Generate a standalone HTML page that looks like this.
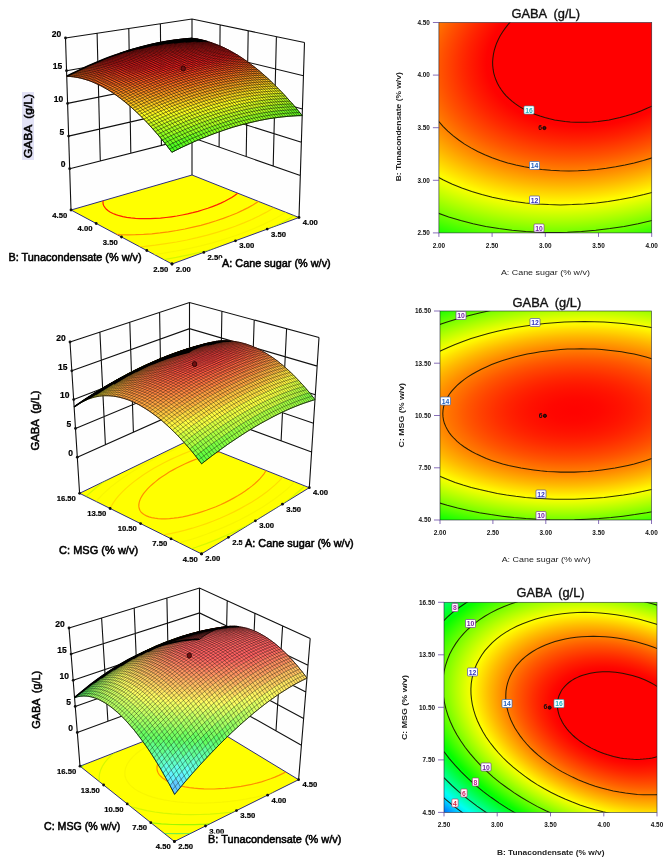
<!DOCTYPE html>
<html><head><meta charset="utf-8"><title>GABA response surfaces</title>
<style>html,body{margin:0;padding:0;background:#fff}svg{display:block}
text{font-family:"Liberation Sans",sans-serif}
.s polygon{fill:currentColor;stroke:currentColor;stroke-width:.6}</style></head>
<body><svg fill="#111" width="668" height="866" viewBox="0 0 668 866">
<defs><radialGradient id="g4" gradientUnits="userSpaceOnUse" cx="0" cy="0" r="2.9611" gradientTransform="matrix(100.2324 0.0000 17.2441 -68.2513 599.314 50.713)"><stop offset="0.0000" stop-color="#ff0000"/><stop offset="0.0208" stop-color="#ff0000"/><stop offset="0.0417" stop-color="#ff0000"/><stop offset="0.0625" stop-color="#ff0000"/><stop offset="0.0833" stop-color="#ff0000"/><stop offset="0.1042" stop-color="#ff0000"/><stop offset="0.1250" stop-color="#ff0000"/><stop offset="0.1458" stop-color="#ff0000"/><stop offset="0.1667" stop-color="#ff0000"/><stop offset="0.1875" stop-color="#ff0000"/><stop offset="0.2083" stop-color="#ff0000"/><stop offset="0.2292" stop-color="#ff0000"/><stop offset="0.2500" stop-color="#ff0000"/><stop offset="0.2708" stop-color="#ff0000"/><stop offset="0.2917" stop-color="#ff0000"/><stop offset="0.3125" stop-color="#ff0000"/><stop offset="0.3333" stop-color="#ff0000"/><stop offset="0.3542" stop-color="#ff0000"/><stop offset="0.3750" stop-color="#ff0200"/><stop offset="0.3958" stop-color="#ff0c00"/><stop offset="0.4167" stop-color="#ff1600"/><stop offset="0.4375" stop-color="#ff2000"/><stop offset="0.4583" stop-color="#ff2b00"/><stop offset="0.4792" stop-color="#ff3700"/><stop offset="0.5000" stop-color="#ff4300"/><stop offset="0.5208" stop-color="#ff4f00"/><stop offset="0.5417" stop-color="#ff5c00"/><stop offset="0.5625" stop-color="#ff6a00"/><stop offset="0.5833" stop-color="#ff7800"/><stop offset="0.6042" stop-color="#ff8600"/><stop offset="0.6250" stop-color="#ff9500"/><stop offset="0.6458" stop-color="#ffa500"/><stop offset="0.6667" stop-color="#ffb500"/><stop offset="0.6875" stop-color="#ffc600"/><stop offset="0.7083" stop-color="#ffd700"/><stop offset="0.7292" stop-color="#ffe800"/><stop offset="0.7500" stop-color="#fffa00"/><stop offset="0.7708" stop-color="#f1ff00"/><stop offset="0.7917" stop-color="#deff00"/><stop offset="0.8125" stop-color="#caff00"/><stop offset="0.8333" stop-color="#b6ff00"/><stop offset="0.8542" stop-color="#a1ff00"/><stop offset="0.8750" stop-color="#8cff00"/><stop offset="0.8958" stop-color="#76ff00"/><stop offset="0.9167" stop-color="#60ff00"/><stop offset="0.9375" stop-color="#49ff00"/><stop offset="0.9583" stop-color="#32ff00"/><stop offset="0.9792" stop-color="#1aff00"/><stop offset="1.0000" stop-color="#02ff00"/></radialGradient>
<clipPath id="c4"><rect x="438.9" y="22.5" width="212.8" height="210.4"/></clipPath>
<radialGradient id="g5" gradientUnits="userSpaceOnUse" cx="0" cy="0" r="2.7886" gradientTransform="matrix(96.3620 0.0000 5.0357 -45.2196 574.393 410.477)"><stop offset="0.0000" stop-color="#ff0300"/><stop offset="0.0208" stop-color="#ff0300"/><stop offset="0.0417" stop-color="#ff0400"/><stop offset="0.0625" stop-color="#ff0500"/><stop offset="0.0833" stop-color="#ff0600"/><stop offset="0.1042" stop-color="#ff0800"/><stop offset="0.1250" stop-color="#ff0b00"/><stop offset="0.1458" stop-color="#ff0e00"/><stop offset="0.1667" stop-color="#ff1100"/><stop offset="0.1875" stop-color="#ff1500"/><stop offset="0.2083" stop-color="#ff1900"/><stop offset="0.2292" stop-color="#ff1e00"/><stop offset="0.2500" stop-color="#ff2300"/><stop offset="0.2708" stop-color="#ff2900"/><stop offset="0.2917" stop-color="#ff2f00"/><stop offset="0.3125" stop-color="#ff3600"/><stop offset="0.3333" stop-color="#ff3d00"/><stop offset="0.3542" stop-color="#ff4400"/><stop offset="0.3750" stop-color="#ff4c00"/><stop offset="0.3958" stop-color="#ff5400"/><stop offset="0.4167" stop-color="#ff5d00"/><stop offset="0.4375" stop-color="#ff6700"/><stop offset="0.4583" stop-color="#ff7000"/><stop offset="0.4792" stop-color="#ff7a00"/><stop offset="0.5000" stop-color="#ff8500"/><stop offset="0.5208" stop-color="#ff9000"/><stop offset="0.5417" stop-color="#ff9c00"/><stop offset="0.5625" stop-color="#ffa800"/><stop offset="0.5833" stop-color="#ffb400"/><stop offset="0.6042" stop-color="#ffc100"/><stop offset="0.6250" stop-color="#ffcf00"/><stop offset="0.6458" stop-color="#ffdc00"/><stop offset="0.6667" stop-color="#ffeb00"/><stop offset="0.6875" stop-color="#fff900"/><stop offset="0.7083" stop-color="#f6ff00"/><stop offset="0.7292" stop-color="#e6ff00"/><stop offset="0.7500" stop-color="#d6ff00"/><stop offset="0.7708" stop-color="#c5ff00"/><stop offset="0.7917" stop-color="#b4ff00"/><stop offset="0.8125" stop-color="#a3ff00"/><stop offset="0.8333" stop-color="#91ff00"/><stop offset="0.8542" stop-color="#7fff00"/><stop offset="0.8750" stop-color="#6cff00"/><stop offset="0.8958" stop-color="#59ff00"/><stop offset="0.9167" stop-color="#45ff00"/><stop offset="0.9375" stop-color="#31ff00"/><stop offset="0.9583" stop-color="#1cff00"/><stop offset="0.9792" stop-color="#07ff00"/><stop offset="1.0000" stop-color="#00ff0f"/></radialGradient>
<clipPath id="c5"><rect x="440.0" y="311.0" width="211.5" height="209.0"/></clipPath>
<radialGradient id="g6" gradientUnits="userSpaceOnUse" cx="0" cy="0" r="3.8922" gradientTransform="matrix(66.0443 0.0000 -16.5039 -46.6761 621.283 715.567)"><stop offset="0.0000" stop-color="#ff0000"/><stop offset="0.0208" stop-color="#ff0000"/><stop offset="0.0417" stop-color="#ff0000"/><stop offset="0.0625" stop-color="#ff0000"/><stop offset="0.0833" stop-color="#ff0000"/><stop offset="0.1042" stop-color="#ff0000"/><stop offset="0.1250" stop-color="#ff0000"/><stop offset="0.1458" stop-color="#ff0000"/><stop offset="0.1667" stop-color="#ff0000"/><stop offset="0.1875" stop-color="#ff0000"/><stop offset="0.2083" stop-color="#ff0000"/><stop offset="0.2292" stop-color="#ff0000"/><stop offset="0.2500" stop-color="#ff0000"/><stop offset="0.2708" stop-color="#ff0900"/><stop offset="0.2917" stop-color="#ff1500"/><stop offset="0.3125" stop-color="#ff2100"/><stop offset="0.3333" stop-color="#ff2f00"/><stop offset="0.3542" stop-color="#ff3e00"/><stop offset="0.3750" stop-color="#ff4d00"/><stop offset="0.3958" stop-color="#ff5d00"/><stop offset="0.4167" stop-color="#ff6f00"/><stop offset="0.4375" stop-color="#ff8100"/><stop offset="0.4583" stop-color="#ff9400"/><stop offset="0.4792" stop-color="#ffa800"/><stop offset="0.5000" stop-color="#ffbc00"/><stop offset="0.5208" stop-color="#ffd200"/><stop offset="0.5417" stop-color="#ffe800"/><stop offset="0.5625" stop-color="#feff00"/><stop offset="0.5833" stop-color="#e6ff00"/><stop offset="0.6042" stop-color="#cdff00"/><stop offset="0.6250" stop-color="#b3ff00"/><stop offset="0.6458" stop-color="#98ff00"/><stop offset="0.6667" stop-color="#7cff00"/><stop offset="0.6875" stop-color="#5fff00"/><stop offset="0.7083" stop-color="#42ff00"/><stop offset="0.7292" stop-color="#23ff00"/><stop offset="0.7500" stop-color="#04ff00"/><stop offset="0.7708" stop-color="#00ff1c"/><stop offset="0.7917" stop-color="#00ff3d"/><stop offset="0.8125" stop-color="#00ff5f"/><stop offset="0.8333" stop-color="#00ff82"/><stop offset="0.8542" stop-color="#00ffa6"/><stop offset="0.8750" stop-color="#00ffcb"/><stop offset="0.8958" stop-color="#00fff0"/><stop offset="0.9167" stop-color="#00e8ff"/><stop offset="0.9375" stop-color="#00c0ff"/><stop offset="0.9583" stop-color="#0098ff"/><stop offset="0.9792" stop-color="#006fff"/><stop offset="1.0000" stop-color="#0045ff"/></radialGradient>
<clipPath id="c6"><rect x="444.0" y="602.3" width="213.0" height="210.1"/></clipPath></defs>
<rect width="668" height="866" fill="#ffffff"/>
<polygon points="71,210 192,175 192,19 65.5,38" fill="#fefefe"/>
<polygon points="299,217.5 192,175 192,19 304.5,42.5" fill="#fefefe"/>
<path d="M69.7,168.7 L192,137.6 L300.3,175.5 M68.6,136.1 L192,107.9 L301.4,142.3 M67.6,103.4 L192,78.3 L302.4,109 M66.5,70.7 L192,48.6 L303.5,75.8 M65.5,38 L192,19 L304.5,42.5 M65.5,38 L71,210 M304.5,42.5 L299,217.5 M97.1,33.2 L100.3,161 M276.4,36.6 L273.2,166 M128.8,28.5 L130.8,153.2 M248.2,30.8 L246.2,156.6 M160.4,23.8 L161.4,145.4 M220.1,24.9 L219.1,147.1 M192,19 L192,175" fill="none" stroke="#101010" stroke-width="1.1"/>
<clipPath id="f1"><polygon points="172,264 299,217.5 192,175 71,210"/></clipPath>
<polygon points="172,264 299,217.5 192,175 71,210" fill="#ffff00" stroke="#15157a" stroke-width="0.9"/>
<g clip-path="url(#f1)" fill="none" stroke-width="1.2">
<polyline points="216,163.3 212.2,163 208.2,162.9 204.1,162.8 199.8,162.8 195.5,163 191.1,163.3 186.6,163.6 182,164.1 177.4,164.7 172.8,165.5 168.2,166.3 163.6,167.2 159,168.2 154.5,169.4 150,170.6 145.7,171.9 141.4,173.3 137.3,174.8 133.3,176.3 129.4,178 125.8,179.7 122.4,181.4 119.1,183.3 116.2,185.1 113.4,187 111,188.9 108.9,190.9 107,192.9 105.5,194.8 104.3,196.8 103.5,198.7 103,200.6 103,202.5 103.2,204.3 103.9,206 105,207.7 106.4,209.3 108.2,210.8 110.4,212.2 113,213.5 115.9,214.6 119.2,215.7 122.8,216.6 126.7,217.3 130.9,217.9 135.4,218.3 140,218.6 144.9,218.7 150,218.6 155.2,218.4 160.5,218.1 165.9,217.5 171.4,216.8 176.8,216 182.2,215 187.6,213.9 192.8,212.7 198,211.3 203,209.8 207.8,208.3 212.4,206.6 216.8,204.9 220.9,203.1 224.8,201.2 228.4,199.3 231.7,197.4 234.7,195.4 237.3,193.5 239.6,191.5 241.6,189.5 243.3,187.6 244.6,185.7 245.5,183.8 246.2,182 246.5,180.2 246.4,178.4 246.1,176.8 245.4,175.2 244.4,173.7" stroke="#ff2000"/>
<polyline points="84.4,186.4 80.6,189.3 77.1,192.1 74.1,195 71.6,197.9 69.6,200.8 68,203.7 67,206.6 66.6,209.4 66.7,212.2 67.4,214.9 68.7,217.5 70.6,220 73.1,222.3 76.2,224.5 79.9,226.5 84.2,228.3 89,230 94.4,231.4 100.2,232.5 106.5,233.5 113.3,234.2 120.4,234.6 127.9,234.8 135.6,234.7 143.6,234.4 151.8,233.8 160,232.9 168.3,231.8 176.6,230.5 184.9,229 193,227.2 200.9,225.3 208.7,223.1 216.2,220.8 223.3,218.4 230.2,215.8 236.6,213.2 242.6,210.4 248.2,207.6 253.3,204.7 258,201.8 262.1,198.9 265.8,195.9 269,193 271.6,190.1 273.7,187.3" stroke="#ff9000"/>
<polyline points="49.8,196.6 46.4,200.2 43.6,203.9 41.4,207.5 39.8,211.1 39,214.7 38.8,218.2 39.4,221.7 40.8,225 42.9,228.2 45.9,231.2 49.6,234.1 54,236.7 59.3,239.1 65.2,241.2 71.9,243 79.3,244.6 87.3,245.8 95.8,246.8 104.9,247.4 114.4,247.6 124.2,247.5 134.4,247 144.8,246.3 155.3,245.2 165.9,243.7 176.5,242 186.9,240 197.2,237.7 207.3,235.1 217,232.3 226.4,229.4 235.3,226.2 243.8,222.9 251.8,219.5 259.1,216 266,212.4 272.2,208.8 277.7,205.1 282.7,201.4 287,197.8 290.7,194.1" stroke="#ffc000" stroke-opacity="0.55"/>
<polyline points="27.4,202 23.9,206.2 21.1,210.4 19.1,214.6" stroke="#f2ee00" stroke-opacity="0.55"/>
<polyline points="92.5,257.4 103.6,257.7 115.2,257.6 127.1,257.1 139.3,256.1 151.6,254.8 164,253.1 176.4,251 188.6,248.6 200.6,245.9 212.3,242.8 223.5,239.5 234.4,236 244.7,232.3 254.4,228.4 263.4,224.4 271.8,220.3 279.5,216.1 286.5,211.9 292.7,207.6 298.2,203.3 302.9,199.1" stroke="#f2ee00" stroke-opacity="0.55"/>
<polyline points="108.7,264.8 121.9,264.3 135.4,263.2 149,261.7 162.7,259.8 176.3,257.4 189.8,254.7 202.9,251.7 215.8,248.3 228.1,244.6 240,240.7 251.2,236.6 261.8,232.3 271.6,227.8 280.7,223.3 289,218.7 296.5,214 303.1,209.3 308.9,204.7 313.9,200.1" stroke="#b4f000" stroke-opacity="0.55"/>
</g>
<g class="s">
<polygon color="#ff1f1f" points="191.4,39.2 195.9,38.9 192,38.4 187.5,38.8"/>
<polygon color="#ff1f1f" points="186.8,39.7 191.4,39.2 187.5,38.8 182.9,39.2"/>
<polygon color="#ff1f1f" points="195.3,39.9 199.9,39.6 195.9,38.9 191.4,39.2"/>
<polygon color="#ff1f1f" points="182.2,40.2 186.8,39.7 182.9,39.2 178.3,39.7"/>
<polygon color="#ff1f1f" points="190.7,40.3 195.3,39.9 191.4,39.2 186.8,39.7"/>
<polygon color="#ff1f1f" points="199.3,40.8 203.9,40.5 199.9,39.6 195.3,39.9"/>
<polygon color="#ff1f1f" points="177.5,40.8 182.2,40.2 178.3,39.7 173.6,40.3"/>
<polygon color="#ff1f1f" points="186.1,40.8 190.7,40.3 186.8,39.7 182.2,40.2"/>
<polygon color="#ff1f1f" points="194.7,41.2 199.3,40.8 195.3,39.9 190.7,40.3"/>
<polygon color="#ff1f1f" points="203.4,41.9 207.9,41.6 203.9,40.5 199.3,40.8"/>
<polygon color="#ff1f1f" points="172.8,41.5 177.5,40.8 173.6,40.3 168.9,41"/>
<polygon color="#ff1f1f" points="181.4,41.4 186.1,40.8 182.2,40.2 177.5,40.8"/>
<polygon color="#ff1f1f" points="190.1,41.7 194.7,41.2 190.7,40.3 186.1,40.8"/>
<polygon color="#ff1f1f" points="198.8,42.3 203.4,41.9 199.3,40.8 194.7,41.2"/>
<polygon color="#ff1f1f" points="207.4,43.2 212,42.9 207.9,41.6 203.4,41.9"/>
<polygon color="#ff1f1f" points="168.1,42.2 172.8,41.5 168.9,41 164.2,41.8"/>
<polygon color="#ff1f1f" points="176.7,42.1 181.4,41.4 177.5,40.8 172.8,41.5"/>
<polygon color="#ff1f1f" points="185.4,42.2 190.1,41.7 186.1,40.8 181.4,41.4"/>
<polygon color="#ff1f1f" points="194.1,42.7 198.8,42.3 194.7,41.2 190.1,41.7"/>
<polygon color="#ff1f1f" points="202.8,43.5 207.4,43.2 203.4,41.9 198.8,42.3"/>
<polygon color="#ff1f1f" points="211.6,44.7 216.1,44.4 212,42.9 207.4,43.2"/>
<polygon color="#ff1f1f" points="163.3,43.1 168.1,42.2 164.2,41.8 159.4,42.7"/>
<polygon color="#ff1f1f" points="172,42.8 176.7,42.1 172.8,41.5 168.1,42.2"/>
<polygon color="#ff1f1f" points="180.7,42.9 185.4,42.2 181.4,41.4 176.7,42.1"/>
<polygon color="#ff1f1f" points="189.4,43.3 194.1,42.7 190.1,41.7 185.4,42.2"/>
<polygon color="#ff1f1f" points="198.2,44 202.8,43.5 198.8,42.3 194.1,42.7"/>
<polygon color="#ff1f1f" points="206.9,45 211.6,44.7 207.4,43.2 202.8,43.5"/>
<polygon color="#ff1f1f" points="215.7,46.3 220.3,46.1 216.1,44.4 211.6,44.7"/>
<polygon color="#ff1f1f" points="158.5,44.1 163.3,43.1 159.4,42.7 154.6,43.7"/>
<polygon color="#ff1f1f" points="167.2,43.7 172,42.8 168.1,42.2 163.3,43.1"/>
<polygon color="#ff1f1f" points="175.9,43.7 180.7,42.9 176.7,42.1 172,42.8"/>
<polygon color="#ff1f1f" points="184.7,43.9 189.4,43.3 185.4,42.2 180.7,42.9"/>
<polygon color="#ff1f1f" points="193.5,44.5 198.2,44 194.1,42.7 189.4,43.3"/>
<polygon color="#ff1f1f" points="202.3,45.4 206.9,45 202.8,43.5 198.2,44"/>
<polygon color="#ff1f1f" points="211.1,46.7 215.7,46.3 211.6,44.7 206.9,45"/>
<polygon color="#ff1f1f" points="219.9,48.2 224.5,48 220.3,46.1 215.7,46.3"/>
<polygon color="#ff1f1f" points="153.6,45.2 158.5,44.1 154.6,43.7 149.8,44.8"/>
<polygon color="#ff1f1f" points="162.4,44.7 167.2,43.7 163.3,43.1 158.5,44.1"/>
<polygon color="#ff1f1f" points="171.1,44.5 175.9,43.7 172,42.8 167.2,43.7"/>
<polygon color="#ff1f1f" points="179.9,44.7 184.7,43.9 180.7,42.9 175.9,43.7"/>
<polygon color="#ff1f1f" points="188.7,45.1 193.5,44.5 189.4,43.3 184.7,43.9"/>
<polygon color="#ff1f1f" points="197.6,46 202.3,45.4 198.2,44 193.5,44.5"/>
<polygon color="#ff1f1f" points="206.4,47.1 211.1,46.7 206.9,45 202.3,45.4"/>
<polygon color="#ff1f1f" points="215.3,48.6 219.9,48.2 215.7,46.3 211.1,46.7"/>
<polygon color="#ff1f1f" points="224.2,50.4 228.7,50.1 224.5,48 219.9,48.2"/>
<polygon color="#ff1f1f" points="148.7,46.3 153.6,45.2 149.8,44.8 144.9,46"/>
<polygon color="#ff1f1f" points="157.5,45.7 162.4,44.7 158.5,44.1 153.6,45.2"/>
<polygon color="#ff1f1f" points="166.3,45.4 171.1,44.5 167.2,43.7 162.4,44.7"/>
<polygon color="#ff1f1f" points="175.1,45.5 179.9,44.7 175.9,43.7 171.1,44.5"/>
<polygon color="#ff1f1f" points="184,45.9 188.7,45.1 184.7,43.9 179.9,44.7"/>
<polygon color="#ff1f1f" points="192.8,46.6 197.6,46 193.5,44.5 188.7,45.1"/>
<polygon color="#ff1f1f" points="201.7,47.6 206.4,47.1 202.3,45.4 197.6,46"/>
<polygon color="#ff1f1f" points="210.6,49 215.3,48.6 211.1,46.7 206.4,47.1"/>
<polygon color="#ff1f1f" points="219.5,50.7 224.2,50.4 219.9,48.2 215.3,48.6"/>
<polygon color="#ff1f1f" points="228.4,52.7 233,52.5 228.7,50.1 224.2,50.4"/>
<polygon color="#ff1f1f" points="143.8,47.6 148.7,46.3 144.9,46 140,47.3"/>
<polygon color="#ff1f1f" points="152.6,46.9 157.5,45.7 153.6,45.2 148.7,46.3"/>
<polygon color="#ff1f1f" points="161.4,46.5 166.3,45.4 162.4,44.7 157.5,45.7"/>
<polygon color="#ff1f1f" points="170.3,46.4 175.1,45.5 171.1,44.5 166.3,45.4"/>
<polygon color="#ff1f1f" points="179.2,46.7 184,45.9 179.9,44.7 175.1,45.5"/>
<polygon color="#ff1f1f" points="188.1,47.3 192.8,46.6 188.7,45.1 184,45.9"/>
<polygon color="#ff1f1f" points="197,48.2 201.7,47.6 197.6,46 192.8,46.6"/>
<polygon color="#ff1f1f" points="205.9,49.5 210.6,49 206.4,47.1 201.7,47.6"/>
<polygon color="#ff1f1f" points="214.9,51.1 219.5,50.7 215.3,48.6 210.6,49"/>
<polygon color="#ff1f1f" points="223.8,53 228.4,52.7 224.2,50.4 219.5,50.7"/>
<polygon color="#ff1f1f" points="232.8,55.2 237.4,55 233,52.5 228.4,52.7"/>
<polygon color="#ff1f1f" points="138.8,49 143.8,47.6 140,47.3 135,48.7"/>
<polygon color="#ff1f1f" points="147.6,48.1 152.6,46.9 148.7,46.3 143.8,47.6"/>
<polygon color="#ff1f1f" points="156.5,47.6 161.4,46.5 157.5,45.7 152.6,46.9"/>
<polygon color="#ff1f1f" points="165.4,47.5 170.3,46.4 166.3,45.4 161.4,46.5"/>
<polygon color="#ff1f1f" points="174.3,47.6 179.2,46.7 175.1,45.5 170.3,46.4"/>
<polygon color="#ff1f1f" points="183.2,48.1 188.1,47.3 184,45.9 179.2,46.7"/>
<polygon color="#ff1f1f" points="192.2,48.9 197,48.2 192.8,46.6 188.1,47.3"/>
<polygon color="#ff1f1f" points="201.2,50.1 205.9,49.5 201.7,47.6 197,48.2"/>
<polygon color="#ff1f1f" points="210.1,51.6 214.9,51.1 210.6,49 205.9,49.5"/>
<polygon color="#ff1f1f" points="219.1,53.4 223.8,53 219.5,50.7 214.9,51.1"/>
<polygon color="#ff1f1f" points="228.1,55.5 232.8,55.2 228.4,52.7 223.8,53"/>
<polygon color="#ff2d1f" points="237.1,58 241.7,57.8 237.4,55 232.8,55.2"/>
<polygon color="#ff1f1f" points="133.8,50.5 138.8,49 135,48.7 130,50.1"/>
<polygon color="#ff1f1f" points="142.6,49.5 147.6,48.1 143.8,47.6 138.8,49"/>
<polygon color="#ff1f1f" points="151.5,48.9 156.5,47.6 152.6,46.9 147.6,48.1"/>
<polygon color="#ff1f1f" points="160.5,48.6 165.4,47.5 161.4,46.5 156.5,47.6"/>
<polygon color="#ff1f1f" points="169.4,48.6 174.3,47.6 170.3,46.4 165.4,47.5"/>
<polygon color="#ff1f1f" points="178.4,49 183.2,48.1 179.2,46.7 174.3,47.6"/>
<polygon color="#ff1f1f" points="187.4,49.7 192.2,48.9 188.1,47.3 183.2,48.1"/>
<polygon color="#ff1f1f" points="196.4,50.8 201.2,50.1 197,48.2 192.2,48.9"/>
<polygon color="#ff1f1f" points="205.4,52.1 210.1,51.6 205.9,49.5 201.2,50.1"/>
<polygon color="#ff1f1f" points="214.4,53.9 219.1,53.4 214.9,51.1 210.1,51.6"/>
<polygon color="#ff1f1f" points="223.4,55.9 228.1,55.5 223.8,53 219.1,53.4"/>
<polygon color="#ff271f" points="232.5,58.3 237.1,58 232.8,55.2 228.1,55.5"/>
<polygon color="#ff3e1f" points="241.5,61 246.1,60.8 241.7,57.8 237.1,58"/>
<polygon color="#ff1f1f" points="128.7,52 133.8,50.5 130,50.1 124.9,51.7"/>
<polygon color="#ff1f1f" points="137.6,51 142.6,49.5 138.8,49 133.8,50.5"/>
<polygon color="#ff1f1f" points="146.5,50.2 151.5,48.9 147.6,48.1 142.6,49.5"/>
<polygon color="#ff1f1f" points="155.5,49.8 160.5,48.6 156.5,47.6 151.5,48.9"/>
<polygon color="#ff1f1f" points="164.5,49.8 169.4,48.6 165.4,47.5 160.5,48.6"/>
<polygon color="#ff1f1f" points="173.5,50 178.4,49 174.3,47.6 169.4,48.6"/>
<polygon color="#ff1f1f" points="182.5,50.6 187.4,49.7 183.2,48.1 178.4,49"/>
<polygon color="#ff1f1f" points="191.5,51.6 196.4,50.8 192.2,48.9 187.4,49.7"/>
<polygon color="#ff1f1f" points="200.6,52.8 205.4,52.1 201.2,50.1 196.4,50.8"/>
<polygon color="#ff1f1f" points="209.6,54.4 214.4,53.9 210.1,51.6 205.4,52.1"/>
<polygon color="#ff1f1f" points="218.7,56.4 223.4,55.9 219.1,53.4 214.4,53.9"/>
<polygon color="#ff211f" points="227.8,58.7 232.5,58.3 228.1,55.5 223.4,55.9"/>
<polygon color="#ff381f" points="236.9,61.3 241.5,61 237.1,58 232.5,58.3"/>
<polygon color="#ff511f" points="246,64.2 250.6,64.1 246.1,60.8 241.5,61"/>
<polygon color="#ff1f1f" points="123.6,53.7 128.7,52 124.9,51.7 119.9,53.4"/>
<polygon color="#ff1f1f" points="132.5,52.5 137.6,51 133.8,50.5 128.7,52"/>
<polygon color="#ff1f1f" points="141.5,51.7 146.5,50.2 142.6,49.5 137.6,51"/>
<polygon color="#ff1f1f" points="150.5,51.2 155.5,49.8 151.5,48.9 146.5,50.2"/>
<polygon color="#ff1f1f" points="159.5,51 164.5,49.8 160.5,48.6 155.5,49.8"/>
<polygon color="#ff1f1f" points="168.5,51.1 173.5,50 169.4,48.6 164.5,49.8"/>
<polygon color="#ff1f1f" points="177.6,51.6 182.5,50.6 178.4,49 173.5,50"/>
<polygon color="#ff1f1f" points="186.6,52.4 191.5,51.6 187.4,49.7 182.5,50.6"/>
<polygon color="#ff1f1f" points="195.7,53.6 200.6,52.8 196.4,50.8 191.5,51.6"/>
<polygon color="#ff1f1f" points="204.8,55.1 209.6,54.4 205.4,52.1 200.6,52.8"/>
<polygon color="#ff1f1f" points="213.9,56.9 218.7,56.4 214.4,53.9 209.6,54.4"/>
<polygon color="#ff1f1f" points="223.1,59.1 227.8,58.7 223.4,55.9 218.7,56.4"/>
<polygon color="#ff321f" points="232.2,61.6 236.9,61.3 232.5,58.3 227.8,58.7"/>
<polygon color="#ff4b1f" points="241.3,64.5 246,64.2 241.5,61 236.9,61.3"/>
<polygon color="#ff661f" points="250.5,67.7 255.1,67.5 250.6,64.1 246,64.2"/>
<polygon color="#ff1f1f" points="118.5,55.5 123.6,53.7 119.9,53.4 114.7,55.2"/>
<polygon color="#ff1f1f" points="127.4,54.2 132.5,52.5 128.7,52 123.6,53.7"/>
<polygon color="#ff1f1f" points="136.4,53.2 141.5,51.7 137.6,51 132.5,52.5"/>
<polygon color="#ff1f1f" points="145.4,52.6 150.5,51.2 146.5,50.2 141.5,51.7"/>
<polygon color="#ff1f1f" points="154.5,52.3 159.5,51 155.5,49.8 150.5,51.2"/>
<polygon color="#ff1f1f" points="163.5,52.3 168.5,51.1 164.5,49.8 159.5,51"/>
<polygon color="#ff1f1f" points="172.6,52.7 177.6,51.6 173.5,50 168.5,51.1"/>
<polygon color="#ff1f1f" points="181.7,53.4 186.6,52.4 182.5,50.6 177.6,51.6"/>
<polygon color="#ff1f1f" points="190.8,54.5 195.7,53.6 191.5,51.6 186.6,52.4"/>
<polygon color="#ff1f1f" points="200,55.9 204.8,55.1 200.6,52.8 195.7,53.6"/>
<polygon color="#ff1f1f" points="209.1,57.6 213.9,56.9 209.6,54.4 204.8,55.1"/>
<polygon color="#ff1f1f" points="218.3,59.7 223.1,59.1 218.7,56.4 213.9,56.9"/>
<polygon color="#ff2e1f" points="227.5,62.1 232.2,61.6 227.8,58.7 223.1,59.1"/>
<polygon color="#ff451f" points="236.6,64.8 241.3,64.5 236.9,61.3 232.2,61.6"/>
<polygon color="#ff5f1f" points="245.8,67.9 250.5,67.7 246,64.2 241.3,64.5"/>
<polygon color="#ff7d1f" points="255,71.4 259.6,71.2 255.1,67.5 250.5,67.7"/>
<polygon color="#ff1f1f" points="113.3,57.4 118.5,55.5 114.7,55.2 109.6,57.1"/>
<polygon color="#ff1f1f" points="122.3,56 127.4,54.2 123.6,53.7 118.5,55.5"/>
<polygon color="#ff1f1f" points="131.3,54.9 136.4,53.2 132.5,52.5 127.4,54.2"/>
<polygon color="#ff1f1f" points="140.3,54.1 145.4,52.6 141.5,51.7 136.4,53.2"/>
<polygon color="#ff1f1f" points="149.4,53.7 154.5,52.3 150.5,51.2 145.4,52.6"/>
<polygon color="#ff1f1f" points="158.5,53.7 163.5,52.3 159.5,51 154.5,52.3"/>
<polygon color="#ff1f1f" points="167.6,53.9 172.6,52.7 168.5,51.1 163.5,52.3"/>
<polygon color="#ff1f1f" points="176.7,54.5 181.7,53.4 177.6,51.6 172.6,52.7"/>
<polygon color="#ff1f1f" points="185.9,55.5 190.8,54.5 186.6,52.4 181.7,53.4"/>
<polygon color="#ff1f1f" points="195.1,56.7 200,55.9 195.7,53.6 190.8,54.5"/>
<polygon color="#ff1f1f" points="204.3,58.4 209.1,57.6 204.8,55.1 200,55.9"/>
<polygon color="#ff1f1f" points="213.5,60.3 218.3,59.7 213.9,56.9 209.1,57.6"/>
<polygon color="#ff2a1f" points="222.7,62.6 227.5,62.1 223.1,59.1 218.3,59.7"/>
<polygon color="#ff401f" points="231.9,65.3 236.6,64.8 232.2,61.6 227.5,62.1"/>
<polygon color="#ff591f" points="241.1,68.3 245.8,67.9 241.3,64.5 236.6,64.8"/>
<polygon color="#ff761f" points="250.4,71.6 255,71.4 250.5,67.7 245.8,67.9"/>
<polygon color="#ff951f" points="259.6,75.3 264.2,75.2 259.6,71.2 255,71.4"/>
<polygon color="#ff1f1f" points="108.1,59.4 113.3,57.4 109.6,57.1 104.4,59.1"/>
<polygon color="#ff1f1f" points="117.1,57.8 122.3,56 118.5,55.5 113.3,57.4"/>
<polygon color="#ff1f1f" points="126.1,56.6 131.3,54.9 127.4,54.2 122.3,56"/>
<polygon color="#ff1f1f" points="135.2,55.8 140.3,54.1 136.4,53.2 131.3,54.9"/>
<polygon color="#ff1f1f" points="144.3,55.3 149.4,53.7 145.4,52.6 140.3,54.1"/>
<polygon color="#ff1f1f" points="153.4,55.1 158.5,53.7 154.5,52.3 149.4,53.7"/>
<polygon color="#ff1f1f" points="162.6,55.2 167.6,53.9 163.5,52.3 158.5,53.7"/>
<polygon color="#ff1f1f" points="171.7,55.7 176.7,54.5 172.6,52.7 167.6,53.9"/>
<polygon color="#ff1f1f" points="180.9,56.5 185.9,55.5 181.7,53.4 176.7,54.5"/>
<polygon color="#ff1f1f" points="190.1,57.7 195.1,56.7 190.8,54.5 185.9,55.5"/>
<polygon color="#ff1f1f" points="199.4,59.2 204.3,58.4 200,55.9 195.1,56.7"/>
<polygon color="#ff1f1f" points="208.6,61.1 213.5,60.3 209.1,57.6 204.3,58.4"/>
<polygon color="#ff271f" points="217.9,63.3 222.7,62.6 218.3,59.7 213.5,60.3"/>
<polygon color="#ff3c1f" points="227.1,65.8 231.9,65.3 227.5,62.1 222.7,62.6"/>
<polygon color="#ff541f" points="236.4,68.7 241.1,68.3 236.6,64.8 231.9,65.3"/>
<polygon color="#ff701f" points="245.7,72 250.4,71.6 245.8,67.9 241.1,68.3"/>
<polygon color="#ff8e1f" points="254.9,75.5 259.6,75.3 255,71.4 250.4,71.6"/>
<polygon color="#ffb01f" points="264.2,79.5 268.8,79.3 264.2,75.2 259.6,75.3"/>
<polygon color="#ff281f" points="102.8,61.5 108.1,59.4 104.4,59.1 99.1,61.3"/>
<polygon color="#ff1f1f" points="111.8,59.8 117.1,57.8 113.3,57.4 108.1,59.4"/>
<polygon color="#ff1f1f" points="120.9,58.5 126.1,56.6 122.3,56 117.1,57.8"/>
<polygon color="#ff1f1f" points="130,57.5 135.2,55.8 131.3,54.9 126.1,56.6"/>
<polygon color="#ff1f1f" points="139.1,56.9 144.3,55.3 140.3,54.1 135.2,55.8"/>
<polygon color="#ff1f1f" points="148.3,56.6 153.4,55.1 149.4,53.7 144.3,55.3"/>
<polygon color="#ff1f1f" points="157.5,56.6 162.6,55.2 158.5,53.7 153.4,55.1"/>
<polygon color="#ff1f1f" points="166.7,57 171.7,55.7 167.6,53.9 162.6,55.2"/>
<polygon color="#ff1f1f" points="175.9,57.7 180.9,56.5 176.7,54.5 171.7,55.7"/>
<polygon color="#ff1f1f" points="185.2,58.8 190.1,57.7 185.9,55.5 180.9,56.5"/>
<polygon color="#ff1f1f" points="194.4,60.2 199.4,59.2 195.1,56.7 190.1,57.7"/>
<polygon color="#ff1f1f" points="203.7,61.9 208.6,61.1 204.3,58.4 199.4,59.2"/>
<polygon color="#ff251f" points="213,64 217.9,63.3 213.5,60.3 208.6,61.1"/>
<polygon color="#ff391f" points="222.3,66.5 227.1,65.8 222.7,62.6 217.9,63.3"/>
<polygon color="#ff501f" points="231.6,69.3 236.4,68.7 231.9,65.3 227.1,65.8"/>
<polygon color="#ff6a1f" points="240.9,72.4 245.7,72 241.1,68.3 236.4,68.7"/>
<polygon color="#ff881f" points="250.2,75.9 254.9,75.5 250.4,71.6 245.7,72"/>
<polygon color="#ffa81f" points="259.5,79.7 264.2,79.5 259.6,75.3 254.9,75.5"/>
<polygon color="#ffcc1f" points="268.8,83.9 273.4,83.7 268.8,79.3 264.2,79.5"/>
<polygon color="#ff341f" points="97.5,63.7 102.8,61.5 99.1,61.3 93.8,63.5"/>
<polygon color="#ff211f" points="106.5,61.9 111.8,59.8 108.1,59.4 102.8,61.5"/>
<polygon color="#ff1f1f" points="115.6,60.5 120.9,58.5 117.1,57.8 111.8,59.8"/>
<polygon color="#ff1f1f" points="124.8,59.4 130,57.5 126.1,56.6 120.9,58.5"/>
<polygon color="#ff1f1f" points="133.9,58.6 139.1,56.9 135.2,55.8 130,57.5"/>
<polygon color="#ff1f1f" points="143.1,58.2 148.3,56.6 144.3,55.3 139.1,56.9"/>
<polygon color="#ff1f1f" points="152.3,58.1 157.5,56.6 153.4,55.1 148.3,56.6"/>
<polygon color="#ff1f1f" points="161.6,58.4 166.7,57 162.6,55.2 157.5,56.6"/>
<polygon color="#ff1f1f" points="170.9,59 175.9,57.7 171.7,55.7 166.7,57"/>
<polygon color="#ff1f1f" points="180.1,60 185.2,58.8 180.9,56.5 175.9,57.7"/>
<polygon color="#ff1f1f" points="189.4,61.3 194.4,60.2 190.1,57.7 185.2,58.8"/>
<polygon color="#ff1f1f" points="198.8,62.9 203.7,61.9 199.4,59.2 194.4,60.2"/>
<polygon color="#ff241f" points="208.1,64.9 213,64 208.6,61.1 203.7,61.9"/>
<polygon color="#ff371f" points="217.4,67.2 222.3,66.5 217.9,63.3 213,64"/>
<polygon color="#ff4d1f" points="226.8,69.9 231.6,69.3 227.1,65.8 222.3,66.5"/>
<polygon color="#ff661f" points="236.1,72.9 240.9,72.4 236.4,68.7 231.6,69.3"/>
<polygon color="#ff821f" points="245.5,76.3 250.2,75.9 245.7,72 240.9,72.4"/>
<polygon color="#ffa21f" points="254.8,80 259.5,79.7 254.9,75.5 250.2,75.9"/>
<polygon color="#ffc41f" points="264.2,84.1 268.8,83.9 264.2,79.5 259.5,79.7"/>
<polygon color="#ffea1f" points="273.5,88.5 278.1,88.4 273.4,83.7 268.8,83.9"/>
<polygon color="#ff401f" points="92.1,66 97.5,63.7 93.8,63.5 88.5,65.8"/>
<polygon color="#ff2c1f" points="101.2,64.1 106.5,61.9 102.8,61.5 97.5,63.7"/>
<polygon color="#ff1f1f" points="110.3,62.6 115.6,60.5 111.8,59.8 106.5,61.9"/>
<polygon color="#ff1f1f" points="119.5,61.4 124.8,59.4 120.9,58.5 115.6,60.5"/>
<polygon color="#ff1f1f" points="128.7,60.5 133.9,58.6 130,57.5 124.8,59.4"/>
<polygon color="#ff1f1f" points="137.9,60 143.1,58.2 139.1,56.9 133.9,58.6"/>
<polygon color="#ff1f1f" points="147.2,59.8 152.3,58.1 148.3,56.6 143.1,58.2"/>
<polygon color="#ff1f1f" points="156.4,59.9 161.6,58.4 157.5,56.6 152.3,58.1"/>
<polygon color="#ff1f1f" points="165.7,60.4 170.9,59 166.7,57 161.6,58.4"/>
<polygon color="#ff1f1f" points="175.1,61.2 180.1,60 175.9,57.7 170.9,59"/>
<polygon color="#ff1f1f" points="184.4,62.4 189.4,61.3 185.2,58.8 180.1,60"/>
<polygon color="#ff1f1f" points="193.8,64 198.8,62.9 194.4,60.2 189.4,61.3"/>
<polygon color="#ff231f" points="203.1,65.8 208.1,64.9 203.7,61.9 198.8,62.9"/>
<polygon color="#ff351f" points="212.5,68.1 217.4,67.2 213,64 208.1,64.9"/>
<polygon color="#ff4a1f" points="221.9,70.6 226.8,69.9 222.3,66.5 217.4,67.2"/>
<polygon color="#ff621f" points="231.3,73.6 236.1,72.9 231.6,69.3 226.8,69.9"/>
<polygon color="#ff7e1f" points="240.7,76.9 245.5,76.3 240.9,72.4 236.1,72.9"/>
<polygon color="#ff9c1f" points="250.1,80.5 254.8,80 250.2,75.9 245.5,76.3"/>
<polygon color="#ffbe1f" points="259.5,84.5 264.2,84.1 259.5,79.7 254.8,80"/>
<polygon color="#ffe21f" points="268.9,88.8 273.5,88.5 268.8,83.9 264.2,84.1"/>
<polygon color="#f4ff1f" points="278.3,93.5 282.9,93.3 278.1,88.4 273.5,88.5"/>
<polygon color="#ff4d1f" points="86.8,68.5 92.1,66 88.5,65.8 83.1,68.3"/>
<polygon color="#ff391f" points="95.9,66.5 101.2,64.1 97.5,63.7 92.1,66"/>
<polygon color="#ff271f" points="105,64.8 110.3,62.6 106.5,61.9 101.2,64.1"/>
<polygon color="#ff1f1f" points="114.2,63.4 119.5,61.4 115.6,60.5 110.3,62.6"/>
<polygon color="#ff1f1f" points="123.4,62.4 128.7,60.5 124.8,59.4 119.5,61.4"/>
<polygon color="#ff1f1f" points="132.7,61.8 137.9,60 133.9,58.6 128.7,60.5"/>
<polygon color="#ff1f1f" points="141.9,61.5 147.2,59.8 143.1,58.2 137.9,60"/>
<polygon color="#ff1f1f" points="151.3,61.5 156.4,59.9 152.3,58.1 147.2,59.8"/>
<polygon color="#ff1f1f" points="160.6,61.9 165.7,60.4 161.6,58.4 156.4,59.9"/>
<polygon color="#ff1f1f" points="169.9,62.6 175.1,61.2 170.9,59 165.7,60.4"/>
<polygon color="#ff1f1f" points="179.3,63.7 184.4,62.4 180.1,60 175.1,61.2"/>
<polygon color="#ff1f1f" points="188.7,65.1 193.8,64 189.4,61.3 184.4,62.4"/>
<polygon color="#ff241f" points="198.1,66.9 203.1,65.8 198.8,62.9 193.8,64"/>
<polygon color="#ff351f" points="207.5,69 212.5,68.1 208.1,64.9 203.1,65.8"/>
<polygon color="#ff491f" points="217,71.5 221.9,70.6 217.4,67.2 212.5,68.1"/>
<polygon color="#ff601f" points="226.4,74.3 231.3,73.6 226.8,69.9 221.9,70.6"/>
<polygon color="#ff7a1f" points="235.9,77.5 240.7,76.9 236.1,72.9 231.3,73.6"/>
<polygon color="#ff971f" points="245.3,81 250.1,80.5 245.5,76.3 240.7,76.9"/>
<polygon color="#ffb81f" points="254.7,84.9 259.5,84.5 254.8,80 250.1,80.5"/>
<polygon color="#ffdb1f" points="264.2,89.1 268.9,88.8 264.2,84.1 259.5,84.5"/>
<polygon color="#fcff1f" points="273.6,93.7 278.3,93.5 273.5,88.5 268.9,88.8"/>
<polygon color="#d2ff1f" points="283,98.6 287.6,98.5 282.9,93.3 278.3,93.5"/>
<polygon color="#ff5b1f" points="81.3,71 86.8,68.5 83.1,68.3 77.7,70.9"/>
<polygon color="#ff461f" points="90.4,68.9 95.9,66.5 92.1,66 86.8,68.5"/>
<polygon color="#ff331f" points="99.6,67.1 105,64.8 101.2,64.1 95.9,66.5"/>
<polygon color="#ff241f" points="108.8,65.6 114.2,63.4 110.3,62.6 105,64.8"/>
<polygon color="#ff1f1f" points="118.1,64.5 123.4,62.4 119.5,61.4 114.2,63.4"/>
<polygon color="#ff1f1f" points="127.4,63.8 132.7,61.8 128.7,60.5 123.4,62.4"/>
<polygon color="#ff1f1f" points="136.7,63.3 141.9,61.5 137.9,60 132.7,61.8"/>
<polygon color="#ff1f1f" points="146,63.2 151.3,61.5 147.2,59.8 141.9,61.5"/>
<polygon color="#ff1f1f" points="155.4,63.5 160.6,61.9 156.4,59.9 151.3,61.5"/>
<polygon color="#ff1f1f" points="164.8,64.1 169.9,62.6 165.7,60.4 160.6,61.9"/>
<polygon color="#ff1f1f" points="174.2,65.1 179.3,63.7 175.1,61.2 169.9,62.6"/>
<polygon color="#ff1f1f" points="183.6,66.4 188.7,65.1 184.4,62.4 179.3,63.7"/>
<polygon color="#ff251f" points="193.1,68.1 198.1,66.9 193.8,64 188.7,65.1"/>
<polygon color="#ff351f" points="202.5,70.1 207.5,69 203.1,65.8 198.1,66.9"/>
<polygon color="#ff481f" points="212,72.4 217,71.5 212.5,68.1 207.5,69"/>
<polygon color="#ff5e1f" points="221.5,75.2 226.4,74.3 221.9,70.6 217,71.5"/>
<polygon color="#ff771f" points="231,78.2 235.9,77.5 231.3,73.6 226.4,74.3"/>
<polygon color="#ff931f" points="240.5,81.6 245.3,81 240.7,76.9 235.9,77.5"/>
<polygon color="#ffb31f" points="250,85.4 254.7,84.9 250.1,80.5 245.3,81"/>
<polygon color="#ffd51f" points="259.4,89.5 264.2,89.1 259.5,84.5 254.7,84.9"/>
<polygon color="#fffb1f" points="268.9,94 273.6,93.7 268.9,88.8 264.2,89.1"/>
<polygon color="#daff1f" points="278.4,98.9 283,98.6 278.3,93.5 273.6,93.7"/>
<polygon color="#aeff1f" points="287.9,104.1 292.5,103.9 287.6,98.5 283,98.6"/>
<polygon color="#ff6a1f" points="75.8,73.7 81.3,71 77.7,70.9 72.2,73.5"/>
<polygon color="#ff531f" points="85,71.5 90.4,68.9 86.8,68.5 81.3,71"/>
<polygon color="#ff401f" points="94.2,69.5 99.6,67.1 95.9,66.5 90.4,68.9"/>
<polygon color="#ff2f1f" points="103.4,67.9 108.8,65.6 105,64.8 99.6,67.1"/>
<polygon color="#ff221f" points="112.7,66.7 118.1,64.5 114.2,63.4 108.8,65.6"/>
<polygon color="#ff1f1f" points="122,65.8 127.4,63.8 123.4,62.4 118.1,64.5"/>
<polygon color="#ff1f1f" points="131.4,65.3 136.7,63.3 132.7,61.8 127.4,63.8"/>
<polygon color="#ff1f1f" points="140.7,65.1 146,63.2 141.9,61.5 136.7,63.3"/>
<polygon color="#ff1f1f" points="150.1,65.2 155.4,63.5 151.3,61.5 146,63.2"/>
<polygon color="#ff1f1f" points="159.6,65.7 164.8,64.1 160.6,61.9 155.4,63.5"/>
<polygon color="#ff1f1f" points="169,66.6 174.2,65.1 169.9,62.6 164.8,64.1"/>
<polygon color="#ff1f1f" points="178.5,67.8 183.6,66.4 179.3,63.7 174.2,65.1"/>
<polygon color="#ff271f" points="188,69.3 193.1,68.1 188.7,65.1 183.6,66.4"/>
<polygon color="#ff361f" points="197.5,71.2 202.5,70.1 198.1,66.9 193.1,68.1"/>
<polygon color="#ff481f" points="207,73.5 212,72.4 207.5,69 202.5,70.1"/>
<polygon color="#ff5d1f" points="216.5,76.1 221.5,75.2 217,71.5 212,72.4"/>
<polygon color="#ff751f" points="226,79.1 231,78.2 226.4,74.3 221.5,75.2"/>
<polygon color="#ff901f" points="235.6,82.4 240.5,81.6 235.9,77.5 231,78.2"/>
<polygon color="#ffae1f" points="245.1,86 250,85.4 245.3,81 240.5,81.6"/>
<polygon color="#ffd01f" points="254.6,90.1 259.4,89.5 254.7,84.9 250,85.4"/>
<polygon color="#fff51f" points="264.2,94.5 268.9,94 264.2,89.1 259.4,89.5"/>
<polygon color="#e2ff1f" points="273.7,99.2 278.4,98.9 273.6,93.7 268.9,94"/>
<polygon color="#b7ff1f" points="283.2,104.3 287.9,104.1 283,98.6 278.4,98.9"/>
<polygon color="#89ff1f" points="292.7,109.8 297.3,109.6 292.5,103.9 287.9,104.1"/>
<polygon color="#ff7a1f" points="70.3,76.5 75.8,73.7 72.2,73.5 66.7,76.3"/>
<polygon color="#ff621f" points="79.5,74.1 85,71.5 81.3,71 75.8,73.7"/>
<polygon color="#ff4d1f" points="88.7,72.1 94.2,69.5 90.4,68.9 85,71.5"/>
<polygon color="#ff3c1f" points="98,70.4 103.4,67.9 99.6,67.1 94.2,69.5"/>
<polygon color="#ff2d1f" points="107.3,69 112.7,66.7 108.8,65.6 103.4,67.9"/>
<polygon color="#ff221f" points="116.6,68 122,65.8 118.1,64.5 112.7,66.7"/>
<polygon color="#ff1f1f" points="126,67.3 131.4,65.3 127.4,63.8 122,65.8"/>
<polygon color="#ff1f1f" points="135.4,67 140.7,65.1 136.7,63.3 131.4,65.3"/>
<polygon color="#ff1f1f" points="144.9,67.1 150.1,65.2 146,63.2 140.7,65.1"/>
<polygon color="#ff1f1f" points="154.3,67.4 159.6,65.7 155.4,63.5 150.1,65.2"/>
<polygon color="#ff1f1f" points="163.8,68.2 169,66.6 164.8,64.1 159.6,65.7"/>
<polygon color="#ff201f" points="173.3,69.3 178.5,67.8 174.2,65.1 169,66.6"/>
<polygon color="#ff2a1f" points="182.8,70.7 188,69.3 183.6,66.4 178.5,67.8"/>
<polygon color="#ff381f" points="192.4,72.5 197.5,71.2 193.1,68.1 188,69.3"/>
<polygon color="#ff491f" points="201.9,74.6 207,73.5 202.5,70.1 197.5,71.2"/>
<polygon color="#ff5d1f" points="211.5,77.1 216.5,76.1 212,72.4 207,73.5"/>
<polygon color="#ff741f" points="221.1,80 226,79.1 221.5,75.2 216.5,76.1"/>
<polygon color="#ff8e1f" points="230.6,83.2 235.6,82.4 231,78.2 226,79.1"/>
<polygon color="#ffab1f" points="240.2,86.8 245.1,86 240.5,81.6 235.6,82.4"/>
<polygon color="#ffcc1f" points="249.8,90.7 254.6,90.1 250,85.4 245.1,86"/>
<polygon color="#ffef1f" points="259.4,95 264.2,94.5 259.4,89.5 254.6,90.1"/>
<polygon color="#e8ff1f" points="269,99.6 273.7,99.2 268.9,94 264.2,94.5"/>
<polygon color="#beff1f" points="278.5,104.6 283.2,104.3 278.4,98.9 273.7,99.2"/>
<polygon color="#91ff1f" points="288.1,110 292.7,109.8 287.9,104.1 283.2,104.3"/>
<polygon color="#61ff1f" points="297.6,115.7 302.2,115.6 297.3,109.6 292.7,109.8"/>
<polygon color="#ff721f" points="74,76.9 79.5,74.1 75.8,73.7 70.3,76.5"/>
<polygon color="#ff5c1f" points="83.2,74.7 88.7,72.1 85,71.5 79.5,74.1"/>
<polygon color="#ff491f" points="92.5,72.9 98,70.4 94.2,69.5 88.7,72.1"/>
<polygon color="#ff3a1f" points="101.8,71.4 107.3,69 103.4,67.9 98,70.4"/>
<polygon color="#ff2d1f" points="111.2,70.3 116.6,68 112.7,66.7 107.3,69"/>
<polygon color="#ff241f" points="120.6,69.5 126,67.3 122,65.8 116.6,68"/>
<polygon color="#ff1f1f" points="130.1,69.1 135.4,67 131.4,65.3 126,67.3"/>
<polygon color="#ff1f1f" points="139.5,69 144.9,67.1 140.7,65.1 135.4,67"/>
<polygon color="#ff1f1f" points="149,69.3 154.3,67.4 150.1,65.2 144.9,67.1"/>
<polygon color="#ff1f1f" points="158.5,69.9 163.8,68.2 159.6,65.7 154.3,67.4"/>
<polygon color="#ff251f" points="168.1,70.9 173.3,69.3 169,66.6 163.8,68.2"/>
<polygon color="#ff2e1f" points="177.6,72.2 182.8,70.7 178.5,67.8 173.3,69.3"/>
<polygon color="#ff3b1f" points="187.2,73.9 192.4,72.5 188,69.3 182.8,70.7"/>
<polygon color="#ff4a1f" points="196.8,75.9 201.9,74.6 197.5,71.2 192.4,72.5"/>
<polygon color="#ff5d1f" points="206.4,78.3 211.5,77.1 207,73.5 201.9,74.6"/>
<polygon color="#ff731f" points="216,81 221.1,80 216.5,76.1 211.5,77.1"/>
<polygon color="#ff8c1f" points="225.7,84.2 230.6,83.2 226,79.1 221.1,80"/>
<polygon color="#ffa91f" points="235.3,87.6 240.2,86.8 235.6,82.4 230.6,83.2"/>
<polygon color="#ffc81f" points="244.9,91.4 249.8,90.7 245.1,86 240.2,86.8"/>
<polygon color="#ffea1f" points="254.5,95.6 259.4,95 254.6,90.1 249.8,90.7"/>
<polygon color="#eeff1f" points="264.2,100.2 269,99.6 264.2,94.5 259.4,95"/>
<polygon color="#c5ff1f" points="273.8,105.1 278.5,104.6 273.7,99.2 269,99.6"/>
<polygon color="#99ff1f" points="283.4,110.4 288.1,110 283.2,104.3 278.5,104.6"/>
<polygon color="#6aff1f" points="293,116 297.6,115.7 292.7,109.8 288.1,110"/>
<polygon color="#ff6b1f" points="77.7,77.5 83.2,74.7 79.5,74.1 74,76.9"/>
<polygon color="#ff581f" points="87,75.6 92.5,72.9 88.7,72.1 83.2,74.7"/>
<polygon color="#ff471f" points="96.3,74 101.8,71.4 98,70.4 92.5,72.9"/>
<polygon color="#ff3a1f" points="105.7,72.7 111.2,70.3 107.3,69 101.8,71.4"/>
<polygon color="#ff2f1f" points="115.2,71.8 120.6,69.5 116.6,68 111.2,70.3"/>
<polygon color="#ff281f" points="124.6,71.2 130.1,69.1 126,67.3 120.6,69.5"/>
<polygon color="#ff241f" points="134.1,71 139.5,69 135.4,67 130.1,69.1"/>
<polygon color="#ff231f" points="143.7,71.2 149,69.3 144.9,67.1 139.5,69"/>
<polygon color="#ff251f" points="153.2,71.7 158.5,69.9 154.3,67.4 149,69.3"/>
<polygon color="#ff2a1f" points="162.8,72.6 168.1,70.9 163.8,68.2 158.5,69.9"/>
<polygon color="#ff331f" points="172.4,73.8 177.6,72.2 173.3,69.3 168.1,70.9"/>
<polygon color="#ff3e1f" points="182,75.3 187.2,73.9 182.8,70.7 177.6,72.2"/>
<polygon color="#ff4d1f" points="191.7,77.3 196.8,75.9 192.4,72.5 187.2,73.9"/>
<polygon color="#ff5f1f" points="201.3,79.6 206.4,78.3 201.9,74.6 196.8,75.9"/>
<polygon color="#ff741f" points="211,82.2 216,81 211.5,77.1 206.4,78.3"/>
<polygon color="#ff8c1f" points="220.6,85.2 225.7,84.2 221.1,80 216,81"/>
<polygon color="#ffa71f" points="230.3,88.6 235.3,87.6 230.6,83.2 225.7,84.2"/>
<polygon color="#ffc51f" points="240,92.3 244.9,91.4 240.2,86.8 235.3,87.6"/>
<polygon color="#ffe71f" points="249.7,96.4 254.5,95.6 249.8,90.7 244.9,91.4"/>
<polygon color="#f3ff1f" points="259.3,100.8 264.2,100.2 259.4,95 254.5,95.6"/>
<polygon color="#cbff1f" points="269,105.6 273.8,105.1 269,99.6 264.2,100.2"/>
<polygon color="#a0ff1f" points="278.6,110.8 283.4,110.4 278.5,104.6 273.8,105.1"/>
<polygon color="#72ff1f" points="288.3,116.3 293,116 288.1,110 283.4,110.4"/>
<polygon color="#ff671f" points="81.4,78.3 87,75.6 83.2,74.7 77.7,77.5"/>
<polygon color="#ff551f" points="90.8,76.6 96.3,74 92.5,72.9 87,75.6"/>
<polygon color="#ff471f" points="100.2,75.2 105.7,72.7 101.8,71.4 96.3,74"/>
<polygon color="#ff3b1f" points="109.7,74.2 115.2,71.8 111.2,70.3 105.7,72.7"/>
<polygon color="#ff331f" points="119.2,73.5 124.6,71.2 120.6,69.5 115.2,71.8"/>
<polygon color="#ff2e1f" points="128.7,73.2 134.1,71 130.1,69.1 124.6,71.2"/>
<polygon color="#ff2c1f" points="138.3,73.2 143.7,71.2 139.5,69 134.1,71"/>
<polygon color="#ff2d1f" points="147.9,73.6 153.2,71.7 149,69.3 143.7,71.2"/>
<polygon color="#ff311f" points="157.5,74.4 162.8,72.6 158.5,69.9 153.2,71.7"/>
<polygon color="#ff381f" points="167.1,75.5 172.4,73.8 168.1,70.9 162.8,72.6"/>
<polygon color="#ff431f" points="176.8,76.9 182,75.3 177.6,72.2 172.4,73.8"/>
<polygon color="#ff501f" points="186.5,78.8 191.7,77.3 187.2,73.9 182,75.3"/>
<polygon color="#ff611f" points="196.1,80.9 201.3,79.6 196.8,75.9 191.7,77.3"/>
<polygon color="#ff751f" points="205.8,83.5 211,82.2 206.4,78.3 201.3,79.6"/>
<polygon color="#ff8c1f" points="215.6,86.4 220.6,85.2 216,81 211,82.2"/>
<polygon color="#ffa61f" points="225.3,89.6 230.3,88.6 225.7,84.2 220.6,85.2"/>
<polygon color="#ffc31f" points="235,93.2 240,92.3 235.3,87.6 230.3,88.6"/>
<polygon color="#ffe41f" points="244.7,97.2 249.7,96.4 244.9,91.4 240,92.3"/>
<polygon color="#f7ff1f" points="254.4,101.6 259.3,100.8 254.5,95.6 249.7,96.4"/>
<polygon color="#d0ff1f" points="264.1,106.3 269,105.6 264.2,100.2 259.3,100.8"/>
<polygon color="#a6ff1f" points="273.8,111.3 278.6,110.8 273.8,105.1 269,105.6"/>
<polygon color="#7aff1f" points="283.5,116.8 288.3,116.3 283.4,110.4 278.6,110.8"/>
<polygon color="#ff641f" points="85.2,79.4 90.8,76.6 87,75.6 81.4,78.3"/>
<polygon color="#ff551f" points="94.6,77.9 100.2,75.2 96.3,74 90.8,76.6"/>
<polygon color="#ff481f" points="104.1,76.7 109.7,74.2 105.7,72.7 100.2,75.2"/>
<polygon color="#ff3f1f" points="113.7,75.9 119.2,73.5 115.2,71.8 109.7,74.2"/>
<polygon color="#ff381f" points="123.2,75.5 128.7,73.2 124.6,71.2 119.2,73.5"/>
<polygon color="#ff351f" points="132.8,75.4 138.3,73.2 134.1,71 128.7,73.2"/>
<polygon color="#ff351f" points="142.5,75.7 147.9,73.6 143.7,71.2 138.3,73.2"/>
<polygon color="#ff391f" points="152.1,76.3 157.5,74.4 153.2,71.7 147.9,73.6"/>
<polygon color="#ff3f1f" points="161.8,77.3 167.1,75.5 162.8,72.6 157.5,74.4"/>
<polygon color="#ff481f" points="171.5,78.6 176.8,76.9 172.4,73.8 167.1,75.5"/>
<polygon color="#ff551f" points="181.2,80.3 186.5,78.8 182,75.3 176.8,76.9"/>
<polygon color="#ff641f" points="190.9,82.4 196.1,80.9 191.7,77.3 186.5,78.8"/>
<polygon color="#ff771f" points="200.7,84.8 205.8,83.5 201.3,79.6 196.1,80.9"/>
<polygon color="#ff8d1f" points="210.4,87.6 215.6,86.4 211,82.2 205.8,83.5"/>
<polygon color="#ffa61f" points="220.2,90.8 225.3,89.6 220.6,85.2 215.6,86.4"/>
<polygon color="#ffc21f" points="230,94.3 235,93.2 230.3,88.6 225.3,89.6"/>
<polygon color="#ffe21f" points="239.7,98.2 244.7,97.2 240,92.3 235,93.2"/>
<polygon color="#faff1f" points="249.5,102.4 254.4,101.6 249.7,96.4 244.7,97.2"/>
<polygon color="#d4ff1f" points="259.3,107 264.1,106.3 259.3,100.8 254.4,101.6"/>
<polygon color="#acff1f" points="269,112 273.8,111.3 269,105.6 264.1,106.3"/>
<polygon color="#80ff1f" points="278.8,117.3 283.5,116.8 278.6,110.8 273.8,111.3"/>
<polygon color="#ff631f" points="89,80.6 94.6,77.9 90.8,76.6 85.2,79.4"/>
<polygon color="#ff561f" points="98.6,79.4 104.1,76.7 100.2,75.2 94.6,77.9"/>
<polygon color="#ff4b1f" points="108.1,78.5 113.7,75.9 109.7,74.2 104.1,76.7"/>
<polygon color="#ff441f" points="117.7,77.9 123.2,75.5 119.2,73.5 113.7,75.9"/>
<polygon color="#ff401f" points="127.4,77.7 132.8,75.4 128.7,73.2 123.2,75.5"/>
<polygon color="#ff3f1f" points="137,77.8 142.5,75.7 138.3,73.2 132.8,75.4"/>
<polygon color="#ff411f" points="146.7,78.4 152.1,76.3 147.9,73.6 142.5,75.7"/>
<polygon color="#ff461f" points="156.4,79.2 161.8,77.3 157.5,74.4 152.1,76.3"/>
<polygon color="#ff4e1f" points="166.1,80.5 171.5,78.6 167.1,75.5 161.8,77.3"/>
<polygon color="#ff5a1f" points="175.9,82 181.2,80.3 176.8,76.9 171.5,78.6"/>
<polygon color="#ff691f" points="185.7,84 190.9,82.4 186.5,78.8 181.2,80.3"/>
<polygon color="#ff7a1f" points="195.5,86.3 200.7,84.8 196.1,80.9 190.9,82.4"/>
<polygon color="#ff8f1f" points="205.3,89 210.4,87.6 205.8,83.5 200.7,84.8"/>
<polygon color="#ffa71f" points="215.1,92 220.2,90.8 215.6,86.4 210.4,87.6"/>
<polygon color="#ffc21f" points="224.9,95.4 230,94.3 225.3,89.6 220.2,90.8"/>
<polygon color="#ffe01f" points="234.7,99.2 239.7,98.2 235,93.2 230,94.3"/>
<polygon color="#fcff1f" points="244.5,103.4 249.5,102.4 244.7,97.2 239.7,98.2"/>
<polygon color="#d8ff1f" points="254.3,107.9 259.3,107 254.4,101.6 249.5,102.4"/>
<polygon color="#b0ff1f" points="264.1,112.7 269,112 264.1,106.3 259.3,107"/>
<polygon color="#85ff1f" points="273.9,118 278.8,117.3 273.8,111.3 269,112"/>
<polygon color="#ff641f" points="92.9,82.1 98.6,79.4 94.6,77.9 89,80.6"/>
<polygon color="#ff591f" points="102.5,81.1 108.1,78.5 104.1,76.7 98.6,79.4"/>
<polygon color="#ff501f" points="112.2,80.4 117.7,77.9 113.7,75.9 108.1,78.5"/>
<polygon color="#ff4b1f" points="121.8,80.1 127.4,77.7 123.2,75.5 117.7,77.9"/>
<polygon color="#ff491f" points="131.5,80.1 137,77.8 132.8,75.4 127.4,77.7"/>
<polygon color="#ff4a1f" points="141.2,80.5 146.7,78.4 142.5,75.7 137,77.8"/>
<polygon color="#ff4e1f" points="151,81.3 156.4,79.2 152.1,76.3 146.7,78.4"/>
<polygon color="#ff561f" points="160.8,82.4 166.1,80.5 161.8,77.3 156.4,79.2"/>
<polygon color="#ff601f" points="170.6,83.9 175.9,82 171.5,78.6 166.1,80.5"/>
<polygon color="#ff6e1f" points="180.4,85.7 185.7,84 181.2,80.3 175.9,82"/>
<polygon color="#ff7e1f" points="190.2,87.9 195.5,86.3 190.9,82.4 185.7,84"/>
<polygon color="#ff921f" points="200,90.5 205.3,89 200.7,84.8 195.5,86.3"/>
<polygon color="#ffa91f" points="209.9,93.4 215.1,92 210.4,87.6 205.3,89"/>
<polygon color="#ffc31f" points="219.7,96.7 224.9,95.4 220.2,90.8 215.1,92"/>
<polygon color="#ffe01f" points="229.6,100.4 234.7,99.2 230,94.3 224.9,95.4"/>
<polygon color="#feff1f" points="239.5,104.4 244.5,103.4 239.7,98.2 234.7,99.2"/>
<polygon color="#daff1f" points="249.3,108.8 254.3,107.9 249.5,102.4 244.5,103.4"/>
<polygon color="#b4ff1f" points="259.2,113.6 264.1,112.7 259.3,107 254.3,107.9"/>
<polygon color="#8aff1f" points="269,118.7 273.9,118 269,112 264.1,112.7"/>
<polygon color="#ff671f" points="96.9,83.9 102.5,81.1 98.6,79.4 92.9,82.1"/>
<polygon color="#ff5e1f" points="106.5,83.1 112.2,80.4 108.1,78.5 102.5,81.1"/>
<polygon color="#ff571f" points="116.2,82.6 121.8,80.1 117.7,77.9 112.2,80.4"/>
<polygon color="#ff541f" points="126,82.5 131.5,80.1 127.4,77.7 121.8,80.1"/>
<polygon color="#ff541f" points="135.7,82.8 141.2,80.5 137,77.8 131.5,80.1"/>
<polygon color="#ff571f" points="145.5,83.4 151,81.3 146.7,78.4 141.2,80.5"/>
<polygon color="#ff5e1f" points="155.3,84.4 160.8,82.4 156.4,79.2 151,81.3"/>
<polygon color="#ff671f" points="165.2,85.8 170.6,83.9 166.1,80.5 160.8,82.4"/>
<polygon color="#ff731f" points="175,87.5 180.4,85.7 175.9,82 170.6,83.9"/>
<polygon color="#ff831f" points="184.9,89.6 190.2,87.9 185.7,84 180.4,85.7"/>
<polygon color="#ff961f" points="194.8,92.1 200,90.5 195.5,86.3 190.2,87.9"/>
<polygon color="#ffab1f" points="204.6,94.9 209.9,93.4 205.3,89 200,90.5"/>
<polygon color="#ffc41f" points="214.5,98.1 219.7,96.7 215.1,92 209.9,93.4"/>
<polygon color="#ffe11f" points="224.5,101.7 229.6,100.4 224.9,95.4 219.7,96.7"/>
<polygon color="#feff1f" points="234.4,105.6 239.5,104.4 234.7,99.2 229.6,100.4"/>
<polygon color="#dcff1f" points="244.3,109.9 249.3,108.8 244.5,103.4 239.5,104.4"/>
<polygon color="#b6ff1f" points="254.2,114.6 259.2,113.6 254.3,107.9 249.3,108.8"/>
<polygon color="#8eff1f" points="264.1,119.6 269,118.7 264.1,112.7 259.2,113.6"/>
<polygon color="#ff6c1f" points="100.9,85.8 106.5,83.1 102.5,81.1 96.9,83.9"/>
<polygon color="#ff641f" points="110.6,85.2 116.2,82.6 112.2,80.4 106.5,83.1"/>
<polygon color="#ff601f" points="120.4,85 126,82.5 121.8,80.1 116.2,82.6"/>
<polygon color="#ff5f1f" points="130.2,85.2 135.7,82.8 131.5,80.1 126,82.5"/>
<polygon color="#ff611f" points="140,85.7 145.5,83.4 141.2,80.5 135.7,82.8"/>
<polygon color="#ff661f" points="149.8,86.6 155.3,84.4 151,81.3 145.5,83.4"/>
<polygon color="#ff6f1f" points="159.7,87.8 165.2,85.8 160.8,82.4 155.3,84.4"/>
<polygon color="#ff7a1f" points="169.6,89.5 175,87.5 170.6,83.9 165.2,85.8"/>
<polygon color="#ff881f" points="179.5,91.4 184.9,89.6 180.4,85.7 175,87.5"/>
<polygon color="#ff9a1f" points="189.4,93.8 194.8,92.1 190.2,87.9 184.9,89.6"/>
<polygon color="#ffaf1f" points="199.4,96.5 204.6,94.9 200,90.5 194.8,92.1"/>
<polygon color="#ffc71f" points="209.3,99.6 214.5,98.1 209.9,93.4 204.6,94.9"/>
<polygon color="#ffe21f" points="219.3,103 224.5,101.7 219.7,96.7 214.5,98.1"/>
<polygon color="#feff1f" points="229.2,106.9 234.4,105.6 229.6,100.4 224.5,101.7"/>
<polygon color="#ddff1f" points="239.2,111.1 244.3,109.9 239.5,104.4 234.4,105.6"/>
<polygon color="#b8ff1f" points="249.1,115.6 254.2,114.6 249.3,108.8 244.3,109.9"/>
<polygon color="#91ff1f" points="259.1,120.6 264.1,119.6 259.2,113.6 254.2,114.6"/>
<polygon color="#ff721f" points="104.9,88 110.6,85.2 106.5,83.1 100.9,85.8"/>
<polygon color="#ff6d1f" points="114.7,87.7 120.4,85 116.2,82.6 110.6,85.2"/>
<polygon color="#ff6b1f" points="124.5,87.7 130.2,85.2 126,82.5 120.4,85"/>
<polygon color="#ff6c1f" points="134.4,88.1 140,85.7 135.7,82.8 130.2,85.2"/>
<polygon color="#ff701f" points="144.3,88.9 149.8,86.6 145.5,83.4 140,85.7"/>
<polygon color="#ff771f" points="154.2,90 159.7,87.8 155.3,84.4 149.8,86.6"/>
<polygon color="#ff811f" points="164.1,91.5 169.6,89.5 165.2,85.8 159.7,87.8"/>
<polygon color="#ff8f1f" points="174.1,93.4 179.5,91.4 175,87.5 169.6,89.5"/>
<polygon color="#ffa01f" points="184.1,95.6 189.4,93.8 184.9,89.6 179.5,91.4"/>
<polygon color="#ffb31f" points="194,98.2 199.4,96.5 194.8,92.1 189.4,93.8"/>
<polygon color="#ffca1f" points="204,101.2 209.3,99.6 204.6,94.9 199.4,96.5"/>
<polygon color="#ffe41f" points="214,104.5 219.3,103 214.5,98.1 209.3,99.6"/>
<polygon color="#fdff1f" points="224,108.3 229.2,106.9 224.5,101.7 219.3,103"/>
<polygon color="#ddff1f" points="234,112.4 239.2,111.1 234.4,105.6 229.2,106.9"/>
<polygon color="#b9ff1f" points="244,116.8 249.1,115.6 244.3,109.9 239.2,111.1"/>
<polygon color="#93ff1f" points="254.1,121.7 259.1,120.6 254.2,114.6 249.1,115.6"/>
<polygon color="#ff7b1f" points="109,90.4 114.7,87.7 110.6,85.2 104.9,88"/>
<polygon color="#ff771f" points="118.9,90.4 124.5,87.7 120.4,85 114.7,87.7"/>
<polygon color="#ff771f" points="128.8,90.6 134.4,88.1 130.2,85.2 124.5,87.7"/>
<polygon color="#ff7a1f" points="138.7,91.3 144.3,88.9 140,85.7 134.4,88.1"/>
<polygon color="#ff811f" points="148.6,92.3 154.2,90 149.8,86.6 144.3,88.9"/>
<polygon color="#ff8a1f" points="158.6,93.7 164.1,91.5 159.7,87.8 154.2,90"/>
<polygon color="#ff961f" points="168.6,95.4 174.1,93.4 169.6,89.5 164.1,91.5"/>
<polygon color="#ffa61f" points="178.6,97.6 184.1,95.6 179.5,91.4 174.1,93.4"/>
<polygon color="#ffb81f" points="188.6,100.1 194,98.2 189.4,93.8 184.1,95.6"/>
<polygon color="#ffce1f" points="198.7,102.9 204,101.2 199.4,96.5 194,98.2"/>
<polygon color="#ffe71f" points="208.7,106.2 214,104.5 209.3,99.6 204,101.2"/>
<polygon color="#fbff1f" points="218.8,109.8 224,108.3 219.3,103 214,104.5"/>
<polygon color="#dcff1f" points="228.8,113.8 234,112.4 229.2,106.9 224,108.3"/>
<polygon color="#b9ff1f" points="238.9,118.1 244,116.8 239.2,111.1 234,112.4"/>
<polygon color="#94ff1f" points="249,122.9 254.1,121.7 249.1,115.6 244,116.8"/>
<polygon color="#ff851f" points="113.2,93.1 118.9,90.4 114.7,87.7 109,90.4"/>
<polygon color="#ff841f" points="123.1,93.3 128.8,90.6 124.5,87.7 118.9,90.4"/>
<polygon color="#ff861f" points="133.1,93.8 138.7,91.3 134.4,88.1 128.8,90.6"/>
<polygon color="#ff8b1f" points="143,94.7 148.6,92.3 144.3,88.9 138.7,91.3"/>
<polygon color="#ff931f" points="153.1,96 158.6,93.7 154.2,90 148.6,92.3"/>
<polygon color="#ff9e1f" points="163.1,97.6 168.6,95.4 164.1,91.5 158.6,93.7"/>
<polygon color="#ffad1f" points="173.1,99.6 178.6,97.6 174.1,93.4 168.6,95.4"/>
<polygon color="#ffbe1f" points="183.2,102 188.6,100.1 184.1,95.6 178.6,97.6"/>
<polygon color="#ffd31f" points="193.3,104.8 198.7,102.9 194,98.2 188.6,100.1"/>
<polygon color="#ffeb1f" points="203.4,107.9 208.7,106.2 204,101.2 198.7,102.9"/>
<polygon color="#f8ff1f" points="213.5,111.4 218.8,109.8 214,104.5 208.7,106.2"/>
<polygon color="#daff1f" points="223.6,115.3 228.8,113.8 224,108.3 218.8,109.8"/>
<polygon color="#b9ff1f" points="233.7,119.5 238.9,118.1 234,112.4 228.8,113.8"/>
<polygon color="#94ff1f" points="243.8,124.2 249,122.9 244,116.8 238.9,118.1"/>
<polygon color="#ff911f" points="117.4,96.1 123.1,93.3 118.9,90.4 113.2,93.1"/>
<polygon color="#ff921f" points="127.4,96.5 133.1,93.8 128.8,90.6 123.1,93.3"/>
<polygon color="#ff961f" points="137.4,97.2 143,94.7 138.7,91.3 133.1,93.8"/>
<polygon color="#ff9d1f" points="147.4,98.4 153.1,96 148.6,92.3 143,94.7"/>
<polygon color="#ffa71f" points="157.5,99.9 163.1,97.6 158.6,93.7 153.1,96"/>
<polygon color="#ffb51f" points="167.6,101.8 173.1,99.6 168.6,95.4 163.1,97.6"/>
<polygon color="#ffc51f" points="177.7,104.1 183.2,102 178.6,97.6 173.1,99.6"/>
<polygon color="#ffd91f" points="187.9,106.7 193.3,104.8 188.6,100.1 183.2,102"/>
<polygon color="#fff01f" points="198,109.7 203.4,107.9 198.7,102.9 193.3,104.8"/>
<polygon color="#f4ff1f" points="208.1,113.1 213.5,111.4 208.7,106.2 203.4,107.9"/>
<polygon color="#d7ff1f" points="218.3,116.9 223.6,115.3 218.8,109.8 213.5,111.4"/>
<polygon color="#b7ff1f" points="228.4,121.1 233.7,119.5 228.8,113.8 223.6,115.3"/>
<polygon color="#94ff1f" points="238.6,125.6 243.8,124.2 238.9,118.1 233.7,119.5"/>
<polygon color="#ff9f1f" points="121.6,99.2 127.4,96.5 123.1,93.3 117.4,96.1"/>
<polygon color="#ffa21f" points="131.7,99.9 137.4,97.2 133.1,93.8 127.4,96.5"/>
<polygon color="#ffa81f" points="141.8,100.9 147.4,98.4 143,94.7 137.4,97.2"/>
<polygon color="#ffb11f" points="151.9,102.3 157.5,99.9 153.1,96 147.4,98.4"/>
<polygon color="#ffbe1f" points="162,104.1 167.6,101.8 163.1,97.6 157.5,99.9"/>
<polygon color="#ffcd1f" points="172.2,106.3 177.7,104.1 173.1,99.6 167.6,101.8"/>
<polygon color="#ffe01f" points="182.4,108.8 187.9,106.7 183.2,102 177.7,104.1"/>
<polygon color="#fff51f" points="192.5,111.7 198,109.7 193.3,104.8 187.9,106.7"/>
<polygon color="#f0ff1f" points="202.7,115 208.1,113.1 203.4,107.9 198,109.7"/>
<polygon color="#d4ff1f" points="212.9,118.7 218.3,116.9 213.5,111.4 208.1,113.1"/>
<polygon color="#b5ff1f" points="223.1,122.7 228.4,121.1 223.6,115.3 218.3,116.9"/>
<polygon color="#93ff1f" points="233.3,127.1 238.6,125.6 233.7,119.5 228.4,121.1"/>
<polygon color="#ffaf1f" points="125.9,102.7 131.7,99.9 127.4,96.5 121.6,99.2"/>
<polygon color="#ffb41f" points="136.1,103.6 141.8,100.9 137.4,97.2 131.7,99.9"/>
<polygon color="#ffbc1f" points="146.2,104.9 151.9,102.3 147.4,98.4 141.8,100.9"/>
<polygon color="#ffc71f" points="156.4,106.5 162,104.1 157.5,99.9 151.9,102.3"/>
<polygon color="#ffd61f" points="166.6,108.6 172.2,106.3 167.6,101.8 162,104.1"/>
<polygon color="#ffe71f" points="176.8,111 182.4,108.8 177.7,104.1 172.2,106.3"/>
<polygon color="#fffc1f" points="187,113.8 192.5,111.7 187.9,106.7 182.4,108.8"/>
<polygon color="#eaff1f" points="197.3,117 202.7,115 198,109.7 192.5,111.7"/>
<polygon color="#d0ff1f" points="207.5,120.5 212.9,118.7 208.1,113.1 202.7,115"/>
<polygon color="#b2ff1f" points="217.8,124.5 223.1,122.7 218.3,116.9 212.9,118.7"/>
<polygon color="#90ff1f" points="228,128.8 233.3,127.1 228.4,121.1 223.1,122.7"/>
<polygon color="#ffc01f" points="130.3,106.4 136.1,103.6 131.7,99.9 125.9,102.7"/>
<polygon color="#ffc71f" points="140.5,107.6 146.2,104.9 141.8,100.9 136.1,103.6"/>
<polygon color="#ffd21f" points="150.7,109.1 156.4,106.5 151.9,102.3 146.2,104.9"/>
<polygon color="#ffdf1f" points="160.9,111 166.6,108.6 162,104.1 156.4,106.5"/>
<polygon color="#ffef1f" points="171.2,113.3 176.8,111 172.2,106.3 166.6,108.6"/>
<polygon color="#fbff1f" points="181.5,116 187,113.8 182.4,108.8 176.8,111"/>
<polygon color="#e4ff1f" points="191.8,119.1 197.3,117 192.5,111.7 187,113.8"/>
<polygon color="#caff1f" points="202.1,122.5 207.5,120.5 202.7,115 197.3,117"/>
<polygon color="#adff1f" points="212.4,126.4 217.8,124.5 212.9,118.7 207.5,120.5"/>
<polygon color="#8dff1f" points="222.7,130.6 228,128.8 223.1,122.7 217.8,124.5"/>
<polygon color="#ffd41f" points="134.7,110.4 140.5,107.6 136.1,103.6 130.3,106.4"/>
<polygon color="#ffdd1f" points="145,111.8 150.7,109.1 146.2,104.9 140.5,107.6"/>
<polygon color="#ffe91f" points="155.2,113.6 160.9,111 156.4,106.5 150.7,109.1"/>
<polygon color="#fff91f" points="165.5,115.8 171.2,113.3 166.6,108.6 160.9,111"/>
<polygon color="#f3ff1f" points="175.9,118.4 181.5,116 176.8,111 171.2,113.3"/>
<polygon color="#ddff1f" points="186.2,121.3 191.8,119.1 187,113.8 181.5,116"/>
<polygon color="#c4ff1f" points="196.5,124.6 202.1,122.5 197.3,117 191.8,119.1"/>
<polygon color="#a8ff1f" points="206.9,128.4 212.4,126.4 207.5,120.5 202.1,122.5"/>
<polygon color="#89ff1f" points="217.3,132.5 222.7,130.6 217.8,124.5 212.4,126.4"/>
<polygon color="#ffe91f" points="139.2,114.6 145,111.8 140.5,107.6 134.7,110.4"/>
<polygon color="#fff41f" points="149.5,116.3 155.2,113.6 150.7,109.1 145,111.8"/>
<polygon color="#fbff1f" points="159.8,118.4 165.5,115.8 160.9,111 155.2,113.6"/>
<polygon color="#eaff1f" points="170.2,120.8 175.9,118.4 171.2,113.3 165.5,115.8"/>
<polygon color="#d5ff1f" points="180.6,123.7 186.2,121.3 181.5,116 175.9,118.4"/>
<polygon color="#beff1f" points="191,126.9 196.5,124.6 191.8,119.1 186.2,121.3"/>
<polygon color="#a3ff1f" points="201.4,130.5 206.9,128.4 202.1,122.5 196.5,124.6"/>
<polygon color="#85ff1f" points="211.8,134.5 217.3,132.5 212.4,126.4 206.9,128.4"/>
<polygon color="#feff1f" points="143.7,119.1 149.5,116.3 145,111.8 139.2,114.6"/>
<polygon color="#f0ff1f" points="154.1,121.1 159.8,118.4 155.2,113.6 149.5,116.3"/>
<polygon color="#e0ff1f" points="164.5,123.4 170.2,120.8 165.5,115.8 159.8,118.4"/>
<polygon color="#ccff1f" points="174.9,126.1 180.6,123.7 175.9,118.4 170.2,120.8"/>
<polygon color="#b6ff1f" points="185.3,129.3 191,126.9 186.2,121.3 180.6,123.7"/>
<polygon color="#9cff1f" points="195.8,132.8 201.4,130.5 196.5,124.6 191,126.9"/>
<polygon color="#7fff1f" points="206.3,136.7 211.8,134.5 206.9,128.4 201.4,130.5"/>
<polygon color="#e5ff1f" points="148.3,123.9 154.1,121.1 149.5,116.3 143.7,119.1"/>
<polygon color="#d5ff1f" points="158.7,126.1 164.5,123.4 159.8,118.4 154.1,121.1"/>
<polygon color="#c3ff1f" points="169.2,128.8 174.9,126.1 170.2,120.8 164.5,123.4"/>
<polygon color="#adff1f" points="179.7,131.8 185.3,129.3 180.6,123.7 174.9,126.1"/>
<polygon color="#95ff1f" points="190.2,135.1 195.8,132.8 191,126.9 185.3,129.3"/>
<polygon color="#79ff1f" points="200.7,138.9 206.3,136.7 201.4,130.5 195.8,132.8"/>
<polygon color="#caff1f" points="152.9,129 158.7,126.1 154.1,121.1 148.3,123.9"/>
<polygon color="#b8ff1f" points="163.4,131.5 169.2,128.8 164.5,123.4 158.7,126.1"/>
<polygon color="#a4ff1f" points="173.9,134.4 179.7,131.8 174.9,126.1 169.2,128.8"/>
<polygon color="#8cff1f" points="184.5,137.7 190.2,135.1 185.3,129.3 179.7,131.8"/>
<polygon color="#71ff1f" points="195,141.3 200.7,138.9 195.8,132.8 190.2,135.1"/>
<polygon color="#adff1f" points="157.6,134.4 163.4,131.5 158.7,126.1 152.9,129"/>
<polygon color="#9aff1f" points="168.1,137.1 173.9,134.4 169.2,128.8 163.4,131.5"/>
<polygon color="#83ff1f" points="178.7,140.3 184.5,137.7 179.7,131.8 173.9,134.4"/>
<polygon color="#69ff1f" points="189.3,143.9 195,141.3 190.2,135.1 184.5,137.7"/>
<polygon color="#8eff1f" points="162.3,140 168.1,137.1 163.4,131.5 157.6,134.4"/>
<polygon color="#79ff1f" points="172.9,143.1 178.7,140.3 173.9,134.4 168.1,137.1"/>
<polygon color="#60ff1f" points="183.6,146.5 189.3,143.9 184.5,137.7 178.7,140.3"/>
<polygon color="#6eff1f" points="167.1,146 172.9,143.1 168.1,137.1 162.3,140"/>
<polygon color="#56ff1f" points="177.8,149.3 183.6,146.5 178.7,140.3 172.9,143.1"/>
<polygon color="#4cff1f" points="171.9,152.3 177.8,149.3 172.9,143.1 167.1,146"/>
</g>
<path d="M171.9,152.3 167.1,146 162.3,140 157.6,134.4 152.9,129 148.3,123.9 143.7,119.1 139.2,114.6 134.7,110.4 130.3,106.4 125.9,102.7 121.6,99.2 117.4,96.1 113.2,93.1 109,90.4 104.9,88 100.9,85.8 96.9,83.9 92.9,82.1 89,80.6 85.2,79.4 81.4,78.3 77.7,77.5 74,76.9 70.3,76.5 66.7,76.3M171.9,152.3 177.8,149.3 183.6,146.5 189.3,143.9 195,141.3 200.7,138.9 206.3,136.7 211.8,134.5 217.3,132.5 222.7,130.6 228,128.8 233.3,127.1 238.6,125.6 243.8,124.2 249,122.9 254.1,121.7 259.1,120.6 264.1,119.6 269,118.7 273.9,118 278.8,117.3 283.5,116.8 288.3,116.3 293,116 297.6,115.7 302.2,115.6M174.8,150.8 170,144.5 165.2,138.6 160.5,132.9 155.8,127.6 151.2,122.5 146.6,117.7 142.1,113.2 137.6,108.9 133.2,105 128.8,101.3 124.5,97.8 120.2,94.7 116,91.7 111.9,89.1 107.8,86.6 103.7,84.4 99.7,82.5 95.8,80.7 91.8,79.2 88,78 84.2,76.9 80.4,76.1 76.7,75.5 73.1,75.1 69.5,74.9M169.5,149.1 175.3,146.2 181.1,143.4 186.9,140.7 192.6,138.2 198.2,135.8 203.8,133.5 209.3,131.4 214.8,129.4 220.2,127.5 225.6,125.7 230.9,124.1 236.1,122.5 241.3,121.1 246.5,119.8 251.6,118.6 256.6,117.5 261.6,116.6 266.6,115.7 271.5,114.9 276.3,114.3 281.1,113.8 285.8,113.3 290.5,113 295.2,112.7 299.8,112.6M177.8,149.3 172.9,143.1 168.1,137.1 163.4,131.5 158.7,126.1 154.1,121.1 149.5,116.3 145,111.8 140.5,107.6 136.1,103.6 131.7,99.9 127.4,96.5 123.1,93.3 118.9,90.4 114.7,87.7 110.6,85.2 106.5,83.1 102.5,81.1 98.6,79.4 94.6,77.9 90.8,76.6 87,75.6 83.2,74.7 79.5,74.1 75.8,73.7 72.2,73.5M167.1,146 172.9,143.1 178.7,140.3 184.5,137.7 190.2,135.1 195.8,132.8 201.4,130.5 206.9,128.4 212.4,126.4 217.8,124.5 223.1,122.7 228.4,121.1 233.7,119.5 238.9,118.1 244,116.8 249.1,115.6 254.2,114.6 259.2,113.6 264.1,112.7 269,112 273.8,111.3 278.6,110.8 283.4,110.4 288.1,110 292.7,109.8 297.3,109.6M180.7,147.9 175.8,141.7 171,135.7 166.3,130.1 161.6,124.8 157,119.7 152.4,114.9 147.8,110.4 143.4,106.2 138.9,102.2 134.6,98.6 130.2,95.1 125.9,91.9 121.7,89 117.5,86.3 113.4,83.9 109.4,81.7 105.3,79.8 101.4,78 97.4,76.5 93.6,75.3 89.7,74.2 86,73.4 82.3,72.8 78.6,72.4 75,72.2M164.7,143 170.5,140.1 176.3,137.3 182.1,134.7 187.7,132.2 193.4,129.8 199,127.5 204.5,125.4 209.9,123.4 215.4,121.5 220.7,119.8 226,118.1 231.3,116.6 236.5,115.2 241.6,113.9 246.7,112.7 251.7,111.7 256.7,110.7 261.7,109.8 266.6,109.1 271.4,108.4 276.2,107.9 280.9,107.5 285.6,107.1 290.3,106.9 294.9,106.7M183.6,146.5 178.7,140.3 173.9,134.4 169.2,128.8 164.5,123.4 159.8,118.4 155.2,113.6 150.7,109.1 146.2,104.9 141.8,100.9 137.4,97.2 133.1,93.8 128.8,90.6 124.5,87.7 120.4,85 116.2,82.6 112.2,80.4 108.1,78.5 104.1,76.7 100.2,75.2 96.3,74 92.5,72.9 88.7,72.1 85,71.5 81.3,71 77.7,70.9M162.3,140 168.1,137.1 173.9,134.4 179.7,131.8 185.3,129.3 191,126.9 196.5,124.6 202.1,122.5 207.5,120.5 212.9,118.7 218.3,116.9 223.6,115.3 228.8,113.8 234,112.4 239.2,111.1 244.3,109.9 249.3,108.8 254.3,107.9 259.3,107 264.1,106.3 269,105.6 273.8,105.1 278.5,104.6 283.2,104.3 287.9,104.1 292.5,103.9M186.5,145.2 181.6,139 176.8,133.1 172,127.4 167.3,122.1 162.7,117.1 158.1,112.3 153.6,107.8 149.1,103.6 144.6,99.6 140.2,96 135.9,92.5 131.6,89.4 127.4,86.4 123.2,83.8 119,81.3 114.9,79.1 110.9,77.2 106.9,75.5 103,74 99.1,72.7 95.3,71.6 91.5,70.8 87.7,70.2 84,69.8 80.4,69.6M159.9,137.2 165.8,134.3 171.5,131.5 177.3,128.9 183,126.4 188.6,124.1 194.1,121.8 199.7,119.7 205.1,117.7 210.5,115.9 215.9,114.1 221.2,112.5 226.4,111 231.6,109.6 236.8,108.3 241.9,107.1 246.9,106.1 251.9,105.1 256.8,104.2 261.7,103.5 266.6,102.9 271.4,102.3 276.1,101.9 280.8,101.6 285.4,101.3 290,101.2M189.3,143.9 184.5,137.7 179.7,131.8 174.9,126.1 170.2,120.8 165.5,115.8 160.9,111 156.4,106.5 151.9,102.3 147.4,98.4 143,94.7 138.7,91.3 134.4,88.1 130.2,85.2 126,82.5 121.8,80.1 117.7,77.9 113.7,75.9 109.7,74.2 105.7,72.7 101.8,71.4 98,70.4 94.2,69.5 90.4,68.9 86.8,68.5 83.1,68.3M157.6,134.4 163.4,131.5 169.2,128.8 174.9,126.1 180.6,123.7 186.2,121.3 191.8,119.1 197.3,117 202.7,115 208.1,113.1 213.5,111.4 218.8,109.8 224,108.3 229.2,106.9 234.4,105.6 239.5,104.4 244.5,103.4 249.5,102.4 254.4,101.6 259.3,100.8 264.2,100.2 269,99.6 273.7,99.2 278.4,98.9 283,98.6 287.6,98.5M192.2,142.6 187.3,136.4 182.5,130.5 177.8,124.9 173,119.6 168.4,114.5 163.8,109.8 159.2,105.3 154.7,101.1 150.3,97.2 145.9,93.5 141.5,90.1 137.2,86.9 132.9,84 128.7,81.3 124.6,78.9 120.5,76.7 116.4,74.7 112.4,73 108.5,71.5 104.6,70.2 100.7,69.1 96.9,68.3 93.2,67.7 89.5,67.3 85.8,67M155.2,131.6 161,128.8 166.8,126 172.5,123.4 178.2,121 183.8,118.6 189.4,116.4 194.9,114.3 200.4,112.3 205.8,110.5 211.1,108.7 216.4,107.1 221.6,105.6 226.8,104.2 232,103 237.1,101.8 242.1,100.7 247.1,99.8 252,98.9 256.9,98.2 261.8,97.6 266.6,97 271.3,96.6 276,96.3 280.7,96 285.3,95.9M195,141.3 190.2,135.1 185.3,129.3 180.6,123.7 175.9,118.4 171.2,113.3 166.6,108.6 162,104.1 157.5,99.9 153.1,96 148.6,92.3 144.3,88.9 140,85.7 135.7,82.8 131.5,80.1 127.4,77.7 123.2,75.5 119.2,73.5 115.2,71.8 111.2,70.3 107.3,69 103.4,67.9 99.6,67.1 95.9,66.5 92.1,66 88.5,65.8M152.9,129 158.7,126.1 164.5,123.4 170.2,120.8 175.9,118.4 181.5,116 187,113.8 192.5,111.7 198,109.7 203.4,107.9 208.7,106.2 214,104.5 219.3,103 224.5,101.7 229.6,100.4 234.7,99.2 239.7,98.2 244.7,97.2 249.7,96.4 254.5,95.6 259.4,95 264.2,94.5 268.9,94 273.6,93.7 278.3,93.5 282.9,93.3M197.9,140.1 193,133.9 188.2,128.1 183.4,122.5 178.7,117.2 174,112.2 169.4,107.4 164.8,102.9 160.3,98.7 155.8,94.8 151.4,91.1 147.1,87.7 142.7,84.6 138.5,81.6 134.3,79 130.1,76.5 126,74.3 121.9,72.4 117.9,70.6 113.9,69.1 110,67.8 106.1,66.8 102.3,65.9 98.5,65.3 94.8,64.9 91.1,64.6M150.6,126.4 156.4,123.6 162.2,120.9 167.9,118.3 173.5,115.8 179.1,113.5 184.7,111.3 190.2,109.2 195.6,107.2 201,105.4 206.4,103.6 211.7,102 216.9,100.5 222.1,99.2 227.2,97.9 232.3,96.7 237.4,95.7 242.3,94.7 247.3,93.9 252.2,93.1 257,92.5 261.8,92 266.6,91.5 271.2,91.2 275.9,91 280.5,90.8M200.7,138.9 195.8,132.8 191,126.9 186.2,121.3 181.5,116 176.8,111 172.2,106.3 167.6,101.8 163.1,97.6 158.6,93.7 154.2,90 149.8,86.6 145.5,83.4 141.2,80.5 137,77.8 132.8,75.4 128.7,73.2 124.6,71.2 120.6,69.5 116.6,68 112.7,66.7 108.8,65.6 105,64.8 101.2,64.1 97.5,63.7 93.8,63.5M148.3,123.9 154.1,121.1 159.8,118.4 165.5,115.8 171.2,113.3 176.8,111 182.4,108.8 187.9,106.7 193.3,104.8 198.7,102.9 204,101.2 209.3,99.6 214.5,98.1 219.7,96.7 224.9,95.4 230,94.3 235,93.2 240,92.3 244.9,91.4 249.8,90.7 254.6,90.1 259.4,89.5 264.2,89.1 268.9,88.8 273.5,88.5 278.1,88.4M203.5,137.8 198.6,131.6 193.8,125.8 189,120.2 184.3,114.9 179.6,109.9 175,105.2 170.4,100.7 165.9,96.5 161.4,92.6 157,88.9 152.6,85.5 148.3,82.3 144,79.4 139.7,76.7 135.6,74.3 131.4,72.1 127.4,70.1 123.3,68.4 119.3,66.9 115.4,65.6 111.5,64.5 107.7,63.7 103.9,63 100.2,62.6 96.5,62.4M146,121.5 151.8,118.6 157.5,115.9 163.2,113.4 168.9,110.9 174.5,108.6 180,106.4 185.5,104.3 191,102.4 196.4,100.5 201.7,98.8 207,97.2 212.2,95.7 217.4,94.3 222.5,93.1 227.6,91.9 232.6,90.9 237.6,89.9 242.6,89.1 247.5,88.3 252.3,87.7 257.1,87.2 261.8,86.8 266.5,86.4 271.2,86.2 275.8,86M206.3,136.7 201.4,130.5 196.5,124.6 191.8,119.1 187,113.8 182.4,108.8 177.7,104.1 173.1,99.6 168.6,95.4 164.1,91.5 159.7,87.8 155.3,84.4 151,81.3 146.7,78.4 142.5,75.7 138.3,73.2 134.1,71 130.1,69.1 126,67.3 122,65.8 118.1,64.5 114.2,63.4 110.3,62.6 106.5,61.9 102.8,61.5 99.1,61.3M143.7,119.1 149.5,116.3 155.2,113.6 160.9,111 166.6,108.6 172.2,106.3 177.7,104.1 183.2,102 188.6,100.1 194,98.2 199.4,96.5 204.6,94.9 209.9,93.4 215.1,92 220.2,90.8 225.3,89.6 230.3,88.6 235.3,87.6 240.2,86.8 245.1,86 250,85.4 254.7,84.9 259.5,84.5 264.2,84.1 268.8,83.9 273.4,83.7M209,135.6 204.1,129.4 199.3,123.6 194.5,118 189.8,112.7 185.1,107.7 180.5,103 175.9,98.6 171.4,94.4 166.9,90.5 162.4,86.8 158,83.4 153.7,80.2 149.4,77.3 145.2,74.6 141,72.2 136.8,70 132.7,68 128.7,66.3 124.7,64.8 120.8,63.5 116.9,62.4 113,61.5 109.2,60.9 105.4,60.4 101.7,60.2M141.4,116.8 147.2,114 153,111.3 158.7,108.8 164.3,106.3 169.9,104 175.4,101.8 180.9,99.7 186.3,97.8 191.7,96 197.1,94.3 202.3,92.7 207.6,91.2 212.7,89.8 217.9,88.5 222.9,87.4 228,86.3 233,85.4 237.9,84.5 242.8,83.8 247.6,83.2 252.4,82.6 257.2,82.2 261.9,81.9 266.5,81.6 271.1,81.5M211.8,134.5 206.9,128.4 202.1,122.5 197.3,117 192.5,111.7 187.9,106.7 183.2,102 178.6,97.6 174.1,93.4 169.6,89.5 165.2,85.8 160.8,82.4 156.4,79.2 152.1,76.3 147.9,73.6 143.7,71.2 139.5,69 135.4,67 131.4,65.3 127.4,63.8 123.4,62.4 119.5,61.4 115.6,60.5 111.8,59.8 108.1,59.4 104.4,59.1M139.2,114.6 145,111.8 150.7,109.1 156.4,106.5 162,104.1 167.6,101.8 173.1,99.6 178.6,97.6 184.1,95.6 189.4,93.8 194.8,92.1 200,90.5 205.3,89 210.4,87.6 215.6,86.4 220.6,85.2 225.7,84.2 230.6,83.2 235.6,82.4 240.5,81.6 245.3,81 250.1,80.5 254.8,80 259.5,79.7 264.2,79.5 268.8,79.3M214.5,133.5 209.6,127.4 204.8,121.5 200,116 195.3,110.7 190.6,105.7 185.9,101 181.3,96.6 176.8,92.4 172.3,88.5 167.9,84.8 163.5,81.4 159.1,78.2 154.8,75.3 150.6,72.7 146.4,70.2 142.2,68 138.1,66 134,64.3 130,62.8 126.1,61.5 122.1,60.4 118.3,59.5 114.5,58.8 110.7,58.4 107,58.1M136.9,112.4 142.7,109.6 148.5,107 154.1,104.4 159.8,102 165.3,99.7 170.9,97.5 176.3,95.4 181.8,93.5 187.1,91.7 192.5,90 197.7,88.4 203,86.9 208.1,85.5 213.3,84.2 218.3,83.1 223.4,82 228.3,81.1 233.3,80.3 238.2,79.5 243,78.9 247.8,78.4 252.5,77.9 257.2,77.6 261.9,77.4 266.5,77.2M217.3,132.5 212.4,126.4 207.5,120.5 202.7,115 198,109.7 193.3,104.8 188.6,100.1 184.1,95.6 179.5,91.4 175,87.5 170.6,83.9 166.1,80.5 161.8,77.3 157.5,74.4 153.2,71.7 149,69.3 144.9,67.1 140.7,65.1 136.7,63.3 132.7,61.8 128.7,60.5 124.8,59.4 120.9,58.5 117.1,57.8 113.3,57.4 109.6,57.1M134.7,110.4 140.5,107.6 146.2,104.9 151.9,102.3 157.5,99.9 163.1,97.6 168.6,95.4 174.1,93.4 179.5,91.4 184.9,89.6 190.2,87.9 195.5,86.3 200.7,84.8 205.8,83.5 211,82.2 216,81 221.1,80 226,79.1 231,78.2 235.9,77.5 240.7,76.9 245.5,76.3 250.2,75.9 254.9,75.5 259.6,75.3 264.2,75.2M220,131.5 215.1,125.4 210.2,119.6 205.4,114.1 200.7,108.8 196,103.8 191.3,99.1 186.7,94.7 182.2,90.5 177.7,86.6 173.2,82.9 168.8,79.5 164.5,76.4 160.2,73.5 155.9,70.8 151.7,68.3 147.5,66.1 143.4,64.1 139.3,62.4 135.3,60.9 131.3,59.5 127.4,58.5 123.5,57.6 119.7,56.9 115.9,56.4 112.2,56.2M132.5,108.3 138.3,105.5 144,102.9 149.7,100.3 155.3,97.9 160.9,95.6 166.4,93.4 171.8,91.4 177.2,89.4 182.6,87.6 187.9,85.9 193.2,84.3 198.4,82.8 203.6,81.5 208.7,80.2 213.8,79.1 218.8,78 223.8,77.1 228.7,76.2 233.6,75.5 238.4,74.9 243.2,74.3 247.9,73.9 252.6,73.6 257.3,73.3 261.9,73.2M222.7,130.6 217.8,124.5 212.9,118.7 208.1,113.1 203.4,107.9 198.7,102.9 194,98.2 189.4,93.8 184.9,89.6 180.4,85.7 175.9,82 171.5,78.6 167.1,75.5 162.8,72.6 158.5,69.9 154.3,67.4 150.1,65.2 146,63.2 141.9,61.5 137.9,60 133.9,58.6 130,57.5 126.1,56.6 122.3,56 118.5,55.5 114.7,55.2M130.3,106.4 136.1,103.6 141.8,100.9 147.4,98.4 153.1,96 158.6,93.7 164.1,91.5 169.6,89.5 175,87.5 180.4,85.7 185.7,84 190.9,82.4 196.1,80.9 201.3,79.6 206.4,78.3 211.5,77.1 216.5,76.1 221.5,75.2 226.4,74.3 231.3,73.6 236.1,72.9 240.9,72.4 245.7,72 250.4,71.6 255,71.4 259.6,71.2M225.4,129.7 220.5,123.6 215.6,117.8 210.8,112.3 206.1,107 201.4,102 196.7,97.3 192.1,92.9 187.5,88.7 183,84.8 178.6,81.2 174.1,77.8 169.8,74.6 165.5,71.7 161.2,69 157,66.6 152.8,64.4 148.6,62.4 144.6,60.6 140.5,59.1 136.5,57.7 132.6,56.6 128.7,55.7 124.9,55.1 121.1,54.6 117.3,54.3M128.1,104.5 133.9,101.7 139.6,99.1 145.2,96.5 150.8,94.1 156.4,91.8 161.9,89.6 167.4,87.6 172.8,85.7 178.1,83.8 183.4,82.1 188.7,80.5 193.9,79.1 199.1,77.7 204.2,76.4 209.2,75.3 214.3,74.2 219.2,73.3 224.2,72.5 229,71.7 233.9,71.1 238.7,70.5 243.4,70.1 248.1,69.7 252.7,69.5 257.3,69.3M228,128.8 223.1,122.7 218.3,116.9 213.5,111.4 208.7,106.2 204,101.2 199.4,96.5 194.8,92.1 190.2,87.9 185.7,84 181.2,80.3 176.8,76.9 172.4,73.8 168.1,70.9 163.8,68.2 159.6,65.7 155.4,63.5 151.3,61.5 147.2,59.8 143.1,58.2 139.1,56.9 135.2,55.8 131.3,54.9 127.4,54.2 123.6,53.7 119.9,53.4M125.9,102.7 131.7,99.9 137.4,97.2 143,94.7 148.6,92.3 154.2,90 159.7,87.8 165.2,85.8 170.6,83.9 175.9,82 181.2,80.3 186.5,78.8 191.7,77.3 196.8,75.9 201.9,74.6 207,73.5 212,72.4 217,71.5 221.9,70.6 226.8,69.9 231.6,69.3 236.4,68.7 241.1,68.3 245.8,67.9 250.5,67.7 255.1,67.5M230.7,128 225.8,121.9 220.9,116.1 216.1,110.6 211.4,105.3 206.7,100.4 202,95.7 197.4,91.3 192.8,87.1 188.3,83.2 183.8,79.5 179.4,76.1 175,73 170.7,70 166.4,67.4 162.2,64.9 158,62.7 153.9,60.7 149.8,58.9 145.7,57.4 141.7,56.1 137.8,54.9 133.8,54 130,53.3 126.2,52.9 122.4,52.6M123.8,100.9 129.5,98.2 135.2,95.5 140.9,93 146.5,90.6 152,88.3 157.5,86.1 162.9,84.1 168.3,82.1 173.7,80.3 179,78.6 184.2,77 189.4,75.5 194.6,74.2 199.7,72.9 204.8,71.8 209.8,70.7 214.7,69.8 219.7,68.9 224.5,68.2 229.4,67.5 234.1,67 238.9,66.5 243.6,66.2 248.2,65.9 252.8,65.8M233.3,127.1 228.4,121.1 223.6,115.3 218.8,109.8 214,104.5 209.3,99.6 204.6,94.9 200,90.5 195.5,86.3 190.9,82.4 186.5,78.8 182,75.3 177.6,72.2 173.3,69.3 169,66.6 164.8,64.1 160.6,61.9 156.4,59.9 152.3,58.1 148.3,56.6 144.3,55.3 140.3,54.1 136.4,53.2 132.5,52.5 128.7,52 124.9,51.7M121.6,99.2 127.4,96.5 133.1,93.8 138.7,91.3 144.3,88.9 149.8,86.6 155.3,84.4 160.8,82.4 166.1,80.5 171.5,78.6 176.8,76.9 182,75.3 187.2,73.9 192.4,72.5 197.5,71.2 202.5,70.1 207.5,69 212.5,68.1 217.4,67.2 222.3,66.5 227.1,65.8 231.9,65.3 236.6,64.8 241.3,64.5 246,64.2 250.6,64.1M236,126.4 231.1,120.3 226.2,114.5 221.4,109 216.7,103.8 211.9,98.8 207.3,94.1 202.6,89.7 198.1,85.6 193.5,81.7 189.1,78 184.6,74.6 180.2,71.4 175.9,68.5 171.6,65.8 167.4,63.4 163.2,61.1 159,59.1 154.9,57.4 150.9,55.8 146.8,54.5 142.9,53.4 139,52.4 135.1,51.7 131.3,51.2 127.5,50.9M119.5,97.6 125.2,94.8 130.9,92.2 136.5,89.7 142.1,87.3 147.7,85 153.1,82.8 158.6,80.8 164,78.8 169.3,77 174.6,75.3 179.8,73.7 185,72.3 190.2,70.9 195.3,69.6 200.3,68.5 205.3,67.4 210.3,66.5 215.2,65.6 220.1,64.9 224.9,64.2 229.7,63.7 234.4,63.2 239.1,62.8 243.8,62.6 248.4,62.4M238.6,125.6 233.7,119.5 228.8,113.8 224,108.3 219.3,103 214.5,98.1 209.9,93.4 205.3,89 200.7,84.8 196.1,80.9 191.7,77.3 187.2,73.9 182.8,70.7 178.5,67.8 174.2,65.1 169.9,62.6 165.7,60.4 161.6,58.4 157.5,56.6 153.4,55.1 149.4,53.7 145.4,52.6 141.5,51.7 137.6,51 133.8,50.5 130,50.1M117.4,96.1 123.1,93.3 128.8,90.6 134.4,88.1 140,85.7 145.5,83.4 151,81.3 156.4,79.2 161.8,77.3 167.1,75.5 172.4,73.8 177.6,72.2 182.8,70.7 188,69.3 193.1,68.1 198.1,66.9 203.1,65.8 208.1,64.9 213,64 217.9,63.3 222.7,62.6 227.5,62.1 232.2,61.6 236.9,61.3 241.5,61 246.1,60.8M241.2,124.9 236.3,118.8 231.4,113 226.6,107.6 221.9,102.3 217.1,97.4 212.5,92.7 207.8,88.3 203.3,84.1 198.7,80.2 194.3,76.6 189.8,73.2 185.4,70 181.1,67.1 176.8,64.4 172.5,61.9 168.3,59.7 164.1,57.7 160,55.9 156,54.3 151.9,53 148,51.9 144,50.9 140.1,50.2 136.3,49.7 132.5,49.4M115.3,94.6 121,91.8 126.7,89.1 132.3,86.6 137.8,84.2 143.4,81.9 148.8,79.8 154.3,77.7 159.6,75.8 165,74 170.2,72.3 175.5,70.7 180.7,69.2 185.8,67.8 190.9,66.6 195.9,65.4 200.9,64.3 205.9,63.4 210.8,62.5 215.7,61.8 220.5,61.1 225.3,60.6 230,60.1 234.7,59.7 239.3,59.5 243.9,59.3M243.8,124.2 238.9,118.1 234,112.4 229.2,106.9 224.5,101.7 219.7,96.7 215.1,92 210.4,87.6 205.8,83.5 201.3,79.6 196.8,75.9 192.4,72.5 188,69.3 183.6,66.4 179.3,63.7 175.1,61.2 170.9,59 166.7,57 162.6,55.2 158.5,53.7 154.5,52.3 150.5,51.2 146.5,50.2 142.6,49.5 138.8,49 135,48.7M113.2,93.1 118.9,90.4 124.5,87.7 130.2,85.2 135.7,82.8 141.2,80.5 146.7,78.4 152.1,76.3 157.5,74.4 162.8,72.6 168.1,70.9 173.3,69.3 178.5,67.8 183.6,66.4 188.7,65.1 193.8,64 198.8,62.9 203.7,61.9 208.6,61.1 213.5,60.3 218.3,59.7 223.1,59.1 227.8,58.7 232.5,58.3 237.1,58 241.7,57.8M246.4,123.5 241.5,117.5 236.6,111.7 231.8,106.2 227,101 222.3,96.1 217.6,91.4 213,87 208.4,82.8 203.9,78.9 199.4,75.3 194.9,71.8 190.5,68.7 186.2,65.8 181.9,63.1 177.6,60.6 173.4,58.4 169.2,56.3 165.1,54.6 161,53 157,51.6 153,50.5 149,49.5 145.1,48.8 141.3,48.3 137.5,48M111.1,91.8 116.8,89 122.4,86.3 128.1,83.8 133.6,81.4 139.1,79.1 144.6,77 150,74.9 155.4,73 160.7,71.2 165.9,69.5 171.2,67.9 176.3,66.4 181.5,65 186.6,63.8 191.6,62.6 196.6,61.5 201.5,60.6 206.4,59.7 211.3,58.9 216.1,58.3 220.9,57.7 225.6,57.2 230.3,56.9 234.9,56.6 239.5,56.4M249,122.9 244,116.8 239.2,111.1 234.4,105.6 229.6,100.4 224.9,95.4 220.2,90.8 215.6,86.4 211,82.2 206.4,78.3 201.9,74.6 197.5,71.2 193.1,68.1 188.7,65.1 184.4,62.4 180.1,60 175.9,57.7 171.7,55.7 167.6,53.9 163.5,52.3 159.5,51 155.5,49.8 151.5,48.9 147.6,48.1 143.8,47.6 140,47.3M109,90.4 114.7,87.7 120.4,85 126,82.5 131.5,80.1 137,77.8 142.5,75.7 147.9,73.6 153.2,71.7 158.5,69.9 163.8,68.2 169,66.6 174.2,65.1 179.3,63.7 184.4,62.4 189.4,61.3 194.4,60.2 199.4,59.2 204.3,58.4 209.1,57.6 213.9,56.9 218.7,56.4 223.4,55.9 228.1,55.5 232.8,55.2 237.4,55M251.5,122.3 246.6,116.2 241.7,110.5 236.9,105 232.1,99.8 227.4,94.8 222.7,90.2 218.1,85.8 213.5,81.6 209,77.7 204.5,74.1 200,70.6 195.6,67.5 191.2,64.5 186.9,61.8 182.7,59.4 178.4,57.1 174.2,55.1 170.1,53.3 166,51.7 162,50.4 158,49.2 154,48.2 150.1,47.5 146.3,47 142.4,46.6M107,89.2 112.7,86.4 118.3,83.8 123.9,81.3 129.4,78.9 134.9,76.6 140.4,74.4 145.8,72.4 151.1,70.5 156.4,68.6 161.7,66.9 166.9,65.3 172.1,63.8 177.2,62.4 182.3,61.2 187.3,60 192.3,58.9 197.2,58 202.1,57.1 207,56.3 211.8,55.7 216.6,55.1 221.3,54.6 226,54.2 230.6,53.9 235.2,53.7M254.1,121.7 249.1,115.6 244.3,109.9 239.5,104.4 234.7,99.2 230,94.3 225.3,89.6 220.6,85.2 216,81 211.5,77.1 207,73.5 202.5,70.1 198.1,66.9 193.8,64 189.4,61.3 185.2,58.8 180.9,56.5 176.7,54.5 172.6,52.7 168.5,51.1 164.5,49.8 160.5,48.6 156.5,47.6 152.6,46.9 148.7,46.3 144.9,46M104.9,88 110.6,85.2 116.2,82.6 121.8,80.1 127.4,77.7 132.8,75.4 138.3,73.2 143.7,71.2 149,69.3 154.3,67.4 159.6,65.7 164.8,64.1 169.9,62.6 175.1,61.2 180.1,60 185.2,58.8 190.1,57.7 195.1,56.7 200,55.9 204.8,55.1 209.6,54.4 214.4,53.9 219.1,53.4 223.8,53 228.4,52.7 233,52.5M256.6,121.1 251.7,115.1 246.8,109.3 242,103.9 237.2,98.7 232.5,93.7 227.8,89.1 223.2,84.7 218.6,80.5 214,76.6 209.5,72.9 205.1,69.5 200.6,66.4 196.3,63.4 191.9,60.7 187.7,58.2 183.4,56 179.2,54 175.1,52.2 171,50.6 166.9,49.2 162.9,48 159,47.1 155,46.3 151.2,45.7 147.3,45.4M102.9,86.9 108.6,84.1 114.2,81.5 119.8,79 125.3,76.6 130.8,74.3 136.2,72.1 141.6,70.1 146.9,68.1 152.2,66.3 157.5,64.6 162.7,63 167.8,61.5 173,60.1 178,58.8 183,57.6 188,56.6 193,55.6 197.9,54.7 202.7,53.9 207.5,53.3 212.3,52.7 217,52.2 221.7,51.8 226.3,51.5 230.9,51.3M259.1,120.6 254.2,114.6 249.3,108.8 244.5,103.4 239.7,98.2 235,93.2 230.3,88.6 225.7,84.2 221.1,80 216.5,76.1 212,72.4 207.5,69 203.1,65.8 198.8,62.9 194.4,60.2 190.1,57.7 185.9,55.5 181.7,53.4 177.6,51.6 173.5,50 169.4,48.6 165.4,47.5 161.4,46.5 157.5,45.7 153.6,45.2 149.8,44.8M100.9,85.8 106.5,83.1 112.2,80.4 117.7,77.9 123.2,75.5 128.7,73.2 134.1,71 139.5,69 144.9,67.1 150.1,65.2 155.4,63.5 160.6,61.9 165.7,60.4 170.9,59 175.9,57.7 180.9,56.5 185.9,55.5 190.8,54.5 195.7,53.6 200.6,52.8 205.4,52.1 210.1,51.6 214.9,51.1 219.5,50.7 224.2,50.4 228.7,50.1M261.6,120.1 256.7,114.1 251.8,108.3 247,102.9 242.2,97.7 237.5,92.7 232.8,88.1 228.2,83.7 223.6,79.5 219,75.6 214.5,72 210,68.5 205.6,65.4 201.2,62.4 196.9,59.7 192.6,57.2 188.4,55 184.2,52.9 180,51.1 175.9,49.5 171.9,48.1 167.8,46.9 163.9,46 159.9,45.2 156,44.6 152.2,44.3M98.9,84.8 104.5,82 110.1,79.4 115.7,76.9 121.2,74.5 126.7,72.2 132.1,70 137.5,68 142.8,66 148.1,64.2 153.3,62.5 158.5,60.9 163.7,59.4 168.8,58 173.8,56.7 178.8,55.5 183.8,54.4 188.7,53.4 193.6,52.6 198.5,51.8 203.3,51.1 208,50.5 212.7,50 217.4,49.6 222,49.3 226.6,49.1M264.1,119.6 259.2,113.6 254.3,107.9 249.5,102.4 244.7,97.2 240,92.3 235.3,87.6 230.6,83.2 226,79.1 221.5,75.2 217,71.5 212.5,68.1 208.1,64.9 203.7,61.9 199.4,59.2 195.1,56.7 190.8,54.5 186.6,52.4 182.5,50.6 178.4,49 174.3,47.6 170.3,46.4 166.3,45.4 162.4,44.7 158.5,44.1 154.6,43.7M96.9,83.9 102.5,81.1 108.1,78.5 113.7,75.9 119.2,73.5 124.6,71.2 130.1,69.1 135.4,67 140.7,65.1 146,63.2 151.3,61.5 156.4,59.9 161.6,58.4 166.7,57 171.7,55.7 176.7,54.5 181.7,53.4 186.6,52.4 191.5,51.6 196.4,50.8 201.2,50.1 205.9,49.5 210.6,49 215.3,48.6 219.9,48.2 224.5,48M266.6,119.2 261.7,113.2 256.8,107.4 252,102 247.2,96.8 242.5,91.9 237.8,87.2 233.1,82.8 228.5,78.6 224,74.7 219.4,71.1 215,67.6 210.6,64.5 206.2,61.5 201.8,58.8 197.5,56.3 193.3,54 189.1,52 184.9,50.2 180.8,48.5 176.7,47.1 172.7,46 168.7,45 164.8,44.2 160.9,43.6 157,43.2M94.9,83 100.5,80.2 106.1,77.6 111.7,75 117.2,72.6 122.6,70.3 128,68.2 133.4,66.1 138.7,64.2 144,62.3 149.2,60.6 154.4,59 159.5,57.5 164.6,56.1 169.7,54.8 174.7,53.6 179.6,52.5 184.6,51.5 189.4,50.6 194.3,49.8 199.1,49.1 203.8,48.5 208.5,48 213.2,47.6 217.8,47.3 222.4,47M269,118.7 264.1,112.7 259.3,107 254.4,101.6 249.7,96.4 244.9,91.4 240.2,86.8 235.6,82.4 231,78.2 226.4,74.3 221.9,70.6 217.4,67.2 213,64 208.6,61.1 204.3,58.4 200,55.9 195.7,53.6 191.5,51.6 187.4,49.7 183.2,48.1 179.2,46.7 175.1,45.5 171.1,44.5 167.2,43.7 163.3,43.1 159.4,42.7M92.9,82.1 98.6,79.4 104.1,76.7 109.7,74.2 115.2,71.8 120.6,69.5 126,67.3 131.4,65.3 136.7,63.3 141.9,61.5 147.2,59.8 152.3,58.1 157.5,56.6 162.6,55.2 167.6,53.9 172.6,52.7 177.6,51.6 182.5,50.6 187.4,49.7 192.2,48.9 197,48.2 201.7,47.6 206.4,47.1 211.1,46.7 215.7,46.3 220.3,46.1M271.5,118.3 266.6,112.3 261.7,106.6 256.9,101.2 252.1,96 247.4,91.1 242.7,86.4 238,82 233.4,77.8 228.9,73.9 224.3,70.3 219.9,66.8 215.4,63.7 211.1,60.7 206.7,58 202.4,55.5 198.2,53.2 193.9,51.1 189.8,49.3 185.7,47.7 181.6,46.3 177.5,45.1 173.5,44.1 169.6,43.3 165.7,42.7 161.8,42.3M91,81.4 96.6,78.6 102.2,75.9 107.7,73.4 113.2,71 118.6,68.7 124,66.5 129.4,64.5 134.7,62.5 139.9,60.7 145.1,59 150.3,57.3 155.4,55.8 160.5,54.4 165.6,53.1 170.6,51.9 175.5,50.8 180.4,49.8 185.3,48.9 190.1,48.1 194.9,47.4 199.6,46.8 204.3,46.2 209,45.8 213.6,45.5 218.2,45.2M273.9,118 269,112 264.1,106.3 259.3,100.8 254.5,95.6 249.8,90.7 245.1,86 240.5,81.6 235.9,77.5 231.3,73.6 226.8,69.9 222.3,66.5 217.9,63.3 213.5,60.3 209.1,57.6 204.8,55.1 200.6,52.8 196.4,50.8 192.2,48.9 188.1,47.3 184,45.9 179.9,44.7 175.9,43.7 172,42.8 168.1,42.2 164.2,41.8M89,80.6 94.6,77.9 100.2,75.2 105.7,72.7 111.2,70.3 116.6,68 122,65.8 127.4,63.8 132.7,61.8 137.9,60 143.1,58.2 148.3,56.6 153.4,55.1 158.5,53.7 163.5,52.3 168.5,51.1 173.5,50 178.4,49 183.2,48.1 188.1,47.3 192.8,46.6 197.6,46 202.3,45.4 206.9,45 211.6,44.7 216.1,44.4M276.3,117.6 271.4,111.6 266.6,105.9 261.7,100.5 257,95.3 252.2,90.4 247.5,85.7 242.9,81.3 238.3,77.2 233.7,73.2 229.2,69.6 224.7,66.1 220.3,63 215.9,60 211.5,57.3 207.2,54.8 203,52.5 198.8,50.4 194.6,48.6 190.5,46.9 186.4,45.5 182.3,44.3 178.3,43.3 174.4,42.5 170.4,41.8 166.6,41.4M87.1,80 92.7,77.2 98.3,74.6 103.8,72 109.2,69.6 114.7,67.3 120,65.1 125.4,63.1 130.7,61.1 135.9,59.3 141.1,57.5 146.3,55.9 151.4,54.4 156.5,52.9 161.5,51.6 166.5,50.4 171.4,49.3 176.3,48.3 181.2,47.4 186,46.6 190.8,45.8 195.5,45.2 200.2,44.7 204.9,44.2 209.5,43.9 214.1,43.6M278.8,117.3 273.8,111.3 269,105.6 264.2,100.2 259.4,95 254.6,90.1 250,85.4 245.3,81 240.7,76.9 236.1,72.9 231.6,69.3 227.1,65.8 222.7,62.6 218.3,59.7 213.9,56.9 209.6,54.4 205.4,52.1 201.2,50.1 197,48.2 192.8,46.6 188.7,45.1 184.7,43.9 180.7,42.9 176.7,42.1 172.8,41.5 168.9,41M85.2,79.4 90.8,76.6 96.3,74 101.8,71.4 107.3,69 112.7,66.7 118.1,64.5 123.4,62.4 128.7,60.5 133.9,58.6 139.1,56.9 144.3,55.3 149.4,53.7 154.5,52.3 159.5,51 164.5,49.8 169.4,48.6 174.3,47.6 179.2,46.7 184,45.9 188.7,45.1 193.5,44.5 198.2,44 202.8,43.5 207.4,43.2 212,42.9M281.2,117 276.3,111.1 271.4,105.3 266.6,99.9 261.8,94.7 257.1,89.8 252.4,85.1 247.7,80.7 243.1,76.6 238.5,72.7 234,69 229.5,65.6 225.1,62.4 220.7,59.4 216.3,56.6 212,54.1 207.8,51.8 203.5,49.8 199.4,47.9 195.2,46.3 191.1,44.8 187.1,43.6 183.1,42.6 179.1,41.7 175.2,41.1 171.3,40.7M83.3,78.8 88.9,76.1 94.4,73.4 99.9,70.9 105.4,68.4 110.8,66.1 116.1,64 121.5,61.9 126.7,59.9 132,58.1 137.1,56.3 142.3,54.7 147.4,53.1 152.5,51.7 157.5,50.4 162.5,49.1 167.4,48 172.3,47 177.1,46.1 181.9,45.2 186.7,44.5 191.4,43.9 196.1,43.3 200.8,42.9 205.4,42.5 210,42.2M283.5,116.8 278.6,110.8 273.8,105.1 269,99.6 264.2,94.5 259.4,89.5 254.7,84.9 250.1,80.5 245.5,76.3 240.9,72.4 236.4,68.7 231.9,65.3 227.5,62.1 223.1,59.1 218.7,56.4 214.4,53.9 210.1,51.6 205.9,49.5 201.7,47.6 197.6,46 193.5,44.5 189.4,43.3 185.4,42.2 181.4,41.4 177.5,40.8 173.6,40.3M81.4,78.3 87,75.6 92.5,72.9 98,70.4 103.4,67.9 108.8,65.6 114.2,63.4 119.5,61.4 124.8,59.4 130,57.5 135.2,55.8 140.3,54.1 145.4,52.6 150.5,51.2 155.5,49.8 160.5,48.6 165.4,47.5 170.3,46.4 175.1,45.5 179.9,44.7 184.7,43.9 189.4,43.3 194.1,42.7 198.8,42.3 203.4,41.9 207.9,41.6M285.9,116.5 281,110.6 276.2,104.9 271.3,99.4 266.6,94.2 261.8,89.3 257.1,84.7 252.5,80.2 247.9,76.1 243.3,72.2 238.8,68.5 234.3,65.1 229.8,61.8 225.4,58.9 221.1,56.1 216.8,53.6 212.5,51.3 208.3,49.2 204.1,47.3 199.9,45.7 195.8,44.2 191.8,43 187.8,41.9 183.8,41.1 179.8,40.5 176,40M79.5,77.9 85.1,75.1 90.6,72.5 96.1,69.9 101.5,67.5 106.9,65.2 112.3,63 117.6,60.9 122.8,58.9 128,57.1 133.2,55.3 138.4,53.7 143.4,52.1 148.5,50.7 153.5,49.3 158.5,48.1 163.4,47 168.3,45.9 173.1,45 177.9,44.1 182.7,43.4 187.4,42.7 192.1,42.2 196.7,41.7 201.3,41.3 205.9,41M288.3,116.3 283.4,110.4 278.5,104.6 273.7,99.2 268.9,94 264.2,89.1 259.5,84.5 254.8,80 250.2,75.9 245.7,72 241.1,68.3 236.6,64.8 232.2,61.6 227.8,58.7 223.4,55.9 219.1,53.4 214.9,51.1 210.6,49 206.4,47.1 202.3,45.4 198.2,44 194.1,42.7 190.1,41.7 186.1,40.8 182.2,40.2 178.3,39.7M77.7,77.5 83.2,74.7 88.7,72.1 94.2,69.5 99.6,67.1 105,64.8 110.3,62.6 115.6,60.5 120.9,58.5 126.1,56.6 131.3,54.9 136.4,53.2 141.5,51.7 146.5,50.2 151.5,48.9 156.5,47.6 161.4,46.5 166.3,45.4 171.1,44.5 175.9,43.7 180.7,42.9 185.4,42.2 190.1,41.7 194.7,41.2 199.3,40.8 203.9,40.5M290.6,116.1 285.7,110.2 280.9,104.5 276.1,99 271.3,93.9 266.5,88.9 261.8,84.3 257.2,79.9 252.6,75.7 248,71.8 243.5,68.1 239,64.7 234.6,61.4 230.2,58.5 225.8,55.7 221.5,53.2 217.2,50.9 213,48.8 208.8,46.9 204.6,45.2 200.5,43.7 196.4,42.5 192.4,41.4 188.4,40.6 184.5,39.9 180.6,39.4M75.8,77.2 81.3,74.4 86.9,71.7 92.3,69.2 97.7,66.8 103.1,64.4 108.4,62.2 113.7,60.1 119,58.2 124.2,56.3 129.3,54.5 134.5,52.8 139.5,51.3 144.6,49.8 149.6,48.5 154.5,47.2 159.5,46.1 164.3,45 169.2,44.1 174,43.2 178.7,42.5 183.4,41.8 188.1,41.2 192.7,40.7 197.3,40.3 201.9,40M293,116 288.1,110 283.2,104.3 278.4,98.9 273.6,93.7 268.9,88.8 264.2,84.1 259.5,79.7 254.9,75.5 250.4,71.6 245.8,67.9 241.3,64.5 236.9,61.3 232.5,58.3 228.1,55.5 223.8,53 219.5,50.7 215.3,48.6 211.1,46.7 206.9,45 202.8,43.5 198.8,42.3 194.7,41.2 190.7,40.3 186.8,39.7 182.9,39.2M74,76.9 79.5,74.1 85,71.5 90.4,68.9 95.9,66.5 101.2,64.1 106.5,61.9 111.8,59.8 117.1,57.8 122.3,56 127.4,54.2 132.5,52.5 137.6,51 142.6,49.5 147.6,48.1 152.6,46.9 157.5,45.7 162.4,44.7 167.2,43.7 172,42.8 176.7,42.1 181.4,41.4 186.1,40.8 190.7,40.3 195.3,39.9 199.9,39.6M295.3,115.8 290.4,109.9 285.5,104.2 280.7,98.7 276,93.6 271.2,88.7 266.5,84 261.9,79.6 257.3,75.4 252.7,71.5 248.2,67.8 243.7,64.3 239.2,61.1 234.8,58.1 230.5,55.4 226.1,52.8 221.8,50.5 217.6,48.4 213.4,46.5 209.2,44.8 205.1,43.3 201.1,42.1 197,41 193,40.1 189.1,39.4 185.2,39M72.1,76.7 77.7,73.9 83.1,71.2 88.6,68.7 94,66.2 99.4,63.9 104.7,61.7 109.9,59.6 115.2,57.6 120.4,55.7 125.5,53.9 130.6,52.3 135.7,50.7 140.7,49.2 145.7,47.9 150.6,46.6 155.5,45.4 160.4,44.4 165.2,43.4 170,42.5 174.8,41.7 179.5,41.1 184.1,40.5 188.8,40 193.3,39.6 197.9,39.2M297.6,115.7 292.7,109.8 287.9,104.1 283,98.6 278.3,93.5 273.5,88.5 268.8,83.9 264.2,79.5 259.6,75.3 255,71.4 250.5,67.7 246,64.2 241.5,61 237.1,58 232.8,55.2 228.4,52.7 224.2,50.4 219.9,48.2 215.7,46.3 211.6,44.7 207.4,43.2 203.4,41.9 199.3,40.8 195.3,39.9 191.4,39.2 187.5,38.8M70.3,76.5 75.8,73.7 81.3,71 86.8,68.5 92.1,66 97.5,63.7 102.8,61.5 108.1,59.4 113.3,57.4 118.5,55.5 123.6,53.7 128.7,52 133.8,50.5 138.8,49 143.8,47.6 148.7,46.3 153.6,45.2 158.5,44.1 163.3,43.1 168.1,42.2 172.8,41.5 177.5,40.8 182.2,40.2 186.8,39.7 191.4,39.2 195.9,38.9M299.9,115.7 295,109.7 290.2,104 285.4,98.6 280.6,93.4 275.8,88.5 271.2,83.8 266.5,79.4 261.9,75.2 257.3,71.3 252.8,67.6 248.3,64.1 243.8,60.9 239.4,57.9 235.1,55.1 230.7,52.6 226.5,50.2 222.2,48.1 218,46.2 213.8,44.5 209.7,43 205.6,41.7 201.6,40.7 197.6,39.8 193.7,39.1 189.7,38.6M68.5,76.4 74,73.6 79.5,70.9 84.9,68.4 90.3,65.9 95.6,63.6 100.9,61.3 106.2,59.2 111.4,57.2 116.6,55.3 121.7,53.5 126.8,51.9 131.9,50.3 136.9,48.8 141.9,47.4 146.8,46.1 151.7,45 156.5,43.9 161.4,42.9 166.1,42 170.9,41.2 175.6,40.5 180.2,39.9 184.8,39.4 189.4,39 194,38.6M302.2,115.6 297.3,109.6 292.5,103.9 287.6,98.5 282.9,93.3 278.1,88.4 273.4,83.7 268.8,79.3 264.2,75.2 259.6,71.2 255.1,67.5 250.6,64.1 246.1,60.8 241.7,57.8 237.4,55 233,52.5 228.7,50.1 224.5,48 220.3,46.1 216.1,44.4 212,42.9 207.9,41.6 203.9,40.5 199.9,39.6 195.9,38.9 192,38.4M66.7,76.3 72.2,73.5 77.7,70.9 83.1,68.3 88.5,65.8 93.8,63.5 99.1,61.3 104.4,59.1 109.6,57.1 114.7,55.2 119.9,53.4 124.9,51.7 130,50.1 135,48.7 140,47.3 144.9,46 149.8,44.8 154.6,43.7 159.4,42.7 164.2,41.8 168.9,41 173.6,40.3 178.3,39.7 182.9,39.2 187.5,38.8 192,38.4" fill="none" stroke="#000" stroke-width="0.55" stroke-opacity="0.85"/>
<path d="M66.7,76.3 72.2,73.5 77.7,70.9 83.1,68.3 88.5,65.8 93.8,63.5 99.1,61.3 104.4,59.1 109.6,57.1 114.7,55.2 119.9,53.4 124.9,51.7 130,50.1 135,48.7 140,47.3 144.9,46 149.8,44.8 154.6,43.7 159.4,42.7 164.2,41.8 168.9,41 173.6,40.3 178.3,39.7 182.9,39.2 187.5,38.8 192,38.4" fill="none" stroke="#000" stroke-width="1.6" stroke-linejoin="round"/>
<path d="M302.2,115.6 297.3,109.6 292.5,103.9 287.6,98.5 282.9,93.3 278.1,88.4 273.4,83.7 268.8,79.3 264.2,75.2 259.6,71.2 255.1,67.5 250.6,64.1 246.1,60.8 241.7,57.8 237.4,55 233,52.5 228.7,50.1 224.5,48 220.3,46.1 216.1,44.4 212,42.9 207.9,41.6 203.9,40.5 199.9,39.6 195.9,38.9 192,38.4M171.9,152.3 177.8,149.3 183.6,146.5 189.3,143.9 195,141.3 200.7,138.9 206.3,136.7 211.8,134.5 217.3,132.5 222.7,130.6 228,128.8 233.3,127.1 238.6,125.6 243.8,124.2 249,122.9 254.1,121.7 259.1,120.6 264.1,119.6 269,118.7 273.9,118 278.8,117.3 283.5,116.8 288.3,116.3 293,116 297.6,115.7 302.2,115.6M171.9,152.3 167.1,146 162.3,140 157.6,134.4 152.9,129 148.3,123.9 143.7,119.1 139.2,114.6 134.7,110.4 130.3,106.4 125.9,102.7 121.6,99.2 117.4,96.1 113.2,93.1 109,90.4 104.9,88 100.9,85.8 96.9,83.9 92.9,82.1 89,80.6 85.2,79.4 81.4,78.3 77.7,77.5 74,76.9 70.3,76.5 66.7,76.3" fill="none" stroke="#000" stroke-width="0.8" stroke-opacity="0.8"/>
<path d="M165.7,42.7 161.8,42.3M168.1,42.2 164.2,41.8M170.4,41.8 166.6,41.4M172.8,41.5 168.9,41M175.2,41.1 171.3,40.7M181.4,41.4 177.5,40.8M177.5,40.8 173.6,40.3M183.8,41.1 179.8,40.5M196.7,41.7 201.3,41.3M179.8,40.5 176,40M201.3,41.3 205.9,41M185.4,42.2 190.1,41.7M190.1,41.7 194.7,41.2M186.1,40.8 182.2,40.2M194.7,41.2 199.3,40.8M182.2,40.2 178.3,39.7M199.3,40.8 203.9,40.5M174,43.2 178.7,42.5M178.7,42.5 183.4,41.8M183.4,41.8 188.1,41.2M188.1,41.2 192.7,40.7M188.4,40.6 184.5,39.9M192.7,40.7 197.3,40.3M184.5,39.9 180.6,39.4M197.3,40.3 201.9,40M167.2,43.7 172,42.8M172,42.8 176.7,42.1M176.7,42.1 181.4,41.4M181.4,41.4 186.1,40.8M186.1,40.8 190.7,40.3M190.7,40.3 186.8,39.7M190.7,40.3 195.3,39.9M186.8,39.7 182.9,39.2M195.3,39.9 199.9,39.6M155.5,45.4 160.4,44.4M160.4,44.4 165.2,43.4M165.2,43.4 170,42.5M170,42.5 174.8,41.7M174.8,41.7 179.5,41.1M179.5,41.1 184.1,40.5M197,41 193,40.1M184.1,40.5 188.8,40M193,40.1 189.1,39.4M188.8,40 193.3,39.6M189.1,39.4 185.2,39M193.3,39.6 197.9,39.2M138.8,49 143.8,47.6M143.8,47.6 148.7,46.3M148.7,46.3 153.6,45.2M153.6,45.2 158.5,44.1M158.5,44.1 163.3,43.1M163.3,43.1 168.1,42.2M168.1,42.2 172.8,41.5M172.8,41.5 177.5,40.8M177.5,40.8 182.2,40.2M199.3,40.8 195.3,39.9M182.2,40.2 186.8,39.7M195.3,39.9 191.4,39.2M186.8,39.7 191.4,39.2M191.4,39.2 187.5,38.8M191.4,39.2 195.9,38.9M126.8,51.9 131.9,50.3M131.9,50.3 136.9,48.8M136.9,48.8 141.9,47.4M141.9,47.4 146.8,46.1M146.8,46.1 151.7,45M151.7,45 156.5,43.9M156.5,43.9 161.4,42.9M161.4,42.9 166.1,42M166.1,42 170.9,41.2M170.9,41.2 175.6,40.5M175.6,40.5 180.2,39.9M201.6,40.7 197.6,39.8M180.2,39.9 184.8,39.4M197.6,39.8 193.7,39.1M184.8,39.4 189.4,39M193.7,39.1 189.7,38.6M189.4,39 194,38.6M119.9,53.4 124.9,51.7M124.9,51.7 130,50.1M130,50.1 135,48.7M135,48.7 140,47.3M140,47.3 144.9,46M144.9,46 149.8,44.8M149.8,44.8 154.6,43.7M154.6,43.7 159.4,42.7M159.4,42.7 164.2,41.8M164.2,41.8 168.9,41M168.9,41 173.6,40.3M207.9,41.6 203.9,40.5M173.6,40.3 178.3,39.7M203.9,40.5 199.9,39.6M178.3,39.7 182.9,39.2M199.9,39.6 195.9,38.9M182.9,39.2 187.5,38.8M195.9,38.9 192,38.4M187.5,38.8 192,38.4" fill="none" stroke="#000" stroke-width="1.2"/>
<ellipse cx="183.2" cy="68.5" rx="2.2" ry="2.6" fill="#701010" stroke="#200" stroke-width="0.8"/>
<circle cx="69.7" cy="168.7" r="1.4"/>
<text x="65.4" y="167.4" font-size="8.5" text-anchor="end" font-weight="bold" stroke="#000" stroke-width="0.2" fill="#000">0</text>
<circle cx="68.6" cy="136.1" r="1.4"/>
<text x="64.3" y="134.8" font-size="8.5" text-anchor="end" font-weight="bold" stroke="#000" stroke-width="0.2" fill="#000">5</text>
<circle cx="67.6" cy="103.4" r="1.4"/>
<text x="63.3" y="102.1" font-size="8.5" text-anchor="end" font-weight="bold" stroke="#000" stroke-width="0.2" fill="#000">10</text>
<circle cx="66.5" cy="70.7" r="1.4"/>
<text x="62.2" y="69.4" font-size="8.5" text-anchor="end" font-weight="bold" stroke="#000" stroke-width="0.2" fill="#000">15</text>
<circle cx="65.5" cy="38.0" r="1.4"/>
<text x="61.2" y="36.7" font-size="8.5" text-anchor="end" font-weight="bold" stroke="#000" stroke-width="0.2" fill="#000">20</text>
<circle cx="172.0" cy="264.0" r="1.4"/>
<text x="175.8" y="271.5" font-size="7.7" font-weight="bold" stroke="#000" stroke-width="0.2" fill="#000">2.00</text>
<circle cx="203.8" cy="252.4" r="1.4"/>
<text x="207.6" y="259.9" font-size="7.7" font-weight="bold" stroke="#000" stroke-width="0.2" fill="#000">2.50</text>
<circle cx="235.5" cy="240.8" r="1.4"/>
<text x="239.3" y="248.2" font-size="7.7" font-weight="bold" stroke="#000" stroke-width="0.2" fill="#000">3.00</text>
<circle cx="267.2" cy="229.1" r="1.4"/>
<text x="271.1" y="236.6" font-size="7.7" font-weight="bold" stroke="#000" stroke-width="0.2" fill="#000">3.50</text>
<circle cx="299.0" cy="217.5" r="1.4"/>
<text x="302.8" y="225" font-size="7.7" font-weight="bold" stroke="#000" stroke-width="0.2" fill="#000">4.00</text>
<circle cx="172.0" cy="264.0" r="1.4"/>
<text x="168.3" y="271.6" font-size="7.7" text-anchor="end" font-weight="bold" stroke="#000" stroke-width="0.2" fill="#000">2.50</text>
<circle cx="146.8" cy="250.5" r="1.4"/>
<circle cx="121.5" cy="237.0" r="1.4"/>
<text x="117.8" y="244.6" font-size="7.7" text-anchor="end" font-weight="bold" stroke="#000" stroke-width="0.2" fill="#000">3.50</text>
<circle cx="96.2" cy="223.5" r="1.4"/>
<text x="92.5" y="231.1" font-size="7.7" text-anchor="end" font-weight="bold" stroke="#000" stroke-width="0.2" fill="#000">4.00</text>
<circle cx="71.0" cy="210.0" r="1.4"/>
<text x="67.3" y="217.6" font-size="7.7" text-anchor="end" font-weight="bold" stroke="#000" stroke-width="0.2" fill="#000">4.50</text>
<rect x="219.5" y="257.9" width="112.7" height="13" fill="#fff"/>
<text x="222" y="267.4" font-size="11.4" textLength="108.7" lengthAdjust="spacingAndGlyphs" stroke="#000" stroke-width="0.55" fill="#000">A: Cane sugar (% w/v)</text>
<text x="8.4" y="260.5" font-size="11.4" textLength="133.3" lengthAdjust="spacingAndGlyphs" stroke="#000" stroke-width="0.55" fill="#000">B: Tunacondensate (% w/v)</text>
<rect x="22.0" y="92.0" width="12" height="68.0" fill="#e2e2f6"/>
<text transform="translate(31.8 126) rotate(-90)" font-size="11.2" text-anchor="middle" textLength="64" lengthAdjust="spacingAndGlyphs" style="white-space:pre" stroke="#000" stroke-width="0.55" fill="#000">GABA  (g/L)</text>
<polygon points="79.6,493.3 189.5,440 189.5,302.5 70,342" fill="#fefefe"/>
<polygon points="309.3,487.7 189.5,440 189.5,302.5 319,337.5" fill="#fefefe"/>
<path d="M77.3,457.2 L189.5,407.2 L311.6,451.9 M75.5,428.4 L189.5,381 L313.5,423.3 M73.7,399.6 L189.5,354.9 L315.3,394.7 M71.8,370.8 L189.5,328.7 L317.2,366.1 M70,342 L189.5,302.5 L319,337.5 M70,342 L79.6,493.3 M319,337.5 L309.3,487.7 M99.9,332.1 L105.4,444.7 M286.6,328.8 L281.1,440.7 M129.8,322.2 L133.4,432.2 M254.2,320 L250.6,429.6 M159.6,312.4 L161.5,419.7 M221.9,311.2 L220,418.4 M189.5,302.5 L189.5,440" fill="none" stroke="#101010" stroke-width="1.1"/>
<clipPath id="f2"><polygon points="201.5,553.9 309.3,487.7 189.5,440 79.6,493.3"/></clipPath>
<polygon points="201.5,553.9 309.3,487.7 189.5,440 79.6,493.3" fill="#ffff00" stroke="#15157a" stroke-width="0.9"/>
<g clip-path="url(#f2)" fill="none" stroke-width="1.2">
<polyline points="261.2,451.9 259.1,451.1 256.7,450.3 254.2,449.8 251.4,449.3 248.5,449 245.3,448.9 242,448.9 238.5,449.1 234.9,449.4 231.1,449.8 227.2,450.4 223.2,451.2 219.1,452.1 215,453.1 210.8,454.2 206.5,455.5 202.2,456.9 197.9,458.5 193.7,460.1 189.4,461.9 185.2,463.8 181.1,465.7 177,467.8 173.1,469.9 169.2,472.1 165.6,474.4 162,476.8 158.7,479.1 155.6,481.6 152.7,484 150,486.4 147.5,488.9 145.4,491.3 143.5,493.7 141.9,496.1 140.6,498.4 139.7,500.7 139.1,502.8 138.8,504.9 138.9,506.9 139.3,508.8 140,510.5 141.1,512.1 142.6,513.5 144.4,514.8 146.5,515.9 149,516.9 151.7,517.6 154.8,518.2 158.1,518.6 161.7,518.8 165.5,518.8 169.5,518.6 173.8,518.2 178.2,517.6 182.7,516.8 187.3,515.8 192,514.7 196.8,513.4 201.6,511.9 206.4,510.3 211.2,508.5 215.9,506.7 220.5,504.7 225,502.6 229.4,500.4 233.6,498.1 237.7,495.8 241.5,493.4 245.2,491 248.6,488.6 251.8,486.1 254.7,483.7 257.4,481.2 259.8,478.8 261.9,476.4 263.8,474.1 265.3,471.8 266.5,469.6 267.5,467.5 268.1,465.4 268.5,463.5 268.5,461.6 268.3,459.9 267.8,458.2 267,456.7 265.9,455.3 264.6,454 263,452.9 261.2,451.9" stroke="#ff9000"/>
<polyline points="245.9,437.1 240.6,437.7 235.3,438.5 229.7,439.5 224.1,440.7 218.3,442.1 212.5,443.6 206.5,445.4 200.6,447.3 194.6,449.4 188.6,451.7 182.6,454.1 176.7,456.7 170.8,459.4 165,462.3 159.4,465.2 153.9,468.3 148.6,471.5 143.5,474.8 138.6,478.2 134,481.6 129.7,485.1 125.7,488.6 122.1,492.1 118.8,495.6 115.9,499.1 113.4,502.6 111.4,506 109.8,509.3 108.8,512.5 108.2,515.6 108.1,518.5 108.5,521.3 109.5,523.9 111,526.3 113,528.4 115.5,530.4 118.5,532.1 122,533.5 126,534.7 130.5,535.5 135.3,536.1 140.6,536.4 146.2,536.4 152.2,536.1 158.4,535.5 164.9,534.6 171.5,533.4 178.4,531.9 185.3,530.2 192.3,528.2 199.3,526 206.4,523.6 213.3,521 220.1,518.2 226.8,515.2 233.4,512.1 239.7,508.9 245.7,505.6 251.5,502.2 257,498.7 262.1,495.2 266.9,491.7 271.3,488.1 275.4,484.6 279,481.1 282.3,477.7 285.1,474.3 287.6,471.1 289.6,467.9 291.2,464.8 292.3,461.8 293.1,459 293.5,456.3" stroke="#ffc000" stroke-opacity="0.55"/>
<polyline points="227.7,432.3 220.8,434 213.7,435.8 206.6,437.9 199.3,440.2 192.1,442.7 184.8,445.4 177.5,448.3 170.3,451.4 163.1,454.7 156.1,458.1 149.1,461.7 142.4,465.5 135.8,469.4 129.4,473.4 123.4,477.5 117.6,481.7 112.1,485.9 107.1,490.3 102.4,494.6 98.2,499 94.4,503.3 91.2,507.7 88.5,511.9 86.4,516.1 84.8,520.1 83.9,524 83.6,527.7 84,531.3 85.1,534.6" stroke="#f2ee00" stroke-opacity="0.55"/>
<polyline points="116.9,550.3 123.5,550.7 130.6,550.6 138.1,550.2 145.9,549.5 154.1,548.3 162.5,546.8 171.1,544.9 179.9,542.7 188.7,540.2 197.5,537.4 206.3,534.3 215,530.9 223.6,527.4 231.9,523.6 240,519.7 247.8,515.6 255.2,511.4 262.3,507.2 269,502.8 275.2,498.5 281,494.1 286.4,489.7 291.2,485.4 295.6,481.1 299.4,476.9 302.8,472.8 305.6,468.8 307.9,464.9 309.7,461.1" stroke="#f2ee00" stroke-opacity="0.55"/>
<polyline points="214.7,429.5 206.6,431.8 198.3,434.4 190,437.2 181.7,440.3 173.4,443.6 165.1,447.1 156.8,450.8 148.7,454.7 140.6,458.8 132.8,463.1 125.1,467.5 117.7,472.1 110.5,476.9 103.7,481.7 97.3,486.7 91.3,491.7 85.7,496.8 80.6,501.8 76.1,506.9 72.1,512 68.8,517 66.1,521.9" stroke="#b4f000" stroke-opacity="0.55"/>
<polyline points="135,561.8 144.6,560.4 154.6,558.6 164.8,556.3 175.1,553.7 185.6,550.7 196,547.3 206.3,543.6 216.5,539.6 226.5,535.3 236.3,530.9 245.7,526.2 254.7,521.4 263.4,516.5 271.5,511.4 279.2,506.3 286.4,501.2 293,496.1 299.1,491 304.6,486 309.5,481 313.8,476.2 317.5,471.4 320.6,466.9" stroke="#b4f000" stroke-opacity="0.55"/>
</g>
<g class="s">
<polygon color="#c7ff40" points="189.9,350.3 193.9,349.3 189.5,352 185.4,352.9"/>
<polygon color="#ccff40" points="185.8,351.3 189.9,350.3 185.4,352.9 181.4,354"/>
<polygon color="#ecff40" points="194.3,348 198.4,347.1 193.9,349.3 189.9,350.3"/>
<polygon color="#d1ff40" points="181.6,352.5 185.8,351.3 181.4,354 177.2,355.2"/>
<polygon color="#f1ff40" points="190.2,349 194.3,348 189.9,350.3 185.8,351.3"/>
<polygon color="#fff140" points="198.9,346 202.9,345.1 198.4,347.1 194.3,348"/>
<polygon color="#d5ff40" points="177.4,353.7 181.6,352.5 177.2,355.2 173,356.4"/>
<polygon color="#f6ff40" points="186.1,350.2 190.2,349 185.8,351.3 181.6,352.5"/>
<polygon color="#ffeb40" points="194.7,347.1 198.9,346 194.3,348 190.2,349"/>
<polygon color="#ffd340" points="203.4,344.5 207.5,343.5 202.9,345.1 198.9,346"/>
<polygon color="#d8ff40" points="173.2,355.1 177.4,353.7 173,356.4 168.8,357.7"/>
<polygon color="#faff40" points="181.9,351.4 186.1,350.2 181.6,352.5 177.4,353.7"/>
<polygon color="#ffe640" points="190.6,348.2 194.7,347.1 190.2,349 186.1,350.2"/>
<polygon color="#ffcd40" points="199.3,345.5 203.4,344.5 198.9,346 194.7,347.1"/>
<polygon color="#ffb840" points="208.1,343.2 212.1,342.3 207.5,343.5 203.4,344.5"/>
<polygon color="#daff40" points="168.9,356.5 173.2,355.1 168.8,357.7 164.5,359.2"/>
<polygon color="#fdff40" points="177.6,352.7 181.9,351.4 177.4,353.7 173.2,355.1"/>
<polygon color="#ffe240" points="186.4,349.4 190.6,348.2 186.1,350.2 181.9,351.4"/>
<polygon color="#ffc840" points="195.2,346.6 199.3,345.5 194.7,347.1 190.6,348.2"/>
<polygon color="#ffb240" points="204,344.2 208.1,343.2 203.4,344.5 199.3,345.5"/>
<polygon color="#ffa140" points="212.8,342.4 216.8,341.4 212.1,342.3 208.1,343.2"/>
<polygon color="#dbff40" points="164.6,358 168.9,356.5 164.5,359.2 160.2,360.7"/>
<polygon color="#ffff40" points="173.4,354.1 177.6,352.7 173.2,355.1 168.9,356.5"/>
<polygon color="#ffdf40" points="182.2,350.7 186.4,349.4 181.9,351.4 177.6,352.7"/>
<polygon color="#ffc440" points="191,347.8 195.2,346.6 190.6,348.2 186.4,349.4"/>
<polygon color="#ffae40" points="199.8,345.4 204,344.2 199.3,345.5 195.2,346.6"/>
<polygon color="#ff9b40" points="208.7,343.4 212.8,342.4 208.1,343.2 204,344.2"/>
<polygon color="#ff8d40" points="217.5,341.9 221.6,340.9 216.8,341.4 212.8,342.4"/>
<polygon color="#dcff40" points="160.2,359.7 164.6,358 160.2,360.7 155.8,362.4"/>
<polygon color="#fffd40" points="169,355.7 173.4,354.1 168.9,356.5 164.6,358"/>
<polygon color="#ffdd40" points="177.9,352.2 182.2,350.7 177.6,352.7 173.4,354.1"/>
<polygon color="#ffc140" points="186.7,349.1 191,347.8 186.4,349.4 182.2,350.7"/>
<polygon color="#ffa940" points="195.6,346.6 199.8,345.4 195.2,346.6 191,347.8"/>
<polygon color="#ff9640" points="204.5,344.5 208.7,343.4 204,344.2 199.8,345.4"/>
<polygon color="#ff8840" points="213.4,342.9 217.5,341.9 212.8,342.4 208.7,343.4"/>
<polygon color="#ff7d40" points="222.3,341.7 226.4,340.8 221.6,340.9 217.5,341.9"/>
<polygon color="#dcff40" points="155.8,361.4 160.2,359.7 155.8,362.4 151.4,364.1"/>
<polygon color="#fffc40" points="164.6,357.3 169,355.7 164.6,358 160.2,359.7"/>
<polygon color="#ffdb40" points="173.5,353.7 177.9,352.2 173.4,354.1 169,355.7"/>
<polygon color="#ffbe40" points="182.4,350.5 186.7,349.1 182.2,350.7 177.9,352.2"/>
<polygon color="#ffa640" points="191.4,347.9 195.6,346.6 191,347.8 186.7,349.1"/>
<polygon color="#ff9240" points="200.3,345.7 204.5,344.5 199.8,345.4 195.6,346.6"/>
<polygon color="#ff8240" points="209.3,344 213.4,342.9 208.7,343.4 204.5,344.5"/>
<polygon color="#ff7740" points="218.2,342.7 222.3,341.7 217.5,341.9 213.4,342.9"/>
<polygon color="#ff7140" points="227.2,342 231.2,341.1 226.4,340.8 222.3,341.7"/>
<polygon color="#dbff40" points="151.3,363.2 155.8,361.4 151.4,364.1 146.9,366"/>
<polygon color="#fffc40" points="160.2,359 164.6,357.3 160.2,359.7 155.8,361.4"/>
<polygon color="#ffda40" points="169.1,355.3 173.5,353.7 169,355.7 164.6,357.3"/>
<polygon color="#ffbd40" points="178.1,352 182.4,350.5 177.9,352.2 173.5,353.7"/>
<polygon color="#ffa440" points="187.1,349.3 191.4,347.9 186.7,349.1 182.4,350.5"/>
<polygon color="#ff8f40" points="196.1,347 200.3,345.7 195.6,346.6 191.4,347.9"/>
<polygon color="#ff7e40" points="205.1,345.2 209.3,344 204.5,344.5 200.3,345.7"/>
<polygon color="#ff7240" points="214.1,343.8 218.2,342.7 213.4,342.9 209.3,344"/>
<polygon color="#ff6b40" points="223.1,343 227.2,342 222.3,341.7 218.2,342.7"/>
<polygon color="#ff6740" points="232.1,342.6 236.1,341.7 231.2,341.1 227.2,342"/>
<polygon color="#d9ff40" points="146.8,365.2 151.3,363.2 146.9,366 142.4,367.9"/>
<polygon color="#fffd40" points="155.7,360.9 160.2,359 155.8,361.4 151.3,363.2"/>
<polygon color="#ffda40" points="164.7,357 169.1,355.3 164.6,357.3 160.2,359"/>
<polygon color="#ffbc40" points="173.7,353.7 178.1,352 173.5,353.7 169.1,355.3"/>
<polygon color="#ffa240" points="182.7,350.8 187.1,349.3 182.4,350.5 178.1,352"/>
<polygon color="#ff8c40" points="191.8,348.4 196.1,347 191.4,347.9 187.1,349.3"/>
<polygon color="#ff7b40" points="200.8,346.5 205.1,345.2 200.3,345.7 196.1,347"/>
<polygon color="#ff6e40" points="209.9,345.1 214.1,343.8 209.3,344 205.1,345.2"/>
<polygon color="#ff6540" points="219,344.1 223.1,343 218.2,342.7 214.1,343.8"/>
<polygon color="#ff6140" points="228,343.6 232.1,342.6 227.2,342 223.1,343"/>
<polygon color="#ff6140" points="237.1,343.6 241.1,342.7 236.1,341.7 232.1,342.6"/>
<polygon color="#d7ff40" points="142.2,367.2 146.8,365.2 142.4,367.9 137.8,370"/>
<polygon color="#ffff40" points="151.2,362.8 155.7,360.9 151.3,363.2 146.8,365.2"/>
<polygon color="#ffdb40" points="160.2,358.8 164.7,357 160.2,359 155.7,360.9"/>
<polygon color="#ffbc40" points="169.3,355.4 173.7,353.7 169.1,355.3 164.7,357"/>
<polygon color="#ffa140" points="178.3,352.4 182.7,350.8 178.1,352 173.7,353.7"/>
<polygon color="#ff8a40" points="187.4,349.9 191.8,348.4 187.1,349.3 182.7,350.8"/>
<polygon color="#ff7840" points="196.5,347.9 200.8,346.5 196.1,347 191.8,348.4"/>
<polygon color="#ff6a40" points="205.6,346.4 209.9,345.1 205.1,345.2 200.8,346.5"/>
<polygon color="#ff6140" points="214.8,345.3 219,344.1 214.1,343.8 209.9,345.1"/>
<polygon color="#ff5c40" points="223.9,344.7 228,343.6 223.1,343 219,344.1"/>
<polygon color="#ff5b40" points="233,344.6 237.1,343.6 232.1,342.6 228,343.6"/>
<polygon color="#ff5f40" points="242.1,345 246.1,344.1 241.1,342.7 237.1,343.6"/>
<polygon color="#d4ff40" points="137.6,369.4 142.2,367.2 137.8,370 133.2,372.1"/>
<polygon color="#fdff40" points="146.6,364.8 151.2,362.8 146.8,365.2 142.2,367.2"/>
<polygon color="#ffdd40" points="155.7,360.8 160.2,358.8 155.7,360.9 151.2,362.8"/>
<polygon color="#ffbc40" points="164.8,357.2 169.3,355.4 164.7,357 160.2,358.8"/>
<polygon color="#ffa040" points="173.9,354.1 178.3,352.4 173.7,353.7 169.3,355.4"/>
<polygon color="#ff8940" points="183,351.5 187.4,349.9 182.7,350.8 178.3,352.4"/>
<polygon color="#ff7640" points="192.2,349.4 196.5,347.9 191.8,348.4 187.4,349.9"/>
<polygon color="#ff6740" points="201.3,347.8 205.6,346.4 200.8,346.5 196.5,347.9"/>
<polygon color="#ff5d40" points="210.5,346.6 214.8,345.3 209.9,345.1 205.6,346.4"/>
<polygon color="#ff5740" points="219.7,346 223.9,344.7 219,344.1 214.8,345.3"/>
<polygon color="#ff5640" points="228.9,345.8 233,344.6 228,343.6 223.9,344.7"/>
<polygon color="#ff5940" points="238,346.1 242.1,345 237.1,343.6 233,344.6"/>
<polygon color="#ff6040" points="247.2,346.8 251.2,345.9 246.1,344.1 242.1,345"/>
<polygon color="#d0ff40" points="132.9,371.6 137.6,369.4 133.2,372.1 128.6,374.4"/>
<polygon color="#faff40" points="142,367 146.6,364.8 142.2,367.2 137.6,369.4"/>
<polygon color="#ffdf40" points="151.1,362.8 155.7,360.8 151.2,362.8 146.6,364.8"/>
<polygon color="#ffbe40" points="160.2,359.1 164.8,357.2 160.2,358.8 155.7,360.8"/>
<polygon color="#ffa140" points="169.4,355.9 173.9,354.1 169.3,355.4 164.8,357.2"/>
<polygon color="#ff8940" points="178.6,353.2 183,351.5 178.3,352.4 173.9,354.1"/>
<polygon color="#ff7540" points="187.8,351 192.2,349.4 187.4,349.9 183,351.5"/>
<polygon color="#ff6540" points="197,349.3 201.3,347.8 196.5,347.9 192.2,349.4"/>
<polygon color="#ff5a40" points="206.2,348 210.5,346.6 205.6,346.4 201.3,347.8"/>
<polygon color="#ff5440" points="215.5,347.3 219.7,346 214.8,345.3 210.5,346.6"/>
<polygon color="#ff5140" points="224.7,347 228.9,345.8 223.9,344.7 219.7,346"/>
<polygon color="#ff5340" points="233.9,347.2 238,346.1 233,344.6 228.9,345.8"/>
<polygon color="#ff5a40" points="243.1,347.9 247.2,346.8 242.1,345 238,346.1"/>
<polygon color="#ff6540" points="252.3,349 256.3,348.1 251.2,345.9 247.2,346.8"/>
<polygon color="#cbff40" points="128.2,374 132.9,371.6 128.6,374.4 123.9,376.8"/>
<polygon color="#f6ff40" points="137.3,369.2 142,367 137.6,369.4 132.9,371.6"/>
<polygon color="#ffe240" points="146.4,365 151.1,362.8 146.6,364.8 142,367"/>
<polygon color="#ffc040" points="155.6,361.2 160.2,359.1 155.7,360.8 151.1,362.8"/>
<polygon color="#ffa240" points="164.8,357.9 169.4,355.9 164.8,357.2 160.2,359.1"/>
<polygon color="#ff8940" points="174.1,355.1 178.6,353.2 173.9,354.1 169.4,355.9"/>
<polygon color="#ff7440" points="183.3,352.7 187.8,351 183,351.5 178.6,353.2"/>
<polygon color="#ff6440" points="192.6,350.9 197,349.3 192.2,349.4 187.8,351"/>
<polygon color="#ff5840" points="201.9,349.6 206.2,348 201.3,347.8 197,349.3"/>
<polygon color="#ff5140" points="211.2,348.7 215.5,347.3 210.5,346.6 206.2,348"/>
<polygon color="#ff4d40" points="220.5,348.3 224.7,347 219.7,346 215.5,347.3"/>
<polygon color="#ff4f40" points="229.7,348.4 233.9,347.2 228.9,345.8 224.7,347"/>
<polygon color="#ff5440" points="239,349 243.1,347.9 238,346.1 233.9,347.2"/>
<polygon color="#ff5e40" points="248.3,350.1 252.3,349 247.2,346.8 243.1,347.9"/>
<polygon color="#ff6d40" points="257.5,351.6 261.5,350.7 256.3,348.1 252.3,349"/>
<polygon color="#c6ff40" points="123.4,376.5 128.2,374 123.9,376.8 119.1,379.3"/>
<polygon color="#f1ff40" points="132.5,371.6 137.3,369.2 132.9,371.6 128.2,374"/>
<polygon color="#ffe640" points="141.7,367.2 146.4,365 142,367 137.3,369.2"/>
<polygon color="#ffc340" points="150.9,363.3 155.6,361.2 151.1,362.8 146.4,365"/>
<polygon color="#ffa440" points="160.2,359.9 164.8,357.9 160.2,359.1 155.6,361.2"/>
<polygon color="#ff8a40" points="169.5,357 174.1,355.1 169.4,355.9 164.8,357.9"/>
<polygon color="#ff7540" points="178.8,354.6 183.3,352.7 178.6,353.2 174.1,355.1"/>
<polygon color="#ff6440" points="188.1,352.6 192.6,350.9 187.8,351 183.3,352.7"/>
<polygon color="#ff5740" points="197.5,351.2 201.9,349.6 197,349.3 192.6,350.9"/>
<polygon color="#ff4e40" points="206.8,350.2 211.2,348.7 206.2,348 201.9,349.6"/>
<polygon color="#ff4a40" points="216.2,349.7 220.5,348.3 215.5,347.3 211.2,348.7"/>
<polygon color="#ff4b40" points="225.5,349.7 229.7,348.4 224.7,347 220.5,348.3"/>
<polygon color="#ff4f40" points="234.9,350.2 239,349 233.9,347.2 229.7,348.4"/>
<polygon color="#ff5940" points="244.2,351.2 248.3,350.1 243.1,347.9 239,349"/>
<polygon color="#ff6640" points="253.5,352.7 257.5,351.6 252.3,349 248.3,350.1"/>
<polygon color="#ff7840" points="262.7,354.7 266.7,353.7 261.5,350.7 257.5,351.6"/>
<polygon color="#bfff40" points="118.6,379.1 123.4,376.5 119.1,379.3 114.3,381.9"/>
<polygon color="#ecff40" points="127.7,374.1 132.5,371.6 128.2,374 123.4,376.5"/>
<polygon color="#ffea40" points="137,369.6 141.7,367.2 137.3,369.2 132.5,371.6"/>
<polygon color="#ffc740" points="146.2,365.6 150.9,363.3 146.4,365 141.7,367.2"/>
<polygon color="#ffa740" points="155.5,362.1 160.2,359.9 155.6,361.2 150.9,363.3"/>
<polygon color="#ff8c40" points="164.9,359 169.5,357 164.8,357.9 160.2,359.9"/>
<polygon color="#ff7640" points="174.2,356.5 178.8,354.6 174.1,355.1 169.5,357"/>
<polygon color="#ff6440" points="183.6,354.5 188.1,352.6 183.3,352.7 178.8,354.6"/>
<polygon color="#ff5640" points="193,352.9 197.5,351.2 192.6,350.9 188.1,352.6"/>
<polygon color="#ff4d40" points="202.4,351.8 206.8,350.2 201.9,349.6 197.5,351.2"/>
<polygon color="#ff4840" points="211.8,351.3 216.2,349.7 211.2,348.7 206.8,350.2"/>
<polygon color="#ff4840" points="221.2,351.2 225.5,349.7 220.5,348.3 216.2,349.7"/>
<polygon color="#ff4b40" points="230.6,351.6 234.9,350.2 229.7,348.4 225.5,349.7"/>
<polygon color="#ff5440" points="240,352.5 244.2,351.2 239,349 234.9,350.2"/>
<polygon color="#ff6040" points="249.4,353.9 253.5,352.7 248.3,350.1 244.2,351.2"/>
<polygon color="#ff7140" points="258.7,355.7 262.7,354.7 257.5,351.6 253.5,352.7"/>
<polygon color="#ff8740" points="268,358.1 272,357.1 266.7,353.7 262.7,354.7"/>
<polygon color="#b8ff40" points="113.7,381.8 118.6,379.1 114.3,381.9 109.4,384.6"/>
<polygon color="#e5ff40" points="122.9,376.7 127.7,374.1 123.4,376.5 118.6,379.1"/>
<polygon color="#fff040" points="132.2,372.1 137,369.6 132.5,371.6 127.7,374.1"/>
<polygon color="#ffcb40" points="141.5,368 146.2,365.6 141.7,367.2 137,369.6"/>
<polygon color="#ffab40" points="150.8,364.3 155.5,362.1 150.9,363.3 146.2,365.6"/>
<polygon color="#ff8f40" points="160.2,361.2 164.9,359 160.2,359.9 155.5,362.1"/>
<polygon color="#ff7840" points="169.6,358.5 174.2,356.5 169.5,357 164.9,359"/>
<polygon color="#ff6540" points="179.1,356.4 183.6,354.5 178.8,354.6 174.2,356.5"/>
<polygon color="#ff5640" points="188.5,354.7 193,352.9 188.1,352.6 183.6,354.5"/>
<polygon color="#ff4c40" points="198,353.6 202.4,351.8 197.5,351.2 193,352.9"/>
<polygon color="#ff4640" points="207.4,352.9 211.8,351.3 206.8,350.2 202.4,351.8"/>
<polygon color="#ff4540" points="216.9,352.7 221.2,351.2 216.2,349.7 211.8,351.3"/>
<polygon color="#ff4840" points="226.4,353 230.6,351.6 225.5,349.7 221.2,351.2"/>
<polygon color="#ff5040" points="235.8,353.8 240,352.5 234.9,350.2 230.6,351.6"/>
<polygon color="#ff5b40" points="245.2,355.1 249.4,353.9 244.2,351.2 240,352.5"/>
<polygon color="#ff6c40" points="254.6,356.9 258.7,355.7 253.5,352.7 249.4,353.9"/>
<polygon color="#ff8040" points="264,359.2 268,358.1 262.7,354.7 258.7,355.7"/>
<polygon color="#ff9940" points="273.3,361.9 277.3,360.9 272,357.1 268,358.1"/>
<polygon color="#b0ff40" points="108.8,384.6 113.7,381.8 109.4,384.6 104.5,387.4"/>
<polygon color="#deff40" points="118,379.4 122.9,376.7 118.6,379.1 113.7,381.8"/>
<polygon color="#fff640" points="127.3,374.7 132.2,372.1 127.7,374.1 122.9,376.7"/>
<polygon color="#ffd040" points="136.7,370.4 141.5,368 137,369.6 132.2,372.1"/>
<polygon color="#ffaf40" points="146,366.7 150.8,364.3 146.2,365.6 141.5,368"/>
<polygon color="#ff9340" points="155.5,363.5 160.2,361.2 155.5,362.1 150.8,364.3"/>
<polygon color="#ff7b40" points="164.9,360.7 169.6,358.5 164.9,359 160.2,361.2"/>
<polygon color="#ff6740" points="174.4,358.5 179.1,356.4 174.2,356.5 169.6,358.5"/>
<polygon color="#ff5740" points="183.9,356.7 188.5,354.7 183.6,354.5 179.1,356.4"/>
<polygon color="#ff4c40" points="193.5,355.4 198,353.6 193,352.9 188.5,354.7"/>
<polygon color="#ff4640" points="203,354.7 207.4,352.9 202.4,351.8 198,353.6"/>
<polygon color="#ff4440" points="212.5,354.4 216.9,352.7 211.8,351.3 207.4,352.9"/>
<polygon color="#ff4640" points="222,354.6 226.4,353 221.2,351.2 216.9,352.7"/>
<polygon color="#ff4c40" points="231.5,355.3 235.8,353.8 230.6,351.6 226.4,353"/>
<polygon color="#ff5740" points="241,356.5 245.2,355.1 240,352.5 235.8,353.8"/>
<polygon color="#ff6740" points="250.5,358.2 254.6,356.9 249.4,353.9 245.2,355.1"/>
<polygon color="#ff7a40" points="259.9,360.4 264,359.2 258.7,355.7 254.6,356.9"/>
<polygon color="#ff9340" points="269.3,363 273.3,361.9 268,358.1 264,359.2"/>
<polygon color="#ffaf40" points="278.7,366.2 282.6,365.2 277.3,360.9 273.3,361.9"/>
<polygon color="#a8ff40" points="103.8,387.6 108.8,384.6 104.5,387.4 99.6,390.4"/>
<polygon color="#d7ff40" points="113.1,382.2 118,379.4 113.7,381.8 108.8,384.6"/>
<polygon color="#fffd40" points="122.4,377.4 127.3,374.7 122.9,376.7 118,379.4"/>
<polygon color="#ffd640" points="131.8,373 136.7,370.4 132.2,372.1 127.3,374.7"/>
<polygon color="#ffb540" points="141.2,369.2 146,366.7 141.5,368 136.7,370.4"/>
<polygon color="#ff9740" points="150.7,365.8 155.5,363.5 150.8,364.3 146,366.7"/>
<polygon color="#ff7e40" points="160.2,363 164.9,360.7 160.2,361.2 155.5,363.5"/>
<polygon color="#ff6940" points="169.7,360.6 174.4,358.5 169.6,358.5 164.9,360.7"/>
<polygon color="#ff5940" points="179.3,358.7 183.9,356.7 179.1,356.4 174.4,358.5"/>
<polygon color="#ff4d40" points="188.9,357.4 193.5,355.4 188.5,354.7 183.9,356.7"/>
<polygon color="#ff4640" points="198.5,356.5 203,354.7 198,353.6 193.5,355.4"/>
<polygon color="#ff4340" points="208.1,356.1 212.5,354.4 207.4,352.9 203,354.7"/>
<polygon color="#ff4440" points="217.6,356.2 222,354.6 216.9,352.7 212.5,354.4"/>
<polygon color="#ff4a40" points="227.2,356.9 231.5,355.3 226.4,353 222,354.6"/>
<polygon color="#ff5440" points="236.8,358 241,356.5 235.8,353.8 231.5,355.3"/>
<polygon color="#ff6240" points="246.3,359.6 250.5,358.2 245.2,355.1 241,356.5"/>
<polygon color="#ff7540" points="255.8,361.7 259.9,360.4 254.6,356.9 250.5,358.2"/>
<polygon color="#ff8d40" points="265.3,364.2 269.3,363 264,359.2 259.9,360.4"/>
<polygon color="#ffa840" points="274.7,367.3 278.7,366.2 273.3,361.9 269.3,363"/>
<polygon color="#ffc840" points="284,370.9 287.9,369.8 282.6,365.2 278.7,366.2"/>
<polygon color="#9eff40" points="98.8,390.6 103.8,387.6 99.6,390.4 94.6,393.4"/>
<polygon color="#ceff40" points="108.1,385.2 113.1,382.2 108.8,384.6 103.8,387.6"/>
<polygon color="#faff40" points="117.4,380.2 122.4,377.4 118,379.4 113.1,382.2"/>
<polygon color="#ffdd40" points="126.9,375.7 131.8,373 127.3,374.7 122.4,377.4"/>
<polygon color="#ffbb40" points="136.3,371.8 141.2,369.2 136.7,370.4 131.8,373"/>
<polygon color="#ff9c40" points="145.9,368.3 150.7,365.8 146,366.7 141.2,369.2"/>
<polygon color="#ff8240" points="155.4,365.4 160.2,363 155.5,363.5 150.7,365.8"/>
<polygon color="#ff6d40" points="165,362.9 169.7,360.6 164.9,360.7 160.2,363"/>
<polygon color="#ff5c40" points="174.6,360.9 179.3,358.7 174.4,358.5 169.7,360.6"/>
<polygon color="#ff4f40" points="184.3,359.4 188.9,357.4 183.9,356.7 179.3,358.7"/>
<polygon color="#ff4740" points="193.9,358.5 198.5,356.5 193.5,355.4 188.9,357.4"/>
<polygon color="#ff4340" points="203.6,358 208.1,356.1 203,354.7 198.5,356.5"/>
<polygon color="#ff4340" points="213.2,358 217.6,356.2 212.5,354.4 208.1,356.1"/>
<polygon color="#ff4840" points="222.8,358.5 227.2,356.9 222,354.6 217.6,356.2"/>
<polygon color="#ff5140" points="232.5,359.5 236.8,358 231.5,355.3 227.2,356.9"/>
<polygon color="#ff5f40" points="242.1,361 246.3,359.6 241,356.5 236.8,358"/>
<polygon color="#ff7140" points="251.6,363 255.8,361.7 250.5,358.2 246.3,359.6"/>
<polygon color="#ff8740" points="261.2,365.5 265.3,364.2 259.9,360.4 255.8,361.7"/>
<polygon color="#ffa240" points="270.6,368.5 274.7,367.3 269.3,363 265.3,364.2"/>
<polygon color="#ffc140" points="280.1,372 284,370.9 278.7,366.2 274.7,367.3"/>
<polygon color="#ffe540" points="289.4,376 293.3,374.9 287.9,369.8 284,370.9"/>
<polygon color="#94ff40" points="93.7,393.8 98.8,390.6 94.6,393.4 89.5,396.6"/>
<polygon color="#c5ff40" points="103,388.2 108.1,385.2 103.8,387.6 98.8,390.6"/>
<polygon color="#f1ff40" points="112.4,383.2 117.4,380.2 113.1,382.2 108.1,385.2"/>
<polygon color="#ffe540" points="121.9,378.6 126.9,375.7 122.4,377.4 117.4,380.2"/>
<polygon color="#ffc140" points="131.4,374.5 136.3,371.8 131.8,373 126.9,375.7"/>
<polygon color="#ffa240" points="141,370.9 145.9,368.3 141.2,369.2 136.3,371.8"/>
<polygon color="#ff8740" points="150.6,367.9 155.4,365.4 150.7,365.8 145.9,368.3"/>
<polygon color="#ff7140" points="160.2,365.3 165,362.9 160.2,363 155.4,365.4"/>
<polygon color="#ff5f40" points="169.9,363.2 174.6,360.9 169.7,360.6 165,362.9"/>
<polygon color="#ff5140" points="179.6,361.6 184.3,359.4 179.3,358.7 174.6,360.9"/>
<polygon color="#ff4840" points="189.3,360.6 193.9,358.5 188.9,357.4 184.3,359.4"/>
<polygon color="#ff4340" points="199,360 203.6,358 198.5,356.5 193.9,358.5"/>
<polygon color="#ff4340" points="208.7,359.9 213.2,358 208.1,356.1 203.6,358"/>
<polygon color="#ff4740" points="218.4,360.3 222.8,358.5 217.6,356.2 213.2,358"/>
<polygon color="#ff4f40" points="228.1,361.2 232.5,359.5 227.2,356.9 222.8,358.5"/>
<polygon color="#ff5c40" points="237.8,362.6 242.1,361 236.8,358 232.5,359.5"/>
<polygon color="#ff6d40" points="247.4,364.6 251.6,363 246.3,359.6 242.1,361"/>
<polygon color="#ff8340" points="257,367 261.2,365.5 255.8,361.7 251.6,363"/>
<polygon color="#ff9d40" points="266.5,369.9 270.6,368.5 265.3,364.2 261.2,365.5"/>
<polygon color="#ffbb40" points="276,373.3 280.1,372 274.7,367.3 270.6,368.5"/>
<polygon color="#ffde40" points="285.5,377.1 289.4,376 284,370.9 280.1,372"/>
<polygon color="#f9ff40" points="294.9,381.5 298.7,380.5 293.3,374.9 289.4,376"/>
<polygon color="#89ff40" points="88.6,397.1 93.7,393.8 89.5,396.6 84.4,399.9"/>
<polygon color="#bbff40" points="97.9,391.4 103,388.2 98.8,390.6 93.7,393.8"/>
<polygon color="#e8ff40" points="107.4,386.2 112.4,383.2 108.1,385.2 103,388.2"/>
<polygon color="#ffed40" points="116.9,381.5 121.9,378.6 117.4,380.2 112.4,383.2"/>
<polygon color="#ffc940" points="126.4,377.3 131.4,374.5 126.9,375.7 121.9,378.6"/>
<polygon color="#ffa940" points="136,373.6 141,370.9 136.3,371.8 131.4,374.5"/>
<polygon color="#ff8d40" points="145.7,370.5 150.6,367.9 145.9,368.3 141,370.9"/>
<polygon color="#ff7640" points="155.4,367.8 160.2,365.3 155.4,365.4 150.6,367.9"/>
<polygon color="#ff6340" points="165.1,365.6 169.9,363.2 165,362.9 160.2,365.3"/>
<polygon color="#ff5540" points="174.8,363.9 179.6,361.6 174.6,360.9 169.9,363.2"/>
<polygon color="#ff4b40" points="184.6,362.7 189.3,360.6 184.3,359.4 179.6,361.6"/>
<polygon color="#ff4540" points="194.4,362.1 199,360 193.9,358.5 189.3,360.6"/>
<polygon color="#ff4440" points="204.1,361.9 208.7,359.9 203.6,358 199,360"/>
<polygon color="#ff4740" points="213.9,362.2 218.4,360.3 213.2,358 208.7,359.9"/>
<polygon color="#ff4e40" points="223.7,363 228.1,361.2 222.8,358.5 218.4,360.3"/>
<polygon color="#ff5a40" points="233.4,364.4 237.8,362.6 232.5,359.5 228.1,361.2"/>
<polygon color="#ff6a40" points="243.1,366.2 247.4,364.6 242.1,361 237.8,362.6"/>
<polygon color="#ff7f40" points="252.8,368.5 257,367 251.6,363 247.4,364.6"/>
<polygon color="#ff9840" points="262.4,371.3 266.5,369.9 261.2,365.5 257,367"/>
<polygon color="#ffb640" points="272,374.6 276,373.3 270.6,368.5 266.5,369.9"/>
<polygon color="#ffd840" points="281.5,378.4 285.5,377.1 280.1,372 276,373.3"/>
<polygon color="#fffe40" points="290.9,382.7 294.9,381.5 289.4,376 285.5,377.1"/>
<polygon color="#d5ff40" points="300.3,387.5 304.1,386.4 298.7,380.5 294.9,381.5"/>
<polygon color="#7dff40" points="83.4,400.5 88.6,397.1 84.4,399.9 79.3,403.3"/>
<polygon color="#b0ff40" points="92.8,394.7 97.9,391.4 93.7,393.8 88.6,397.1"/>
<polygon color="#deff40" points="102.3,389.4 107.4,386.2 103,388.2 97.9,391.4"/>
<polygon color="#fff640" points="111.8,384.6 116.9,381.5 112.4,383.2 107.4,386.2"/>
<polygon color="#ffd140" points="121.4,380.3 126.4,377.3 121.9,378.6 116.9,381.5"/>
<polygon color="#ffb040" points="131,376.5 136,373.6 131.4,374.5 126.4,377.3"/>
<polygon color="#ff9440" points="140.7,373.2 145.7,370.5 141,370.9 136,373.6"/>
<polygon color="#ff7c40" points="150.5,370.4 155.4,367.8 150.6,367.9 145.7,370.5"/>
<polygon color="#ff6840" points="160.2,368.1 165.1,365.6 160.2,365.3 155.4,367.8"/>
<polygon color="#ff5940" points="170,366.3 174.8,363.9 169.9,363.2 165.1,365.6"/>
<polygon color="#ff4e40" points="179.9,365.1 184.6,362.7 179.6,361.6 174.8,363.9"/>
<polygon color="#ff4740" points="189.7,364.3 194.4,362.1 189.3,360.6 184.6,362.7"/>
<polygon color="#ff4540" points="199.5,364 204.1,361.9 199,360 194.4,362.1"/>
<polygon color="#ff4740" points="209.4,364.2 213.9,362.2 208.7,359.9 204.1,361.9"/>
<polygon color="#ff4e40" points="219.2,364.9 223.7,363 218.4,360.3 213.9,362.2"/>
<polygon color="#ff5940" points="229,366.2 233.4,364.4 228.1,361.2 223.7,363"/>
<polygon color="#ff6840" points="238.7,367.9 243.1,366.2 237.8,362.6 233.4,364.4"/>
<polygon color="#ff7c40" points="248.5,370.1 252.8,368.5 247.4,364.6 243.1,366.2"/>
<polygon color="#ff9540" points="258.2,372.8 262.4,371.3 257,367 252.8,368.5"/>
<polygon color="#ffb140" points="267.8,376.1 272,374.6 266.5,369.9 262.4,371.3"/>
<polygon color="#ffd240" points="277.4,379.8 281.5,378.4 276,373.3 272,374.6"/>
<polygon color="#fff840" points="286.9,384 290.9,382.7 285.5,377.1 281.5,378.4"/>
<polygon color="#dcff40" points="296.4,388.7 300.3,387.5 294.9,381.5 290.9,382.7"/>
<polygon color="#aeff40" points="305.7,393.9 309.6,392.8 304.1,386.4 300.3,387.5"/>
<polygon color="#71ff40" points="78.2,404.1 83.4,400.5 79.3,403.3 74.1,406.9"/>
<polygon color="#a4ff40" points="87.6,398.1 92.8,394.7 88.6,397.1 83.4,400.5"/>
<polygon color="#d3ff40" points="97.1,392.7 102.3,389.4 97.9,391.4 92.8,394.7"/>
<polygon color="#feff40" points="106.7,387.8 111.8,384.6 107.4,386.2 102.3,389.4"/>
<polygon color="#ffda40" points="116.3,383.4 121.4,380.3 116.9,381.5 111.8,384.6"/>
<polygon color="#ffb840" points="126,379.5 131,376.5 126.4,377.3 121.4,380.3"/>
<polygon color="#ff9b40" points="135.7,376 140.7,373.2 136,373.6 131,376.5"/>
<polygon color="#ff8240" points="145.5,373.1 150.5,370.4 145.7,370.5 140.7,373.2"/>
<polygon color="#ff6e40" points="155.3,370.8 160.2,368.1 155.4,367.8 150.5,370.4"/>
<polygon color="#ff5d40" points="165.2,368.9 170,366.3 165.1,365.6 160.2,368.1"/>
<polygon color="#ff5240" points="175.1,367.5 179.9,365.1 174.8,363.9 170,366.3"/>
<polygon color="#ff4a40" points="184.9,366.6 189.7,364.3 184.6,362.7 179.9,365.1"/>
<polygon color="#ff4740" points="194.8,366.2 199.5,364 194.4,362.1 189.7,364.3"/>
<polygon color="#ff4940" points="204.7,366.3 209.4,364.2 204.1,361.9 199.5,364"/>
<polygon color="#ff4e40" points="214.6,367 219.2,364.9 213.9,362.2 209.4,364.2"/>
<polygon color="#ff5940" points="224.5,368.1 229,366.2 223.7,363 219.2,364.9"/>
<polygon color="#ff6740" points="234.3,369.7 238.7,367.9 233.4,364.4 229,366.2"/>
<polygon color="#ff7a40" points="244.1,371.9 248.5,370.1 243.1,366.2 238.7,367.9"/>
<polygon color="#ff9240" points="253.9,374.5 258.2,372.8 252.8,368.5 248.5,370.1"/>
<polygon color="#ffad40" points="263.6,377.6 267.8,376.1 262.4,371.3 258.2,372.8"/>
<polygon color="#ffce40" points="273.3,381.3 277.4,379.8 272,374.6 267.8,376.1"/>
<polygon color="#fff240" points="282.9,385.4 286.9,384 281.5,378.4 277.4,379.8"/>
<polygon color="#e3ff40" points="292.4,390 296.4,388.7 290.9,382.7 286.9,384"/>
<polygon color="#b6ff40" points="301.8,395.2 305.7,393.9 300.3,387.5 296.4,388.7"/>
<polygon color="#84ff40" points="311.2,400.8 315,399.6 309.6,392.8 305.7,393.9"/>
<polygon color="#98ff40" points="82.4,401.7 87.6,398.1 83.4,400.5 78.2,404.1"/>
<polygon color="#c8ff40" points="91.9,396.1 97.1,392.7 92.8,394.7 87.6,398.1"/>
<polygon color="#f3ff40" points="101.5,391.1 106.7,387.8 102.3,389.4 97.1,392.7"/>
<polygon color="#ffe440" points="111.1,386.6 116.3,383.4 111.8,384.6 106.7,387.8"/>
<polygon color="#ffc140" points="120.9,382.5 126,379.5 121.4,380.3 116.3,383.4"/>
<polygon color="#ffa340" points="130.6,379 135.7,376 131,376.5 126,379.5"/>
<polygon color="#ff8940" points="140.5,376 145.5,373.1 140.7,373.2 135.7,376"/>
<polygon color="#ff7440" points="150.4,373.5 155.3,370.8 150.5,370.4 145.5,373.1"/>
<polygon color="#ff6340" points="160.3,371.5 165.2,368.9 160.2,368.1 155.3,370.8"/>
<polygon color="#ff5640" points="170.2,370 175.1,367.5 170,366.3 165.2,368.9"/>
<polygon color="#ff4e40" points="180.1,369 184.9,366.6 179.9,365.1 175.1,367.5"/>
<polygon color="#ff4a40" points="190.1,368.6 194.8,366.2 189.7,364.3 184.9,366.6"/>
<polygon color="#ff4b40" points="200.1,368.6 204.7,366.3 199.5,364 194.8,366.2"/>
<polygon color="#ff5040" points="210,369.1 214.6,367 209.4,364.2 204.7,366.3"/>
<polygon color="#ff5940" points="220,370.1 224.5,368.1 219.2,364.9 214.6,367"/>
<polygon color="#ff6740" points="229.9,371.7 234.3,369.7 229,366.2 224.5,368.1"/>
<polygon color="#ff7940" points="239.8,373.7 244.1,371.9 238.7,367.9 234.3,369.7"/>
<polygon color="#ff8f40" points="249.6,376.3 253.9,374.5 248.5,370.1 244.1,371.9"/>
<polygon color="#ffaa40" points="259.4,379.3 263.6,377.6 258.2,372.8 253.9,374.5"/>
<polygon color="#ffca40" points="269.1,382.9 273.3,381.3 267.8,376.1 263.6,377.6"/>
<polygon color="#ffed40" points="278.8,386.9 282.9,385.4 277.4,379.8 273.3,381.3"/>
<polygon color="#e9ff40" points="288.4,391.5 292.4,390 286.9,384 282.9,385.4"/>
<polygon color="#bcff40" points="297.9,396.5 301.8,395.2 296.4,388.7 292.4,390"/>
<polygon color="#8bff40" points="307.3,402.1 311.2,400.8 305.7,393.9 301.8,395.2"/>
<polygon color="#bbff40" points="86.6,399.7 91.9,396.1 87.6,398.1 82.4,401.7"/>
<polygon color="#e7ff40" points="96.2,394.5 101.5,391.1 97.1,392.7 91.9,396.1"/>
<polygon color="#ffef40" points="105.9,389.9 111.1,386.6 106.7,387.8 101.5,391.1"/>
<polygon color="#ffcb40" points="115.7,385.7 120.9,382.5 116.3,383.4 111.1,386.6"/>
<polygon color="#ffac40" points="125.5,382.1 130.6,379 126,379.5 120.9,382.5"/>
<polygon color="#ff9140" points="135.4,379 140.5,376 135.7,376 130.6,379"/>
<polygon color="#ff7b40" points="145.3,376.4 150.4,373.5 145.5,373.1 140.5,376"/>
<polygon color="#ff6940" points="155.3,374.3 160.3,371.5 155.3,370.8 150.4,373.5"/>
<polygon color="#ff5c40" points="165.3,372.7 170.2,370 165.2,368.9 160.3,371.5"/>
<polygon color="#ff5340" points="175.3,371.6 180.1,369 175.1,367.5 170.2,370"/>
<polygon color="#ff4e40" points="185.3,371 190.1,368.6 184.9,366.6 180.1,369"/>
<polygon color="#ff4e40" points="195.3,370.9 200.1,368.6 194.8,366.2 190.1,368.6"/>
<polygon color="#ff5240" points="205.3,371.4 210,369.1 204.7,366.3 200.1,368.6"/>
<polygon color="#ff5a40" points="215.4,372.3 220,370.1 214.6,367 210,369.1"/>
<polygon color="#ff6740" points="225.3,373.7 229.9,371.7 224.5,368.1 220,370.1"/>
<polygon color="#ff7840" points="235.3,375.7 239.8,373.7 234.3,369.7 229.9,371.7"/>
<polygon color="#ff8e40" points="245.2,378.1 249.6,376.3 244.1,371.9 239.8,373.7"/>
<polygon color="#ffa840" points="255.1,381.1 259.4,379.3 253.9,374.5 249.6,376.3"/>
<polygon color="#ffc640" points="264.9,384.6 269.1,382.9 263.6,377.6 259.4,379.3"/>
<polygon color="#ffe940" points="274.6,388.5 278.8,386.9 273.3,381.3 269.1,382.9"/>
<polygon color="#edff40" points="284.3,393 288.4,391.5 282.9,385.4 278.8,386.9"/>
<polygon color="#c2ff40" points="293.9,398 297.9,396.5 292.4,390 288.4,391.5"/>
<polygon color="#92ff40" points="303.4,403.4 307.3,402.1 301.8,395.2 297.9,396.5"/>
<polygon color="#dbff40" points="91,398.1 96.2,394.5 91.9,396.1 86.6,399.7"/>
<polygon color="#fffa40" points="100.7,393.3 105.9,389.9 101.5,391.1 96.2,394.5"/>
<polygon color="#ffd640" points="110.5,389.1 115.7,385.7 111.1,386.6 105.9,389.9"/>
<polygon color="#ffb640" points="120.3,385.3 125.5,382.1 120.9,382.5 115.7,385.7"/>
<polygon color="#ff9a40" points="130.3,382.1 135.4,379 130.6,379 125.5,382.1"/>
<polygon color="#ff8340" points="140.2,379.4 145.3,376.4 140.5,376 135.4,379"/>
<polygon color="#ff7040" points="150.3,377.2 155.3,374.3 150.4,373.5 145.3,376.4"/>
<polygon color="#ff6240" points="160.3,375.5 165.3,372.7 160.3,371.5 155.3,374.3"/>
<polygon color="#ff5840" points="170.4,374.3 175.3,371.6 170.2,370 165.3,372.7"/>
<polygon color="#ff5240" points="180.4,373.6 185.3,371 180.1,369 175.3,371.6"/>
<polygon color="#ff5140" points="190.5,373.4 195.3,370.9 190.1,368.6 185.3,371"/>
<polygon color="#ff5440" points="200.6,373.7 205.3,371.4 200.1,368.6 195.3,370.9"/>
<polygon color="#ff5c40" points="210.7,374.6 215.4,372.3 210,369.1 205.3,371.4"/>
<polygon color="#ff6840" points="220.8,375.9 225.3,373.7 220,370.1 215.4,372.3"/>
<polygon color="#ff7840" points="230.8,377.8 235.3,375.7 229.9,371.7 225.3,373.7"/>
<polygon color="#ff8d40" points="240.8,380.1 245.2,378.1 239.8,373.7 235.3,375.7"/>
<polygon color="#ffa640" points="250.7,383 255.1,381.1 249.6,376.3 245.2,378.1"/>
<polygon color="#ffc440" points="260.6,386.4 264.9,384.6 259.4,379.3 255.1,381.1"/>
<polygon color="#ffe640" points="270.4,390.3 274.6,388.5 269.1,382.9 264.9,384.6"/>
<polygon color="#f2ff40" points="280.1,394.6 284.3,393 278.8,386.9 274.6,388.5"/>
<polygon color="#c7ff40" points="289.8,399.5 293.9,398 288.4,391.5 284.3,393"/>
<polygon color="#98ff40" points="299.4,404.9 303.4,403.4 297.9,396.5 293.9,398"/>
<polygon color="#f8ff40" points="95.4,396.9 100.7,393.3 96.2,394.5 91,398.1"/>
<polygon color="#ffe140" points="105.2,392.5 110.5,389.1 105.9,389.9 100.7,393.3"/>
<polygon color="#ffc040" points="115.1,388.7 120.3,385.3 115.7,385.7 110.5,389.1"/>
<polygon color="#ffa440" points="125.1,385.3 130.3,382.1 125.5,382.1 120.3,385.3"/>
<polygon color="#ff8c40" points="135.1,382.5 140.2,379.4 135.4,379 130.3,382.1"/>
<polygon color="#ff7840" points="145.2,380.2 150.3,377.2 145.3,376.4 140.2,379.4"/>
<polygon color="#ff6940" points="155.3,378.4 160.3,375.5 155.3,374.3 150.3,377.2"/>
<polygon color="#ff5e40" points="165.4,377.1 170.4,374.3 165.3,372.7 160.3,375.5"/>
<polygon color="#ff5840" points="175.5,376.3 180.4,373.6 175.3,371.6 170.4,374.3"/>
<polygon color="#ff5640" points="185.7,376 190.5,373.4 185.3,371 180.4,373.6"/>
<polygon color="#ff5840" points="195.8,376.2 200.6,373.7 195.3,370.9 190.5,373.4"/>
<polygon color="#ff5f40" points="206,377 210.7,374.6 205.3,371.4 200.6,373.7"/>
<polygon color="#ff6a40" points="216.1,378.2 220.8,375.9 215.4,372.3 210.7,374.6"/>
<polygon color="#ff7940" points="226.2,380 230.8,377.8 225.3,373.7 220.8,375.9"/>
<polygon color="#ff8d40" points="236.3,382.3 240.8,380.1 235.3,375.7 230.8,377.8"/>
<polygon color="#ffa640" points="246.3,385 250.7,383 245.2,378.1 240.8,380.1"/>
<polygon color="#ffc240" points="256.2,388.3 260.6,386.4 255.1,381.1 250.7,383"/>
<polygon color="#ffe440" points="266.1,392.1 270.4,390.3 264.9,384.6 260.6,386.4"/>
<polygon color="#f5ff40" points="275.9,396.4 280.1,394.6 274.6,388.5 270.4,390.3"/>
<polygon color="#cbff40" points="285.7,401.2 289.8,399.5 284.3,393 280.1,394.6"/>
<polygon color="#9dff40" points="295.3,406.5 299.4,404.9 293.9,398 289.8,399.5"/>
<polygon color="#ffed40" points="99.9,396.1 105.2,392.5 100.7,393.3 95.4,396.9"/>
<polygon color="#ffcb40" points="109.8,392.1 115.1,388.7 110.5,389.1 105.2,392.5"/>
<polygon color="#ffae40" points="119.8,388.7 125.1,385.3 120.3,385.3 115.1,388.7"/>
<polygon color="#ff9540" points="129.9,385.7 135.1,382.5 130.3,382.1 125.1,385.3"/>
<polygon color="#ff8140" points="140,383.3 145.2,380.2 140.2,379.4 135.1,382.5"/>
<polygon color="#ff7140" points="150.2,381.4 155.3,378.4 150.3,377.2 145.2,380.2"/>
<polygon color="#ff6540" points="160.3,380 165.4,377.1 160.3,375.5 155.3,378.4"/>
<polygon color="#ff5e40" points="170.5,379.1 175.5,376.3 170.4,374.3 165.4,377.1"/>
<polygon color="#ff5b40" points="180.8,378.7 185.7,376 180.4,373.6 175.5,376.3"/>
<polygon color="#ff5c40" points="191,378.8 195.8,376.2 190.5,373.4 185.7,376"/>
<polygon color="#ff6240" points="201.2,379.5 206,377 200.6,373.7 195.8,376.2"/>
<polygon color="#ff6d40" points="211.4,380.6 216.1,378.2 210.7,374.6 206,377"/>
<polygon color="#ff7b40" points="221.6,382.3 226.2,380 220.8,375.9 216.1,378.2"/>
<polygon color="#ff8e40" points="231.7,384.5 236.3,382.3 230.8,377.8 226.2,380"/>
<polygon color="#ffa640" points="241.8,387.2 246.3,385 240.8,380.1 236.3,382.3"/>
<polygon color="#ffc240" points="251.8,390.4 256.2,388.3 250.7,383 246.3,385"/>
<polygon color="#ffe240" points="261.8,394.1 266.1,392.1 260.6,386.4 256.2,388.3"/>
<polygon color="#f7ff40" points="271.7,398.3 275.9,396.4 270.4,390.3 266.1,392.1"/>
<polygon color="#ceff40" points="281.5,403 285.7,401.2 280.1,394.6 275.9,396.4"/>
<polygon color="#a1ff40" points="291.2,408.2 295.3,406.5 289.8,399.5 285.7,401.2"/>
<polygon color="#ffd740" points="104.5,395.7 109.8,392.1 105.2,392.5 99.9,396.1"/>
<polygon color="#ffb940" points="114.5,392.1 119.8,388.7 115.1,388.7 109.8,392.1"/>
<polygon color="#ffa040" points="124.6,389.1 129.9,385.7 125.1,385.3 119.8,388.7"/>
<polygon color="#ff8a40" points="134.8,386.6 140,383.3 135.1,382.5 129.9,385.7"/>
<polygon color="#ff7940" points="145,384.5 150.2,381.4 145.2,380.2 140,383.3"/>
<polygon color="#ff6d40" points="155.2,383 160.3,380 155.3,378.4 150.2,381.4"/>
<polygon color="#ff6540" points="165.5,382 170.5,379.1 165.4,377.1 160.3,380"/>
<polygon color="#ff6140" points="175.8,381.5 180.8,378.7 175.5,376.3 170.5,379.1"/>
<polygon color="#ff6140" points="186.1,381.6 191,378.8 185.7,376 180.8,378.7"/>
<polygon color="#ff6740" points="196.3,382.1 201.2,379.5 195.8,376.2 191,378.8"/>
<polygon color="#ff7040" points="206.6,383.2 211.4,380.6 206,377 201.2,379.5"/>
<polygon color="#ff7e40" points="216.9,384.7 221.6,382.3 216.1,378.2 211.4,380.6"/>
<polygon color="#ff9040" points="227.1,386.8 231.7,384.5 226.2,380 221.6,382.3"/>
<polygon color="#ffa740" points="237.2,389.4 241.8,387.2 236.3,382.3 231.7,384.5"/>
<polygon color="#ffc240" points="247.3,392.5 251.8,390.4 246.3,385 241.8,387.2"/>
<polygon color="#ffe140" points="257.4,396.1 261.8,394.1 256.2,388.3 251.8,390.4"/>
<polygon color="#f9ff40" points="267.4,400.3 271.7,398.3 266.1,392.1 261.8,394.1"/>
<polygon color="#d1ff40" points="277.3,404.9 281.5,403 275.9,396.4 271.7,398.3"/>
<polygon color="#a4ff40" points="287.1,410 291.2,408.2 285.7,401.2 281.5,403"/>
<polygon color="#ffc540" points="109.2,395.8 114.5,392.1 109.8,392.1 104.5,395.7"/>
<polygon color="#ffab40" points="119.3,392.6 124.6,389.1 119.8,388.7 114.5,392.1"/>
<polygon color="#ff9440" points="129.5,389.9 134.8,386.6 129.9,385.7 124.6,389.1"/>
<polygon color="#ff8340" points="139.8,387.8 145,384.5 140,383.3 134.8,386.6"/>
<polygon color="#ff7540" points="150.1,386.2 155.2,383 150.2,381.4 145,384.5"/>
<polygon color="#ff6c40" points="160.4,385.1 165.5,382 160.3,380 155.2,383"/>
<polygon color="#ff6840" points="170.7,384.5 175.8,381.5 170.5,379.1 165.5,382"/>
<polygon color="#ff6740" points="181.1,384.4 186.1,381.6 180.8,378.7 175.8,381.5"/>
<polygon color="#ff6c40" points="191.4,384.9 196.3,382.1 191,378.8 186.1,381.6"/>
<polygon color="#ff7440" points="201.8,385.8 206.6,383.2 201.2,379.5 196.3,382.1"/>
<polygon color="#ff8140" points="212.1,387.3 216.9,384.7 211.4,380.6 206.6,383.2"/>
<polygon color="#ff9240" points="222.4,389.3 227.1,386.8 221.6,382.3 216.9,384.7"/>
<polygon color="#ffa840" points="232.6,391.8 237.2,389.4 231.7,384.5 227.1,386.8"/>
<polygon color="#ffc240" points="242.8,394.8 247.3,392.5 241.8,387.2 237.2,389.4"/>
<polygon color="#ffe140" points="252.9,398.3 257.4,396.1 251.8,390.4 247.3,392.5"/>
<polygon color="#faff40" points="263,402.4 267.4,400.3 261.8,394.1 257.4,396.1"/>
<polygon color="#d3ff40" points="273,406.9 277.3,404.9 271.7,398.3 267.4,400.3"/>
<polygon color="#a7ff40" points="282.8,412 287.1,410 281.5,403 277.3,404.9"/>
<polygon color="#ffb740" points="114,396.2 119.3,392.6 114.5,392.1 109.2,395.8"/>
<polygon color="#ff9f40" points="124.2,393.5 129.5,389.9 124.6,389.1 119.3,392.6"/>
<polygon color="#ff8d40" points="134.5,391.2 139.8,387.8 134.8,386.6 129.5,389.9"/>
<polygon color="#ff7e40" points="144.9,389.5 150.1,386.2 145,384.5 139.8,387.8"/>
<polygon color="#ff7540" points="155.2,388.3 160.4,385.1 155.2,383 150.1,386.2"/>
<polygon color="#ff6f40" points="165.6,387.6 170.7,384.5 165.5,382 160.4,385.1"/>
<polygon color="#ff6e40" points="176.1,387.4 181.1,384.4 175.8,381.5 170.7,384.5"/>
<polygon color="#ff7140" points="186.5,387.8 191.4,384.9 186.1,381.6 181.1,384.4"/>
<polygon color="#ff7940" points="196.9,388.6 201.8,385.8 196.3,382.1 191.4,384.9"/>
<polygon color="#ff8540" points="207.3,390 212.1,387.3 206.6,383.2 201.8,385.8"/>
<polygon color="#ff9640" points="217.6,391.9 222.4,389.3 216.9,384.7 212.1,387.3"/>
<polygon color="#ffab40" points="227.9,394.3 232.6,391.8 227.1,386.8 222.4,389.3"/>
<polygon color="#ffc440" points="238.2,397.2 242.8,394.8 237.2,389.4 232.6,391.8"/>
<polygon color="#ffe240" points="248.4,400.6 252.9,398.3 247.3,392.5 242.8,394.8"/>
<polygon color="#faff40" points="258.6,404.6 263,402.4 257.4,396.1 252.9,398.3"/>
<polygon color="#d4ff40" points="268.6,409 273,406.9 267.4,400.3 263,402.4"/>
<polygon color="#a9ff40" points="278.6,414 282.8,412 277.3,404.9 273,406.9"/>
<polygon color="#ffab40" points="118.8,397.1 124.2,393.5 119.3,392.6 114,396.2"/>
<polygon color="#ff9840" points="129.2,394.7 134.5,391.2 129.5,389.9 124.2,393.5"/>
<polygon color="#ff8940" points="139.6,392.9 144.9,389.5 139.8,387.8 134.5,391.2"/>
<polygon color="#ff7e40" points="150,391.6 155.2,388.3 150.1,386.2 144.9,389.5"/>
<polygon color="#ff7740" points="160.5,390.8 165.6,387.6 160.4,385.1 155.2,388.3"/>
<polygon color="#ff7540" points="171,390.5 176.1,387.4 170.7,384.5 165.6,387.6"/>
<polygon color="#ff7840" points="181.4,390.8 186.5,387.8 181.1,384.4 176.1,387.4"/>
<polygon color="#ff7f40" points="191.9,391.5 196.9,388.6 191.4,384.9 186.5,387.8"/>
<polygon color="#ff8a40" points="202.4,392.8 207.3,390 201.8,385.8 196.9,388.6"/>
<polygon color="#ff9a40" points="212.8,394.6 217.6,391.9 212.1,387.3 207.3,390"/>
<polygon color="#ffae40" points="223.2,396.9 227.9,394.3 222.4,389.3 217.6,391.9"/>
<polygon color="#ffc640" points="233.5,399.7 238.2,397.2 232.6,391.8 227.9,394.3"/>
<polygon color="#ffe340" points="243.8,403.1 248.4,400.6 242.8,394.8 238.2,397.2"/>
<polygon color="#faff40" points="254.1,406.9 258.6,404.6 252.9,398.3 248.4,400.6"/>
<polygon color="#d4ff40" points="264.2,411.3 268.6,409 263,402.4 258.6,404.6"/>
<polygon color="#aaff40" points="274.2,416.2 278.6,414 273,406.9 268.6,409"/>
<polygon color="#ffa340" points="123.8,398.4 129.2,394.7 124.2,393.5 118.8,397.1"/>
<polygon color="#ff9340" points="134.2,396.5 139.6,392.9 134.5,391.2 129.2,394.7"/>
<polygon color="#ff8840" points="144.7,395 150,391.6 144.9,389.5 139.6,392.9"/>
<polygon color="#ff8140" points="155.3,394.1 160.5,390.8 155.2,388.3 150,391.6"/>
<polygon color="#ff7e40" points="165.8,393.8 171,390.5 165.6,387.6 160.5,390.8"/>
<polygon color="#ff7f40" points="176.3,393.9 181.4,390.8 176.1,387.4 171,390.5"/>
<polygon color="#ff8540" points="186.9,394.6 191.9,391.5 186.5,387.8 181.4,390.8"/>
<polygon color="#ff9040" points="197.4,395.7 202.4,392.8 196.9,388.6 191.9,391.5"/>
<polygon color="#ff9e40" points="207.9,397.4 212.8,394.6 207.3,390 202.4,392.8"/>
<polygon color="#ffb240" points="218.4,399.6 223.2,396.9 217.6,391.9 212.8,394.6"/>
<polygon color="#ffc940" points="228.8,402.4 233.5,399.7 227.9,394.3 223.2,396.9"/>
<polygon color="#ffe540" points="239.2,405.6 243.8,403.1 238.2,397.2 233.5,399.7"/>
<polygon color="#f8ff40" points="249.5,409.4 254.1,406.9 248.4,400.6 243.8,403.1"/>
<polygon color="#d4ff40" points="259.7,413.7 264.2,411.3 258.6,404.6 254.1,406.9"/>
<polygon color="#abff40" points="269.8,418.5 274.2,416.2 268.6,409 264.2,411.3"/>
<polygon color="#ff9f40" points="128.9,400.1 134.2,396.5 129.2,394.7 123.8,398.4"/>
<polygon color="#ff9240" points="139.4,398.6 144.7,395 139.6,392.9 134.2,396.5"/>
<polygon color="#ff8a40" points="150,397.6 155.3,394.1 150,391.6 144.7,395"/>
<polygon color="#ff8740" points="160.6,397.1 165.8,393.8 160.5,390.8 155.3,394.1"/>
<polygon color="#ff8740" points="171.2,397.2 176.3,393.9 171,390.5 165.8,393.8"/>
<polygon color="#ff8d40" points="181.8,397.7 186.9,394.6 181.4,390.8 176.3,393.9"/>
<polygon color="#ff9640" points="192.4,398.8 197.4,395.7 191.9,391.5 186.9,394.6"/>
<polygon color="#ffa440" points="203,400.4 207.9,397.4 202.4,392.8 197.4,395.7"/>
<polygon color="#ffb640" points="213.5,402.5 218.4,399.6 212.8,394.6 207.9,397.4"/>
<polygon color="#ffcd40" points="224,405.1 228.8,402.4 223.2,396.9 218.4,399.6"/>
<polygon color="#ffe840" points="234.5,408.3 239.2,405.6 233.5,399.7 228.8,402.4"/>
<polygon color="#f6ff40" points="244.9,412 249.5,409.4 243.8,403.1 239.2,405.6"/>
<polygon color="#d2ff40" points="255.2,416.2 259.7,413.7 254.1,406.9 249.5,409.4"/>
<polygon color="#aaff40" points="265.4,420.9 269.8,418.5 264.2,411.3 259.7,413.7"/>
<polygon color="#ff9e40" points="134,402.3 139.4,398.6 134.2,396.5 128.9,400.1"/>
<polygon color="#ff9540" points="144.6,401.2 150,397.6 144.7,395 139.4,398.6"/>
<polygon color="#ff9040" points="155.3,400.6 160.6,397.1 155.3,394.1 150,397.6"/>
<polygon color="#ff9040" points="166,400.5 171.2,397.2 165.8,393.8 160.6,397.1"/>
<polygon color="#ff9540" points="176.6,401 181.8,397.7 176.3,393.9 171.2,397.2"/>
<polygon color="#ff9d40" points="187.3,402 192.4,398.8 186.9,394.6 181.8,397.7"/>
<polygon color="#ffaa40" points="198,403.5 203,400.4 197.4,395.7 192.4,398.8"/>
<polygon color="#ffbc40" points="208.6,405.5 213.5,402.5 207.9,397.4 203,400.4"/>
<polygon color="#ffd240" points="219.2,408 224,405.1 218.4,399.6 213.5,402.5"/>
<polygon color="#ffec40" points="229.7,411.1 234.5,408.3 228.8,402.4 224,405.1"/>
<polygon color="#f3ff40" points="240.2,414.7 244.9,412 239.2,405.6 234.5,408.3"/>
<polygon color="#d0ff40" points="250.6,418.8 255.2,416.2 249.5,409.4 244.9,412"/>
<polygon color="#a9ff40" points="260.8,423.4 265.4,420.9 259.7,413.7 255.2,416.2"/>
<polygon color="#ffa040" points="139.2,404.9 144.6,401.2 139.4,398.6 134,402.3"/>
<polygon color="#ff9b40" points="149.9,404.2 155.3,400.6 150,397.6 144.6,401.2"/>
<polygon color="#ff9a40" points="160.7,404.1 166,400.5 160.6,397.1 155.3,400.6"/>
<polygon color="#ff9d40" points="171.4,404.4 176.6,401 171.2,397.2 166,400.5"/>
<polygon color="#ffa540" points="182.2,405.3 187.3,402 181.8,397.7 176.6,401"/>
<polygon color="#ffb140" points="192.9,406.7 198,403.5 192.4,398.8 187.3,402"/>
<polygon color="#ffc240" points="203.6,408.6 208.6,405.5 203,400.4 198,403.5"/>
<polygon color="#ffd740" points="214.3,411.1 219.2,408 213.5,402.5 208.6,405.5"/>
<polygon color="#fff040" points="224.9,414 229.7,411.1 224,405.1 219.2,408"/>
<polygon color="#f0ff40" points="235.4,417.5 240.2,414.7 234.5,408.3 229.7,411.1"/>
<polygon color="#ceff40" points="245.9,421.5 250.6,418.8 244.9,412 240.2,414.7"/>
<polygon color="#a7ff40" points="256.3,426 260.8,423.4 255.2,416.2 250.6,418.8"/>
<polygon color="#ffa640" points="144.5,408 149.9,404.2 144.6,401.2 139.2,404.9"/>
<polygon color="#ffa540" points="155.3,407.7 160.7,404.1 155.3,400.6 149.9,404.2"/>
<polygon color="#ffa740" points="166.2,408 171.4,404.4 166,400.5 160.7,404.1"/>
<polygon color="#ffae40" points="177,408.7 182.2,405.3 176.6,401 171.4,404.4"/>
<polygon color="#ffb940" points="187.8,410 192.9,406.7 187.3,402 182.2,405.3"/>
<polygon color="#ffc940" points="198.5,411.9 203.6,408.6 198,403.5 192.9,406.7"/>
<polygon color="#ffdd40" points="209.3,414.2 214.3,411.1 208.6,405.5 203.6,408.6"/>
<polygon color="#fff640" points="220,417.1 224.9,414 219.2,408 214.3,411.1"/>
<polygon color="#ebff40" points="230.6,420.5 235.4,417.5 229.7,411.1 224.9,414"/>
<polygon color="#caff40" points="241.1,424.4 245.9,421.5 240.2,414.7 235.4,417.5"/>
<polygon color="#a4ff40" points="251.6,428.8 256.3,426 250.6,418.8 245.9,421.5"/>
<polygon color="#ffb040" points="149.9,411.5 155.3,407.7 149.9,404.2 144.5,408"/>
<polygon color="#ffb140" points="160.8,411.7 166.2,408 160.7,404.1 155.3,407.7"/>
<polygon color="#ffb840" points="171.7,412.3 177,408.7 171.4,404.4 166.2,408"/>
<polygon color="#ffc240" points="182.6,413.5 187.8,410 182.2,405.3 177,408.7"/>
<polygon color="#ffd140" points="193.4,415.2 198.5,411.9 192.9,406.7 187.8,410"/>
<polygon color="#ffe440" points="204.2,417.5 209.3,414.2 203.6,408.6 198.5,411.9"/>
<polygon color="#fffc40" points="215,420.3 220,417.1 214.3,411.1 209.3,414.2"/>
<polygon color="#e6ff40" points="225.7,423.6 230.6,420.5 224.9,414 220,417.1"/>
<polygon color="#c6ff40" points="236.4,427.4 241.1,424.4 235.4,417.5 230.6,420.5"/>
<polygon color="#a1ff40" points="246.9,431.7 251.6,428.8 245.9,421.5 241.1,424.4"/>
<polygon color="#ffbd40" points="155.4,415.5 160.8,411.7 155.3,407.7 149.9,411.5"/>
<polygon color="#ffc240" points="166.4,416 171.7,412.3 166.2,408 160.8,411.7"/>
<polygon color="#ffcb40" points="177.3,417.1 182.6,413.5 177,408.7 171.7,412.3"/>
<polygon color="#ffd940" points="188.2,418.8 193.4,415.2 187.8,410 182.6,413.5"/>
<polygon color="#ffec40" points="199.1,420.9 204.2,417.5 198.5,411.9 193.4,415.2"/>
<polygon color="#fbff40" points="210,423.6 215,420.3 209.3,414.2 204.2,417.5"/>
<polygon color="#e0ff40" points="220.8,426.8 225.7,423.6 220,417.1 215,420.3"/>
<polygon color="#c1ff40" points="231.5,430.5 236.4,427.4 230.6,420.5 225.7,423.6"/>
<polygon color="#9dff40" points="242.1,434.8 246.9,431.7 241.1,424.4 236.4,427.4"/>
<polygon color="#ffcd40" points="161,419.9 166.4,416 160.8,411.7 155.4,415.5"/>
<polygon color="#ffd640" points="172,420.9 177.3,417.1 171.7,412.3 166.4,416"/>
<polygon color="#ffe340" points="183,422.4 188.2,418.8 182.6,413.5 177.3,417.1"/>
<polygon color="#fff440" points="194,424.4 199.1,420.9 193.4,415.2 188.2,418.8"/>
<polygon color="#f4ff40" points="204.9,427 210,423.6 204.2,417.5 199.1,420.9"/>
<polygon color="#d9ff40" points="215.8,430.1 220.8,426.8 215,420.3 210,423.6"/>
<polygon color="#bbff40" points="226.6,433.8 231.5,430.5 225.7,423.6 220.8,426.8"/>
<polygon color="#98ff40" points="237.3,437.9 242.1,434.8 236.4,427.4 231.5,430.5"/>
<polygon color="#ffe140" points="166.6,424.8 172,420.9 166.4,416 161,419.9"/>
<polygon color="#ffed40" points="177.7,426.2 183,422.4 177.3,417.1 172,420.9"/>
<polygon color="#fffe40" points="188.7,428.1 194,424.4 188.2,418.8 183,422.4"/>
<polygon color="#ebff40" points="199.7,430.6 204.9,427 199.1,420.9 194,424.4"/>
<polygon color="#d2ff40" points="210.7,433.6 215.8,430.1 210,423.6 204.9,427"/>
<polygon color="#b4ff40" points="221.6,437.2 226.6,433.8 220.8,426.8 215.8,430.1"/>
<polygon color="#92ff40" points="232.4,441.2 237.3,437.9 231.5,430.5 226.6,433.8"/>
<polygon color="#fff840" points="172.3,430.1 177.7,426.2 172,420.9 166.6,424.8"/>
<polygon color="#f6ff40" points="183.4,431.9 188.7,428.1 183,422.4 177.7,426.2"/>
<polygon color="#e2ff40" points="194.5,434.3 199.7,430.6 194,424.4 188.7,428.1"/>
<polygon color="#caff40" points="205.6,437.2 210.7,433.6 204.9,427 199.7,430.6"/>
<polygon color="#adff40" points="216.5,440.7 221.6,437.2 215.8,430.1 210.7,433.6"/>
<polygon color="#8bff40" points="227.4,444.6 232.4,441.2 226.6,433.8 221.6,437.2"/>
<polygon color="#ecff40" points="178.1,435.9 183.4,431.9 177.7,426.2 172.3,430.1"/>
<polygon color="#d8ff40" points="189.2,438.2 194.5,434.3 188.7,428.1 183.4,431.9"/>
<polygon color="#c0ff40" points="200.3,441 205.6,437.2 199.7,430.6 194.5,434.3"/>
<polygon color="#a4ff40" points="211.4,444.3 216.5,440.7 210.7,433.6 205.6,437.2"/>
<polygon color="#84ff40" points="222.4,448.2 227.4,444.6 221.6,437.2 216.5,440.7"/>
<polygon color="#ceff40" points="183.9,442.2 189.2,438.2 183.4,431.9 178.1,435.9"/>
<polygon color="#b7ff40" points="195.1,444.9 200.3,441 194.5,434.3 189.2,438.2"/>
<polygon color="#9bff40" points="206.2,448.1 211.4,444.3 205.6,437.2 200.3,441"/>
<polygon color="#7cff40" points="217.3,451.9 222.4,448.2 216.5,440.7 211.4,444.3"/>
<polygon color="#acff40" points="189.8,448.9 195.1,444.9 189.2,438.2 183.9,442.2"/>
<polygon color="#92ff40" points="201,452 206.2,448.1 200.3,441 195.1,444.9"/>
<polygon color="#73ff40" points="212.1,455.7 217.3,451.9 211.4,444.3 206.2,448.1"/>
<polygon color="#87ff40" points="195.7,456.1 201,452 195.1,444.9 189.8,448.9"/>
<polygon color="#69ff40" points="206.9,459.7 212.1,455.7 206.2,448.1 201,452"/>
<polygon color="#5fff40" points="201.6,463.8 206.9,459.7 201,452 195.7,456.1"/>
</g>
<path d="M201.6,463.8 195.7,456.1 189.8,448.9 183.9,442.2 178.1,435.9 172.3,430.1 166.6,424.8 161,419.9 155.4,415.5 149.9,411.5 144.5,408 139.2,404.9 134,402.3 128.9,400.1 123.8,398.4 118.8,397.1 114,396.2 109.2,395.8 104.5,395.7 99.9,396.1 95.4,396.9 91,398.1 86.6,399.7 82.4,401.7 78.2,404.1 74.1,406.9M201.6,463.8 206.9,459.7 212.1,455.7 217.3,451.9 222.4,448.2 227.4,444.6 232.4,441.2 237.3,437.9 242.1,434.8 246.9,431.7 251.6,428.8 256.3,426 260.8,423.4 265.4,420.9 269.8,418.5 274.2,416.2 278.6,414 282.8,412 287.1,410 291.2,408.2 295.3,406.5 299.4,404.9 303.4,403.4 307.3,402.1 311.2,400.8 315,399.6M204.3,461.7 198.3,454 192.4,446.9 186.6,440.1 180.8,433.9 175,428.1 169.3,422.8 163.7,417.9 158.1,413.5 152.6,409.6 147.3,406.1 141.9,403.1 136.7,400.4 131.6,398.3 126.5,396.6 121.5,395.3 116.7,394.4 111.9,393.9 107.2,393.9 102.6,394.3 98,395.1 93.6,396.3 89.3,397.9 85,399.9 80.8,402.3 76.7,405.1M198.6,459.9 203.9,455.8 209.2,451.8 214.3,448 219.4,444.4 224.5,440.8 229.5,437.4 234.4,434.2 239.2,431 244,428 248.7,425.1 253.4,422.4 258,419.7 262.5,417.2 267,414.8 271.4,412.5 275.8,410.4 280.1,408.4 284.3,406.4 288.5,404.6 292.6,403 296.6,401.4 300.6,399.9 304.6,398.6 308.4,397.3 312.3,396.2M206.9,459.7 201,452 195.1,444.9 189.2,438.2 183.4,431.9 177.7,426.2 172,420.9 166.4,416 160.8,411.7 155.3,407.7 149.9,404.2 144.6,401.2 139.4,398.6 134.2,396.5 129.2,394.7 124.2,393.5 119.3,392.6 114.5,392.1 109.8,392.1 105.2,392.5 100.7,393.3 96.2,394.5 91.9,396.1 87.6,398.1 83.4,400.5 79.3,403.3M195.7,456.1 201,452 206.2,448.1 211.4,444.3 216.5,440.7 221.6,437.2 226.6,433.8 231.5,430.5 236.4,427.4 241.1,424.4 245.9,421.5 250.6,418.8 255.2,416.2 259.7,413.7 264.2,411.3 268.6,409 273,406.9 277.3,404.9 281.5,403 285.7,401.2 289.8,399.5 293.9,398 297.9,396.5 301.8,395.2 305.7,393.9 309.6,392.8M209.5,457.7 203.6,450.1 197.7,442.9 191.9,436.2 186.1,430 180.3,424.3 174.7,419 169,414.2 163.5,409.8 158,405.9 152.6,402.4 147.3,399.4 142.1,396.8 136.9,394.7 131.9,393 126.9,391.7 122,390.8 117.2,390.4 112.5,390.4 107.9,390.8 103.3,391.6 98.9,392.8 94.5,394.4 90.2,396.4 86,398.8 81.9,401.6M192.7,452.4 198,448.4 203.3,444.5 208.5,440.7 213.6,437.1 218.7,433.6 223.7,430.2 228.6,427 233.5,423.9 238.3,420.9 243,418 247.7,415.3 252.3,412.7 256.9,410.2 261.4,407.9 265.8,405.6 270.2,403.5 274.5,401.5 278.7,399.6 282.9,397.9 287,396.2 291.1,394.7 295.1,393.2 299.1,391.9 303,390.7 306.9,389.6M212.1,455.7 206.2,448.1 200.3,441 194.5,434.3 188.7,428.1 183,422.4 177.3,417.1 171.7,412.3 166.2,408 160.7,404.1 155.3,400.6 150,397.6 144.7,395 139.6,392.9 134.5,391.2 129.5,389.9 124.6,389.1 119.8,388.7 115.1,388.7 110.5,389.1 105.9,389.9 101.5,391.1 97.1,392.7 92.8,394.7 88.6,397.1 84.4,399.9M189.8,448.9 195.1,444.9 200.3,441 205.6,437.2 210.7,433.6 215.8,430.1 220.8,426.8 225.7,423.6 230.6,420.5 235.4,417.5 240.2,414.7 244.9,412 249.5,409.4 254.1,406.9 258.6,404.6 263,402.4 267.4,400.3 271.7,398.3 275.9,396.4 280.1,394.6 284.3,393 288.4,391.5 292.4,390 296.4,388.7 300.3,387.5 304.1,386.4M214.7,453.8 208.8,446.2 203,439.1 197.1,432.4 191.4,426.3 185.6,420.6 180,415.3 174.3,410.5 168.8,406.2 163.3,402.3 157.9,398.9 152.6,395.9 147.4,393.3 142.2,391.2 137.2,389.5 132.2,388.2 127.3,387.4 122.5,387 117.7,387 113.1,387.4 108.5,388.2 104.1,389.4 99.7,391 95.4,393.1 91.1,395.5 87,398.2M186.8,445.5 192.2,441.5 197.4,437.6 202.6,433.9 207.8,430.3 212.9,426.8 217.9,423.5 222.8,420.3 227.7,417.2 232.6,414.3 237.3,411.4 242,408.7 246.7,406.2 251.2,403.7 255.7,401.4 260.2,399.2 264.6,397.1 268.9,395.1 273.2,393.3 277.4,391.5 281.5,389.9 285.6,388.4 289.7,387 293.6,385.7 297.6,384.5 301.4,383.4M217.3,451.9 211.4,444.3 205.6,437.2 199.7,430.6 194,424.4 188.2,418.8 182.6,413.5 177,408.7 171.4,404.4 166,400.5 160.6,397.1 155.3,394.1 150,391.6 144.9,389.5 139.8,387.8 134.8,386.6 129.9,385.7 125.1,385.3 120.3,385.3 115.7,385.7 111.1,386.6 106.7,387.8 102.3,389.4 97.9,391.4 93.7,393.8 89.5,396.6M183.9,442.2 189.2,438.2 194.5,434.3 199.7,430.6 204.9,427 210,423.6 215,420.3 220,417.1 224.9,414 229.7,411.1 234.5,408.3 239.2,405.6 243.8,403.1 248.4,400.6 252.9,398.3 257.4,396.1 261.8,394.1 266.1,392.1 270.4,390.3 274.6,388.5 278.8,386.9 282.9,385.4 286.9,384 290.9,382.7 294.9,381.5 298.7,380.5M219.8,450 214,442.5 208.1,435.4 202.3,428.8 196.6,422.7 190.8,417 185.2,411.8 179.6,407 174,402.7 168.6,398.8 163.2,395.4 157.9,392.5 152.6,389.9 147.5,387.8 142.4,386.2 137.4,384.9 132.5,384.1 127.7,383.7 122.9,383.7 118.3,384.1 113.7,384.9 109.2,386.2 104.8,387.8 100.5,389.8 96.2,392.2 92.1,395M181,439 186.3,435 191.6,431.2 196.8,427.5 202,423.9 207.1,420.5 212.1,417.2 217.1,414 222,411 226.9,408.1 231.6,405.3 236.4,402.6 241,400.1 245.6,397.7 250.1,395.4 254.6,393.2 259,391.1 263.4,389.2 267.6,387.4 271.9,385.6 276,384 280.1,382.5 284.2,381.2 288.2,379.9 292.1,378.7 296,377.6M222.4,448.2 216.5,440.7 210.7,433.6 204.9,427 199.1,420.9 193.4,415.2 187.8,410 182.2,405.3 176.6,401 171.2,397.2 165.8,393.8 160.5,390.8 155.2,388.3 150.1,386.2 145,384.5 140,383.3 135.1,382.5 130.3,382.1 125.5,382.1 120.9,382.5 116.3,383.4 111.8,384.6 107.4,386.2 103,388.2 98.8,390.6 94.6,393.4M178.1,435.9 183.4,431.9 188.7,428.1 194,424.4 199.1,420.9 204.2,417.5 209.3,414.2 214.3,411.1 219.2,408 224,405.1 228.8,402.4 233.5,399.7 238.2,397.2 242.8,394.8 247.3,392.5 251.8,390.4 256.2,388.3 260.6,386.4 264.9,384.6 269.1,382.9 273.3,381.3 277.4,379.8 281.5,378.4 285.5,377.1 289.4,376 293.3,374.9M224.9,446.4 219.1,438.9 213.2,431.9 207.4,425.3 201.7,419.2 196,413.5 190.3,408.4 184.8,403.6 179.2,399.3 173.8,395.5 168.4,392.1 163.1,389.2 157.8,386.7 152.7,384.6 147.6,382.9 142.6,381.7 137.7,380.9 132.8,380.5 128.1,380.5 123.4,381 118.8,381.8 114.3,383 109.9,384.7 105.6,386.7 101.3,389.1 97.1,391.9M175.2,432.9 180.5,429 185.9,425.2 191.1,421.5 196.3,418 201.4,414.6 206.4,411.4 211.4,408.2 216.4,405.2 221.2,402.3 226,399.6 230.7,397 235.4,394.4 240,392.1 244.6,389.8 249,387.6 253.5,385.6 257.8,383.7 262.1,381.9 266.4,380.2 270.6,378.6 274.7,377.1 278.8,375.8 282.8,374.5 286.7,373.4 290.6,372.3M227.4,444.6 221.6,437.2 215.8,430.1 210,423.6 204.2,417.5 198.5,411.9 192.9,406.7 187.3,402 181.8,397.7 176.3,393.9 171,390.5 165.6,387.6 160.4,385.1 155.2,383 150.2,381.4 145.2,380.2 140.2,379.4 135.4,379 130.6,379 126,379.5 121.4,380.3 116.9,381.5 112.4,383.2 108.1,385.2 103.8,387.6 99.6,390.4M172.3,430.1 177.7,426.2 183,422.4 188.2,418.8 193.4,415.2 198.5,411.9 203.6,408.6 208.6,405.5 213.5,402.5 218.4,399.6 223.2,396.9 227.9,394.3 232.6,391.8 237.2,389.4 241.8,387.2 246.3,385 250.7,383 255.1,381.1 259.4,379.3 263.6,377.6 267.8,376.1 272,374.6 276,373.3 280.1,372 284,370.9 287.9,369.8M229.9,442.9 224.1,435.4 218.3,428.4 212.5,421.9 206.8,415.8 201.1,410.2 195.5,405.1 189.9,400.4 184.4,396.1 178.9,392.3 173.5,389 168.2,386 163,383.5 157.8,381.5 152.7,379.9 147.7,378.6 142.8,377.9 137.9,377.5 133.2,377.5 128.5,378 123.9,378.8 119.4,380 114.9,381.7 110.6,383.7 106.3,386.1 102.1,388.9M169.5,427.4 174.8,423.5 180.1,419.7 185.4,416.1 190.6,412.6 195.7,409.2 200.8,406 205.8,402.9 210.7,399.9 215.6,397.1 220.4,394.3 225.2,391.7 229.8,389.3 234.5,386.9 239,384.7 243.5,382.5 248,380.5 252.3,378.6 256.6,376.9 260.9,375.2 265.1,373.6 269.2,372.2 273.3,370.8 277.4,369.6 281.3,368.5 285.3,367.5M232.4,441.2 226.6,433.8 220.8,426.8 215,420.3 209.3,414.2 203.6,408.6 198,403.5 192.4,398.8 186.9,394.6 181.4,390.8 176.1,387.4 170.7,384.5 165.5,382 160.3,380 155.3,378.4 150.3,377.2 145.3,376.4 140.5,376 135.7,376 131,376.5 126.4,377.3 121.9,378.6 117.4,380.2 113.1,382.2 108.8,384.6 104.5,387.4M166.6,424.8 172,420.9 177.3,417.1 182.6,413.5 187.8,410 192.9,406.7 198,403.5 203,400.4 207.9,397.4 212.8,394.6 217.6,391.9 222.4,389.3 227.1,386.8 231.7,384.5 236.3,382.3 240.8,380.1 245.2,378.1 249.6,376.3 253.9,374.5 258.2,372.8 262.4,371.3 266.5,369.9 270.6,368.5 274.7,367.3 278.7,366.2 282.6,365.2M234.8,439.6 229,432.1 223.3,425.2 217.5,418.7 211.8,412.6 206.1,407 200.5,401.9 194.9,397.2 189.4,393 184,389.2 178.6,385.9 173.3,383 168,380.5 162.9,378.5 157.8,376.9 152.8,375.7 147.8,374.9 143,374.6 138.2,374.6 133.5,375.1 128.9,375.9 124.4,377.1 119.9,378.8 115.5,380.8 111.2,383.2 107,386M163.8,422.3 169.2,418.4 174.5,414.7 179.8,411.1 185,407.6 190.1,404.3 195.2,401.1 200.2,398 205.1,395.1 210,392.2 214.8,389.5 219.6,387 224.3,384.5 228.9,382.2 233.5,380 238,377.9 242.5,375.9 246.9,374 251.2,372.3 255.5,370.6 259.7,369.1 263.8,367.6 267.9,366.3 272,365.1 276,364 279.9,363M237.3,437.9 231.5,430.5 225.7,423.6 220,417.1 214.3,411.1 208.6,405.5 203,400.4 197.4,395.7 191.9,391.5 186.5,387.8 181.1,384.4 175.8,381.5 170.5,379.1 165.4,377.1 160.3,375.5 155.3,374.3 150.4,373.5 145.5,373.1 140.7,373.2 136,373.6 131.4,374.5 126.9,375.7 122.4,377.4 118,379.4 113.7,381.8 109.4,384.6M161,419.9 166.4,416 171.7,412.3 177,408.7 182.2,405.3 187.3,402 192.4,398.8 197.4,395.7 202.4,392.8 207.3,390 212.1,387.3 216.9,384.7 221.6,382.3 226.2,380 230.8,377.8 235.3,375.7 239.8,373.7 244.1,371.9 248.5,370.1 252.8,368.5 257,367 261.2,365.5 265.3,364.2 269.3,363 273.3,361.9 277.3,360.9M239.7,436.3 233.9,428.9 228.2,422 222.4,415.5 216.7,409.5 211.1,404 205.5,398.9 199.9,394.3 194.4,390.1 189,386.3 183.6,383 178.3,380.1 173,377.7 167.9,375.6 162.8,374.1 157.8,372.9 152.8,372.1 148,371.8 143.2,371.8 138.5,372.3 133.9,373.1 129.3,374.4 124.9,376 120.5,378 116.1,380.4 111.9,383.2M158.2,417.6 163.6,413.8 168.9,410.1 174.2,406.5 179.4,403.1 184.6,399.8 189.6,396.6 194.7,393.6 199.6,390.7 204.5,387.9 209.3,385.2 214.1,382.6 218.8,380.2 223.5,377.9 228.1,375.7 232.6,373.6 237,371.7 241.4,369.8 245.8,368.1 250.1,366.5 254.3,365 258.5,363.5 262.6,362.2 266.6,361 270.7,360 274.6,359M242.1,434.8 236.4,427.4 230.6,420.5 224.9,414 219.2,408 213.5,402.5 207.9,397.4 202.4,392.8 196.9,388.6 191.4,384.9 186.1,381.6 180.8,378.7 175.5,376.3 170.4,374.3 165.3,372.7 160.3,371.5 155.3,370.8 150.5,370.4 145.7,370.5 141,370.9 136.3,371.8 131.8,373 127.3,374.7 122.9,376.7 118.6,379.1 114.3,381.9M155.4,415.5 160.8,411.7 166.2,408 171.4,404.4 176.6,401 181.8,397.7 186.9,394.6 191.9,391.5 196.9,388.6 201.8,385.8 206.6,383.2 211.4,380.6 216.1,378.2 220.8,375.9 225.3,373.7 229.9,371.7 234.3,369.7 238.7,367.9 243.1,366.2 247.4,364.6 251.6,363 255.8,361.7 259.9,360.4 264,359.2 268,358.1 272,357.1M244.5,433.2 238.8,425.9 233,419 227.3,412.5 221.6,406.6 216,401.1 210.4,396 204.8,391.4 199.3,387.2 193.9,383.5 188.5,380.2 183.2,377.3 178,374.9 172.8,372.9 167.7,371.3 162.7,370.2 157.8,369.4 152.9,369.1 148.1,369.1 143.4,369.6 138.8,370.5 134.2,371.7 129.7,373.4 125.3,375.4 121,377.8 116.7,380.6M152.7,413.4 158.1,409.6 163.4,406 168.7,402.4 173.9,399 179.1,395.8 184.2,392.6 189.2,389.6 194.1,386.7 199.1,383.9 203.9,381.3 208.7,378.8 213.4,376.3 218,374.1 222.6,371.9 227.2,369.8 231.6,367.9 236.1,366.1 240.4,364.4 244.7,362.7 249,361.3 253.1,359.9 257.3,358.6 261.3,357.4 265.4,356.3 269.3,355.3M246.9,431.7 241.1,424.4 235.4,417.5 229.7,411.1 224,405.1 218.4,399.6 212.8,394.6 207.3,390 201.8,385.8 196.3,382.1 191,378.8 185.7,376 180.4,373.6 175.3,371.6 170.2,370 165.2,368.9 160.2,368.1 155.4,367.8 150.6,367.9 145.9,368.3 141.2,369.2 136.7,370.4 132.2,372.1 127.7,374.1 123.4,376.5 119.1,379.3M149.9,411.5 155.3,407.7 160.7,404.1 166,400.5 171.2,397.2 176.3,393.9 181.4,390.8 186.5,387.8 191.4,384.9 196.3,382.1 201.2,379.5 206,377 210.7,374.6 215.4,372.3 220,370.1 224.5,368.1 229,366.2 233.4,364.4 237.8,362.6 242.1,361 246.3,359.6 250.5,358.2 254.6,356.9 258.7,355.7 262.7,354.7 266.7,353.7M249.3,430.3 243.5,422.9 237.8,416.1 232.1,409.7 226.4,403.7 220.8,398.3 215.2,393.2 209.7,388.6 204.2,384.5 198.8,380.8 193.4,377.5 188.1,374.7 182.9,372.3 177.7,370.3 172.6,368.7 167.6,367.6 162.7,366.8 157.8,366.5 153,366.6 148.3,367.1 143.6,367.9 139.1,369.2 134.6,370.8 130.1,372.8 125.8,375.2 121.5,378M147.2,409.7 152.6,405.9 158,402.3 163.3,398.8 168.5,395.4 173.6,392.2 178.7,389 183.8,386 188.7,383.2 193.7,380.4 198.5,377.8 203.3,375.3 208,372.9 212.7,370.7 217.3,368.5 221.8,366.5 226.3,364.5 230.7,362.7 235.1,361 239.4,359.5 243.7,358 247.9,356.6 252,355.3 256.1,354.2 260.1,353.1 264.1,352.1M251.6,428.8 245.9,421.5 240.2,414.7 234.5,408.3 228.8,402.4 223.2,396.9 217.6,391.9 212.1,387.3 206.6,383.2 201.2,379.5 195.8,376.2 190.5,373.4 185.3,371 180.1,369 175.1,367.5 170,366.3 165.1,365.6 160.2,365.3 155.4,365.4 150.7,365.8 146,366.7 141.5,368 137,369.6 132.5,371.6 128.2,374 123.9,376.8M144.5,408 149.9,404.2 155.3,400.6 160.6,397.1 165.8,393.8 171,390.5 176.1,387.4 181.1,384.4 186.1,381.6 191,378.8 195.8,376.2 200.6,373.7 205.3,371.4 210,369.1 214.6,367 219.2,364.9 223.7,363 228.1,361.2 232.5,359.5 236.8,358 241,356.5 245.2,355.1 249.4,353.9 253.5,352.7 257.5,351.6 261.5,350.7M253.9,427.4 248.2,420.1 242.5,413.3 236.8,406.9 231.2,401 225.6,395.6 220,390.6 214.5,386 209,381.9 203.6,378.2 198.2,375 192.9,372.2 187.7,369.8 182.6,367.8 177.5,366.2 172.4,365.1 167.5,364.4 162.6,364.1 157.8,364.1 153.1,364.6 148.4,365.5 143.9,366.8 139.3,368.4 134.9,370.4 130.5,372.8 126.2,375.6M141.9,406.4 147.3,402.7 152.6,399.1 157.9,395.6 163.1,392.2 168.3,389 173.4,385.9 178.4,382.9 183.4,380.1 188.3,377.4 193.2,374.8 198,372.3 202.7,369.9 207.4,367.7 212,365.5 216.5,363.5 221,361.6 225.5,359.8 229.8,358.1 234.2,356.6 238.4,355.1 242.6,353.8 246.8,352.5 250.9,351.3 254.9,350.3 258.9,349.3M256.3,426 250.6,418.8 244.9,412 239.2,405.6 233.5,399.7 227.9,394.3 222.4,389.3 216.9,384.7 211.4,380.6 206,377 200.6,373.7 195.3,370.9 190.1,368.6 184.9,366.6 179.9,365.1 174.8,363.9 169.9,363.2 165,362.9 160.2,363 155.5,363.5 150.8,364.3 146.2,365.6 141.7,367.2 137.3,369.2 132.9,371.6 128.6,374.4M139.2,404.9 144.6,401.2 150,397.6 155.3,394.1 160.5,390.8 165.6,387.6 170.7,384.5 175.8,381.5 180.8,378.7 185.7,376 190.5,373.4 195.3,370.9 200.1,368.6 204.7,366.3 209.4,364.2 213.9,362.2 218.4,360.3 222.8,358.5 227.2,356.9 231.5,355.3 235.8,353.8 240,352.5 244.2,351.2 248.3,350.1 252.3,349 256.3,348.1M258.6,424.7 252.9,417.5 247.2,410.7 241.5,404.3 235.9,398.5 230.3,393 224.7,388 219.2,383.5 213.8,379.4 208.3,375.8 203,372.5 197.7,369.7 192.5,367.4 187.3,365.4 182.2,363.9 177.2,362.8 172.3,362 167.4,361.7 162.6,361.8 157.8,362.3 153.2,363.2 148.6,364.4 144.1,366.1 139.6,368.1 135.2,370.5 130.9,373.2M136.6,403.6 142,399.9 147.3,396.3 152.6,392.8 157.9,389.5 163,386.3 168.1,383.2 173.2,380.3 178.1,377.4 183.1,374.7 187.9,372.2 192.7,369.7 197.4,367.3 202.1,365.1 206.7,363 211.3,361 215.8,359.1 220.2,357.3 224.6,355.7 228.9,354.1 233.2,352.7 237.4,351.3 241.6,350.1 245.7,348.9 249.7,347.9 253.8,347M260.8,423.4 255.2,416.2 249.5,409.4 243.8,403.1 238.2,397.2 232.6,391.8 227.1,386.8 221.6,382.3 216.1,378.2 210.7,374.6 205.3,371.4 200.1,368.6 194.8,366.2 189.7,364.3 184.6,362.7 179.6,361.6 174.6,360.9 169.7,360.6 164.9,360.7 160.2,361.2 155.5,362.1 150.9,363.3 146.4,365 142,367 137.6,369.4 133.2,372.1M134,402.3 139.4,398.6 144.7,395 150,391.6 155.2,388.3 160.4,385.1 165.5,382 170.5,379.1 175.5,376.3 180.4,373.6 185.3,371 190.1,368.6 194.8,366.2 199.5,364 204.1,361.9 208.7,359.9 213.2,358 217.6,356.2 222,354.6 226.4,353 230.6,351.6 234.9,350.2 239,349 243.1,347.9 247.2,346.8 251.2,345.9M263.1,422.1 257.4,414.9 251.8,408.1 246.1,401.8 240.5,396 234.9,390.6 229.4,385.6 223.9,381.1 218.4,377.1 213,373.4 207.7,370.2 202.4,367.4 197.2,365.1 192,363.2 186.9,361.6 181.9,360.5 177,359.8 172.1,359.5 167.3,359.6 162.5,360.1 157.9,361 153.3,362.2 148.7,363.9 144.3,365.9 139.9,368.3 135.5,371M131.4,401.2 136.8,397.5 142.2,393.9 147.4,390.5 152.7,387.2 157.8,384 162.9,380.9 168,378 172.9,375.2 177.9,372.5 182.7,370 187.5,367.5 192.3,365.2 196.9,363 201.6,360.9 206.1,358.9 210.6,357 215.1,355.3 219.5,353.6 223.8,352.1 228.1,350.6 232.3,349.3 236.5,348 240.6,346.9 244.6,345.9 248.7,345M265.4,420.9 259.7,413.7 254.1,406.9 248.4,400.6 242.8,394.8 237.2,389.4 231.7,384.5 226.2,380 220.8,375.9 215.4,372.3 210,369.1 204.7,366.3 199.5,364 194.4,362.1 189.3,360.6 184.3,359.4 179.3,358.7 174.4,358.5 169.6,358.5 164.9,359 160.2,359.9 155.6,361.2 151.1,362.8 146.6,364.8 142.2,367.2 137.8,370M128.9,400.1 134.2,396.5 139.6,392.9 144.9,389.5 150.1,386.2 155.2,383 160.3,380 165.4,377.1 170.4,374.3 175.3,371.6 180.1,369 184.9,366.6 189.7,364.3 194.4,362.1 199,360 203.6,358 208.1,356.1 212.5,354.4 216.9,352.7 221.2,351.2 225.5,349.7 229.7,348.4 233.9,347.2 238,346.1 242.1,345 246.1,344.1M267.6,419.6 262,412.5 256.3,405.7 250.7,399.5 245.1,393.6 239.5,388.3 234,383.4 228.5,378.9 223.1,374.8 217.7,371.2 212.3,368 207.1,365.3 201.8,362.9 196.7,361 191.6,359.5 186.6,358.4 181.6,357.7 176.7,357.4 171.9,357.5 167.2,358 162.5,358.9 157.9,360.1 153.4,361.8 148.9,363.8 144.5,366.2 140.1,368.9M126.3,399.2 131.7,395.5 137,392 142.3,388.6 147.5,385.3 152.7,382.1 157.8,379.1 162.8,376.2 167.8,373.4 172.7,370.7 177.6,368.2 182.4,365.8 187.1,363.5 191.8,361.3 196.4,359.2 201,357.2 205.5,355.3 210,353.6 214.4,351.9 218.7,350.4 223,349 227.2,347.7 231.4,346.4 235.5,345.3 239.6,344.3 243.6,343.4M269.8,418.5 264.2,411.3 258.6,404.6 252.9,398.3 247.3,392.5 241.8,387.2 236.3,382.3 230.8,377.8 225.3,373.7 220,370.1 214.6,367 209.4,364.2 204.1,361.9 199,360 193.9,358.5 188.9,357.4 183.9,356.7 179.1,356.4 174.2,356.5 169.5,357 164.8,357.9 160.2,359.1 155.7,360.8 151.2,362.8 146.8,365.2 142.4,367.9M123.8,398.4 129.2,394.7 134.5,391.2 139.8,387.8 145,384.5 150.2,381.4 155.3,378.4 160.3,375.5 165.3,372.7 170.2,370 175.1,367.5 179.9,365.1 184.6,362.7 189.3,360.6 193.9,358.5 198.5,356.5 203,354.7 207.4,352.9 211.8,351.3 216.2,349.7 220.5,348.3 224.7,347 228.9,345.8 233,344.6 237.1,343.6 241.1,342.7M272,417.3 266.4,410.1 260.8,403.5 255.2,397.2 249.6,391.4 244,386.1 238.5,381.2 233,376.7 227.6,372.7 222.2,369.1 216.9,365.9 211.6,363.2 206.4,360.9 201.3,359 196.2,357.5 191.2,356.4 186.2,355.7 181.3,355.4 176.5,355.5 171.8,356 167.1,356.9 162.5,358.2 157.9,359.8 153.5,361.8 149,364.2 144.7,366.9M121.3,397.7 126.7,394 132,390.5 137.3,387.1 142.5,383.9 147.7,380.7 152.7,377.7 157.8,374.8 162.8,372 167.7,369.4 172.5,366.9 177.3,364.4 182.1,362.1 186.8,360 191.4,357.9 196,355.9 200.5,354.1 204.9,352.3 209.3,350.7 213.7,349.2 218,347.7 222.2,346.4 226.4,345.2 230.5,344.1 234.6,343.1 238.6,342.2M274.2,416.2 268.6,409 263,402.4 257.4,396.1 251.8,390.4 246.3,385 240.8,380.1 235.3,375.7 229.9,371.7 224.5,368.1 219.2,364.9 213.9,362.2 208.7,359.9 203.6,358 198.5,356.5 193.5,355.4 188.5,354.7 183.6,354.5 178.8,354.6 174.1,355.1 169.4,355.9 164.8,357.2 160.2,358.8 155.7,360.9 151.3,363.2 146.9,366M118.8,397.1 124.2,393.5 129.5,389.9 134.8,386.6 140,383.3 145.2,380.2 150.3,377.2 155.3,374.3 160.3,371.5 165.2,368.9 170,366.3 174.8,363.9 179.6,361.6 184.3,359.4 188.9,357.4 193.5,355.4 198,353.6 202.4,351.8 206.8,350.2 211.2,348.7 215.5,347.3 219.7,346 223.9,344.7 228,343.6 232.1,342.6 236.1,341.7M276.4,415.1 270.8,408 265.2,401.3 259.6,395.1 254,389.3 248.5,384 243,379.1 237.5,374.7 232.1,370.7 226.7,367.1 221.4,364 216.2,361.3 211,358.9 205.8,357.1 200.7,355.6 195.7,354.5 190.8,353.8 185.9,353.5 181.1,353.6 176.3,354.1 171.6,355 167,356.3 162.5,357.9 158,359.9 153.5,362.3 149.2,365M116.4,396.6 121.8,393 127.1,389.5 132.3,386.1 137.5,382.8 142.7,379.7 147.8,376.7 152.8,373.8 157.8,371.1 162.7,368.4 167.6,365.9 172.4,363.5 177.1,361.2 181.8,359 186.4,357 191,355 195.5,353.2 199.9,351.5 204.3,349.8 208.7,348.3 213,346.9 217.2,345.6 221.4,344.4 225.5,343.3 229.6,342.2 233.7,341.3M278.6,414 273,406.9 267.4,400.3 261.8,394.1 256.2,388.3 250.7,383 245.2,378.1 239.8,373.7 234.3,369.7 229,366.2 223.7,363 218.4,360.3 213.2,358 208.1,356.1 203,354.7 198,353.6 193,352.9 188.1,352.6 183.3,352.7 178.6,353.2 173.9,354.1 169.3,355.4 164.7,357 160.2,359 155.8,361.4 151.4,364.1M114,396.2 119.3,392.6 124.6,389.1 129.9,385.7 135.1,382.5 140.2,379.4 145.3,376.4 150.4,373.5 155.3,370.8 160.2,368.1 165.1,365.6 169.9,363.2 174.6,360.9 179.3,358.7 183.9,356.7 188.5,354.7 193,352.9 197.5,351.2 201.9,349.6 206.2,348 210.5,346.6 214.8,345.3 219,344.1 223.1,343 227.2,342 231.2,341.1M280.7,413 275.1,405.9 269.5,399.2 264,393.1 258.4,387.3 252.9,382 247.4,377.2 242,372.8 236.5,368.8 231.2,365.2 225.9,362.1 220.6,359.4 215.4,357.1 210.3,355.2 205.2,353.8 200.2,352.7 195.3,352 190.4,351.8 185.5,351.9 180.8,352.4 176.1,353.3 171.5,354.5 166.9,356.1 162.4,358.1 158,360.5 153.6,363.2M111.6,395.9 116.9,392.3 122.2,388.8 127.5,385.5 132.7,382.2 137.8,379.1 142.9,376.1 147.9,373.3 152.9,370.5 157.8,367.9 162.6,365.4 167.4,363 172.2,360.7 176.9,358.6 181.5,356.5 186.1,354.6 190.6,352.7 195,351 199.4,349.4 203.8,347.9 208.1,346.4 212.3,345.1 216.5,343.9 220.6,342.8 224.7,341.8 228.8,340.9M282.8,412 277.3,404.9 271.7,398.3 266.1,392.1 260.6,386.4 255.1,381.1 249.6,376.3 244.1,371.9 238.7,367.9 233.4,364.4 228.1,361.2 222.8,358.5 217.6,356.2 212.5,354.4 207.4,352.9 202.4,351.8 197.5,351.2 192.6,350.9 187.8,351 183,351.5 178.3,352.4 173.7,353.7 169.1,355.3 164.6,357.3 160.2,359.7 155.8,362.4M109.2,395.8 114.5,392.1 119.8,388.7 125.1,385.3 130.3,382.1 135.4,379 140.5,376 145.5,373.1 150.5,370.4 155.4,367.8 160.2,365.3 165,362.9 169.7,360.6 174.4,358.5 179.1,356.4 183.6,354.5 188.1,352.6 192.6,350.9 197,349.3 201.3,347.8 205.6,346.4 209.9,345.1 214.1,343.8 218.2,342.7 222.3,341.7 226.4,340.8M285,411 279.4,403.9 273.8,397.3 268.3,391.2 262.7,385.5 257.2,380.2 251.8,375.4 246.3,371 240.9,367 235.6,363.5 230.3,360.4 225,357.7 219.8,355.4 214.7,353.5 209.6,352.1 204.6,351 199.7,350.4 194.8,350.1 190,350.2 185.2,350.7 180.5,351.6 175.9,352.8 171.3,354.5 166.8,356.5 162.4,358.8 158,361.5M106.8,395.7 112.2,392.1 117.5,388.6 122.7,385.3 127.9,382 133,379 138.1,376 143.1,373.1 148.1,370.4 153,367.8 157.8,365.3 162.6,362.9 167.3,360.6 172,358.5 176.6,356.4 181.2,354.5 185.7,352.6 190.2,350.9 194.6,349.3 198.9,347.8 203.2,346.4 207.5,345.1 211.7,343.9 215.8,342.8 219.9,341.7 223.9,340.8M287.1,410 281.5,403 275.9,396.4 270.4,390.3 264.9,384.6 259.4,379.3 253.9,374.5 248.5,370.1 243.1,366.2 237.8,362.6 232.5,359.5 227.2,356.9 222,354.6 216.9,352.7 211.8,351.3 206.8,350.2 201.9,349.6 197,349.3 192.2,349.4 187.4,349.9 182.7,350.8 178.1,352 173.5,353.7 169,355.7 164.6,358 160.2,360.7M104.5,395.7 109.8,392.1 115.1,388.7 120.3,385.3 125.5,382.1 130.6,379 135.7,376 140.7,373.2 145.7,370.5 150.6,367.9 155.4,365.4 160.2,363 164.9,360.7 169.6,358.5 174.2,356.5 178.8,354.6 183.3,352.7 187.8,351 192.2,349.4 196.5,347.9 200.8,346.5 205.1,345.2 209.3,344 213.4,342.9 217.5,341.9 221.6,340.9M289.1,409.1 283.6,402.1 278.1,395.5 272.5,389.4 267,383.7 261.5,378.5 256.1,373.7 250.6,369.3 245.3,365.3 239.9,361.8 234.6,358.7 229.4,356.1 224.2,353.8 219.1,351.9 214,350.5 209,349.4 204.1,348.8 199.2,348.5 194.4,348.6 189.6,349.1 184.9,350 180.3,351.3 175.7,352.9 171.2,354.9 166.7,357.2 162.4,359.9M102.2,395.9 107.5,392.3 112.8,388.8 118,385.5 123.2,382.3 128.3,379.2 133.4,376.2 138.4,373.4 143.3,370.6 148.2,368 153,365.5 157.8,363.2 162.6,360.9 167.2,358.7 171.9,356.7 176.4,354.8 180.9,352.9 185.4,351.2 189.8,349.6 194.1,348.1 198.4,346.7 202.7,345.4 206.9,344.2 211,343.1 215.1,342.1 219.2,341.1M291.2,408.2 285.7,401.2 280.1,394.6 274.6,388.5 269.1,382.9 263.6,377.6 258.2,372.8 252.8,368.5 247.4,364.6 242.1,361 236.8,358 231.5,355.3 226.4,353 221.2,351.2 216.2,349.7 211.2,348.7 206.2,348 201.3,347.8 196.5,347.9 191.8,348.4 187.1,349.3 182.4,350.5 177.9,352.2 173.4,354.1 168.9,356.5 164.5,359.2M99.9,396.1 105.2,392.5 110.5,389.1 115.7,385.7 120.9,382.5 126,379.5 131,376.5 136,373.6 141,370.9 145.9,368.3 150.7,365.8 155.5,363.5 160.2,361.2 164.9,359 169.5,357 174.1,355.1 178.6,353.2 183,351.5 187.4,349.9 191.8,348.4 196.1,347 200.3,345.7 204.5,344.5 208.7,343.4 212.8,342.4 216.8,341.4M293.3,407.3 287.7,400.3 282.2,393.8 276.7,387.7 271.2,382.1 265.7,376.8 260.3,372.1 254.9,367.7 249.5,363.8 244.2,360.3 238.9,357.2 233.7,354.6 228.5,352.3 223.4,350.5 218.3,349 213.3,348 208.4,347.3 203.5,347.1 198.7,347.2 193.9,347.7 189.2,348.6 184.6,349.8 180,351.4 175.5,353.4 171.1,355.8 166.7,358.5M97.6,396.4 102.9,392.9 108.2,389.4 113.4,386.1 118.6,382.9 123.7,379.8 128.7,376.9 133.7,374 138.6,371.3 143.5,368.7 148.4,366.2 153.1,363.8 157.9,361.6 162.5,359.4 167.1,357.4 171.7,355.5 176.2,353.6 180.7,351.9 185.1,350.3 189.4,348.8 193.7,347.4 198,346.1 202.2,344.9 206.3,343.8 210.4,342.7 214.5,341.8M295.3,406.5 289.8,399.5 284.3,393 278.8,386.9 273.3,381.3 267.8,376.1 262.4,371.3 257,367 251.6,363 246.3,359.6 241,356.5 235.8,353.8 230.6,351.6 225.5,349.7 220.5,348.3 215.5,347.3 210.5,346.6 205.6,346.4 200.8,346.5 196.1,347 191.4,347.9 186.7,349.1 182.2,350.7 177.6,352.7 173.2,355.1 168.8,357.7M95.4,396.9 100.7,393.3 105.9,389.9 111.1,386.6 116.3,383.4 121.4,380.3 126.4,377.3 131.4,374.5 136.3,371.8 141.2,369.2 146,366.7 150.8,364.3 155.5,362.1 160.2,359.9 164.8,357.9 169.4,355.9 173.9,354.1 178.3,352.4 182.7,350.8 187.1,349.3 191.4,347.9 195.6,346.6 199.8,345.4 204,344.2 208.1,343.2 212.1,342.3M297.4,405.7 291.8,398.7 286.3,392.2 280.8,386.1 275.4,380.5 269.9,375.3 264.5,370.6 259.1,366.2 253.7,362.3 248.4,358.9 243.1,355.8 237.9,353.1 232.8,350.9 227.6,349.1 222.6,347.6 217.6,346.6 212.6,346 207.8,345.7 203,345.8 198.2,346.3 193.5,347.2 188.9,348.5 184.3,350.1 179.8,352 175.3,354.4 170.9,357.1M93.2,397.4 98.5,393.9 103.7,390.4 108.9,387.1 114,383.9 119.1,380.9 124.1,377.9 129.1,375.1 134.1,372.4 138.9,369.8 143.7,367.3 148.5,364.9 153.2,362.6 157.9,360.5 162.5,358.5 167.1,356.5 171.6,354.7 176,353 180.4,351.4 184.7,349.9 189,348.4 193.3,347.1 197.5,345.9 201.6,344.8 205.7,343.8 209.8,342.9M299.4,404.9 293.9,398 288.4,391.5 282.9,385.4 277.4,379.8 272,374.6 266.5,369.9 261.2,365.5 255.8,361.7 250.5,358.2 245.2,355.1 240,352.5 234.9,350.2 229.7,348.4 224.7,347 219.7,346 214.8,345.3 209.9,345.1 205.1,345.2 200.3,345.7 195.6,346.6 191,347.8 186.4,349.4 181.9,351.4 177.4,353.7 173,356.4M91,398.1 96.2,394.5 101.5,391.1 106.7,387.8 111.8,384.6 116.9,381.5 121.9,378.6 126.9,375.7 131.8,373 136.7,370.4 141.5,368 146.2,365.6 150.9,363.3 155.6,361.2 160.2,359.1 164.8,357.2 169.3,355.4 173.7,353.7 178.1,352 182.4,350.5 186.7,349.1 191,347.8 195.2,346.6 199.3,345.5 203.4,344.5 207.5,343.5M301.4,404.2 295.9,397.2 290.4,390.7 284.9,384.7 279.4,379.1 274,373.9 268.6,369.2 263.2,364.9 257.9,361 252.6,357.5 247.3,354.5 242.1,351.8 236.9,349.6 231.8,347.8 226.8,346.4 221.8,345.3 216.9,344.7 212,344.4 207.2,344.6 202.4,345.1 197.7,345.9 193.1,347.2 188.5,348.8 184,350.8 179.5,353.1 175.1,355.8M88.8,398.8 94.1,395.3 99.3,391.9 104.4,388.5 109.6,385.4 114.6,382.3 119.7,379.3 124.6,376.5 129.5,373.8 134.4,371.2 139.2,368.7 144,366.4 148.7,364.1 153.3,362 157.9,359.9 162.5,358 167,356.2 171.4,354.4 175.8,352.8 180.1,351.3 184.4,349.9 188.7,348.6 192.9,347.4 197,346.2 201.1,345.2 205.2,344.3M303.4,403.4 297.9,396.5 292.4,390 286.9,384 281.5,378.4 276,373.3 270.6,368.5 265.3,364.2 259.9,360.4 254.6,356.9 249.4,353.9 244.2,351.2 239,349 233.9,347.2 228.9,345.8 223.9,344.7 219,344.1 214.1,343.8 209.3,344 204.5,344.5 199.8,345.4 195.2,346.6 190.6,348.2 186.1,350.2 181.6,352.5 177.2,355.2M86.6,399.7 91.9,396.1 97.1,392.7 102.3,389.4 107.4,386.2 112.4,383.2 117.4,380.2 122.4,377.4 127.3,374.7 132.2,372.1 137,369.6 141.7,367.2 146.4,365 151.1,362.8 155.7,360.8 160.2,358.8 164.7,357 169.1,355.3 173.5,353.7 177.9,352.2 182.2,350.7 186.4,349.4 190.6,348.2 194.7,347.1 198.9,346 202.9,345.1M305.3,402.7 299.9,395.8 294.4,389.4 288.9,383.3 283.5,377.8 278.1,372.6 272.7,367.9 267.3,363.6 262,359.8 256.7,356.3 251.4,353.3 246.2,350.6 241.1,348.4 236,346.6 230.9,345.2 226,344.2 221,343.5 216.2,343.3 211.3,343.4 206.6,343.9 201.9,344.8 197.3,346 192.7,347.6 188.2,349.6 183.7,351.9 179.3,354.6M84.5,400.6 89.7,397.1 94.9,393.7 100.1,390.4 105.2,387.2 110.2,384.1 115.2,381.2 120.2,378.3 125.1,375.6 129.9,373 134.7,370.6 139.5,368.2 144.2,365.9 148.8,363.8 153.4,361.7 157.9,359.8 162.4,358 166.9,356.2 171.3,354.6 175.6,353.1 179.9,351.7 184.1,350.4 188.3,349.1 192.5,348 196.6,347 200.6,346M307.3,402.1 301.8,395.2 296.4,388.7 290.9,382.7 285.5,377.1 280.1,372 274.7,367.3 269.3,363 264,359.2 258.7,355.7 253.5,352.7 248.3,350.1 243.1,347.9 238,346.1 233,344.6 228,343.6 223.1,343 218.2,342.7 213.4,342.9 208.7,343.4 204,344.2 199.3,345.5 194.7,347.1 190.2,349 185.8,351.3 181.4,354M82.4,401.7 87.6,398.1 92.8,394.7 97.9,391.4 103,388.2 108.1,385.2 113.1,382.2 118,379.4 122.9,376.7 127.7,374.1 132.5,371.6 137.3,369.2 142,367 146.6,364.8 151.2,362.8 155.7,360.9 160.2,359 164.6,357.3 169,355.7 173.4,354.1 177.6,352.7 181.9,351.4 186.1,350.2 190.2,349 194.3,348 198.4,347.1M309.2,401.4 303.8,394.5 298.3,388.1 292.9,382.1 287.5,376.6 282.1,371.4 276.7,366.7 271.3,362.5 266,358.6 260.7,355.2 255.5,352.2 250.3,349.6 245.2,347.3 240.1,345.5 235,344.1 230.1,343.1 225.1,342.5 220.3,342.2 215.5,342.3 210.7,342.8 206,343.7 201.4,345 196.8,346.6 192.3,348.5 187.8,350.8 183.4,353.5M80.3,402.8 85.5,399.3 90.7,395.9 95.8,392.6 100.9,389.4 105.9,386.3 110.9,383.4 115.8,380.6 120.7,377.8 125.6,375.2 130.3,372.8 135.1,370.4 139.7,368.1 144.4,366 149,363.9 153.5,362 158,360.2 162.4,358.4 166.8,356.8 171.1,355.3 175.4,353.8 179.7,352.5 183.8,351.3 188,350.1 192.1,349.1 196.1,348.2M311.2,400.8 305.7,393.9 300.3,387.5 294.9,381.5 289.4,376 284,370.9 278.7,366.2 273.3,361.9 268,358.1 262.7,354.7 257.5,351.6 252.3,349 247.2,346.8 242.1,345 237.1,343.6 232.1,342.6 227.2,342 222.3,341.7 217.5,341.9 212.8,342.4 208.1,343.2 203.4,344.5 198.9,346 194.3,348 189.9,350.3 185.4,352.9M78.2,404.1 83.4,400.5 88.6,397.1 93.7,393.8 98.8,390.6 103.8,387.6 108.8,384.6 113.7,381.8 118.6,379.1 123.4,376.5 128.2,374 132.9,371.6 137.6,369.4 142.2,367.2 146.8,365.2 151.3,363.2 155.8,361.4 160.2,359.7 164.6,358 168.9,356.5 173.2,355.1 177.4,353.7 181.6,352.5 185.8,351.3 189.9,350.3 193.9,349.3M313.1,400.2 307.7,393.4 302.2,386.9 296.8,381 291.4,375.4 286,370.3 280.6,365.7 275.3,361.4 270,357.6 264.7,354.2 259.5,351.2 254.3,348.6 249.2,346.4 244.1,344.6 239.1,343.2 234.1,342.1 229.2,341.5 224.3,341.3 219.5,341.4 214.8,341.9 210.1,342.8 205.5,344 200.9,345.6 196.4,347.5 191.9,349.8 187.5,352.4M76.2,405.4 81.3,401.9 86.5,398.5 91.6,395.2 96.7,392 101.7,388.9 106.6,386 111.6,383.1 116.4,380.4 121.2,377.8 126,375.3 130.7,373 135.4,370.7 140,368.5 144.6,366.5 149.1,364.5 153.6,362.7 158,361 162.4,359.3 166.7,357.8 171,356.4 175.2,355 179.4,353.8 183.6,352.6 187.6,351.6 191.7,350.6M315,399.6 309.6,392.8 304.1,386.4 298.7,380.5 293.3,374.9 287.9,369.8 282.6,365.2 277.3,360.9 272,357.1 266.7,353.7 261.5,350.7 256.3,348.1 251.2,345.9 246.1,344.1 241.1,342.7 236.1,341.7 231.2,341.1 226.4,340.8 221.6,340.9 216.8,341.4 212.1,342.3 207.5,343.5 202.9,345.1 198.4,347.1 193.9,349.3 189.5,352M74.1,406.9 79.3,403.3 84.4,399.9 89.5,396.6 94.6,393.4 99.6,390.4 104.5,387.4 109.4,384.6 114.3,381.9 119.1,379.3 123.9,376.8 128.6,374.4 133.2,372.1 137.8,370 142.4,367.9 146.9,366 151.4,364.1 155.8,362.4 160.2,360.7 164.5,359.2 168.8,357.7 173,356.4 177.2,355.2 181.4,354 185.4,352.9 189.5,352" fill="none" stroke="#000" stroke-width="0.5" stroke-opacity="0.7"/>
<path d="M74.1,406.9 79.3,403.3 84.4,399.9 89.5,396.6 94.6,393.4 99.6,390.4 104.5,387.4 109.4,384.6 114.3,381.9 119.1,379.3 123.9,376.8 128.6,374.4 133.2,372.1 137.8,370 142.4,367.9 146.9,366 151.4,364.1 155.8,362.4 160.2,360.7 164.5,359.2 168.8,357.7 173,356.4 177.2,355.2 181.4,354 185.4,352.9 189.5,352" fill="none" stroke="#000" stroke-width="1.6" stroke-linejoin="round"/>
<path d="M315,399.6 309.6,392.8 304.1,386.4 298.7,380.5 293.3,374.9 287.9,369.8 282.6,365.2 277.3,360.9 272,357.1 266.7,353.7 261.5,350.7 256.3,348.1 251.2,345.9 246.1,344.1 241.1,342.7 236.1,341.7 231.2,341.1 226.4,340.8 221.6,340.9 216.8,341.4 212.1,342.3 207.5,343.5 202.9,345.1 198.4,347.1 193.9,349.3 189.5,352M201.6,463.8 206.9,459.7 212.1,455.7 217.3,451.9 222.4,448.2 227.4,444.6 232.4,441.2 237.3,437.9 242.1,434.8 246.9,431.7 251.6,428.8 256.3,426 260.8,423.4 265.4,420.9 269.8,418.5 274.2,416.2 278.6,414 282.8,412 287.1,410 291.2,408.2 295.3,406.5 299.4,404.9 303.4,403.4 307.3,402.1 311.2,400.8 315,399.6M201.6,463.8 195.7,456.1 189.8,448.9 183.9,442.2 178.1,435.9 172.3,430.1 166.6,424.8 161,419.9 155.4,415.5 149.9,411.5 144.5,408 139.2,404.9 134,402.3 128.9,400.1 123.8,398.4 118.8,397.1 114,396.2 109.2,395.8 104.5,395.7 99.9,396.1 95.4,396.9 91,398.1 86.6,399.7 82.4,401.7 78.2,404.1 74.1,406.9" fill="none" stroke="#000" stroke-width="0.8" stroke-opacity="0.8"/>
<path d="M86.6,399.7 82.4,401.7M82.4,401.7 78.2,404.1M78.2,404.1 74.1,406.9M89.3,397.9 85,399.9M85,399.9 80.8,402.3M80.8,402.3 76.7,405.1M91.9,396.1 87.6,398.1M87.6,398.1 83.4,400.5M83.4,400.5 79.3,403.3M94.5,394.4 90.2,396.4M90.2,396.4 86,398.8M86,398.8 81.9,401.6M97.1,392.7 92.8,394.7M92.8,394.7 88.6,397.1M88.6,397.1 84.4,399.9M99.7,391 95.4,393.1M95.4,393.1 91.1,395.5M91.1,395.5 87,398.2M102.3,389.4 97.9,391.4M97.9,391.4 93.7,393.8M93.7,393.8 89.5,396.6M104.8,387.8 100.5,389.8M100.5,389.8 96.2,392.2M96.2,392.2 92.1,395M107.4,386.2 103,388.2M103,388.2 98.8,390.6M98.8,390.6 94.6,393.4M109.9,384.7 105.6,386.7M105.6,386.7 101.3,389.1M101.3,389.1 97.1,391.9M116.9,381.5 112.4,383.2M112.4,383.2 108.1,385.2M108.1,385.2 103.8,387.6M103.8,387.6 99.6,390.4M119.4,380 114.9,381.7M114.9,381.7 110.6,383.7M110.6,383.7 106.3,386.1M106.3,386.1 102.1,388.9M121.9,378.6 117.4,380.2M117.4,380.2 113.1,382.2M113.1,382.2 108.8,384.6M108.8,384.6 104.5,387.4M124.4,377.1 119.9,378.8M119.9,378.8 115.5,380.8M115.5,380.8 111.2,383.2M111.2,383.2 107,386M126.9,375.7 122.4,377.4M122.4,377.4 118,379.4M118,379.4 113.7,381.8M113.7,381.8 109.4,384.6M129.3,374.4 124.9,376M124.9,376 120.5,378M120.5,378 116.1,380.4M116.1,380.4 111.9,383.2M131.8,373 127.3,374.7M127.3,374.7 122.9,376.7M122.9,376.7 118.6,379.1M118.6,379.1 114.3,381.9M134.2,371.7 129.7,373.4M129.7,373.4 125.3,375.4M125.3,375.4 121,377.8M121,377.8 116.7,380.6M136.7,370.4 132.2,372.1M132.2,372.1 127.7,374.1M127.7,374.1 123.4,376.5M123.4,376.5 119.1,379.3M143.6,367.9 139.1,369.2M139.1,369.2 134.6,370.8M134.6,370.8 130.1,372.8M130.1,372.8 125.8,375.2M125.8,375.2 121.5,378M146,366.7 141.5,368M141.5,368 137,369.6M137,369.6 132.5,371.6M132.5,371.6 128.2,374M128.2,374 123.9,376.8M148.4,365.5 143.9,366.8M143.9,366.8 139.3,368.4M139.3,368.4 134.9,370.4M134.9,370.4 130.5,372.8M130.5,372.8 126.2,375.6M150.8,364.3 146.2,365.6M146.2,365.6 141.7,367.2M141.7,367.2 137.3,369.2M137.3,369.2 132.9,371.6M132.9,371.6 128.6,374.4M153.2,363.2 148.6,364.4M148.6,364.4 144.1,366.1M144.1,366.1 139.6,368.1M139.6,368.1 135.2,370.5M135.2,370.5 130.9,373.2M155.5,362.1 150.9,363.3M150.9,363.3 146.4,365M146.4,365 142,367M142,367 137.6,369.4M137.6,369.4 133.2,372.1M157.9,361 153.3,362.2M153.3,362.2 148.7,363.9M148.7,363.9 144.3,365.9M144.3,365.9 139.9,368.3M139.9,368.3 135.5,371M160.2,359.9 155.6,361.2M155.6,361.2 151.1,362.8M151.1,362.8 146.6,364.8M146.6,364.8 142.2,367.2M142.2,367.2 137.8,370M162.5,358.9 157.9,360.1M157.9,360.1 153.4,361.8M153.4,361.8 148.9,363.8M148.9,363.8 144.5,366.2M144.5,366.2 140.1,368.9M169.5,357 164.8,357.9M164.8,357.9 160.2,359.1M160.2,359.1 155.7,360.8M155.7,360.8 151.2,362.8M151.2,362.8 146.8,365.2M146.8,365.2 142.4,367.9M171.8,356 167.1,356.9M167.1,356.9 162.5,358.2M162.5,358.2 157.9,359.8M157.9,359.8 153.5,361.8M153.5,361.8 149,364.2M149,364.2 144.7,366.9M174.1,355.1 169.4,355.9M169.4,355.9 164.8,357.2M164.8,357.2 160.2,358.8M160.2,358.8 155.7,360.9M155.7,360.9 151.3,363.2M151.3,363.2 146.9,366M176.3,354.1 171.6,355M171.6,355 167,356.3M167,356.3 162.5,357.9M162.5,357.9 158,359.9M158,359.9 153.5,362.3M153.5,362.3 149.2,365M178.6,353.2 173.9,354.1M173.9,354.1 169.3,355.4M169.3,355.4 164.7,357M164.7,357 160.2,359M160.2,359 155.8,361.4M155.8,361.4 151.4,364.1M180.8,352.4 176.1,353.3M176.1,353.3 171.5,354.5M171.5,354.5 166.9,356.1M166.9,356.1 162.4,358.1M162.4,358.1 158,360.5M158,360.5 153.6,363.2M183,351.5 178.3,352.4M178.3,352.4 173.7,353.7M173.7,353.7 169.1,355.3M169.1,355.3 164.6,357.3M164.6,357.3 160.2,359.7M218.2,342.7 222.3,341.7M160.2,359.7 155.8,362.4M222.3,341.7 226.4,340.8M185.2,350.7 180.5,351.6M180.5,351.6 175.9,352.8M175.9,352.8 171.3,354.5M207.5,345.1 211.7,343.9M171.3,354.5 166.8,356.5M211.7,343.9 215.8,342.8M166.8,356.5 162.4,358.8M215.8,342.8 219.9,341.7M162.4,358.8 158,361.5M219.9,341.7 223.9,340.8M192.2,349.4 187.4,349.9M192.2,349.4 196.5,347.9M187.4,349.9 182.7,350.8M196.5,347.9 200.8,346.5M182.7,350.8 178.1,352M200.8,346.5 205.1,345.2M178.1,352 173.5,353.7M205.1,345.2 209.3,344M173.5,353.7 169,355.7M209.3,344 213.4,342.9M169,355.7 164.6,358M213.4,342.9 217.5,341.9M164.6,358 160.2,360.7M217.5,341.9 221.6,340.9M180.9,352.9 185.4,351.2M185.4,351.2 189.8,349.6M194.4,348.6 189.6,349.1M189.8,349.6 194.1,348.1M189.6,349.1 184.9,350M194.1,348.1 198.4,346.7M184.9,350 180.3,351.3M198.4,346.7 202.7,345.4M180.3,351.3 175.7,352.9M202.7,345.4 206.9,344.2M175.7,352.9 171.2,354.9M206.9,344.2 211,343.1M171.2,354.9 166.7,357.2M211,343.1 215.1,342.1M166.7,357.2 162.4,359.9M215.1,342.1 219.2,341.1M169.5,357 174.1,355.1M174.1,355.1 178.6,353.2M178.6,353.2 183,351.5M183,351.5 187.4,349.9M196.5,347.9 191.8,348.4M187.4,349.9 191.8,348.4M191.8,348.4 187.1,349.3M191.8,348.4 196.1,347M187.1,349.3 182.4,350.5M196.1,347 200.3,345.7M182.4,350.5 177.9,352.2M200.3,345.7 204.5,344.5M177.9,352.2 173.4,354.1M204.5,344.5 208.7,343.4M173.4,354.1 168.9,356.5M208.7,343.4 212.8,342.4M168.9,356.5 164.5,359.2M212.8,342.4 216.8,341.4M153.1,363.8 157.9,361.6M157.9,361.6 162.5,359.4M162.5,359.4 167.1,357.4M167.1,357.4 171.7,355.5M171.7,355.5 176.2,353.6M176.2,353.6 180.7,351.9M180.7,351.9 185.1,350.3M198.7,347.2 193.9,347.7M185.1,350.3 189.4,348.8M193.9,347.7 189.2,348.6M189.4,348.8 193.7,347.4M189.2,348.6 184.6,349.8M193.7,347.4 198,346.1M184.6,349.8 180,351.4M198,346.1 202.2,344.9M180,351.4 175.5,353.4M202.2,344.9 206.3,343.8M175.5,353.4 171.1,355.8M206.3,343.8 210.4,342.7M171.1,355.8 166.7,358.5M210.4,342.7 214.5,341.8M136.3,371.8 141.2,369.2M141.2,369.2 146,366.7M146,366.7 150.8,364.3M150.8,364.3 155.5,362.1M155.5,362.1 160.2,359.9M160.2,359.9 164.8,357.9M164.8,357.9 169.4,355.9M169.4,355.9 173.9,354.1M173.9,354.1 178.3,352.4M178.3,352.4 182.7,350.8M200.8,346.5 196.1,347M182.7,350.8 187.1,349.3M196.1,347 191.4,347.9M187.1,349.3 191.4,347.9M191.4,347.9 186.7,349.1M191.4,347.9 195.6,346.6M186.7,349.1 182.2,350.7M195.6,346.6 199.8,345.4M182.2,350.7 177.6,352.7M199.8,345.4 204,344.2M177.6,352.7 173.2,355.1M204,344.2 208.1,343.2M173.2,355.1 168.8,357.7M208.1,343.2 212.1,342.3M114,383.9 119.1,380.9M119.1,380.9 124.1,377.9M124.1,377.9 129.1,375.1M129.1,375.1 134.1,372.4M134.1,372.4 138.9,369.8M138.9,369.8 143.7,367.3M143.7,367.3 148.5,364.9M148.5,364.9 153.2,362.6M153.2,362.6 157.9,360.5M157.9,360.5 162.5,358.5M162.5,358.5 167.1,356.5M167.1,356.5 171.6,354.7M171.6,354.7 176,353M176,353 180.4,351.4M203,345.8 198.2,346.3M180.4,351.4 184.7,349.9M198.2,346.3 193.5,347.2M184.7,349.9 189,348.4M193.5,347.2 188.9,348.5M189,348.4 193.3,347.1M188.9,348.5 184.3,350.1M193.3,347.1 197.5,345.9M184.3,350.1 179.8,352M197.5,345.9 201.6,344.8M179.8,352 175.3,354.4M201.6,344.8 205.7,343.8M175.3,354.4 170.9,357.1M205.7,343.8 209.8,342.9M96.2,394.5 101.5,391.1M101.5,391.1 106.7,387.8M106.7,387.8 111.8,384.6M111.8,384.6 116.9,381.5M116.9,381.5 121.9,378.6M121.9,378.6 126.9,375.7M126.9,375.7 131.8,373M131.8,373 136.7,370.4M136.7,370.4 141.5,368M141.5,368 146.2,365.6M146.2,365.6 150.9,363.3M150.9,363.3 155.6,361.2M155.6,361.2 160.2,359.1M160.2,359.1 164.8,357.2M164.8,357.2 169.3,355.4M169.3,355.4 173.7,353.7M173.7,353.7 178.1,352M205.1,345.2 200.3,345.7M178.1,352 182.4,350.5M200.3,345.7 195.6,346.6M182.4,350.5 186.7,349.1M195.6,346.6 191,347.8M186.7,349.1 191,347.8M191,347.8 186.4,349.4M191,347.8 195.2,346.6M186.4,349.4 181.9,351.4M195.2,346.6 199.3,345.5M181.9,351.4 177.4,353.7M199.3,345.5 203.4,344.5M177.4,353.7 173,356.4M203.4,344.5 207.5,343.5M88.8,398.8 94.1,395.3M94.1,395.3 99.3,391.9M99.3,391.9 104.4,388.5M104.4,388.5 109.6,385.4M109.6,385.4 114.6,382.3M114.6,382.3 119.7,379.3M119.7,379.3 124.6,376.5M124.6,376.5 129.5,373.8M129.5,373.8 134.4,371.2M134.4,371.2 139.2,368.7M139.2,368.7 144,366.4M144,366.4 148.7,364.1M148.7,364.1 153.3,362M153.3,362 157.9,359.9M157.9,359.9 162.5,358M162.5,358 167,356.2M167,356.2 171.4,354.4M212,344.4 207.2,344.6M171.4,354.4 175.8,352.8M207.2,344.6 202.4,345.1M175.8,352.8 180.1,351.3M202.4,345.1 197.7,345.9M180.1,351.3 184.4,349.9M197.7,345.9 193.1,347.2M184.4,349.9 188.7,348.6M193.1,347.2 188.5,348.8M188.7,348.6 192.9,347.4M188.5,348.8 184,350.8M192.9,347.4 197,346.2M184,350.8 179.5,353.1M197,346.2 201.1,345.2M179.5,353.1 175.1,355.8M201.1,345.2 205.2,344.3M86.6,399.7 91.9,396.1M91.9,396.1 97.1,392.7M97.1,392.7 102.3,389.4M102.3,389.4 107.4,386.2M107.4,386.2 112.4,383.2M112.4,383.2 117.4,380.2M117.4,380.2 122.4,377.4M122.4,377.4 127.3,374.7M127.3,374.7 132.2,372.1M132.2,372.1 137,369.6M137,369.6 141.7,367.2M141.7,367.2 146.4,365M146.4,365 151.1,362.8M151.1,362.8 155.7,360.8M155.7,360.8 160.2,358.8M160.2,358.8 164.7,357M164.7,357 169.1,355.3M214.1,343.8 209.3,344M169.1,355.3 173.5,353.7M209.3,344 204.5,344.5M173.5,353.7 177.9,352.2M204.5,344.5 199.8,345.4M177.9,352.2 182.2,350.7M199.8,345.4 195.2,346.6M182.2,350.7 186.4,349.4M195.2,346.6 190.6,348.2M186.4,349.4 190.6,348.2M190.6,348.2 186.1,350.2M190.6,348.2 194.7,347.1M186.1,350.2 181.6,352.5M194.7,347.1 198.9,346M181.6,352.5 177.2,355.2M198.9,346 202.9,345.1M84.5,400.6 89.7,397.1M89.7,397.1 94.9,393.7M94.9,393.7 100.1,390.4M100.1,390.4 105.2,387.2M105.2,387.2 110.2,384.1M110.2,384.1 115.2,381.2M115.2,381.2 120.2,378.3M120.2,378.3 125.1,375.6M125.1,375.6 129.9,373M129.9,373 134.7,370.6M134.7,370.6 139.5,368.2M139.5,368.2 144.2,365.9M144.2,365.9 148.8,363.8M148.8,363.8 153.4,361.7M153.4,361.7 157.9,359.8M157.9,359.8 162.4,358M162.4,358 166.9,356.2M216.2,343.3 211.3,343.4M166.9,356.2 171.3,354.6M211.3,343.4 206.6,343.9M171.3,354.6 175.6,353.1M206.6,343.9 201.9,344.8M175.6,353.1 179.9,351.7M201.9,344.8 197.3,346M179.9,351.7 184.1,350.4M197.3,346 192.7,347.6M184.1,350.4 188.3,349.1M192.7,347.6 188.2,349.6M188.3,349.1 192.5,348M188.2,349.6 183.7,351.9M192.5,348 196.6,347M183.7,351.9 179.3,354.6M196.6,347 200.6,346M82.4,401.7 87.6,398.1M87.6,398.1 92.8,394.7M92.8,394.7 97.9,391.4M97.9,391.4 103,388.2M103,388.2 108.1,385.2M108.1,385.2 113.1,382.2M113.1,382.2 118,379.4M118,379.4 122.9,376.7M122.9,376.7 127.7,374.1M127.7,374.1 132.5,371.6M132.5,371.6 137.3,369.2M137.3,369.2 142,367M142,367 146.6,364.8M146.6,364.8 151.2,362.8M151.2,362.8 155.7,360.9M155.7,360.9 160.2,359M160.2,359 164.6,357.3M218.2,342.7 213.4,342.9M164.6,357.3 169,355.7M213.4,342.9 208.7,343.4M169,355.7 173.4,354.1M208.7,343.4 204,344.2M173.4,354.1 177.6,352.7M204,344.2 199.3,345.5M177.6,352.7 181.9,351.4M199.3,345.5 194.7,347.1M181.9,351.4 186.1,350.2M194.7,347.1 190.2,349M186.1,350.2 190.2,349M190.2,349 185.8,351.3M190.2,349 194.3,348M185.8,351.3 181.4,354M194.3,348 198.4,347.1M80.3,402.8 85.5,399.3M85.5,399.3 90.7,395.9M90.7,395.9 95.8,392.6M95.8,392.6 100.9,389.4M100.9,389.4 105.9,386.3M105.9,386.3 110.9,383.4M110.9,383.4 115.8,380.6M115.8,380.6 120.7,377.8M120.7,377.8 125.6,375.2M125.6,375.2 130.3,372.8M130.3,372.8 135.1,370.4M135.1,370.4 139.7,368.1M139.7,368.1 144.4,366M144.4,366 149,363.9M149,363.9 153.5,362M153.5,362 158,360.2M158,360.2 162.4,358.4M220.3,342.2 215.5,342.3M162.4,358.4 166.8,356.8M215.5,342.3 210.7,342.8M166.8,356.8 171.1,355.3M210.7,342.8 206,343.7M171.1,355.3 175.4,353.8M206,343.7 201.4,345M175.4,353.8 179.7,352.5M201.4,345 196.8,346.6M179.7,352.5 183.8,351.3M196.8,346.6 192.3,348.5M183.8,351.3 188,350.1M192.3,348.5 187.8,350.8M187.8,350.8 183.4,353.5M78.2,404.1 83.4,400.5M83.4,400.5 88.6,397.1M88.6,397.1 93.7,393.8M93.7,393.8 98.8,390.6M98.8,390.6 103.8,387.6M103.8,387.6 108.8,384.6M108.8,384.6 113.7,381.8M113.7,381.8 118.6,379.1M118.6,379.1 123.4,376.5M123.4,376.5 128.2,374M128.2,374 132.9,371.6M132.9,371.6 137.6,369.4M137.6,369.4 142.2,367.2M142.2,367.2 146.8,365.2M146.8,365.2 151.3,363.2M151.3,363.2 155.8,361.4M155.8,361.4 160.2,359.7M222.3,341.7 217.5,341.9M160.2,359.7 164.6,358M217.5,341.9 212.8,342.4M164.6,358 168.9,356.5M212.8,342.4 208.1,343.2M168.9,356.5 173.2,355.1M208.1,343.2 203.4,344.5M173.2,355.1 177.4,353.7M203.4,344.5 198.9,346M198.9,346 194.3,348M194.3,348 189.9,350.3M189.9,350.3 185.4,352.9M76.2,405.4 81.3,401.9M81.3,401.9 86.5,398.5M86.5,398.5 91.6,395.2M91.6,395.2 96.7,392M96.7,392 101.7,388.9M101.7,388.9 106.6,386M106.6,386 111.6,383.1M111.6,383.1 116.4,380.4M116.4,380.4 121.2,377.8M121.2,377.8 126,375.3M126,375.3 130.7,373M130.7,373 135.4,370.7M135.4,370.7 140,368.5M140,368.5 144.6,366.5M144.6,366.5 149.1,364.5M149.1,364.5 153.6,362.7M229.2,341.5 224.3,341.3M153.6,362.7 158,361M224.3,341.3 219.5,341.4M158,361 162.4,359.3M219.5,341.4 214.8,341.9M162.4,359.3 166.7,357.8M214.8,341.9 210.1,342.8M210.1,342.8 205.5,344M205.5,344 200.9,345.6M200.9,345.6 196.4,347.5M196.4,347.5 191.9,349.8M191.9,349.8 187.5,352.4M74.1,406.9 79.3,403.3M79.3,403.3 84.4,399.9M84.4,399.9 89.5,396.6M89.5,396.6 94.6,393.4M94.6,393.4 99.6,390.4M99.6,390.4 104.5,387.4M104.5,387.4 109.4,384.6M109.4,384.6 114.3,381.9M114.3,381.9 119.1,379.3M119.1,379.3 123.9,376.8M123.9,376.8 128.6,374.4M128.6,374.4 133.2,372.1M133.2,372.1 137.8,370M137.8,370 142.4,367.9M142.4,367.9 146.9,366M146.9,366 151.4,364.1M231.2,341.1 226.4,340.8M151.4,364.1 155.8,362.4M226.4,340.8 221.6,340.9M155.8,362.4 160.2,360.7M221.6,340.9 216.8,341.4M160.2,360.7 164.5,359.2M216.8,341.4 212.1,342.3M212.1,342.3 207.5,343.5M207.5,343.5 202.9,345.1M202.9,345.1 198.4,347.1M198.4,347.1 193.9,349.3" fill="none" stroke="#000" stroke-width="1.2"/>
<ellipse cx="194.6" cy="364.1" rx="2.2" ry="2.6" fill="#701010" stroke="#200" stroke-width="0.8"/>
<circle cx="77.3" cy="457.2" r="1.4"/>
<text x="73" y="455.9" font-size="8.5" text-anchor="end" font-weight="bold" stroke="#000" stroke-width="0.2" fill="#000">0</text>
<circle cx="75.5" cy="428.4" r="1.4"/>
<text x="71.2" y="427.1" font-size="8.5" text-anchor="end" font-weight="bold" stroke="#000" stroke-width="0.2" fill="#000">5</text>
<circle cx="73.7" cy="399.6" r="1.4"/>
<text x="69.4" y="398.3" font-size="8.5" text-anchor="end" font-weight="bold" stroke="#000" stroke-width="0.2" fill="#000">10</text>
<circle cx="71.8" cy="370.8" r="1.4"/>
<text x="67.5" y="369.5" font-size="8.5" text-anchor="end" font-weight="bold" stroke="#000" stroke-width="0.2" fill="#000">15</text>
<circle cx="70.0" cy="342.0" r="1.4"/>
<text x="65.7" y="340.7" font-size="8.5" text-anchor="end" font-weight="bold" stroke="#000" stroke-width="0.2" fill="#000">20</text>
<circle cx="201.5" cy="553.9" r="1.4"/>
<text x="205.3" y="561.4" font-size="7.7" font-weight="bold" stroke="#000" stroke-width="0.2" fill="#000">2.00</text>
<circle cx="228.4" cy="537.3" r="1.4"/>
<text x="232.2" y="544.8" font-size="7.7" font-weight="bold" stroke="#000" stroke-width="0.2" fill="#000">2.50</text>
<circle cx="255.4" cy="520.8" r="1.4"/>
<text x="259.2" y="528.3" font-size="7.7" font-weight="bold" stroke="#000" stroke-width="0.2" fill="#000">3.00</text>
<circle cx="282.4" cy="504.2" r="1.4"/>
<text x="286.2" y="511.8" font-size="7.7" font-weight="bold" stroke="#000" stroke-width="0.2" fill="#000">3.50</text>
<circle cx="309.3" cy="487.7" r="1.4"/>
<text x="313.1" y="495.2" font-size="7.7" font-weight="bold" stroke="#000" stroke-width="0.2" fill="#000">4.00</text>
<circle cx="201.5" cy="553.9" r="1.4"/>
<text x="197.8" y="561.5" font-size="7.7" text-anchor="end" font-weight="bold" stroke="#000" stroke-width="0.2" fill="#000">4.50</text>
<circle cx="171.0" cy="538.8" r="1.4"/>
<text x="167.3" y="546.4" font-size="7.7" text-anchor="end" font-weight="bold" stroke="#000" stroke-width="0.2" fill="#000">7.50</text>
<circle cx="140.6" cy="523.6" r="1.4"/>
<text x="136.9" y="531.2" font-size="7.7" text-anchor="end" font-weight="bold" stroke="#000" stroke-width="0.2" fill="#000">10.50</text>
<circle cx="110.1" cy="508.5" r="1.4"/>
<text x="106.4" y="516.1" font-size="7.7" text-anchor="end" font-weight="bold" stroke="#000" stroke-width="0.2" fill="#000">13.50</text>
<circle cx="79.6" cy="493.3" r="1.4"/>
<text x="75.9" y="500.9" font-size="7.7" text-anchor="end" font-weight="bold" stroke="#000" stroke-width="0.2" fill="#000">16.50</text>
<rect x="242.5" y="537.9" width="112.7" height="13" fill="#fff"/>
<text x="245" y="547.4" font-size="11.4" textLength="108.7" lengthAdjust="spacingAndGlyphs" stroke="#000" stroke-width="0.55" fill="#000">A: Cane sugar (% w/v)</text>
<text x="59.1" y="553.8" font-size="11.4" textLength="79" lengthAdjust="spacingAndGlyphs" stroke="#000" stroke-width="0.55" fill="#000">C: MSG (% w/v)</text>
<text transform="translate(38.7 420.5) rotate(-90)" font-size="11.2" text-anchor="middle" textLength="60" lengthAdjust="spacingAndGlyphs" style="white-space:pre" stroke="#000" stroke-width="0.55" fill="#000">GABA  (g/L)</text>
<polygon points="80,766.2 199.5,719.5 199.5,588 69,628" fill="#fefefe"/>
<polygon points="298.6,779.7 199.5,719.5 199.5,588 310.2,638.5" fill="#fefefe"/>
<path d="M77.3,732.5 L199.5,687.5 L301.4,745.3 M75.2,706.4 L199.5,662.6 L303.6,718.6 M73.2,680.3 L199.5,637.7 L305.8,691.9 M71.1,654.1 L199.5,612.9 L308,665.2 M69,628 L199.5,588 L310.2,638.5 M69,628 L80,766.2 M310.2,638.5 L298.6,779.7 M101.6,618 L107.9,721.3 M282.6,625.9 L276,730.8 M134.2,608 L138.4,710 M254.9,613.2 L250.5,716.4 M166.9,598 L169,698.7 M227.2,600.6 L225,701.9 M199.5,588 L199.5,719.5" fill="none" stroke="#101010" stroke-width="1.1"/>
<clipPath id="f3"><polygon points="174.4,841.5 298.6,779.7 199.5,719.5 80,766.2"/></clipPath>
<polygon points="174.4,841.5 298.6,779.7 199.5,719.5 80,766.2" fill="#ffff00" stroke="#15157a" stroke-width="0.9"/>
<g clip-path="url(#f3)" fill="none" stroke-width="1.2">
<polyline points="276,733.7 272.2,733 268.2,732.4 264.1,731.9 259.8,731.5 255.4,731.3 250.9,731.2 246.3,731.2 241.6,731.4 236.8,731.6 232.1,732 227.3,732.6 222.5,733.2 217.7,733.9 213,734.8 208.3,735.8 203.8,736.9 199.3,738.1 194.9,739.4 190.7,740.8 186.7,742.3 182.8,743.8 179.1,745.5 175.7,747.2 172.5,749 169.5,750.9 166.8,752.8 164.5,754.8 162.4,756.8 160.6,758.8 159.2,760.8 158.1,762.8 157.4,764.9 157,766.9 157,768.9 157.3,770.8 158.1,772.7 159.2,774.6 160.7,776.3 162.6,778 164.8,779.6 167.4,781.1 170.3,782.5 173.6,783.8 177.1,785 181,786 185.1,786.9 189.5,787.6 194.1,788.2 199,788.6 203.9,788.9 209.1,789 214.3,789 219.6,788.7 225,788.4 230.4,787.9 235.8,787.2 241.1,786.4 246.4,785.4 251.6,784.3 256.6,783.1 261.5,781.8 266.2,780.3 270.6,778.8 274.9,777.1 278.9,775.4 282.6,773.6 286.1,771.7 289.2,769.8 292,767.9 294.5,765.9 296.7,763.9 298.6,761.9 300,759.8 301.2,757.8 302,755.8 302.4,753.9 302.5,752 302.3,750.1 301.7,748.3" stroke="#ff9000"/>
<polyline points="252,720.9 245.5,721.1 239,721.4 232.4,721.9 225.7,722.6 219.1,723.5 212.5,724.5 205.9,725.7 199.4,727 193,728.5 186.7,730.1 180.6,731.9 174.6,733.8 168.9,735.9 163.4,738.1 158.1,740.4 153.2,742.8 148.5,745.3 144.2,747.9 140.3,750.5 136.7,753.3 133.6,756.1 130.9,759 128.7,761.8 126.9,764.8 125.7,767.7 125,770.6 124.8,773.4 125.1,776.3 126,779 127.5,781.7 129.5,784.3 132,786.8 135.1,789.2 138.7,791.4 142.9,793.5 147.5,795.4 152.6,797.1 158.1,798.6 164.1,799.9 170.5,801 177.2,801.9 184.2,802.5 191.4,802.9 198.9,803.1 206.6,803 214.3,802.7 222.2,802.1 230,801.3 237.8,800.3 245.6,799.1 253.2,797.7 260.7,796 267.9,794.2 274.9,792.2 281.6,790.1 288,787.8 294,785.4 299.7,782.9 304.9,780.2 309.7,777.5 314.1,774.8 318,771.9 321.4,769.1 324.3,766.2 326.7,763.3" stroke="#f2ee00" stroke-opacity="0.55"/>
<polyline points="240.6,713.7 232.6,714.4 224.6,715.2 216.5,716.2 208.5,717.4 200.5,718.8 192.6,720.4 184.8,722.2 177.2,724.1 169.7,726.2 162.4,728.5 155.3,731 148.5,733.6 142,736.4 135.8,739.3 130,742.4 124.6,745.5 119.6,748.8 115.1,752.2 111.1,755.6 107.6,759.1 104.7,762.7 102.4,766.3 100.7,769.9 99.6,773.5 99.1,777.1 99.4,780.6 100.3,784.1 101.9,787.5 104.3,790.8 107.3,793.9 111,796.9 115.4,799.7 120.5,802.4 126.2,804.8 132.5,807 139.4,808.9 146.9,810.6 154.8,812 163.2,813.1 172,813.9 181.2,814.4 190.6,814.6 200.2,814.5 210,814.1 219.8,813.4 229.7,812.4 239.5,811.1 249.2,809.5 258.8,807.6 268.1,805.6 277.1,803.2 285.8,800.7 294.1,798 302,795.1 309.4,792 316.3,788.8 322.7,785.5 328.5,782.1 333.8,778.7 338.5,775.2 342.5,771.6" stroke="#b4f000" stroke-opacity="0.55"/>
<polyline points="223.6,709.1 214.4,710.3 205.3,711.6 196.2,713.2 187.1,715 178.1,717 169.3,719.2 160.7,721.6 152.3,724.2 144.1,727 136.2,730 128.6,733.1 121.4,736.5 114.6,739.9 108.2,743.6 102.4,747.3 97,751.2 92.2,755.2 88,759.2 84.4,763.4 81.5,767.6 79.4,771.8 77.9,776 77.2,780.2 77.3,784.4 78.2,788.4 80,792.4 82.5,796.3 85.9,800.1 90.1,803.6 95.2,807 101,810.1 107.6,813 115,815.6 123.1,817.9 131.8,819.9 141.1,821.6 151,822.9 161.4,823.9 172.1,824.5 183.2,824.7 194.6,824.6 206.1,824.1 217.8,823.2 229.4,822 241,820.4 252.4,818.5 263.6,816.3 274.5,813.8 285.1,811.1 295.3,808 304.9,804.8 314.1,801.4 322.7,797.7 330.6,794 338,790.1 344.6,786.1 350.6,782" stroke="#50f000" stroke-opacity="0.55"/>
<polyline points="222.8,704.1 212.7,705.4 202.6,706.8 192.5,708.5 182.5,710.5 172.6,712.7 162.8,715.1 153.3,717.7 143.9,720.6 134.8,723.6 125.9,726.9 117.5,730.4 109.4,734.1 101.7,737.9 94.5,741.9 87.8,746.1 81.7,750.4 76.2,754.8 71.3,759.4 67.2,764 63.8,768.7 61.2,773.4 59.3,778.1 58.4,782.9 58.3,787.6 59.2,792.2 61,796.7 63.7,801.1 67.4,805.4 72,809.4 77.6,813.3 84.1,816.8 91.5,820.1 99.7,823.1 108.8,825.8 118.6,828.1 129.1,830 140.3,831.5 152,832.6 164.2,833.3 176.8,833.6 189.7,833.4 202.8,832.9 216,831.8 229.1,830.4 242.2,828.6 255.2,826.5 267.8,823.9 280.2,821.1 292,817.9 303.4,814.4 314.3,810.7" stroke="#00e080" stroke-opacity="0.55"/>
</g>
<g class="s">
<polygon color="#b3ff61" points="198.8,636.7 203.2,636.5 199.5,639.3 195.1,639.4"/>
<polygon color="#beff61" points="194.3,637 198.8,636.7 195.1,639.4 190.7,639.7"/>
<polygon color="#d9ff61" points="202.5,634.2 206.9,634 203.2,636.5 198.8,636.7"/>
<polygon color="#c7ff61" points="189.8,637.5 194.3,637 190.7,639.7 186.2,640.1"/>
<polygon color="#e3ff61" points="198.1,634.6 202.5,634.2 198.8,636.7 194.3,637"/>
<polygon color="#fcff61" points="206.3,632.2 210.7,631.9 206.9,634 202.5,634.2"/>
<polygon color="#cfff61" points="185.3,638.2 189.8,637.5 186.2,640.1 181.7,640.8"/>
<polygon color="#ecff61" points="193.6,635.2 198.1,634.6 194.3,637 189.8,637.5"/>
<polygon color="#fff961" points="201.8,632.6 206.3,632.2 202.5,634.2 198.1,634.6"/>
<polygon color="#ffe361" points="210.1,630.4 214.5,630.1 210.7,631.9 206.3,632.2"/>
<polygon color="#d6ff61" points="180.7,639.1 185.3,638.2 181.7,640.8 177.1,641.6"/>
<polygon color="#f3ff61" points="189,636 193.6,635.2 189.8,637.5 185.3,638.2"/>
<polygon color="#fff061" points="197.3,633.3 201.8,632.6 198.1,634.6 193.6,635.2"/>
<polygon color="#ffd961" points="205.7,630.9 210.1,630.4 206.3,632.2 201.8,632.6"/>
<polygon color="#ffc661" points="214,629 218.4,628.6 214.5,630.1 210.1,630.4"/>
<polygon color="#dbff61" points="176,640.1 180.7,639.1 177.1,641.6 172.4,642.6"/>
<polygon color="#faff61" points="184.4,636.9 189,636 185.3,638.2 180.7,639.1"/>
<polygon color="#ffe961" points="192.7,634.1 197.3,633.3 193.6,635.2 189,636"/>
<polygon color="#ffd161" points="201.1,631.6 205.7,630.9 201.8,632.6 197.3,633.3"/>
<polygon color="#ffbd61" points="209.6,629.6 214,629 210.1,630.4 205.7,630.9"/>
<polygon color="#ffab61" points="218,628 222.4,627.5 218.4,628.6 214,629"/>
<polygon color="#dfff61" points="171.3,641.4 176,640.1 172.4,642.6 167.7,643.7"/>
<polygon color="#feff61" points="179.7,638 184.4,636.9 180.7,639.1 176,640.1"/>
<polygon color="#ffe461" points="188.1,635.1 192.7,634.1 189,636 184.4,636.9"/>
<polygon color="#ffcb61" points="196.6,632.5 201.1,631.6 197.3,633.3 192.7,634.1"/>
<polygon color="#ffb561" points="205,630.4 209.6,629.6 205.7,630.9 201.1,631.6"/>
<polygon color="#ffa361" points="213.5,628.6 218,628 214,629 209.6,629.6"/>
<polygon color="#ff9461" points="222,627.3 226.4,626.7 222.4,627.5 218,628"/>
<polygon color="#e1ff61" points="166.6,642.8 171.3,641.4 167.7,643.7 163,645.1"/>
<polygon color="#fffd61" points="175,639.3 179.7,638 176,640.1 171.3,641.4"/>
<polygon color="#ffe061" points="183.4,636.3 188.1,635.1 184.4,636.9 179.7,638"/>
<polygon color="#ffc661" points="191.9,633.6 196.6,632.5 192.7,634.1 188.1,635.1"/>
<polygon color="#ffaf61" points="200.4,631.4 205,630.4 201.1,631.6 196.6,632.5"/>
<polygon color="#ff9c61" points="209,629.5 213.5,628.6 209.6,629.6 205,630.4"/>
<polygon color="#ff8c61" points="217.5,628 222,627.3 218,628 213.5,628.6"/>
<polygon color="#ff8061" points="226.1,627 230.5,626.4 226.4,626.7 222,627.3"/>
<polygon color="#e2ff61" points="161.7,644.4 166.6,642.8 163,645.1 158.2,646.6"/>
<polygon color="#fffb61" points="170.2,640.8 175,639.3 171.3,641.4 166.6,642.8"/>
<polygon color="#ffdd61" points="178.7,637.7 183.4,636.3 179.7,638 175,639.3"/>
<polygon color="#ffc261" points="187.2,634.9 191.9,633.6 188.1,635.1 183.4,636.3"/>
<polygon color="#ffab61" points="195.8,632.5 200.4,631.4 196.6,632.5 191.9,633.6"/>
<polygon color="#ff9761" points="204.4,630.5 209,629.5 205,630.4 200.4,631.4"/>
<polygon color="#ff8661" points="213,629 217.5,628 213.5,628.6 209,629.5"/>
<polygon color="#ff7961" points="221.6,627.8 226.1,627 222,627.3 217.5,628"/>
<polygon color="#ff6e61" points="230.2,627 234.6,626.3 230.5,626.4 226.1,627"/>
<polygon color="#e2ff61" points="156.9,646.2 161.7,644.4 158.2,646.6 153.3,648.3"/>
<polygon color="#fffa61" points="165.4,642.5 170.2,640.8 166.6,642.8 161.7,644.4"/>
<polygon color="#ffdb61" points="173.9,639.2 178.7,637.7 175,639.3 170.2,640.8"/>
<polygon color="#ffc061" points="182.5,636.3 187.2,634.9 183.4,636.3 178.7,637.7"/>
<polygon color="#ffa861" points="191.1,633.8 195.8,632.5 191.9,633.6 187.2,634.9"/>
<polygon color="#ff9361" points="199.7,631.8 204.4,630.5 200.4,631.4 195.8,632.5"/>
<polygon color="#ff8161" points="208.4,630.1 213,629 209,629.5 204.4,630.5"/>
<polygon color="#ff7361" points="217.1,628.8 221.6,627.8 217.5,628 213,629"/>
<polygon color="#ff6861" points="225.7,627.9 230.2,627 226.1,627 221.6,627.8"/>
<polygon color="#ff6161" points="234.4,627.4 238.8,626.7 234.6,626.3 230.2,627"/>
<polygon color="#e0ff61" points="151.9,648.2 156.9,646.2 153.3,648.3 148.4,650.3"/>
<polygon color="#fffb61" points="160.5,644.4 165.4,642.5 161.7,644.4 156.9,646.2"/>
<polygon color="#ffdb61" points="169,641 173.9,639.2 170.2,640.8 165.4,642.5"/>
<polygon color="#ffbf61" points="177.7,638 182.5,636.3 178.7,637.7 173.9,639.2"/>
<polygon color="#ffa661" points="186.3,635.4 191.1,633.8 187.2,634.9 182.5,636.3"/>
<polygon color="#ff9061" points="195,633.2 199.7,631.8 195.8,632.5 191.1,633.8"/>
<polygon color="#ff7d61" points="203.7,631.4 208.4,630.1 204.4,630.5 199.7,631.8"/>
<polygon color="#ff6e61" points="212.4,630 217.1,628.8 213,629 208.4,630.1"/>
<polygon color="#ff6261" points="221.2,629 225.7,627.9 221.6,627.8 217.1,628.8"/>
<polygon color="#ff6161" points="229.9,628.4 234.4,627.4 230.2,627 225.7,627.9"/>
<polygon color="#ff6161" points="238.7,628.2 243.1,627.4 238.8,626.7 234.4,627.4"/>
<polygon color="#ddff61" points="146.9,650.4 151.9,648.2 148.4,650.3 143.4,652.4"/>
<polygon color="#fffd61" points="155.5,646.4 160.5,644.4 156.9,646.2 151.9,648.2"/>
<polygon color="#ffdd61" points="164.1,642.9 169,641 165.4,642.5 160.5,644.4"/>
<polygon color="#ffbf61" points="172.8,639.8 177.7,638 173.9,639.2 169,641"/>
<polygon color="#ffa561" points="181.5,637.1 186.3,635.4 182.5,636.3 177.7,638"/>
<polygon color="#ff8f61" points="190.2,634.8 195,633.2 191.1,633.8 186.3,635.4"/>
<polygon color="#ff7b61" points="199,632.9 203.7,631.4 199.7,631.8 195,633.2"/>
<polygon color="#ff6b61" points="207.8,631.4 212.4,630 208.4,630.1 203.7,631.4"/>
<polygon color="#ff6161" points="216.6,630.3 221.2,629 217.1,628.8 212.4,630"/>
<polygon color="#ff6161" points="225.4,629.6 229.9,628.4 225.7,627.9 221.2,629"/>
<polygon color="#ff6161" points="234.2,629.3 238.7,628.2 234.4,627.4 229.9,628.4"/>
<polygon color="#ff6161" points="243,629.4 247.4,628.4 243.1,627.4 238.7,628.2"/>
<polygon color="#d8ff61" points="141.9,652.7 146.9,650.4 143.4,652.4 138.4,654.7"/>
<polygon color="#fdff61" points="150.5,648.7 155.5,646.4 151.9,648.2 146.9,650.4"/>
<polygon color="#ffdf61" points="159.2,645.1 164.1,642.9 160.5,644.4 155.5,646.4"/>
<polygon color="#ffc161" points="167.9,641.8 172.8,639.8 169,641 164.1,642.9"/>
<polygon color="#ffa661" points="176.6,639 181.5,637.1 177.7,638 172.8,639.8"/>
<polygon color="#ff8f61" points="185.4,636.6 190.2,634.8 186.3,635.4 181.5,637.1"/>
<polygon color="#ff7a61" points="194.2,634.6 199,632.9 195,633.2 190.2,634.8"/>
<polygon color="#ff6961" points="203,632.9 207.8,631.4 203.7,631.4 199,632.9"/>
<polygon color="#ff6161" points="211.9,631.7 216.6,630.3 212.4,630 207.8,631.4"/>
<polygon color="#ff6161" points="220.7,630.9 225.4,629.6 221.2,629 216.6,630.3"/>
<polygon color="#ff6161" points="229.6,630.5 234.2,629.3 229.9,628.4 225.4,629.6"/>
<polygon color="#ff6161" points="238.5,630.5 243,629.4 238.7,628.2 234.2,629.3"/>
<polygon color="#ff6161" points="247.3,630.9 251.7,629.9 247.4,628.4 243,629.4"/>
<polygon color="#d2ff61" points="136.8,655.3 141.9,652.7 138.4,654.7 133.3,657.2"/>
<polygon color="#f8ff61" points="145.4,651.1 150.5,648.7 146.9,650.4 141.9,652.7"/>
<polygon color="#ffe461" points="154.1,647.4 159.2,645.1 155.5,646.4 150.5,648.7"/>
<polygon color="#ffc461" points="162.9,644.1 167.9,641.8 164.1,642.9 159.2,645.1"/>
<polygon color="#ffa961" points="171.7,641.1 176.6,639 172.8,639.8 167.9,641.8"/>
<polygon color="#ff9061" points="180.5,638.6 185.4,636.6 181.5,637.1 176.6,639"/>
<polygon color="#ff7b61" points="189.4,636.4 194.2,634.6 190.2,634.8 185.4,636.6"/>
<polygon color="#ff6961" points="198.2,634.7 203,632.9 199,632.9 194.2,634.6"/>
<polygon color="#ff6161" points="207.2,633.4 211.9,631.7 207.8,631.4 203,632.9"/>
<polygon color="#ff6161" points="216.1,632.4 220.7,630.9 216.6,630.3 211.9,631.7"/>
<polygon color="#ff6161" points="225,631.9 229.6,630.5 225.4,629.6 220.7,630.9"/>
<polygon color="#ff6161" points="233.9,631.8 238.5,630.5 234.2,629.3 229.6,630.5"/>
<polygon color="#ff6161" points="242.8,632.1 247.3,630.9 243,629.4 238.5,630.5"/>
<polygon color="#ff6161" points="251.7,632.8 256.2,631.7 251.7,629.9 247.3,630.9"/>
<polygon color="#cbff61" points="131.6,658.1 136.8,655.3 133.3,657.2 128.2,659.8"/>
<polygon color="#f2ff61" points="140.3,653.8 145.4,651.1 141.9,652.7 136.8,655.3"/>
<polygon color="#ffe961" points="149,649.9 154.1,647.4 150.5,648.7 145.4,651.1"/>
<polygon color="#ffc961" points="157.8,646.5 162.9,644.1 159.2,645.1 154.1,647.4"/>
<polygon color="#ffac61" points="166.7,643.4 171.7,641.1 167.9,641.8 162.9,644.1"/>
<polygon color="#ff9361" points="175.5,640.8 180.5,638.6 176.6,639 171.7,641.1"/>
<polygon color="#ff7d61" points="184.5,638.5 189.4,636.4 185.4,636.6 180.5,638.6"/>
<polygon color="#ff6a61" points="193.4,636.7 198.2,634.7 194.2,634.6 189.4,636.4"/>
<polygon color="#ff6161" points="202.3,635.2 207.2,633.4 203,632.9 198.2,634.7"/>
<polygon color="#ff6161" points="211.3,634.2 216.1,632.4 211.9,631.7 207.2,633.4"/>
<polygon color="#ff6161" points="220.3,633.6 225,631.9 220.7,630.9 216.1,632.4"/>
<polygon color="#ff6161" points="229.3,633.3 233.9,631.8 229.6,630.5 225,631.9"/>
<polygon color="#ff6161" points="238.3,633.5 242.8,632.1 238.5,630.5 233.9,631.8"/>
<polygon color="#ff6161" points="247.2,634.1 251.7,632.8 247.3,630.9 242.8,632.1"/>
<polygon color="#ff6161" points="256.2,635.1 260.6,634 256.2,631.7 251.7,632.8"/>
<polygon color="#c2ff61" points="126.4,661 131.6,658.1 128.2,659.8 123,662.7"/>
<polygon color="#eaff61" points="135.1,656.6 140.3,653.8 136.8,655.3 131.6,658.1"/>
<polygon color="#fff061" points="143.9,652.7 149,649.9 145.4,651.1 140.3,653.8"/>
<polygon color="#ffcf61" points="152.7,649.1 157.8,646.5 154.1,647.4 149,649.9"/>
<polygon color="#ffb161" points="161.6,645.9 166.7,643.4 162.9,644.1 157.8,646.5"/>
<polygon color="#ff9761" points="170.5,643.1 175.5,640.8 171.7,641.1 166.7,643.4"/>
<polygon color="#ff8061" points="179.5,640.8 184.5,638.5 180.5,638.6 175.5,640.8"/>
<polygon color="#ff6c61" points="188.5,638.8 193.4,636.7 189.4,636.4 184.5,638.5"/>
<polygon color="#ff6161" points="197.5,637.3 202.3,635.2 198.2,634.7 193.4,636.7"/>
<polygon color="#ff6161" points="206.5,636.1 211.3,634.2 207.2,633.4 202.3,635.2"/>
<polygon color="#ff6161" points="215.5,635.4 220.3,633.6 216.1,632.4 211.3,634.2"/>
<polygon color="#ff6161" points="224.6,635 229.3,633.3 225,631.9 220.3,633.6"/>
<polygon color="#ff6161" points="233.6,635.1 238.3,633.5 233.9,631.8 229.3,633.3"/>
<polygon color="#ff6161" points="242.7,635.6 247.2,634.1 242.8,632.1 238.3,633.5"/>
<polygon color="#ff6161" points="251.7,636.5 256.2,635.1 251.7,632.8 247.2,634.1"/>
<polygon color="#ff6161" points="260.7,637.8 265.1,636.6 260.6,634 256.2,635.1"/>
<polygon color="#b8ff61" points="121.2,664.2 126.4,661 123,662.7 117.8,665.8"/>
<polygon color="#e1ff61" points="129.9,659.7 135.1,656.6 131.6,658.1 126.4,661"/>
<polygon color="#fff861" points="138.7,655.6 143.9,652.7 140.3,653.8 135.1,656.6"/>
<polygon color="#ffd661" points="147.6,651.9 152.7,649.1 149,649.9 143.9,652.7"/>
<polygon color="#ffb861" points="156.5,648.6 161.6,645.9 157.8,646.5 152.7,649.1"/>
<polygon color="#ff9d61" points="165.4,645.7 170.5,643.1 166.7,643.4 161.6,645.9"/>
<polygon color="#ff8561" points="174.4,643.2 179.5,640.8 175.5,640.8 170.5,643.1"/>
<polygon color="#ff7061" points="183.5,641.2 188.5,638.8 184.5,638.5 179.5,640.8"/>
<polygon color="#ff6161" points="192.5,639.5 197.5,637.3 193.4,636.7 188.5,638.8"/>
<polygon color="#ff6161" points="201.6,638.2 206.5,636.1 202.3,635.2 197.5,637.3"/>
<polygon color="#ff6161" points="210.7,637.4 215.5,635.4 211.3,634.2 206.5,636.1"/>
<polygon color="#ff6161" points="219.8,636.9 224.6,635 220.3,633.6 215.5,635.4"/>
<polygon color="#ff6161" points="228.9,636.9 233.6,635.1 229.3,633.3 224.6,635"/>
<polygon color="#ff6161" points="238,637.3 242.7,635.6 238.3,633.5 233.6,635.1"/>
<polygon color="#ff6161" points="247.1,638.1 251.7,636.5 247.2,634.1 242.7,635.6"/>
<polygon color="#ff6161" points="256.2,639.3 260.7,637.8 256.2,635.1 251.7,636.5"/>
<polygon color="#ff6161" points="265.2,640.9 269.6,639.6 265.1,636.6 260.7,637.8"/>
<polygon color="#adff61" points="115.9,667.5 121.2,664.2 117.8,665.8 112.5,669.1"/>
<polygon color="#d6ff61" points="124.6,662.9 129.9,659.7 126.4,661 121.2,664.2"/>
<polygon color="#fcff61" points="133.5,658.7 138.7,655.6 135.1,656.6 129.9,659.7"/>
<polygon color="#ffdf61" points="142.3,654.9 147.6,651.9 143.9,652.7 138.7,655.6"/>
<polygon color="#ffc061" points="151.3,651.5 156.5,648.6 152.7,649.1 147.6,651.9"/>
<polygon color="#ffa461" points="160.3,648.5 165.4,645.7 161.6,645.9 156.5,648.6"/>
<polygon color="#ff8b61" points="169.3,645.9 174.4,643.2 170.5,643.1 165.4,645.7"/>
<polygon color="#ff7561" points="178.4,643.7 183.5,641.2 179.5,640.8 174.4,643.2"/>
<polygon color="#ff6361" points="187.5,641.9 192.5,639.5 188.5,638.8 183.5,641.2"/>
<polygon color="#ff6161" points="196.7,640.6 201.6,638.2 197.5,637.3 192.5,639.5"/>
<polygon color="#ff6161" points="205.8,639.6 210.7,637.4 206.5,636.1 201.6,638.2"/>
<polygon color="#ff6161" points="215,639.1 219.8,636.9 215.5,635.4 210.7,637.4"/>
<polygon color="#ff6161" points="224.2,638.9 228.9,636.9 224.6,635 219.8,636.9"/>
<polygon color="#ff6161" points="233.3,639.2 238,637.3 233.6,635.1 228.9,636.9"/>
<polygon color="#ff6161" points="242.5,639.9 247.1,638.1 242.7,635.6 238,637.3"/>
<polygon color="#ff6161" points="251.6,641 256.2,639.3 251.7,636.5 247.1,638.1"/>
<polygon color="#ff6161" points="260.7,642.5 265.2,640.9 260.7,637.8 256.2,639.3"/>
<polygon color="#ff6161" points="269.8,644.4 274.2,643 269.6,639.6 265.2,640.9"/>
<polygon color="#a0ff61" points="110.5,671.1 115.9,667.5 112.5,669.1 107.2,672.6"/>
<polygon color="#caff61" points="119.3,666.4 124.6,662.9 121.2,664.2 115.9,667.5"/>
<polygon color="#f1ff61" points="128.2,662 133.5,658.7 129.9,659.7 124.6,662.9"/>
<polygon color="#ffe961" points="137.1,658.1 142.3,654.9 138.7,655.6 133.5,658.7"/>
<polygon color="#ffc961" points="146.1,654.6 151.3,651.5 147.6,651.9 142.3,654.9"/>
<polygon color="#ffac61" points="155.1,651.5 160.3,648.5 156.5,648.6 151.3,651.5"/>
<polygon color="#ff9261" points="164.2,648.8 169.3,645.9 165.4,645.7 160.3,648.5"/>
<polygon color="#ff7c61" points="173.3,646.5 178.4,643.7 174.4,643.2 169.3,645.9"/>
<polygon color="#ff6961" points="182.5,644.6 187.5,641.9 183.5,641.2 178.4,643.7"/>
<polygon color="#ff6161" points="191.7,643.1 196.7,640.6 192.5,639.5 187.5,641.9"/>
<polygon color="#ff6161" points="200.9,642 205.8,639.6 201.6,638.2 196.7,640.6"/>
<polygon color="#ff6161" points="210.1,641.4 215,639.1 210.7,637.4 205.8,639.6"/>
<polygon color="#ff6161" points="219.3,641.1 224.2,638.9 219.8,636.9 215,639.1"/>
<polygon color="#ff6161" points="228.5,641.3 233.3,639.2 228.9,636.9 224.2,638.9"/>
<polygon color="#ff6161" points="237.8,641.8 242.5,639.9 238,637.3 233.3,639.2"/>
<polygon color="#ff6161" points="247,642.8 251.6,641 247.1,638.1 242.5,639.9"/>
<polygon color="#ff6161" points="256.1,644.2 260.7,642.5 256.2,639.3 251.6,641"/>
<polygon color="#ff6161" points="265.3,646.1 269.8,644.4 265.2,640.9 260.7,642.5"/>
<polygon color="#ff6161" points="274.4,648.3 278.8,646.8 274.2,643 269.8,644.4"/>
<polygon color="#92ff61" points="105.2,674.9 110.5,671.1 107.2,672.6 101.9,676.2"/>
<polygon color="#bdff61" points="113.9,670 119.3,666.4 115.9,667.5 110.5,671.1"/>
<polygon color="#e5ff61" points="122.8,665.6 128.2,662 124.6,662.9 119.3,666.4"/>
<polygon color="#fff561" points="131.7,661.5 137.1,658.1 133.5,658.7 128.2,662"/>
<polygon color="#ffd461" points="140.8,657.9 146.1,654.6 142.3,654.9 137.1,658.1"/>
<polygon color="#ffb661" points="149.8,654.7 155.1,651.5 151.3,651.5 146.1,654.6"/>
<polygon color="#ff9b61" points="159,651.8 164.2,648.8 160.3,648.5 155.1,651.5"/>
<polygon color="#ff8461" points="168.1,649.4 173.3,646.5 169.3,645.9 164.2,648.8"/>
<polygon color="#ff7061" points="177.3,647.4 182.5,644.6 178.4,643.7 173.3,646.5"/>
<polygon color="#ff6161" points="186.6,645.8 191.7,643.1 187.5,641.9 182.5,644.6"/>
<polygon color="#ff6161" points="195.8,644.6 200.9,642 196.7,640.6 191.7,643.1"/>
<polygon color="#ff6161" points="205.1,643.9 210.1,641.4 205.8,639.6 200.9,642"/>
<polygon color="#ff6161" points="214.4,643.5 219.3,641.1 215,639.1 210.1,641.4"/>
<polygon color="#ff6161" points="223.7,643.6 228.5,641.3 224.2,638.9 219.3,641.1"/>
<polygon color="#ff6161" points="233,644 237.8,641.8 233.3,639.2 228.5,641.3"/>
<polygon color="#ff6161" points="242.2,644.9 247,642.8 242.5,639.9 237.8,641.8"/>
<polygon color="#ff6161" points="251.5,646.2 256.1,644.2 251.6,641 247,642.8"/>
<polygon color="#ff6161" points="260.7,647.9 265.3,646.1 260.7,642.5 256.1,644.2"/>
<polygon color="#ff6161" points="269.9,650.1 274.4,648.3 269.8,644.4 265.3,646.1"/>
<polygon color="#ff6b61" points="279,652.6 283.5,651 278.8,646.8 274.4,648.3"/>
<polygon color="#82ff61" points="99.7,678.8 105.2,674.9 101.9,676.2 96.5,680.1"/>
<polygon color="#aeff61" points="108.5,673.9 113.9,670 110.5,671.1 105.2,674.9"/>
<polygon color="#d7ff61" points="117.4,669.3 122.8,665.6 119.3,666.4 113.9,670"/>
<polygon color="#fcff61" points="126.4,665.1 131.7,661.5 128.2,662 122.8,665.6"/>
<polygon color="#ffe061" points="135.4,661.4 140.8,657.9 137.1,658.1 131.7,661.5"/>
<polygon color="#ffc161" points="144.5,658 149.8,654.7 146.1,654.6 140.8,657.9"/>
<polygon color="#ffa561" points="153.7,655.1 159,651.8 155.1,651.5 149.8,654.7"/>
<polygon color="#ff8d61" points="162.9,652.6 168.1,649.4 164.2,648.8 159,651.8"/>
<polygon color="#ff7861" points="172.1,650.5 177.3,647.4 173.3,646.5 168.1,649.4"/>
<polygon color="#ff6661" points="181.4,648.8 186.6,645.8 182.5,644.6 177.3,647.4"/>
<polygon color="#ff6161" points="190.8,647.5 195.8,644.6 191.7,643.1 186.6,645.8"/>
<polygon color="#ff6161" points="200.1,646.6 205.1,643.9 200.9,642 195.8,644.6"/>
<polygon color="#ff6161" points="209.4,646.1 214.4,643.5 210.1,641.4 205.1,643.9"/>
<polygon color="#ff6161" points="218.8,646 223.7,643.6 219.3,641.1 214.4,643.5"/>
<polygon color="#ff6161" points="228.1,646.4 233,644 228.5,641.3 223.7,643.6"/>
<polygon color="#ff6161" points="237.5,647.2 242.2,644.9 237.8,641.8 233,644"/>
<polygon color="#ff6161" points="246.8,648.4 251.5,646.2 247,642.8 242.2,644.9"/>
<polygon color="#ff6161" points="256.1,650 260.7,647.9 256.1,644.2 251.5,646.2"/>
<polygon color="#ff6161" points="265.3,652 269.9,650.1 265.3,646.1 260.7,647.9"/>
<polygon color="#ff6a61" points="274.5,654.4 279,652.6 274.4,648.3 269.9,650.1"/>
<polygon color="#ff7c61" points="283.7,657.3 288.1,655.6 283.5,651 279,652.6"/>
<polygon color="#71ff61" points="94.3,683 99.7,678.8 96.5,680.1 91,684.2"/>
<polygon color="#9eff61" points="103.1,677.9 108.5,673.9 105.2,674.9 99.7,678.8"/>
<polygon color="#c8ff61" points="111.9,673.2 117.4,669.3 113.9,670 108.5,673.9"/>
<polygon color="#eeff61" points="120.9,669 126.4,665.1 122.8,665.6 117.4,669.3"/>
<polygon color="#ffed61" points="130,665.1 135.4,661.4 131.7,661.5 126.4,665.1"/>
<polygon color="#ffcd61" points="139.1,661.6 144.5,658 140.8,657.9 135.4,661.4"/>
<polygon color="#ffb161" points="148.3,658.6 153.7,655.1 149.8,654.7 144.5,658"/>
<polygon color="#ff9861" points="157.6,655.9 162.9,652.6 159,651.8 153.7,655.1"/>
<polygon color="#ff8261" points="166.9,653.7 172.1,650.5 168.1,649.4 162.9,652.6"/>
<polygon color="#ff6f61" points="176.2,651.9 181.4,648.8 177.3,647.4 172.1,650.5"/>
<polygon color="#ff6161" points="185.6,650.5 190.8,647.5 186.6,645.8 181.4,648.8"/>
<polygon color="#ff6161" points="195,649.5 200.1,646.6 195.8,644.6 190.8,647.5"/>
<polygon color="#ff6161" points="204.4,648.9 209.4,646.1 205.1,643.9 200.1,646.6"/>
<polygon color="#ff6161" points="213.8,648.7 218.8,646 214.4,643.5 209.4,646.1"/>
<polygon color="#ff6161" points="223.2,649 228.1,646.4 223.7,643.6 218.8,646"/>
<polygon color="#ff6161" points="232.6,649.6 237.5,647.2 233,644 228.1,646.4"/>
<polygon color="#ff6161" points="242,650.7 246.8,648.4 242.2,644.9 237.5,647.2"/>
<polygon color="#ff6161" points="251.3,652.2 256.1,650 251.5,646.2 246.8,648.4"/>
<polygon color="#ff6161" points="260.7,654.1 265.3,652 260.7,647.9 256.1,650"/>
<polygon color="#ff6a61" points="270,656.5 274.5,654.4 269.9,650.1 265.3,652"/>
<polygon color="#ff7b61" points="279.2,659.2 283.7,657.3 279,652.6 274.5,654.4"/>
<polygon color="#ff9061" points="288.4,662.4 292.8,660.6 288.1,655.6 283.7,657.3"/>
<polygon color="#61ff63" points="88.8,687.4 94.3,683 91,684.2 85.6,688.5"/>
<polygon color="#8dff61" points="97.6,682.2 103.1,677.9 99.7,678.8 94.3,683"/>
<polygon color="#b7ff61" points="106.5,677.4 111.9,673.2 108.5,673.9 103.1,677.9"/>
<polygon color="#deff61" points="115.5,673 120.9,669 117.4,669.3 111.9,673.2"/>
<polygon color="#fffc61" points="124.5,669 130,665.1 126.4,665.1 120.9,669"/>
<polygon color="#ffdb61" points="133.7,665.4 139.1,661.6 135.4,661.4 130,665.1"/>
<polygon color="#ffbe61" points="142.9,662.3 148.3,658.6 144.5,658 139.1,661.6"/>
<polygon color="#ffa461" points="152.2,659.5 157.6,655.9 153.7,655.1 148.3,658.6"/>
<polygon color="#ff8d61" points="161.6,657.2 166.9,653.7 162.9,652.6 157.6,655.9"/>
<polygon color="#ff7961" points="171,655.2 176.2,651.9 172.1,650.5 166.9,653.7"/>
<polygon color="#ff6961" points="180.4,653.7 185.6,650.5 181.4,648.8 176.2,651.9"/>
<polygon color="#ff6161" points="189.8,652.6 195,649.5 190.8,647.5 185.6,650.5"/>
<polygon color="#ff6161" points="199.3,651.9 204.4,648.9 200.1,646.6 195,649.5"/>
<polygon color="#ff6161" points="208.7,651.6 213.8,648.7 209.4,646.1 204.4,648.9"/>
<polygon color="#ff6161" points="218.2,651.8 223.2,649 218.8,646 213.8,648.7"/>
<polygon color="#ff6161" points="227.7,652.3 232.6,649.6 228.1,646.4 223.2,649"/>
<polygon color="#ff6161" points="237.1,653.3 242,650.7 237.5,647.2 232.6,649.6"/>
<polygon color="#ff6161" points="246.6,654.7 251.3,652.2 246.8,648.4 242,650.7"/>
<polygon color="#ff6161" points="256,656.5 260.7,654.1 256.1,650 251.3,652.2"/>
<polygon color="#ff6b61" points="265.3,658.7 270,656.5 265.3,652 260.7,654.1"/>
<polygon color="#ff7c61" points="274.6,661.4 279.2,659.2 274.5,654.4 270,656.5"/>
<polygon color="#ff8f61" points="283.9,664.4 288.4,662.4 283.7,657.3 279.2,659.2"/>
<polygon color="#ffa761" points="293.1,668 297.5,666 292.8,660.6 288.4,662.4"/>
<polygon color="#61ff77" points="83.2,691.9 88.8,687.4 85.6,688.5 80.1,693"/>
<polygon color="#7aff61" points="92,686.6 97.6,682.2 94.3,683 88.8,687.4"/>
<polygon color="#a5ff61" points="100.9,681.7 106.5,677.4 103.1,677.9 97.6,682.2"/>
<polygon color="#cdff61" points="109.9,677.2 115.5,673 111.9,673.2 106.5,677.4"/>
<polygon color="#f2ff61" points="119,673.1 124.5,669 120.9,669 115.5,673"/>
<polygon color="#ffea61" points="128.2,669.4 133.7,665.4 130,665.1 124.5,669"/>
<polygon color="#ffcc61" points="137.5,666.2 142.9,662.3 139.1,661.6 133.7,665.4"/>
<polygon color="#ffb161" points="146.8,663.3 152.2,659.5 148.3,658.6 142.9,662.3"/>
<polygon color="#ff9961" points="156.2,660.8 161.6,657.2 157.6,655.9 152.2,659.5"/>
<polygon color="#ff8561" points="165.6,658.8 171,655.2 166.9,653.7 161.6,657.2"/>
<polygon color="#ff7461" points="175.1,657.1 180.4,653.7 176.2,651.9 171,655.2"/>
<polygon color="#ff6661" points="184.6,655.9 189.8,652.6 185.6,650.5 180.4,653.7"/>
<polygon color="#ff6161" points="194.1,655.1 199.3,651.9 195,649.5 189.8,652.6"/>
<polygon color="#ff6161" points="203.6,654.7 208.7,651.6 204.4,648.9 199.3,651.9"/>
<polygon color="#ff6161" points="213.2,654.7 218.2,651.8 213.8,648.7 208.7,651.6"/>
<polygon color="#ff6161" points="222.7,655.2 227.7,652.3 223.2,649 218.2,651.8"/>
<polygon color="#ff6161" points="232.2,656 237.1,653.3 232.6,649.6 227.7,652.3"/>
<polygon color="#ff6161" points="241.7,657.3 246.6,654.7 242,650.7 237.1,653.3"/>
<polygon color="#ff6161" points="251.2,659 256,656.5 251.3,652.2 246.6,654.7"/>
<polygon color="#ff6e61" points="260.6,661.2 265.3,658.7 260.7,654.1 256,656.5"/>
<polygon color="#ff7d61" points="270,663.7 274.6,661.4 270,656.5 265.3,658.7"/>
<polygon color="#ff9061" points="279.3,666.7 283.9,664.4 279.2,659.2 274.6,661.4"/>
<polygon color="#ffa761" points="288.6,670.1 293.1,668 288.4,662.4 283.9,664.4"/>
<polygon color="#ffc061" points="297.8,673.9 302.3,671.9 297.5,666 293.1,668"/>
<polygon color="#61ff8c" points="77.7,696.7 83.2,691.9 80.1,693 74.5,697.7"/>
<polygon color="#65ff61" points="86.5,691.3 92,686.6 88.8,687.4 83.2,691.9"/>
<polygon color="#92ff61" points="95.4,686.3 100.9,681.7 97.6,682.2 92,686.6"/>
<polygon color="#bbff61" points="104.4,681.7 109.9,677.2 106.5,677.4 100.9,681.7"/>
<polygon color="#e0ff61" points="113.5,677.4 119,673.1 115.5,673 109.9,677.2"/>
<polygon color="#fffb61" points="122.7,673.6 128.2,669.4 124.5,669 119,673.1"/>
<polygon color="#ffdc61" points="132,670.2 137.5,666.2 133.7,665.4 128.2,669.4"/>
<polygon color="#ffc061" points="141.4,667.3 146.8,663.3 142.9,662.3 137.5,666.2"/>
<polygon color="#ffa761" points="150.8,664.7 156.2,660.8 152.2,659.5 146.8,663.3"/>
<polygon color="#ff9261" points="160.2,662.5 165.6,658.8 161.6,657.2 156.2,660.8"/>
<polygon color="#ff8061" points="169.7,660.8 175.1,657.1 171,655.2 165.6,658.8"/>
<polygon color="#ff7161" points="179.3,659.4 184.6,655.9 180.4,653.7 175.1,657.1"/>
<polygon color="#ff6661" points="188.9,658.5 194.1,655.1 189.8,652.6 184.6,655.9"/>
<polygon color="#ff6161" points="198.4,658 203.6,654.7 199.3,651.9 194.1,655.1"/>
<polygon color="#ff6161" points="208,657.9 213.2,654.7 208.7,651.6 203.6,654.7"/>
<polygon color="#ff6161" points="217.6,658.3 222.7,655.2 218.2,651.8 213.2,654.7"/>
<polygon color="#ff6161" points="227.2,659 232.2,656 227.7,652.3 222.7,655.2"/>
<polygon color="#ff6161" points="236.8,660.2 241.7,657.3 237.1,653.3 232.2,656"/>
<polygon color="#ff6661" points="246.3,661.8 251.2,659 246.6,654.7 241.7,657.3"/>
<polygon color="#ff7261" points="255.8,663.8 260.6,661.2 256,656.5 251.2,659"/>
<polygon color="#ff8061" points="265.3,666.2 270,663.7 265.3,658.7 260.6,661.2"/>
<polygon color="#ff9261" points="274.7,669.1 279.3,666.7 274.6,661.4 270,663.7"/>
<polygon color="#ffa861" points="284,672.4 288.6,670.1 283.9,664.4 279.3,666.7"/>
<polygon color="#ffc161" points="293.3,676.1 297.8,673.9 293.1,668 288.6,670.1"/>
<polygon color="#ffdc61" points="302.5,680.3 307,678.1 302.3,671.9 297.8,673.9"/>
<polygon color="#61ff72" points="80.9,696.2 86.5,691.3 83.2,691.9 77.7,696.7"/>
<polygon color="#7dff61" points="89.8,691 95.4,686.3 92,686.6 86.5,691.3"/>
<polygon color="#a7ff61" points="98.8,686.3 104.4,681.7 100.9,681.7 95.4,686.3"/>
<polygon color="#ceff61" points="107.9,682 113.5,677.4 109.9,677.2 104.4,681.7"/>
<polygon color="#f1ff61" points="117.1,678.1 122.7,673.6 119,673.1 113.5,677.4"/>
<polygon color="#ffed61" points="126.4,674.5 132,670.2 128.2,669.4 122.7,673.6"/>
<polygon color="#ffd061" points="135.8,671.5 141.4,667.3 137.5,666.2 132,670.2"/>
<polygon color="#ffb761" points="145.3,668.8 150.8,664.7 146.8,663.3 141.4,667.3"/>
<polygon color="#ffa161" points="154.8,666.5 160.2,662.5 156.2,660.8 150.8,664.7"/>
<polygon color="#ff8e61" points="164.3,664.6 169.7,660.8 165.6,658.8 160.2,662.5"/>
<polygon color="#ff7e61" points="173.9,663.2 179.3,659.4 175.1,657.1 169.7,660.8"/>
<polygon color="#ff7261" points="183.5,662.2 188.9,658.5 184.6,655.9 179.3,659.4"/>
<polygon color="#ff6861" points="193.2,661.5 198.4,658 194.1,655.1 188.9,658.5"/>
<polygon color="#ff6361" points="202.8,661.3 208,657.9 203.6,654.7 198.4,658"/>
<polygon color="#ff6161" points="212.5,661.6 217.6,658.3 213.2,654.7 208,657.9"/>
<polygon color="#ff6161" points="222.1,662.2 227.2,659 222.7,655.2 217.6,658.3"/>
<polygon color="#ff6561" points="231.7,663.3 236.8,660.2 232.2,656 227.2,659"/>
<polygon color="#ff6c61" points="241.3,664.7 246.3,661.8 241.7,657.3 236.8,660.2"/>
<polygon color="#ff7761" points="250.9,666.7 255.8,663.8 251.2,659 246.3,661.8"/>
<polygon color="#ff8561" points="260.5,669 265.3,666.2 260.6,661.2 255.8,663.8"/>
<polygon color="#ff9661" points="269.9,671.7 274.7,669.1 270,663.7 265.3,666.2"/>
<polygon color="#ffab61" points="279.4,674.9 284,672.4 279.3,666.7 274.7,669.1"/>
<polygon color="#ffc261" points="288.7,678.5 293.3,676.1 288.6,670.1 284,672.4"/>
<polygon color="#ffdd61" points="298,682.6 302.5,680.3 297.8,673.9 293.3,676.1"/>
<polygon color="#67ff61" points="84.1,696 89.8,691 86.5,691.3 80.9,696.2"/>
<polygon color="#92ff61" points="93.2,691.1 98.8,686.3 95.4,686.3 89.8,691"/>
<polygon color="#b9ff61" points="102.3,686.7 107.9,682 104.4,681.7 98.8,686.3"/>
<polygon color="#ddff61" points="111.5,682.7 117.1,678.1 113.5,677.4 107.9,682"/>
<polygon color="#feff61" points="120.8,679.1 126.4,674.5 122.7,673.6 117.1,678.1"/>
<polygon color="#ffe261" points="130.3,675.8 135.8,671.5 132,670.2 126.4,674.5"/>
<polygon color="#ffc761" points="139.7,673 145.3,668.8 141.4,667.3 135.8,671.5"/>
<polygon color="#ffb061" points="149.3,670.7 154.8,666.5 150.8,664.7 145.3,668.8"/>
<polygon color="#ff9d61" points="158.9,668.7 164.3,664.6 160.2,662.5 154.8,666.5"/>
<polygon color="#ff8c61" points="168.5,667.1 173.9,663.2 169.7,660.8 164.3,664.6"/>
<polygon color="#ff7f61" points="178.2,666 183.5,662.2 179.3,659.4 173.9,663.2"/>
<polygon color="#ff7561" points="187.9,665.3 193.2,661.5 188.9,658.5 183.5,662.2"/>
<polygon color="#ff6e61" points="197.6,665 202.8,661.3 198.4,658 193.2,661.5"/>
<polygon color="#ff6b61" points="207.3,665.1 212.5,661.6 208,657.9 202.8,661.3"/>
<polygon color="#ff6a61" points="217,665.6 222.1,662.2 217.6,658.3 212.5,661.6"/>
<polygon color="#ff6e61" points="226.7,666.5 231.7,663.3 227.2,659 222.1,662.2"/>
<polygon color="#ff7461" points="236.3,667.9 241.3,664.7 236.8,660.2 231.7,663.3"/>
<polygon color="#ff7e61" points="246,669.7 250.9,666.7 246.3,661.8 241.3,664.7"/>
<polygon color="#ff8b61" points="255.6,671.9 260.5,669 255.8,663.8 250.9,666.7"/>
<polygon color="#ff9b61" points="265.1,674.6 269.9,671.7 265.3,666.2 260.5,669"/>
<polygon color="#ffaf61" points="274.6,677.7 279.4,674.9 274.7,669.1 269.9,671.7"/>
<polygon color="#ffc661" points="284.1,681.2 288.7,678.5 284,672.4 279.4,674.9"/>
<polygon color="#ffe061" points="293.5,685.1 298,682.6 293.3,676.1 288.7,678.5"/>
<polygon color="#7bff61" points="87.5,696.2 93.2,691.1 89.8,691 84.1,696"/>
<polygon color="#a3ff61" points="96.6,691.7 102.3,686.7 98.8,686.3 93.2,691.1"/>
<polygon color="#c9ff61" points="105.9,687.5 111.5,682.7 107.9,682 102.3,686.7"/>
<polygon color="#ebff61" points="115.2,683.8 120.8,679.1 117.1,678.1 111.5,682.7"/>
<polygon color="#fff561" points="124.6,680.5 130.3,675.8 126.4,674.5 120.8,679.1"/>
<polygon color="#ffda61" points="134.1,677.5 139.7,673 135.8,671.5 130.3,675.8"/>
<polygon color="#ffc261" points="143.7,675 149.3,670.7 145.3,668.8 139.7,673"/>
<polygon color="#ffad61" points="153.3,673 158.9,668.7 154.8,666.5 149.3,670.7"/>
<polygon color="#ff9b61" points="163,671.3 168.5,667.1 164.3,664.6 158.9,668.7"/>
<polygon color="#ff8d61" points="172.7,670 178.2,666 173.9,663.2 168.5,667.1"/>
<polygon color="#ff8261" points="182.5,669.2 187.9,665.3 183.5,662.2 178.2,666"/>
<polygon color="#ff7b61" points="192.2,668.8 197.6,665 193.2,661.5 187.9,665.3"/>
<polygon color="#ff7661" points="202,668.8 207.3,665.1 202.8,661.3 197.6,665"/>
<polygon color="#ff7561" points="211.8,669.2 217,665.6 212.5,661.6 207.3,665.1"/>
<polygon color="#ff7861" points="221.5,670 226.7,666.5 222.1,662.2 217,665.6"/>
<polygon color="#ff7d61" points="231.2,671.3 236.3,667.9 231.7,663.3 226.7,666.5"/>
<polygon color="#ff8661" points="241,673 246,669.7 241.3,664.7 236.3,667.9"/>
<polygon color="#ff9261" points="250.6,675.1 255.6,671.9 250.9,666.7 246,669.7"/>
<polygon color="#ffa161" points="260.3,677.6 265.1,674.6 260.5,669 255.6,671.9"/>
<polygon color="#ffb461" points="269.8,680.6 274.6,677.7 269.9,671.7 265.1,674.6"/>
<polygon color="#ffca61" points="279.3,684 284.1,681.2 279.4,674.9 274.6,677.7"/>
<polygon color="#ffe361" points="288.8,687.8 293.5,685.1 288.7,678.5 284.1,681.2"/>
<polygon color="#8cff61" points="90.9,696.8 96.6,691.7 93.2,691.1 87.5,696.2"/>
<polygon color="#b2ff61" points="100.2,692.6 105.9,687.5 102.3,686.7 96.6,691.7"/>
<polygon color="#d5ff61" points="109.5,688.7 115.2,683.8 111.5,682.7 105.9,687.5"/>
<polygon color="#f5ff61" points="119,685.3 124.6,680.5 120.8,679.1 115.2,683.8"/>
<polygon color="#ffed61" points="128.5,682.2 134.1,677.5 130.3,675.8 124.6,680.5"/>
<polygon color="#ffd461" points="138.1,679.6 143.7,675 139.7,673 134.1,677.5"/>
<polygon color="#ffbe61" points="147.8,677.4 153.3,673 149.3,670.7 143.7,675"/>
<polygon color="#ffac61" points="157.5,675.7 163,671.3 158.9,668.7 153.3,673"/>
<polygon color="#ff9d61" points="167.2,674.3 172.7,670 168.5,667.1 163,671.3"/>
<polygon color="#ff9161" points="177,673.3 182.5,669.2 178.2,666 172.7,670"/>
<polygon color="#ff8961" points="186.8,672.8 192.2,668.8 187.9,665.3 182.5,669.2"/>
<polygon color="#ff8461" points="196.6,672.7 202,668.8 197.6,665 192.2,668.8"/>
<polygon color="#ff8261" points="206.5,673 211.8,669.2 207.3,665.1 202,668.8"/>
<polygon color="#ff8361" points="216.3,673.7 221.5,670 217,665.6 211.8,669.2"/>
<polygon color="#ff8861" points="226.1,674.9 231.2,671.3 226.7,666.5 221.5,670"/>
<polygon color="#ff9061" points="235.9,676.5 241,673 236.3,667.9 231.2,671.3"/>
<polygon color="#ff9b61" points="245.6,678.5 250.6,675.1 246,669.7 241,673"/>
<polygon color="#ffa961" points="255.3,680.9 260.3,677.6 255.6,671.9 250.6,675.1"/>
<polygon color="#ffbb61" points="264.9,683.8 269.8,680.6 265.1,674.6 260.3,677.6"/>
<polygon color="#ffd061" points="274.5,687 279.3,684 274.6,677.7 269.8,680.6"/>
<polygon color="#ffe861" points="284.1,690.8 288.8,687.8 284.1,681.2 279.3,684"/>
<polygon color="#9bff61" points="94.5,697.8 100.2,692.6 96.6,691.7 90.9,696.8"/>
<polygon color="#bfff61" points="103.8,693.8 109.5,688.7 105.9,687.5 100.2,692.6"/>
<polygon color="#dfff61" points="113.3,690.3 119,685.3 115.2,683.8 109.5,688.7"/>
<polygon color="#fcff61" points="122.8,687.2 128.5,682.2 124.6,680.5 119,685.3"/>
<polygon color="#ffe861" points="132.4,684.4 138.1,679.6 134.1,677.5 128.5,682.2"/>
<polygon color="#ffd261" points="142.1,682.1 147.8,677.4 143.7,675 138.1,679.6"/>
<polygon color="#ffbe61" points="151.9,680.2 157.5,675.7 153.3,673 147.8,677.4"/>
<polygon color="#ffae61" points="161.7,678.8 167.2,674.3 163,671.3 157.5,675.7"/>
<polygon color="#ffa261" points="171.5,677.7 177,673.3 172.7,670 167.2,674.3"/>
<polygon color="#ff9861" points="181.4,677.1 186.8,672.8 182.5,669.2 177,673.3"/>
<polygon color="#ff9261" points="191.2,676.8 196.6,672.7 192.2,668.8 186.8,672.8"/>
<polygon color="#ff8f61" points="201.1,677 206.5,673 202,668.8 196.6,672.7"/>
<polygon color="#ff9061" points="211,677.7 216.3,673.7 211.8,669.2 206.5,673"/>
<polygon color="#ff9361" points="220.9,678.7 226.1,674.9 221.5,670 216.3,673.7"/>
<polygon color="#ff9a61" points="230.7,680.2 235.9,676.5 231.2,671.3 226.1,674.9"/>
<polygon color="#ffa561" points="240.5,682.1 245.6,678.5 241,673 235.9,676.5"/>
<polygon color="#ffb261" points="250.3,684.4 255.3,680.9 250.6,675.1 245.6,678.5"/>
<polygon color="#ffc361" points="260,687.1 264.9,683.8 260.3,677.6 255.3,680.9"/>
<polygon color="#ffd761" points="269.7,690.3 274.5,687 269.8,680.6 264.9,683.8"/>
<polygon color="#ffef61" points="279.2,693.9 284.1,690.8 279.3,684 274.5,687"/>
<polygon color="#a7ff61" points="98.1,699.2 103.8,693.8 100.2,692.6 94.5,697.8"/>
<polygon color="#c8ff61" points="107.5,695.5 113.3,690.3 109.5,688.7 103.8,693.8"/>
<polygon color="#e6ff61" points="117.1,692.3 122.8,687.2 119,685.3 113.3,690.3"/>
<polygon color="#fffd61" points="126.7,689.4 132.4,684.4 128.5,682.2 122.8,687.2"/>
<polygon color="#ffe661" points="136.4,687 142.1,682.1 138.1,679.6 132.4,684.4"/>
<polygon color="#ffd261" points="146.2,685 151.9,680.2 147.8,677.4 142.1,682.1"/>
<polygon color="#ffc161" points="156,683.4 161.7,678.8 157.5,675.7 151.9,680.2"/>
<polygon color="#ffb361" points="165.9,682.3 171.5,677.7 167.2,674.3 161.7,678.8"/>
<polygon color="#ffa961" points="175.8,681.5 181.4,677.1 177,673.3 171.5,677.7"/>
<polygon color="#ffa261" points="185.8,681.2 191.2,676.8 186.8,672.8 181.4,677.1"/>
<polygon color="#ff9e61" points="195.7,681.3 201.1,677 196.6,672.7 191.2,676.8"/>
<polygon color="#ff9e61" points="205.6,681.8 211,677.7 206.5,673 201.1,677"/>
<polygon color="#ffa161" points="215.5,682.7 220.9,678.7 216.3,673.7 211,677.7"/>
<polygon color="#ffa761" points="225.5,684.1 230.7,680.2 226.1,674.9 220.9,678.7"/>
<polygon color="#ffb061" points="235.3,685.9 240.5,682.1 235.9,676.5 230.7,680.2"/>
<polygon color="#ffbd61" points="245.2,688.1 250.3,684.4 245.6,678.5 240.5,682.1"/>
<polygon color="#ffcd61" points="255,690.7 260,687.1 255.3,680.9 250.3,684.4"/>
<polygon color="#ffe061" points="264.7,693.8 269.7,690.3 264.9,683.8 260,687.1"/>
<polygon color="#fff761" points="274.4,697.3 279.2,693.9 274.5,687 269.7,690.3"/>
<polygon color="#afff61" points="101.7,701 107.5,695.5 103.8,693.8 98.1,699.2"/>
<polygon color="#ceff61" points="111.3,697.6 117.1,692.3 113.3,690.3 107.5,695.5"/>
<polygon color="#eaff61" points="121,694.7 126.7,689.4 122.8,687.2 117.1,692.3"/>
<polygon color="#fffc61" points="130.7,692.1 136.4,687 132.4,684.4 126.7,689.4"/>
<polygon color="#ffe761" points="140.5,690 146.2,685 142.1,682.1 136.4,687"/>
<polygon color="#ffd561" points="150.4,688.3 156,683.4 151.9,680.2 146.2,685"/>
<polygon color="#ffc761" points="160.3,687 165.9,682.3 161.7,678.8 156,683.4"/>
<polygon color="#ffbb61" points="170.2,686.2 175.8,681.5 171.5,677.7 165.9,682.3"/>
<polygon color="#ffb361" points="180.2,685.7 185.8,681.2 181.4,677.1 175.8,681.5"/>
<polygon color="#ffaf61" points="190.2,685.7 195.7,681.3 191.2,676.8 185.8,681.2"/>
<polygon color="#ffad61" points="200.2,686.1 205.6,681.8 201.1,677 195.7,681.3"/>
<polygon color="#ffaf61" points="210.2,686.9 215.5,682.7 211,677.7 205.6,681.8"/>
<polygon color="#ffb561" points="220.1,688.2 225.5,684.1 220.9,678.7 215.5,682.7"/>
<polygon color="#ffbd61" points="230.1,689.9 235.3,685.9 230.7,680.2 225.5,684.1"/>
<polygon color="#ffc961" points="240,692 245.2,688.1 240.5,682.1 235.3,685.9"/>
<polygon color="#ffd861" points="249.8,694.5 255,690.7 250.3,684.4 245.2,688.1"/>
<polygon color="#ffea61" points="259.6,697.4 264.7,693.8 260,687.1 255,690.7"/>
<polygon color="#feff61" points="269.4,700.8 274.4,697.3 269.7,690.3 264.7,693.8"/>
<polygon color="#b5ff61" points="105.5,703.2 111.3,697.6 107.5,695.5 101.7,701"/>
<polygon color="#d2ff61" points="115.2,700.1 121,694.7 117.1,692.3 111.3,697.6"/>
<polygon color="#ebff61" points="124.9,697.5 130.7,692.1 126.7,689.4 121,694.7"/>
<polygon color="#fffd61" points="134.8,695.2 140.5,690 136.4,687 130.7,692.1"/>
<polygon color="#ffea61" points="144.7,693.4 150.4,688.3 146.2,685 140.5,690"/>
<polygon color="#ffdb61" points="154.6,692 160.3,687 156,683.4 150.4,688.3"/>
<polygon color="#ffcf61" points="164.6,691.1 170.2,686.2 165.9,682.3 160.3,687"/>
<polygon color="#ffc661" points="174.6,690.5 180.2,685.7 175.8,681.5 170.2,686.2"/>
<polygon color="#ffc161" points="184.6,690.4 190.2,685.7 185.8,681.2 180.2,685.7"/>
<polygon color="#ffbe61" points="194.7,690.7 200.2,686.1 195.7,681.3 190.2,685.7"/>
<polygon color="#ffbf61" points="204.7,691.4 210.2,686.9 205.6,681.8 200.2,686.1"/>
<polygon color="#ffc461" points="214.8,692.5 220.1,688.2 215.5,682.7 210.2,686.9"/>
<polygon color="#ffcb61" points="224.8,694.1 230.1,689.9 225.5,684.1 220.1,688.2"/>
<polygon color="#ffd661" points="234.7,696.1 240,692 235.3,685.9 230.1,689.9"/>
<polygon color="#ffe461" points="244.7,698.5 249.8,694.5 245.2,688.1 240,692"/>
<polygon color="#fff661" points="254.5,701.3 259.6,697.4 255,690.7 249.8,694.5"/>
<polygon color="#f4ff61" points="264.3,704.6 269.4,700.8 264.7,693.8 259.6,697.4"/>
<polygon color="#b8ff61" points="109.4,705.8 115.2,700.1 111.3,697.6 105.5,703.2"/>
<polygon color="#d2ff61" points="119.1,703 124.9,697.5 121,694.7 115.2,700.1"/>
<polygon color="#e9ff61" points="129,700.7 134.8,695.2 130.7,692.1 124.9,697.5"/>
<polygon color="#fdff61" points="138.9,698.8 144.7,693.4 140.5,690 134.8,695.2"/>
<polygon color="#fff161" points="148.9,697.2 154.6,692 150.4,688.3 144.7,693.4"/>
<polygon color="#ffe461" points="158.9,696.2 164.6,691.1 160.3,687 154.6,692"/>
<polygon color="#ffda61" points="169,695.5 174.6,690.5 170.2,686.2 164.6,691.1"/>
<polygon color="#ffd461" points="179,695.3 184.6,690.4 180.2,685.7 174.6,690.5"/>
<polygon color="#ffd161" points="189.1,695.4 194.7,690.7 190.2,685.7 184.6,690.4"/>
<polygon color="#ffd161" points="199.2,696 204.7,691.4 200.2,686.1 194.7,690.7"/>
<polygon color="#ffd461" points="209.3,697.1 214.8,692.5 210.2,686.9 204.7,691.4"/>
<polygon color="#ffdb61" points="219.4,698.5 224.8,694.1 220.1,688.2 214.8,692.5"/>
<polygon color="#ffe561" points="229.4,700.4 234.7,696.1 230.1,689.9 224.8,694.1"/>
<polygon color="#fff261" points="239.4,702.7 244.7,698.5 240,692 234.7,696.1"/>
<polygon color="#fbff61" points="249.3,705.4 254.5,701.3 249.8,694.5 244.7,698.5"/>
<polygon color="#e8ff61" points="259.2,708.6 264.3,704.6 259.6,697.4 254.5,701.3"/>
<polygon color="#b8ff61" points="113.3,708.8 119.1,703 115.2,700.1 109.4,705.8"/>
<polygon color="#d0ff61" points="123.1,706.3 129,700.7 124.9,697.5 119.1,703"/>
<polygon color="#e5ff61" points="133.1,704.3 138.9,698.8 134.8,695.2 129,700.7"/>
<polygon color="#f6ff61" points="143.1,702.7 148.9,697.2 144.7,693.4 138.9,698.8"/>
<polygon color="#fffa61" points="153.1,701.5 158.9,696.2 154.6,692 148.9,697.2"/>
<polygon color="#fff061" points="163.2,700.7 169,695.5 164.6,691.1 158.9,696.2"/>
<polygon color="#ffe861" points="173.4,700.4 179,695.3 174.6,690.5 169,695.5"/>
<polygon color="#ffe461" points="183.5,700.4 189.1,695.4 184.6,690.4 179,695.3"/>
<polygon color="#ffe361" points="193.6,700.9 199.2,696 194.7,690.7 189.1,695.4"/>
<polygon color="#ffe661" points="203.8,701.8 209.3,697.1 204.7,691.4 199.2,696"/>
<polygon color="#ffec61" points="213.9,703.2 219.4,698.5 214.8,692.5 209.3,697.1"/>
<polygon color="#fff561" points="224,704.9 229.4,700.4 224.8,694.1 219.4,698.5"/>
<polygon color="#fdff61" points="234.1,707.1 239.4,702.7 234.7,696.1 229.4,700.4"/>
<polygon color="#edff61" points="244.1,709.8 249.3,705.4 244.7,698.5 239.4,702.7"/>
<polygon color="#daff61" points="254,712.8 259.2,708.6 254.5,701.3 249.3,705.4"/>
<polygon color="#b6ff61" points="117.3,712.2 123.1,706.3 119.1,703 113.3,708.8"/>
<polygon color="#cbff61" points="127.2,710 133.1,704.3 129,700.7 123.1,706.3"/>
<polygon color="#ddff61" points="137.3,708.3 143.1,702.7 138.9,698.8 133.1,704.3"/>
<polygon color="#ecff61" points="147.3,707 153.1,701.5 148.9,697.2 143.1,702.7"/>
<polygon color="#f7ff61" points="157.5,706.1 163.2,700.7 158.9,696.2 153.1,701.5"/>
<polygon color="#fffe61" points="167.6,705.7 173.4,700.4 169,695.5 163.2,700.7"/>
<polygon color="#fff961" points="177.8,705.6 183.5,700.4 179,695.3 173.4,700.4"/>
<polygon color="#fff861" points="188,706 193.6,700.9 189.1,695.4 183.5,700.4"/>
<polygon color="#fff961" points="198.2,706.8 203.8,701.8 199.2,696 193.6,700.9"/>
<polygon color="#fffe61" points="208.4,708 213.9,703.2 209.3,697.1 203.8,701.8"/>
<polygon color="#f8ff61" points="218.5,709.7 224,704.9 219.4,698.5 213.9,703.2"/>
<polygon color="#ecff61" points="228.7,711.8 234.1,707.1 229.4,700.4 224,704.9"/>
<polygon color="#ddff61" points="238.7,714.3 244.1,709.8 239.4,702.7 234.1,707.1"/>
<polygon color="#cbff61" points="248.8,717.3 254,712.8 249.3,705.4 244.1,709.8"/>
<polygon color="#b0ff61" points="121.4,716 127.2,710 123.1,706.3 117.3,712.2"/>
<polygon color="#c3ff61" points="131.4,714.2 137.3,708.3 133.1,704.3 127.2,710"/>
<polygon color="#d3ff61" points="141.5,712.7 147.3,707 143.1,702.7 137.3,708.3"/>
<polygon color="#dfff61" points="151.7,711.8 157.5,706.1 153.1,701.5 147.3,707"/>
<polygon color="#e8ff61" points="161.9,711.2 167.6,705.7 163.2,700.7 157.5,706.1"/>
<polygon color="#eeff61" points="172.1,711 177.8,705.6 173.4,700.4 167.6,705.7"/>
<polygon color="#f1ff61" points="182.3,711.3 188,706 183.5,700.4 177.8,705.6"/>
<polygon color="#f0ff61" points="192.6,712 198.2,706.8 193.6,700.9 188,706"/>
<polygon color="#ecff61" points="202.8,713.1 208.4,708 203.8,701.8 198.2,706.8"/>
<polygon color="#e5ff61" points="213,714.7 218.5,709.7 213.9,703.2 208.4,708"/>
<polygon color="#daff61" points="223.2,716.7 228.7,711.8 224,704.9 218.5,709.7"/>
<polygon color="#ccff61" points="233.3,719.1 238.7,714.3 234.1,707.1 228.7,711.8"/>
<polygon color="#bbff61" points="243.4,721.9 248.8,717.3 244.1,709.8 238.7,714.3"/>
<polygon color="#a8ff61" points="125.5,720.2 131.4,714.2 127.2,710 121.4,716"/>
<polygon color="#b8ff61" points="135.6,718.7 141.5,712.7 137.3,708.3 131.4,714.2"/>
<polygon color="#c6ff61" points="145.8,717.6 151.7,711.8 147.3,707 141.5,712.7"/>
<polygon color="#d0ff61" points="156,716.9 161.9,711.2 157.5,706.1 151.7,711.8"/>
<polygon color="#d6ff61" points="166.3,716.7 172.1,711 167.6,705.7 161.9,711.2"/>
<polygon color="#daff61" points="176.6,716.8 182.3,711.3 177.8,705.6 172.1,711"/>
<polygon color="#daff61" points="186.9,717.4 192.6,712 188,706 182.3,711.3"/>
<polygon color="#d7ff61" points="197.1,718.4 202.8,713.1 198.2,706.8 192.6,712"/>
<polygon color="#d1ff61" points="207.4,719.9 213,714.7 208.4,708 202.8,713.1"/>
<polygon color="#c7ff61" points="217.7,721.7 223.2,716.7 218.5,709.7 213,714.7"/>
<polygon color="#baff61" points="227.8,724 233.3,719.1 228.7,711.8 223.2,716.7"/>
<polygon color="#aaff61" points="238,726.8 243.4,721.9 238.7,714.3 233.3,719.1"/>
<polygon color="#9cff61" points="129.7,724.9 135.6,718.7 131.4,714.2 125.5,720.2"/>
<polygon color="#abff61" points="139.9,723.7 145.8,717.6 141.5,712.7 135.6,718.7"/>
<polygon color="#b5ff61" points="150.2,722.9 156,716.9 151.7,711.8 145.8,717.6"/>
<polygon color="#bdff61" points="160.5,722.5 166.3,716.7 161.9,711.2 156,716.9"/>
<polygon color="#c2ff61" points="170.8,722.6 176.6,716.8 172.1,711 166.3,716.7"/>
<polygon color="#c3ff61" points="181.1,723 186.9,717.4 182.3,711.3 176.6,716.8"/>
<polygon color="#c0ff61" points="191.4,723.9 197.1,718.4 192.6,712 186.9,717.4"/>
<polygon color="#bbff61" points="201.8,725.3 207.4,719.9 202.8,713.1 197.1,718.4"/>
<polygon color="#b2ff61" points="212,727 217.7,721.7 213,714.7 207.4,719.9"/>
<polygon color="#a6ff61" points="222.3,729.2 227.8,724 223.2,716.7 217.7,721.7"/>
<polygon color="#97ff61" points="232.5,731.8 238,726.8 233.3,719.1 227.8,724"/>
<polygon color="#8eff61" points="134,729.9 139.9,723.7 135.6,718.7 129.7,724.9"/>
<polygon color="#9aff61" points="144.3,729 150.2,722.9 145.8,717.6 139.9,723.7"/>
<polygon color="#a3ff61" points="154.6,728.6 160.5,722.5 156,716.9 150.2,722.9"/>
<polygon color="#a8ff61" points="164.9,728.5 170.8,722.6 166.3,716.7 160.5,722.5"/>
<polygon color="#aaff61" points="175.3,728.9 181.1,723 176.6,716.8 170.8,722.6"/>
<polygon color="#a9ff61" points="185.7,729.7 191.4,723.9 186.9,717.4 181.1,723"/>
<polygon color="#a4ff61" points="196,730.9 201.8,725.3 197.1,718.4 191.4,723.9"/>
<polygon color="#9cff61" points="206.4,732.5 212,727 207.4,719.9 201.8,725.3"/>
<polygon color="#91ff61" points="216.7,734.6 222.3,729.2 217.7,721.7 212,727"/>
<polygon color="#83ff61" points="227,737.1 232.5,731.8 227.8,724 222.3,729.2"/>
<polygon color="#7dff61" points="138.3,735.4 144.3,729 139.9,723.7 134,729.9"/>
<polygon color="#87ff61" points="148.7,734.8 154.6,728.6 150.2,722.9 144.3,729"/>
<polygon color="#8dff61" points="159,734.7 164.9,728.5 160.5,722.5 154.6,728.6"/>
<polygon color="#90ff61" points="169.5,734.9 175.3,728.9 170.8,722.6 164.9,728.5"/>
<polygon color="#8fff61" points="179.9,735.6 185.7,729.7 181.1,723 175.3,728.9"/>
<polygon color="#8cff61" points="190.3,736.7 196,730.9 191.4,723.9 185.7,729.7"/>
<polygon color="#85ff61" points="200.7,738.3 206.4,732.5 201.8,725.3 196,730.9"/>
<polygon color="#7aff61" points="211,740.2 216.7,734.6 212,727 206.4,732.5"/>
<polygon color="#6dff61" points="221.3,742.6 227,737.1 222.3,729.2 216.7,734.6"/>
<polygon color="#69ff61" points="142.7,741.3 148.7,734.8 144.3,729 138.3,735.4"/>
<polygon color="#70ff61" points="153.1,741 159,734.7 154.6,728.6 148.7,734.8"/>
<polygon color="#74ff61" points="163.6,741.2 169.5,734.9 164.9,728.5 159,734.7"/>
<polygon color="#75ff61" points="174,741.8 179.9,735.6 175.3,728.9 169.5,734.9"/>
<polygon color="#72ff61" points="184.4,742.8 190.3,736.7 185.7,729.7 179.9,735.6"/>
<polygon color="#6cff61" points="194.9,744.2 200.7,738.3 196,730.9 190.3,736.7"/>
<polygon color="#62ff61" points="205.3,746.1 211,740.2 206.4,732.5 200.7,738.3"/>
<polygon color="#61ff6c" points="215.7,748.4 221.3,742.6 216.7,734.6 211,740.2"/>
<polygon color="#61ff6f" points="147.2,747.6 153.1,741 148.7,734.8 142.7,741.3"/>
<polygon color="#61ff6b" points="157.6,747.7 163.6,741.2 159,734.7 153.1,741"/>
<polygon color="#61ff69" points="168.1,748.2 174,741.8 169.5,734.9 163.6,741.2"/>
<polygon color="#61ff6b" points="178.6,749 184.4,742.8 179.9,735.6 174,741.8"/>
<polygon color="#61ff70" points="189.1,750.4 194.9,744.2 190.3,736.7 184.4,742.8"/>
<polygon color="#61ff79" points="199.5,752.1 205.3,746.1 200.7,738.3 194.9,744.2"/>
<polygon color="#61ff84" points="209.9,754.3 215.7,748.4 211,740.2 205.3,746.1"/>
<polygon color="#61ff89" points="151.7,754.4 157.6,747.7 153.1,741 147.2,747.6"/>
<polygon color="#61ff87" points="162.2,754.7 168.1,748.2 163.6,741.2 157.6,747.7"/>
<polygon color="#61ff88" points="172.7,755.5 178.6,749 174,741.8 168.1,748.2"/>
<polygon color="#61ff8c" points="183.2,756.7 189.1,750.4 184.4,742.8 178.6,749"/>
<polygon color="#61ff93" points="193.7,758.4 199.5,752.1 194.9,744.2 189.1,750.4"/>
<polygon color="#61ff9e" points="204.1,760.5 209.9,754.3 205.3,746.1 199.5,752.1"/>
<polygon color="#61ffa6" points="156.2,761.5 162.2,754.7 157.6,747.7 151.7,754.4"/>
<polygon color="#61ffa6" points="166.7,762.2 172.7,755.5 168.1,748.2 162.2,754.7"/>
<polygon color="#61ffa9" points="177.3,763.3 183.2,756.7 178.6,749 172.7,755.5"/>
<polygon color="#61ffb0" points="187.8,764.9 193.7,758.4 189.1,750.4 183.2,756.7"/>
<polygon color="#61ffb9" points="198.3,766.8 204.1,760.5 199.5,752.1 193.7,758.4"/>
<polygon color="#61ffc5" points="160.8,769.1 166.7,762.2 162.2,754.7 156.2,761.5"/>
<polygon color="#61ffc7" points="171.3,770.1 177.3,763.3 172.7,755.5 166.7,762.2"/>
<polygon color="#61ffcd" points="181.9,771.5 187.8,764.9 183.2,756.7 177.3,763.3"/>
<polygon color="#61ffd6" points="192.4,773.4 198.3,766.8 193.7,758.4 187.8,764.9"/>
<polygon color="#61ffe7" points="165.3,777.1 171.3,770.1 166.7,762.2 160.8,769.1"/>
<polygon color="#61ffec" points="175.9,778.4 181.9,771.5 177.3,763.3 171.3,770.1"/>
<polygon color="#61fff4" points="186.5,780.2 192.4,773.4 187.8,764.9 181.9,771.5"/>
<polygon color="#61f2ff" points="170,785.5 175.9,778.4 171.3,770.1 165.3,777.1"/>
<polygon color="#61ebff" points="180.5,787.2 186.5,780.2 181.9,771.5 175.9,778.4"/>
<polygon color="#61caff" points="174.6,794.4 180.5,787.2 175.9,778.4 170,785.5"/>
</g>
<path d="M174.6,794.4 170,785.5 165.3,777.1 160.8,769.1 156.2,761.5 151.7,754.4 147.2,747.6 142.7,741.3 138.3,735.4 134,729.9 129.7,724.9 125.5,720.2 121.4,716 117.3,712.2 113.3,708.8 109.4,705.8 105.5,703.2 101.7,701 98.1,699.2 94.5,697.8 90.9,696.8 87.5,696.2 84.1,696 80.9,696.2 77.7,696.7 74.5,697.7M174.6,794.4 180.5,787.2 186.5,780.2 192.4,773.4 198.3,766.8 204.1,760.5 209.9,754.3 215.7,748.4 221.3,742.6 227,737.1 232.5,731.8 238,726.8 243.4,721.9 248.8,717.3 254,712.8 259.2,708.6 264.3,704.6 269.4,700.8 274.4,697.3 279.2,693.9 284.1,690.8 288.8,687.8 293.5,685.1 298,682.6 302.5,680.3 307,678.1M177.6,790.8 172.9,782 168.3,773.6 163.7,765.6 159.2,758.1 154.6,751 150.2,744.3 145.7,738 141.3,732.2 137,726.8 132.7,721.8 128.5,717.2 124.3,713 120.2,709.2 116.2,705.9 112.3,702.9 108.4,700.4 104.6,698.2 100.9,696.5 97.3,695.1 93.8,694.2 90.3,693.6 86.9,693.5 83.7,693.7 80.4,694.3 77.3,695.3M172.3,789.9 178.2,782.8 184.2,775.8 190.1,769.1 196,762.5 201.8,756.2 207.6,750.1 213.3,744.2 219,738.6 224.6,733.1 230.2,727.9 235.7,722.9 241.1,718.1 246.4,713.5 251.7,709.1 256.9,704.9 262,701 267,697.2 272,693.7 276.9,690.4 281.7,687.3 286.4,684.4 291.1,681.8 295.7,679.3 300.2,677 304.6,675M180.5,787.2 175.9,778.4 171.3,770.1 166.7,762.2 162.2,754.7 157.6,747.7 153.1,741 148.7,734.8 144.3,729 139.9,723.7 135.6,718.7 131.4,714.2 127.2,710 123.1,706.3 119.1,703 115.2,700.1 111.3,697.6 107.5,695.5 103.8,693.8 100.2,692.6 96.6,691.7 93.2,691.1 89.8,691 86.5,691.3 83.2,691.9 80.1,693M170,785.5 175.9,778.4 181.9,771.5 187.8,764.9 193.7,758.4 199.5,752.1 205.3,746.1 211,740.2 216.7,734.6 222.3,729.2 227.8,724 233.3,719.1 238.7,714.3 244.1,709.8 249.3,705.4 254.5,701.3 259.6,697.4 264.7,693.8 269.7,690.3 274.5,687 279.3,684 284.1,681.2 288.7,678.5 293.3,676.1 297.8,673.9 302.3,671.9M183.5,783.7 178.9,775 174.3,766.7 169.7,758.8 165.1,751.4 160.6,744.4 156.1,737.8 151.6,731.7 147.2,725.9 142.9,720.6 138.6,715.7 134.3,711.2 130.2,707.1 126.1,703.5 122,700.2 118.1,697.4 114.2,694.9 110.4,692.9 106.7,691.2 103,690 99.5,689.2 96,688.7 92.6,688.6 89.2,688.9 86,689.6 82.8,690.7M167.6,781.3 173.6,774.2 179.6,767.4 185.5,760.7 191.4,754.3 197.2,748.1 203,742.1 208.7,736.3 214.4,730.8 220,725.4 225.5,720.3 231,715.4 236.4,710.7 241.7,706.2 247,701.9 252.2,697.9 257.3,694 262.3,690.4 267.3,687 272.2,683.8 277,680.8 281.7,678 286.4,675.4 291,673 295.5,670.9 299.9,668.9M186.5,780.2 181.9,771.5 177.3,763.3 172.7,755.5 168.1,748.2 163.6,741.2 159,734.7 154.6,728.6 150.2,722.9 145.8,717.6 141.5,712.7 137.3,708.3 133.1,704.3 129,700.7 124.9,697.5 121,694.7 117.1,692.3 113.3,690.3 109.5,688.7 105.9,687.5 102.3,686.7 98.8,686.3 95.4,686.3 92,686.6 88.8,687.4 85.6,688.5M165.3,777.1 171.3,770.1 177.3,763.3 183.2,756.7 189.1,750.4 194.9,744.2 200.7,738.3 206.4,732.5 212,727 217.7,721.7 223.2,716.7 228.7,711.8 234.1,707.1 239.4,702.7 244.7,698.5 249.8,694.5 255,690.7 260,687.1 264.9,683.8 269.8,680.6 274.6,677.7 279.4,674.9 284,672.4 288.6,670.1 293.1,668 297.5,666M189.5,776.8 184.8,768.2 180.2,760 175.6,752.3 171.1,744.9 166.5,738 162,731.6 157.5,725.5 153.1,719.9 148.7,714.6 144.4,709.8 140.2,705.5 136,701.5 131.9,697.9 127.8,694.8 123.8,692 119.9,689.7 116.1,687.8 112.4,686.2 108.7,685.1 105.1,684.3 101.6,683.9 98.1,684 94.8,684.4 91.5,685.1 88.3,686.3M163,773.1 169,766.1 175,759.4 180.9,752.8 186.7,746.5 192.6,740.4 198.3,734.5 204.1,728.9 209.7,723.4 215.3,718.2 220.9,713.1 226.3,708.3 231.7,703.7 237.1,699.3 242.3,695.2 247.5,691.2 252.6,687.5 257.6,684 262.6,680.6 267.5,677.5 272.3,674.6 277,672 281.7,669.5 286.3,667.2 290.8,665.1 295.2,663.3M192.4,773.4 187.8,764.9 183.2,756.7 178.6,749 174,741.8 169.5,734.9 164.9,728.5 160.5,722.5 156,716.9 151.7,711.8 147.3,707 143.1,702.7 138.9,698.8 134.8,695.2 130.7,692.1 126.7,689.4 122.8,687.2 119,685.3 115.2,683.8 111.5,682.7 107.9,682 104.4,681.7 100.9,681.7 97.6,682.2 94.3,683 91,684.2M160.8,769.1 166.7,762.2 172.7,755.5 178.6,749 184.4,742.8 190.3,736.7 196,730.9 201.8,725.3 207.4,719.9 213,714.7 218.5,709.7 224,704.9 229.4,700.4 234.7,696.1 240,692 245.2,688.1 250.3,684.4 255.3,680.9 260.3,677.6 265.1,674.6 269.9,671.7 274.7,669.1 279.3,666.7 283.9,664.4 288.4,662.4 292.8,660.6M195.4,770.1 190.7,761.6 186.1,753.5 181.5,745.9 176.9,738.7 172.4,731.9 167.9,725.5 163.4,719.6 159,714 154.6,708.9 150.2,704.2 146,699.9 141.8,696.1 137.6,692.6 133.6,689.6 129.6,686.9 125.7,684.7 121.8,682.8 118,681.4 114.3,680.3 110.7,679.7 107.2,679.4 103.7,679.5 100.3,680 97,680.9 93.8,682.1M158.5,765.3 164.4,758.4 170.4,751.8 176.3,745.4 182.2,739.1 188,733.1 193.7,727.4 199.5,721.8 205.1,716.4 210.7,711.3 216.2,706.4 221.7,701.7 227.1,697.2 232.4,692.9 237.7,688.9 242.8,685 247.9,681.4 253,677.9 257.9,674.7 262.8,671.7 267.6,668.9 272.3,666.3 277,664 281.6,661.8 286.1,659.8 290.5,658.1M198.3,766.8 193.7,758.4 189.1,750.4 184.4,742.8 179.9,735.6 175.3,728.9 170.8,722.6 166.3,716.7 161.9,711.2 157.5,706.1 153.1,701.5 148.9,697.2 144.7,693.4 140.5,690 136.4,687 132.4,684.4 128.5,682.2 124.6,680.5 120.8,679.1 117.1,678.1 113.5,677.4 109.9,677.2 106.5,677.4 103.1,677.9 99.7,678.8 96.5,680.1M156.2,761.5 162.2,754.7 168.1,748.2 174,741.8 179.9,735.6 185.7,729.7 191.4,723.9 197.1,718.4 202.8,713.1 208.4,708 213.9,703.2 219.4,698.5 224.8,694.1 230.1,689.9 235.3,685.9 240.5,682.1 245.6,678.5 250.6,675.1 255.6,671.9 260.5,669 265.3,666.2 270,663.7 274.6,661.4 279.2,659.2 283.7,657.3 288.1,655.6M201.2,763.6 196.6,755.2 192,747.3 187.4,739.7 182.8,732.6 178.2,725.9 173.7,719.7 169.2,713.8 164.8,708.4 160.4,703.4 156,698.8 151.7,694.6 147.5,690.9 143.4,687.5 139.3,684.6 135.3,682 131.3,679.9 127.4,678.1 123.6,676.8 119.9,675.8 116.3,675.3 112.7,675.1 109.2,675.3 105.8,675.9 102.4,676.8 99.2,678.1M153.9,757.9 159.9,751.2 165.8,744.6 171.7,738.3 177.6,732.2 183.4,726.3 189.1,720.6 194.9,715.2 200.5,709.9 206.1,704.9 211.6,700.1 217.1,695.5 222.4,691.1 227.8,686.9 233,683 238.2,679.2 243.3,675.7 248.3,672.4 253.2,669.2 258.1,666.3 262.9,663.6 267.6,661.2 272.3,658.9 276.9,656.8 281.4,654.9 285.8,653.2M204.1,760.5 199.5,752.1 194.9,744.2 190.3,736.7 185.7,729.7 181.1,723 176.6,716.8 172.1,711 167.6,705.7 163.2,700.7 158.9,696.2 154.6,692 150.4,688.3 146.2,685 142.1,682.1 138.1,679.6 134.1,677.5 130.3,675.8 126.4,674.5 122.7,673.6 119,673.1 115.5,673 111.9,673.2 108.5,673.9 105.2,674.9 101.9,676.2M151.7,754.4 157.6,747.7 163.6,741.2 169.5,734.9 175.3,728.9 181.1,723 186.9,717.4 192.6,712 198.2,706.8 203.8,701.8 209.3,697.1 214.8,692.5 220.1,688.2 225.5,684.1 230.7,680.2 235.9,676.5 241,673 246,669.7 250.9,666.7 255.8,663.8 260.6,661.2 265.3,658.7 270,656.5 274.5,654.4 279,652.6 283.5,651M207,757.4 202.4,749.1 197.8,741.2 193.2,733.8 188.6,726.8 184,720.2 179.5,714 175,708.3 170.5,703 166.1,698.1 161.7,693.6 157.5,689.5 153.2,685.9 149,682.6 144.9,679.8 140.9,677.3 136.9,675.3 133,673.6 129.2,672.4 125.5,671.5 121.8,671 118.2,670.9 114.7,671.2 111.2,671.9 107.9,673 104.6,674.4M149.4,751 155.4,744.3 161.3,737.9 167.2,731.7 173,725.7 178.8,719.9 184.6,714.3 190.3,708.9 195.9,703.8 201.5,698.9 207,694.2 212.5,689.7 217.8,685.4 223.1,681.3 228.4,677.5 233.5,673.8 238.6,670.4 243.7,667.2 248.6,664.2 253.5,661.4 258.3,658.8 263,656.4 267.6,654.2 272.2,652.2 276.7,650.4 281.2,648.8M209.9,754.3 205.3,746.1 200.7,738.3 196,730.9 191.4,723.9 186.9,717.4 182.3,711.3 177.8,705.6 173.4,700.4 169,695.5 164.6,691.1 160.3,687 156,683.4 151.9,680.2 147.8,677.4 143.7,675 139.7,673 135.8,671.5 132,670.2 128.2,669.4 124.5,669 120.9,669 117.4,669.3 113.9,670 110.5,671.1 107.2,672.6M147.2,747.6 153.1,741 159,734.7 164.9,728.5 170.8,722.6 176.6,716.8 182.3,711.3 188,706 193.6,700.9 199.2,696 204.7,691.4 210.2,686.9 215.5,682.7 220.9,678.7 226.1,674.9 231.2,671.3 236.3,667.9 241.3,664.7 246.3,661.8 251.2,659 256,656.5 260.7,654.1 265.3,652 269.9,650.1 274.4,648.3 278.8,646.8M212.8,751.3 208.2,743.1 203.5,735.4 198.9,728.1 194.3,721.2 189.7,714.7 185.2,708.6 180.7,703 176.2,697.8 171.8,693 167.4,688.6 163.1,684.6 158.9,681.1 154.7,677.9 150.6,675.2 146.5,672.8 142.5,670.9 138.6,669.3 134.8,668.2 131,667.4 127.3,667 123.7,667 120.1,667.4 116.6,668.2 113.2,669.3 109.9,670.8M144.9,744.4 150.9,737.9 156.8,731.6 162.7,725.5 168.5,719.6 174.3,713.9 180.1,708.4 185.8,703.2 191.4,698.1 197,693.3 202.5,688.7 207.9,684.3 213.3,680.1 218.6,676.2 223.8,672.4 229,668.9 234,665.5 239,662.4 244,659.5 248.9,656.8 253.6,654.3 258.4,652 263,649.9 267.6,648 272.1,646.3 276.5,644.8M215.7,748.4 211,740.2 206.4,732.5 201.8,725.3 197.1,718.4 192.6,712 188,706 183.5,700.4 179,695.3 174.6,690.5 170.2,686.2 165.9,682.3 161.7,678.8 157.5,675.7 153.3,673 149.3,670.7 145.3,668.8 141.4,667.3 137.5,666.2 133.7,665.4 130,665.1 126.4,665.1 122.8,665.6 119.3,666.4 115.9,667.5 112.5,669.1M142.7,741.3 148.7,734.8 154.6,728.6 160.5,722.5 166.3,716.7 172.1,711 177.8,705.6 183.5,700.4 189.1,695.4 194.7,690.7 200.2,686.1 205.6,681.8 211,677.7 216.3,673.7 221.5,670 226.7,666.5 231.7,663.3 236.8,660.2 241.7,657.3 246.6,654.7 251.3,652.2 256.1,650 260.7,647.9 265.3,646.1 269.8,644.4 274.2,643M218.5,745.5 213.9,737.4 209.2,729.8 204.6,722.5 200,715.7 195.4,709.4 190.8,703.4 186.3,697.9 181.8,692.8 177.4,688.1 173,683.8 168.7,680 164.5,676.5 160.2,673.4 156.1,670.8 152,668.6 148,666.7 144.1,665.2 140.2,664.2 136.4,663.5 132.7,663.2 129.1,663.3 125.5,663.8 122,664.6 118.5,665.8 115.2,667.4M140.5,738.3 146.5,731.9 152.4,725.7 158.2,719.7 164.1,713.9 169.9,708.3 175.6,702.9 181.3,697.8 186.9,692.9 192.4,688.1 197.9,683.6 203.4,679.4 208.7,675.3 214,671.4 219.2,667.8 224.4,664.3 229.5,661.1 234.5,658.1 239.4,655.3 244.3,652.6 249.1,650.2 253.8,648 258.4,646 263,644.2 267.5,642.6 271.9,641.2M221.3,742.6 216.7,734.6 212,727 207.4,719.9 202.8,713.1 198.2,706.8 193.6,700.9 189.1,695.4 184.6,690.4 180.2,685.7 175.8,681.5 171.5,677.7 167.2,674.3 163,671.3 158.9,668.7 154.8,666.5 150.8,664.7 146.8,663.3 142.9,662.3 139.1,661.6 135.4,661.4 131.7,661.5 128.2,662 124.6,662.9 121.2,664.2 117.8,665.8M138.3,735.4 144.3,729 150.2,722.9 156,716.9 161.9,711.2 167.6,705.7 173.4,700.4 179,695.3 184.6,690.4 190.2,685.7 195.7,681.3 201.1,677 206.5,673 211.8,669.2 217,665.6 222.1,662.2 227.2,659 232.2,656 237.1,653.3 242,650.7 246.8,648.4 251.5,646.2 256.1,644.2 260.7,642.5 265.2,640.9 269.6,639.6M224.2,739.9 219.5,731.9 214.9,724.4 210.2,717.2 205.6,710.6 201,704.3 196.4,698.5 191.9,693 187.4,688 183,683.4 178.6,679.3 174.3,675.5 170,672.1 165.8,669.2 161.6,666.6 157.5,664.5 153.5,662.7 149.5,661.4 145.6,660.4 141.8,659.8 138.1,659.6 134.4,659.8 130.8,660.4 127.3,661.3 123.8,662.6 120.4,664.2M136.2,732.6 142.1,726.3 148,720.2 153.8,714.3 159.7,708.6 165.4,703.1 171.1,697.9 176.8,692.8 182.4,688 188,683.4 193.5,679 198.9,674.8 204.2,670.8 209.5,667.1 214.7,663.5 219.9,660.2 224.9,657.1 229.9,654.1 234.9,651.4 239.7,648.9 244.5,646.6 249.2,644.5 253.9,642.6 258.4,640.9 262.9,639.3 267.4,638M227,737.1 222.3,729.2 217.7,721.7 213,714.7 208.4,708 203.8,701.8 199.2,696 194.7,690.7 190.2,685.7 185.8,681.2 181.4,677.1 177,673.3 172.7,670 168.5,667.1 164.3,664.6 160.2,662.5 156.2,660.8 152.2,659.5 148.3,658.6 144.5,658 140.8,657.9 137.1,658.1 133.5,658.7 129.9,659.7 126.4,661 123,662.7M134,729.9 139.9,723.7 145.8,717.6 151.7,711.8 157.5,706.1 163.2,700.7 169,695.5 174.6,690.5 180.2,685.7 185.8,681.2 191.2,676.8 196.6,672.7 202,668.8 207.3,665.1 212.5,661.6 217.6,658.3 222.7,655.2 227.7,652.3 232.6,649.6 237.5,647.2 242.2,644.9 247,642.8 251.6,641 256.2,639.3 260.7,637.8 265.1,636.6M229.7,734.5 225.1,726.6 220.4,719.2 215.8,712.2 211.2,705.6 206.6,699.4 202,693.7 197.4,688.4 192.9,683.5 188.5,679 184.1,674.9 179.7,671.2 175.5,668 171.2,665.1 167,662.7 162.9,660.6 158.9,659 154.9,657.7 151,656.8 147.2,656.3 143.4,656.2 139.7,656.5 136.1,657.1 132.5,658.1 129,659.5 125.6,661.3M131.8,727.3 137.8,721.1 143.6,715.1 149.5,709.3 155.3,703.7 161.1,698.4 166.8,693.2 172.4,688.3 178,683.6 183.5,679.1 189,674.8 194.4,670.7 199.8,666.8 205,663.2 210.2,659.7 215.4,656.5 220.4,653.4 225.4,650.6 230.4,648 235.2,645.5 240,643.3 244.7,641.3 249.3,639.5 253.9,637.9 258.4,636.4 262.9,635.2M232.5,731.8 227.8,724 223.2,716.7 218.5,709.7 213.9,703.2 209.3,697.1 204.7,691.4 200.2,686.1 195.7,681.3 191.2,676.8 186.8,672.8 182.5,669.2 178.2,666 173.9,663.2 169.7,660.8 165.6,658.8 161.6,657.2 157.6,655.9 153.7,655.1 149.8,654.7 146.1,654.6 142.3,654.9 138.7,655.6 135.1,656.6 131.6,658.1 128.2,659.8M129.7,724.9 135.6,718.7 141.5,712.7 147.3,707 153.1,701.5 158.9,696.2 164.6,691.1 170.2,686.2 175.8,681.5 181.4,677.1 186.8,672.8 192.2,668.8 197.6,665 202.8,661.3 208,657.9 213.2,654.7 218.2,651.8 223.2,649 228.1,646.4 233,644 237.8,641.8 242.5,639.9 247.1,638.1 251.7,636.5 256.2,635.1 260.6,634M235.3,729.3 230.6,721.5 225.9,714.2 221.3,707.3 216.7,700.8 212,694.8 207.5,689.1 202.9,683.9 198.4,679.1 193.9,674.7 189.5,670.8 185.2,667.2 180.9,664 176.6,661.3 172.4,658.9 168.3,657 164.2,655.4 160.3,654.2 156.3,653.5 152.5,653 148.7,653 145,653.4 141.3,654.1 137.7,655.2 134.2,656.7 130.8,658.5M127.6,722.5 133.5,716.4 139.4,710.5 145.2,704.8 151,699.3 156.7,694.1 162.4,689 168.1,684.2 173.7,679.6 179.2,675.1 184.6,671 190,667 195.4,663.2 200.6,659.6 205.8,656.3 210.9,653.1 216,650.2 221,647.5 225.9,644.9 230.8,642.6 235.5,640.5 240.2,638.5 244.9,636.8 249.4,635.3 253.9,633.9 258.4,632.8M238,726.8 233.3,719.1 228.7,711.8 224,704.9 219.4,698.5 214.8,692.5 210.2,686.9 205.6,681.8 201.1,677 196.6,672.7 192.2,668.8 187.9,665.3 183.5,662.2 179.3,659.4 175.1,657.1 171,655.2 166.9,653.7 162.9,652.6 159,651.8 155.1,651.5 151.3,651.5 147.6,651.9 143.9,652.7 140.3,653.8 136.8,655.3 133.3,657.2M125.5,720.2 131.4,714.2 137.3,708.3 143.1,702.7 148.9,697.2 154.6,692 160.3,687 165.9,682.3 171.5,677.7 177,673.3 182.5,669.2 187.9,665.3 193.2,661.5 198.4,658 203.6,654.7 208.7,651.6 213.8,648.7 218.8,646 223.7,643.6 228.5,641.3 233.3,639.2 238,637.3 242.7,635.6 247.2,634.1 251.7,632.8 256.2,631.7M240.7,724.3 236,716.7 231.4,709.4 226.7,702.6 222.1,696.3 217.5,690.3 212.9,684.8 208.3,679.7 203.8,675 199.3,670.7 194.9,666.8 190.5,663.4 186.2,660.3 181.9,657.7 177.7,655.4 173.6,653.5 169.5,652.1 165.5,651 161.6,650.3 157.7,650 153.9,650 150.2,650.5 146.5,651.3 142.9,652.4 139.3,654 135.9,655.9M123.4,718.1 129.3,712 135.2,706.2 141,700.7 146.8,695.3 152.5,690.1 158.2,685.2 163.8,680.5 169.4,675.9 174.9,671.6 180.3,667.5 185.7,663.7 191,660 196.3,656.5 201.4,653.3 206.6,650.2 211.6,647.4 216.6,644.7 221.5,642.3 226.3,640 231.1,638 235.8,636.2 240.4,634.5 245,633.1 249.5,631.8 253.9,630.8M243.4,721.9 238.7,714.3 234.1,707.1 229.4,700.4 224.8,694.1 220.1,688.2 215.5,682.7 211,677.7 206.5,673 202,668.8 197.6,665 193.2,661.5 188.9,658.5 184.6,655.9 180.4,653.7 176.2,651.9 172.1,650.5 168.1,649.4 164.2,648.8 160.3,648.5 156.5,648.6 152.7,649.1 149,649.9 145.4,651.1 141.9,652.7 138.4,654.7M121.4,716 127.2,710 133.1,704.3 138.9,698.8 144.7,693.4 150.4,688.3 156,683.4 161.7,678.8 167.2,674.3 172.7,670 178.2,666 183.5,662.2 188.9,658.5 194.1,655.1 199.3,651.9 204.4,648.9 209.4,646.1 214.4,643.5 219.3,641.1 224.2,638.9 228.9,636.9 233.6,635.1 238.3,633.5 242.8,632.1 247.3,630.9 251.7,629.9M246.1,719.6 241.4,712 236.7,704.9 232.1,698.2 227.4,691.9 222.8,686.1 218.2,680.7 213.6,675.7 209.1,671.1 204.6,666.9 200.2,663.1 195.8,659.8 191.5,656.8 187.2,654.2 183,652.1 178.8,650.3 174.8,648.9 170.7,647.9 166.8,647.3 162.9,647.1 159,647.2 155.3,647.8 151.6,648.6 148,649.9 144.4,651.5 140.9,653.5M119.3,714 125.2,708.1 131,702.4 136.8,696.9 142.6,691.7 148.3,686.6 154,681.8 159.6,677.2 165.1,672.7 170.6,668.5 176,664.5 181.4,660.8 186.7,657.2 192,653.8 197.1,650.6 202.2,647.7 207.3,644.9 212.2,642.4 217.1,640 222,637.9 226.7,635.9 231.4,634.2 236.1,632.6 240.6,631.3 245.1,630.1 249.6,629.1M248.8,717.3 244.1,709.8 239.4,702.7 234.7,696.1 230.1,689.9 225.5,684.1 220.9,678.7 216.3,673.7 211.8,669.2 207.3,665.1 202.8,661.3 198.4,658 194.1,655.1 189.8,652.6 185.6,650.5 181.4,648.8 177.3,647.4 173.3,646.5 169.3,645.9 165.4,645.7 161.6,645.9 157.8,646.5 154.1,647.4 150.5,648.7 146.9,650.4 143.4,652.4M117.3,712.2 123.1,706.3 129,700.7 134.8,695.2 140.5,690 146.2,685 151.9,680.2 157.5,675.7 163,671.3 168.5,667.1 173.9,663.2 179.3,659.4 184.6,655.9 189.8,652.6 195,649.5 200.1,646.6 205.1,643.9 210.1,641.4 215,639.1 219.8,636.9 224.6,635 229.3,633.3 233.9,631.8 238.5,630.5 243,629.4 247.4,628.4M251.4,715 246.7,707.6 242,700.6 237.4,694 232.7,687.8 228.1,682.1 223.5,676.8 218.9,671.9 214.4,667.4 209.9,663.3 205.4,659.6 201,656.3 196.7,653.5 192.4,651 188.2,648.9 184,647.3 179.9,646 175.9,645.1 171.9,644.5 168,644.4 164.1,644.6 160.4,645.2 156.7,646.2 153,647.5 149.4,649.2 145.9,651.3M115.3,710.4 121.1,704.6 126.9,699 132.7,693.6 138.5,688.5 144.2,683.5 149.8,678.8 155.4,674.3 160.9,669.9 166.4,665.8 171.8,661.9 177.2,658.2 182.5,654.8 187.7,651.5 192.9,648.4 198,645.6 203,642.9 208,640.4 212.8,638.2 217.7,636.1 222.4,634.2 227.1,632.6 231.7,631.1 236.3,629.8 240.8,628.8 245.2,627.9M254,712.8 249.3,705.4 244.7,698.5 240,692 235.3,685.9 230.7,680.2 226.1,674.9 221.5,670 217,665.6 212.5,661.6 208,657.9 203.6,654.7 199.3,651.9 195,649.5 190.8,647.5 186.6,645.8 182.5,644.6 178.4,643.7 174.4,643.2 170.5,643.1 166.7,643.4 162.9,644.1 159.2,645.1 155.5,646.4 151.9,648.2 148.4,650.3M113.3,708.8 119.1,703 124.9,697.5 130.7,692.1 136.4,687 142.1,682.1 147.8,677.4 153.3,673 158.9,668.7 164.3,664.6 169.7,660.8 175.1,657.1 180.4,653.7 185.6,650.5 190.8,647.5 195.8,644.6 200.9,642 205.8,639.6 210.7,637.4 215.5,635.4 220.3,633.6 225,631.9 229.6,630.5 234.2,629.3 238.7,628.2 243.1,627.4M256.6,710.7 251.9,703.4 247.3,696.5 242.6,690 237.9,683.9 233.3,678.3 228.7,673.1 224.1,668.3 219.6,663.9 215.1,659.9 210.6,656.3 206.2,653.1 201.8,650.4 197.5,648 193.3,646 189.1,644.4 185,643.2 181,642.4 177,642 173,641.9 169.2,642.2 165.4,642.9 161.7,644 158,645.4 154.4,647.2 150.9,649.3M111.3,707.2 117.1,701.5 122.9,696 128.7,690.7 134.4,685.7 140.1,680.8 145.7,676.2 151.3,671.8 156.8,667.5 162.3,663.5 167.7,659.7 173,656.1 178.3,652.7 183.5,649.6 188.7,646.6 193.7,643.8 198.8,641.2 203.7,638.9 208.6,636.7 213.4,634.7 218.2,633 222.9,631.4 227.5,630 232,628.8 236.5,627.8 241,627M259.2,708.6 254.5,701.3 249.8,694.5 245.2,688.1 240.5,682.1 235.9,676.5 231.2,671.3 226.7,666.5 222.1,662.2 217.6,658.3 213.2,654.7 208.7,651.6 204.4,648.9 200.1,646.6 195.8,644.6 191.7,643.1 187.5,641.9 183.5,641.2 179.5,640.8 175.5,640.8 171.7,641.1 167.9,641.8 164.1,642.9 160.5,644.4 156.9,646.2 153.3,648.3M109.4,705.8 115.2,700.1 121,694.7 126.7,689.4 132.4,684.4 138.1,679.6 143.7,675 149.3,670.7 154.8,666.5 160.2,662.5 165.6,658.8 171,655.2 176.2,651.9 181.4,648.8 186.6,645.8 191.7,643.1 196.7,640.6 201.6,638.2 206.5,636.1 211.3,634.2 216.1,632.4 220.7,630.9 225.4,629.6 229.9,628.4 234.4,627.4 238.8,626.7M261.8,706.6 257.1,699.4 252.4,692.6 247.7,686.2 243.1,680.2 238.4,674.7 233.8,669.6 229.2,664.9 224.7,660.6 220.2,656.7 215.7,653.2 211.3,650.1 206.9,647.5 202.6,645.2 198.4,643.3 194.2,641.8 190,640.7 186,640 182,639.6 178,639.6 174.2,640 170.3,640.8 166.6,641.9 162.9,643.4 159.3,645.3 155.8,647.5M107.4,704.4 113.2,698.8 119,693.4 124.8,688.3 130.5,683.3 136.1,678.5 141.7,674 147.3,669.7 152.8,665.5 158.2,661.6 163.6,657.9 168.9,654.4 174.2,651.1 179.4,648 184.5,645.2 189.6,642.5 194.6,640 199.5,637.7 204.4,635.6 209.2,633.7 214,632 218.7,630.5 223.3,629.2 227.8,628.1 232.3,627.2 236.7,626.4M264.3,704.6 259.6,697.4 255,690.7 250.3,684.4 245.6,678.5 241,673 236.3,667.9 231.7,663.3 227.2,659 222.7,655.2 218.2,651.8 213.8,648.7 209.4,646.1 205.1,643.9 200.9,642 196.7,640.6 192.5,639.5 188.5,638.8 184.5,638.5 180.5,638.6 176.6,639 172.8,639.8 169,641 165.4,642.5 161.7,644.4 158.2,646.6M105.5,703.2 111.3,697.6 117.1,692.3 122.8,687.2 128.5,682.2 134.1,677.5 139.7,673 145.3,668.8 150.8,664.7 156.2,660.8 161.6,657.2 166.9,653.7 172.1,650.5 177.3,647.4 182.5,644.6 187.5,641.9 192.5,639.5 197.5,637.3 202.3,635.2 207.2,633.4 211.9,631.7 216.6,630.3 221.2,629 225.7,627.9 230.2,627 234.6,626.3M266.9,702.7 262.2,695.6 257.5,688.9 252.8,682.6 248.1,676.8 243.5,671.3 238.9,666.3 234.3,661.7 229.7,657.5 225.2,653.7 220.7,650.3 216.3,647.4 211.9,644.8 207.6,642.6 203.4,640.8 199.2,639.4 195,638.4 190.9,637.7 186.9,637.4 183,637.5 179.1,638 175.2,638.9 171.5,640.1 167.8,641.6 164.2,643.6 160.6,645.8M103.6,702 109.4,696.5 115.2,691.2 120.9,686.2 126.6,681.3 132.2,676.6 137.8,672.2 143.3,668 148.8,663.9 154.2,660.1 159.6,656.5 164.9,653.1 170.1,649.9 175.3,646.9 180.4,644.1 185.5,641.5 190.5,639.1 195.4,636.9 200.3,634.9 205.1,633.1 209.8,631.5 214.5,630.1 219.1,628.8 223.7,627.8 228.1,627 232.6,626.3M269.4,700.8 264.7,693.8 260,687.1 255.3,680.9 250.6,675.1 246,669.7 241.3,664.7 236.8,660.2 232.2,656 227.7,652.3 223.2,649 218.8,646 214.4,643.5 210.1,641.4 205.8,639.6 201.6,638.2 197.5,637.3 193.4,636.7 189.4,636.4 185.4,636.6 181.5,637.1 177.7,638 173.9,639.2 170.2,640.8 166.6,642.8 163,645.1M101.7,701 107.5,695.5 113.3,690.3 119,685.3 124.6,680.5 130.3,675.8 135.8,671.5 141.4,667.3 146.8,663.3 152.2,659.5 157.6,655.9 162.9,652.6 168.1,649.4 173.3,646.5 178.4,643.7 183.5,641.2 188.5,638.8 193.4,636.7 198.2,634.7 203,632.9 207.8,631.4 212.4,630 217.1,628.8 221.6,627.8 226.1,627 230.5,626.4M271.9,699 267.2,692 262.5,685.4 257.8,679.2 253.1,673.5 248.5,668.2 243.8,663.2 239.2,658.7 234.7,654.6 230.2,650.9 225.7,647.7 221.3,644.8 216.9,642.3 212.5,640.2 208.3,638.5 204.1,637.1 199.9,636.2 195.8,635.7 191.8,635.5 187.8,635.7 183.9,636.2 180.1,637.1 176.3,638.4 172.6,640 169,642 165.4,644.4M99.9,700 105.7,694.6 111.4,689.4 117.1,684.5 122.7,679.7 128.3,675.1 133.9,670.8 139.4,666.7 144.9,662.7 150.3,659 155.6,655.5 160.9,652.2 166.1,649.1 171.3,646.1 176.4,643.4 181.5,640.9 186.5,638.6 191.4,636.5 196.2,634.6 201,632.9 205.7,631.3 210.4,630 215,628.8 219.6,627.9 224,627.1 228.5,626.5M274.4,697.3 269.7,690.3 264.9,683.8 260.3,677.6 255.6,671.9 250.9,666.7 246.3,661.8 241.7,657.3 237.1,653.3 232.6,649.6 228.1,646.4 223.7,643.6 219.3,641.1 215,639.1 210.7,637.4 206.5,636.1 202.3,635.2 198.2,634.7 194.2,634.6 190.2,634.8 186.3,635.4 182.5,636.3 178.7,637.7 175,639.3 171.3,641.4 167.7,643.7M98.1,699.2 103.8,693.8 109.5,688.7 115.2,683.8 120.8,679.1 126.4,674.5 132,670.2 137.5,666.2 142.9,662.3 148.3,658.6 153.7,655.1 159,651.8 164.2,648.8 169.3,645.9 174.4,643.2 179.5,640.8 184.5,638.5 189.4,636.4 194.2,634.6 199,632.9 203.7,631.4 208.4,630.1 213,629 217.5,628 222,627.3 226.4,626.7M276.8,695.6 272.1,688.6 267.4,682.2 262.7,676.1 258,670.4 253.4,665.2 248.7,660.4 244.1,656 239.6,652 235,648.4 230.6,645.2 226.1,642.4 221.7,640 217.4,638 213.1,636.4 208.9,635.1 204.8,634.3 200.7,633.8 196.6,633.7 192.6,634 188.7,634.6 184.9,635.6 181.1,636.9 177.4,638.6 173.7,640.7 170.1,643.1M96.2,698.4 102,693.1 107.7,688.1 113.4,683.2 119,678.5 124.6,674 130.1,669.8 135.6,665.7 141,661.9 146.4,658.3 151.7,654.8 157,651.6 162.2,648.6 167.4,645.8 172.5,643.1 177.5,640.7 182.5,638.5 187.4,636.5 192.2,634.6 197,633 201.7,631.5 206.4,630.3 211,629.2 215.5,628.3 220,627.6 224.4,627.1M279.2,693.9 274.5,687 269.8,680.6 265.1,674.6 260.5,669 255.8,663.8 251.2,659 246.6,654.7 242,650.7 237.5,647.2 233,644 228.5,641.3 224.2,638.9 219.8,636.9 215.5,635.4 211.3,634.2 207.2,633.4 203,632.9 199,632.9 195,633.2 191.1,633.8 187.2,634.9 183.4,636.3 179.7,638 176,640.1 172.4,642.6M94.5,697.8 100.2,692.6 105.9,687.5 111.5,682.7 117.1,678.1 122.7,673.6 128.2,669.4 133.7,665.4 139.1,661.6 144.5,658 149.8,654.7 155.1,651.5 160.3,648.5 165.4,645.7 170.5,643.1 175.5,640.8 180.5,638.6 185.4,636.6 190.2,634.8 195,633.2 199.7,631.8 204.4,630.5 209,629.5 213.5,628.6 218,628 222.4,627.5M281.7,692.3 277,685.5 272.2,679.1 267.5,673.1 262.9,667.6 258.2,662.4 253.6,657.7 249,653.4 244.4,649.5 239.9,646 235.4,642.9 230.9,640.2 226.5,637.9 222.2,636 217.9,634.4 213.7,633.3 209.5,632.5 205.4,632.1 201.4,632.1 197.4,632.4 193.5,633.2 189.6,634.2 185.8,635.7 182.1,637.4 178.4,639.6 174.8,642M92.7,697.3 98.4,692.1 104.1,687.1 109.7,682.3 115.3,677.7 120.9,673.3 126.4,669.2 131.8,665.2 137.3,661.5 142.6,657.9 147.9,654.6 153.2,651.4 158.4,648.5 163.5,645.8 168.6,643.2 173.6,640.9 178.6,638.7 183.4,636.8 188.3,635 193,633.5 197.8,632.1 202.4,630.9 207,629.9 211.5,629.1 216,628.5 220.4,628M284.1,690.8 279.3,684 274.6,677.7 269.9,671.7 265.3,666.2 260.6,661.2 256,656.5 251.3,652.2 246.8,648.4 242.2,644.9 237.8,641.8 233.3,639.2 228.9,636.9 224.6,635 220.3,633.6 216.1,632.4 211.9,631.7 207.8,631.4 203.7,631.4 199.7,631.8 195.8,632.5 191.9,633.6 188.1,635.1 184.4,636.9 180.7,639.1 177.1,641.6M90.9,696.8 96.6,691.7 102.3,686.7 107.9,682 113.5,677.4 119,673.1 124.5,669 130,665.1 135.4,661.4 140.8,657.9 146.1,654.6 151.3,651.5 156.5,648.6 161.6,645.9 166.7,643.4 171.7,641.1 176.6,639 181.5,637.1 186.3,635.4 191.1,633.8 195.8,632.5 200.4,631.4 205,630.4 209.6,629.6 214,629 218.4,628.6M286.4,689.3 281.7,682.5 277,676.3 272.3,670.4 267.6,664.9 263,659.9 258.3,655.3 253.7,651.1 249.1,647.3 244.6,643.8 240.1,640.8 235.7,638.2 231.3,636 226.9,634.2 222.6,632.7 218.4,631.6 214.2,631 210.1,630.6 206.1,630.7 202.1,631.1 198.1,631.9 194.3,633.1 190.4,634.6 186.7,636.4 183,638.6 179.4,641.1M89.2,696.5 94.9,691.3 100.5,686.5 106.1,681.8 111.7,677.3 117.2,673 122.7,668.9 128.2,665.1 133.6,661.4 138.9,658 144.2,654.7 149.4,651.7 154.6,648.8 159.7,646.1 164.8,643.7 169.8,641.4 174.7,639.4 179.6,637.5 184.4,635.8 189.2,634.3 193.9,633 198.5,631.9 203.1,631 207.6,630.2 212.1,629.7 216.5,629.3M288.8,687.8 284.1,681.2 279.4,674.9 274.7,669.1 270,663.7 265.3,658.7 260.7,654.1 256.1,650 251.5,646.2 247,642.8 242.5,639.9 238,637.3 233.6,635.1 229.3,633.3 225,631.9 220.7,630.9 216.6,630.3 212.4,630 208.4,630.1 204.4,630.5 200.4,631.4 196.6,632.5 192.7,634.1 189,636 185.3,638.2 181.7,640.8M87.5,696.2 93.2,691.1 98.8,686.3 104.4,681.7 109.9,677.2 115.5,673 120.9,669 126.4,665.1 131.7,661.5 137.1,658.1 142.3,654.9 147.6,651.9 152.7,649.1 157.8,646.5 162.9,644.1 167.9,641.8 172.8,639.8 177.7,638 182.5,636.3 187.2,634.9 191.9,633.6 196.6,632.5 201.1,631.6 205.7,630.9 210.1,630.4 214.5,630.1M291.1,686.4 286.4,679.8 281.7,673.6 277,667.9 272.3,662.5 267.6,657.6 263,653 258.4,648.9 253.8,645.2 249.3,641.9 244.8,639 240.3,636.4 235.9,634.3 231.6,632.6 227.3,631.2 223.1,630.2 218.9,629.6 214.8,629.4 210.7,629.5 206.7,630 202.7,630.9 198.9,632.1 195,633.6 191.3,635.6 187.6,637.8 183.9,640.4M85.8,696 91.4,691 97.1,686.2 102.6,681.6 108.2,677.2 113.7,673.1 119.2,669.1 124.6,665.3 129.9,661.7 135.3,658.4 140.5,655.2 145.7,652.2 150.9,649.5 156,646.9 161,644.5 166,642.3 170.9,640.3 175.8,638.6 180.6,636.9 185.3,635.5 190,634.3 194.6,633.3 199.2,632.4 203.7,631.7 208.2,631.2 212.6,630.9M293.5,685.1 288.7,678.5 284,672.4 279.3,666.7 274.6,661.4 270,656.5 265.3,652 260.7,647.9 256.1,644.2 251.6,641 247.1,638.1 242.7,635.6 238.3,633.5 233.9,631.8 229.6,630.5 225.4,629.6 221.2,629 217.1,628.8 213,629 209,629.5 205,630.4 201.1,631.6 197.3,633.3 193.6,635.2 189.8,637.5 186.2,640.1M84.1,696 89.8,691 95.4,686.3 100.9,681.7 106.5,677.4 111.9,673.2 117.4,669.3 122.8,665.6 128.2,662 133.5,658.7 138.7,655.6 143.9,652.7 149,649.9 154.1,647.4 159.2,645.1 164.1,642.9 169,641 173.9,639.2 178.7,637.7 183.4,636.3 188.1,635.1 192.7,634.1 197.3,633.3 201.8,632.6 206.3,632.2 210.7,631.9M295.8,683.8 291,677.3 286.3,671.2 281.6,665.5 276.9,660.3 272.3,655.4 267.6,651 263,647 258.4,643.3 253.9,640.1 249.4,637.3 244.9,634.9 240.5,632.8 236.2,631.1 231.9,629.9 227.7,629 223.5,628.4 219.3,628.3 215.3,628.5 211.3,629.1 207.3,630 203.4,631.3 199.6,632.9 195.8,634.9 192.1,637.2 188.5,639.9M82.5,696 88.1,691.1 93.7,686.4 99.2,681.9 104.7,677.6 110.2,673.5 115.7,669.6 121,665.9 126.4,662.4 131.7,659.2 136.9,656.1 142.1,653.2 147.2,650.5 152.3,648 157.3,645.7 162.3,643.6 167.2,641.7 172,640 176.8,638.4 181.6,637.1 186.2,635.9 190.9,635 195.4,634.2 199.9,633.6 204.4,633.2 208.8,632.9M298,682.6 293.3,676.1 288.6,670.1 283.9,664.4 279.2,659.2 274.5,654.4 269.9,650.1 265.3,646.1 260.7,642.5 256.2,639.3 251.7,636.5 247.2,634.1 242.8,632.1 238.5,630.5 234.2,629.3 229.9,628.4 225.7,627.9 221.6,627.8 217.5,628 213.5,628.6 209.6,629.6 205.7,630.9 201.8,632.6 198.1,634.6 194.3,637 190.7,639.7M80.9,696.2 86.5,691.3 92,686.6 97.6,682.2 103.1,677.9 108.5,673.9 113.9,670 119.3,666.4 124.6,662.9 129.9,659.7 135.1,656.6 140.3,653.8 145.4,651.1 150.5,648.7 155.5,646.4 160.5,644.4 165.4,642.5 170.2,640.8 175,639.3 179.7,638 184.4,636.9 189,636 193.6,635.2 198.1,634.6 202.5,634.2 206.9,634M300.3,681.4 295.6,675 290.9,669 286.2,663.4 281.5,658.3 276.8,653.5 272.2,649.2 267.5,645.2 263,641.7 258.4,638.6 253.9,635.8 249.5,633.5 245.1,631.5 240.7,629.9 236.4,628.7 232.2,627.9 228,627.4 223.8,627.4 219.8,627.6 215.8,628.3 211.8,629.3 207.9,630.7 204.1,632.4 200.3,634.4 196.6,636.8 192.9,639.5M79.2,696.4 84.8,691.6 90.4,686.9 95.9,682.5 101.4,678.3 106.8,674.3 112.2,670.5 117.6,666.9 122.9,663.5 128.2,660.3 133.4,657.3 138.5,654.5 143.7,651.9 148.7,649.5 153.7,647.3 158.7,645.2 163.5,643.4 168.4,641.8 173.1,640.3 177.9,639 182.5,637.9 187.1,637 191.7,636.3 196.2,635.8 200.6,635.4 205,635.2M302.5,680.3 297.8,673.9 293.1,668 288.4,662.4 283.7,657.3 279,652.6 274.4,648.3 269.8,644.4 265.2,640.9 260.7,637.8 256.2,635.1 251.7,632.8 247.3,630.9 243,629.4 238.7,628.2 234.4,627.4 230.2,627 226.1,627 222,627.3 218,628 214,629 210.1,630.4 206.3,632.2 202.5,634.2 198.8,636.7 195.1,639.4M77.7,696.7 83.2,691.9 88.8,687.4 94.3,683 99.7,678.8 105.2,674.9 110.5,671.1 115.9,667.5 121.2,664.2 126.4,661 131.6,658.1 136.8,655.3 141.9,652.7 146.9,650.4 151.9,648.2 156.9,646.2 161.7,644.4 166.6,642.8 171.3,641.4 176,640.1 180.7,639.1 185.3,638.2 189.8,637.5 194.3,637 198.8,636.7 203.2,636.5M304.8,679.2 300.1,672.9 295.3,667 290.6,661.5 285.9,656.4 281.3,651.8 276.6,647.5 272,643.7 267.4,640.2 262.9,637.2 258.4,634.5 253.9,632.3 249.5,630.4 245.2,628.9 240.9,627.8 236.6,627 232.4,626.7 228.3,626.6 224.2,627 220.2,627.7 216.2,628.8 212.3,630.2 208.5,632 204.7,634.1 201,636.6 197.3,639.4M76.1,697.1 81.6,692.4 87.2,687.9 92.6,683.5 98.1,679.4 103.5,675.5 108.9,671.8 114.2,668.3 119.5,664.9 124.7,661.8 129.9,658.9 135.1,656.2 140.1,653.7 145.2,651.3 150.2,649.2 155.1,647.2 159.9,645.5 164.8,643.9 169.5,642.5 174.2,641.3 178.9,640.3 183.5,639.4 188,638.8 192.5,638.3 196.9,638 201.3,637.9M307,678.1 302.3,671.9 297.5,666 292.8,660.6 288.1,655.6 283.5,651 278.8,646.8 274.2,643 269.6,639.6 265.1,636.6 260.6,634 256.2,631.7 251.7,629.9 247.4,628.4 243.1,627.4 238.8,626.7 234.6,626.3 230.5,626.4 226.4,626.7 222.4,627.5 218.4,628.6 214.5,630.1 210.7,631.9 206.9,634 203.2,636.5 199.5,639.3M74.5,697.7 80.1,693 85.6,688.5 91,684.2 96.5,680.1 101.9,676.2 107.2,672.6 112.5,669.1 117.8,665.8 123,662.7 128.2,659.8 133.3,657.2 138.4,654.7 143.4,652.4 148.4,650.3 153.3,648.3 158.2,646.6 163,645.1 167.7,643.7 172.4,642.6 177.1,641.6 181.7,640.8 186.2,640.1 190.7,639.7 195.1,639.4 199.5,639.3" fill="none" stroke="#000" stroke-width="0.5" stroke-opacity="0.7"/>
<path d="M74.5,697.7 80.1,693 85.6,688.5 91,684.2 96.5,680.1 101.9,676.2 107.2,672.6 112.5,669.1 117.8,665.8 123,662.7 128.2,659.8 133.3,657.2 138.4,654.7 143.4,652.4 148.4,650.3 153.3,648.3 158.2,646.6 163,645.1 167.7,643.7 172.4,642.6 177.1,641.6 181.7,640.8 186.2,640.1 190.7,639.7 195.1,639.4 199.5,639.3" fill="none" stroke="#000" stroke-width="1.6" stroke-linejoin="round"/>
<path d="M307,678.1 302.3,671.9 297.5,666 292.8,660.6 288.1,655.6 283.5,651 278.8,646.8 274.2,643 269.6,639.6 265.1,636.6 260.6,634 256.2,631.7 251.7,629.9 247.4,628.4 243.1,627.4 238.8,626.7 234.6,626.3 230.5,626.4 226.4,626.7 222.4,627.5 218.4,628.6 214.5,630.1 210.7,631.9 206.9,634 203.2,636.5 199.5,639.3M174.6,794.4 180.5,787.2 186.5,780.2 192.4,773.4 198.3,766.8 204.1,760.5 209.9,754.3 215.7,748.4 221.3,742.6 227,737.1 232.5,731.8 238,726.8 243.4,721.9 248.8,717.3 254,712.8 259.2,708.6 264.3,704.6 269.4,700.8 274.4,697.3 279.2,693.9 284.1,690.8 288.8,687.8 293.5,685.1 298,682.6 302.5,680.3 307,678.1M174.6,794.4 170,785.5 165.3,777.1 160.8,769.1 156.2,761.5 151.7,754.4 147.2,747.6 142.7,741.3 138.3,735.4 134,729.9 129.7,724.9 125.5,720.2 121.4,716 117.3,712.2 113.3,708.8 109.4,705.8 105.5,703.2 101.7,701 98.1,699.2 94.5,697.8 90.9,696.8 87.5,696.2 84.1,696 80.9,696.2 77.7,696.7 74.5,697.7" fill="none" stroke="#000" stroke-width="0.8" stroke-opacity="0.8"/>
<path d="M113.2,669.3 109.9,670.8M115.9,667.5 112.5,669.1M118.5,665.8 115.2,667.4M121.2,664.2 117.8,665.8M123.8,662.6 120.4,664.2M129.9,659.7 126.4,661M126.4,661 123,662.7M132.5,658.1 129,659.5M129,659.5 125.6,661.3M135.1,656.6 131.6,658.1M131.6,658.1 128.2,659.8M137.7,655.2 134.2,656.7M134.2,656.7 130.8,658.5M143.9,652.7 140.3,653.8M140.3,653.8 136.8,655.3M136.8,655.3 133.3,657.2M146.5,651.3 142.9,652.4M142.9,652.4 139.3,654M139.3,654 135.9,655.9M149,649.9 145.4,651.1M145.4,651.1 141.9,652.7M141.9,652.7 138.4,654.7M151.6,648.6 148,649.9M148,649.9 144.4,651.5M144.4,651.5 140.9,653.5M154.1,647.4 150.5,648.7M150.5,648.7 146.9,650.4M146.9,650.4 143.4,652.4M160.4,645.2 156.7,646.2M156.7,646.2 153,647.5M153,647.5 149.4,649.2M149.4,649.2 145.9,651.3M162.9,644.1 159.2,645.1M159.2,645.1 155.5,646.4M155.5,646.4 151.9,648.2M151.9,648.2 148.4,650.3M165.4,642.9 161.7,644M161.7,644 158,645.4M158,645.4 154.4,647.2M154.4,647.2 150.9,649.3M167.9,641.8 164.1,642.9M164.1,642.9 160.5,644.4M160.5,644.4 156.9,646.2M156.9,646.2 153.3,648.3M174.2,640 170.3,640.8M170.3,640.8 166.6,641.9M166.6,641.9 162.9,643.4M162.9,643.4 159.3,645.3M159.3,645.3 155.8,647.5M232.3,627.2 236.7,626.4M176.6,639 172.8,639.8M172.8,639.8 169,641M169,641 165.4,642.5M165.4,642.5 161.7,644.4M225.7,627.9 230.2,627M161.7,644.4 158.2,646.6M230.2,627 234.6,626.3M179.1,638 175.2,638.9M175.2,638.9 171.5,640.1M171.5,640.1 167.8,641.6M219.1,628.8 223.7,627.8M167.8,641.6 164.2,643.6M223.7,627.8 228.1,627M228.1,627 232.6,626.3M181.5,637.1 177.7,638M177.7,638 173.9,639.2M212.4,630 217.1,628.8M173.9,639.2 170.2,640.8M217.1,628.8 221.6,627.8M170.2,640.8 166.6,642.8M221.6,627.8 226.1,627M226.1,627 230.5,626.4M187.8,635.7 183.9,636.2M183.9,636.2 180.1,637.1M205.7,631.3 210.4,630M180.1,637.1 176.3,638.4M210.4,630 215,628.8M176.3,638.4 172.6,640M215,628.8 219.6,627.9M172.6,640 169,642M219.6,627.9 224,627.1M224,627.1 228.5,626.5M190.2,634.8 186.3,635.4M199,632.9 203.7,631.4M186.3,635.4 182.5,636.3M203.7,631.4 208.4,630.1M182.5,636.3 178.7,637.7M208.4,630.1 213,629M178.7,637.7 175,639.3M213,629 217.5,628M175,639.3 171.3,641.4M217.5,628 222,627.3M222,627.3 226.4,626.7M187.4,636.5 192.2,634.6M192.2,634.6 197,633M192.6,634 188.7,634.6M197,633 201.7,631.5M188.7,634.6 184.9,635.6M201.7,631.5 206.4,630.3M184.9,635.6 181.1,636.9M206.4,630.3 211,629.2M181.1,636.9 177.4,638.6M211,629.2 215.5,628.3M177.4,638.6 173.7,640.7M215.5,628.3 220,627.6M220,627.6 224.4,627.1M180.5,638.6 185.4,636.6M185.4,636.6 190.2,634.8M190.2,634.8 195,633.2M195,633.2 191.1,633.8M195,633.2 199.7,631.8M191.1,633.8 187.2,634.9M199.7,631.8 204.4,630.5M187.2,634.9 183.4,636.3M204.4,630.5 209,629.5M183.4,636.3 179.7,638M209,629.5 213.5,628.6M213.5,628.6 218,628M218,628 222.4,627.5M173.6,640.9 178.6,638.7M178.6,638.7 183.4,636.8M183.4,636.8 188.3,635M201.4,632.1 197.4,632.4M188.3,635 193,633.5M197.4,632.4 193.5,633.2M193,633.5 197.8,632.1M193.5,633.2 189.6,634.2M197.8,632.1 202.4,630.9M189.6,634.2 185.8,635.7M202.4,630.9 207,629.9M185.8,635.7 182.1,637.4M207,629.9 211.5,629.1M211.5,629.1 216,628.5M216,628.5 220.4,628M166.7,643.4 171.7,641.1M171.7,641.1 176.6,639M176.6,639 181.5,637.1M181.5,637.1 186.3,635.4M203.7,631.4 199.7,631.8M186.3,635.4 191.1,633.8M199.7,631.8 195.8,632.5M191.1,633.8 195.8,632.5M195.8,632.5 191.9,633.6M195.8,632.5 200.4,631.4M191.9,633.6 188.1,635.1M200.4,631.4 205,630.4M188.1,635.1 184.4,636.9M205,630.4 209.6,629.6M209.6,629.6 214,629M214,629 218.4,628.6M159.7,646.1 164.8,643.7M164.8,643.7 169.8,641.4M169.8,641.4 174.7,639.4M174.7,639.4 179.6,637.5M179.6,637.5 184.4,635.8M206.1,630.7 202.1,631.1M184.4,635.8 189.2,634.3M202.1,631.1 198.1,631.9M189.2,634.3 193.9,633M198.1,631.9 194.3,633.1M193.9,633 198.5,631.9M194.3,633.1 190.4,634.6M198.5,631.9 203.1,631M190.4,634.6 186.7,636.4M203.1,631 207.6,630.2M207.6,630.2 212.1,629.7M212.1,629.7 216.5,629.3M147.6,651.9 152.7,649.1M152.7,649.1 157.8,646.5M157.8,646.5 162.9,644.1M162.9,644.1 167.9,641.8M167.9,641.8 172.8,639.8M172.8,639.8 177.7,638M212.4,630 208.4,630.1M177.7,638 182.5,636.3M208.4,630.1 204.4,630.5M182.5,636.3 187.2,634.9M204.4,630.5 200.4,631.4M187.2,634.9 191.9,633.6M200.4,631.4 196.6,632.5M191.9,633.6 196.6,632.5M196.6,632.5 192.7,634.1M196.6,632.5 201.1,631.6M201.1,631.6 205.7,630.9M205.7,630.9 210.1,630.4M140.5,655.2 145.7,652.2M145.7,652.2 150.9,649.5M150.9,649.5 156,646.9M156,646.9 161,644.5M161,644.5 166,642.3M166,642.3 170.9,640.3M170.9,640.3 175.8,638.6M214.8,629.4 210.7,629.5M175.8,638.6 180.6,636.9M210.7,629.5 206.7,630M180.6,636.9 185.3,635.5M206.7,630 202.7,630.9M185.3,635.5 190,634.3M202.7,630.9 198.9,632.1M190,634.3 194.6,633.3M198.9,632.1 195,633.6M194.6,633.3 199.2,632.4M199.2,632.4 203.7,631.7M133.5,658.7 138.7,655.6M138.7,655.6 143.9,652.7M143.9,652.7 149,649.9M149,649.9 154.1,647.4M154.1,647.4 159.2,645.1M159.2,645.1 164.1,642.9M164.1,642.9 169,641M169,641 173.9,639.2M217.1,628.8 213,629M173.9,639.2 178.7,637.7M213,629 209,629.5M178.7,637.7 183.4,636.3M209,629.5 205,630.4M183.4,636.3 188.1,635.1M205,630.4 201.1,631.6M188.1,635.1 192.7,634.1M201.1,631.6 197.3,633.3M192.7,634.1 197.3,633.3M121,665.9 126.4,662.4M126.4,662.4 131.7,659.2M131.7,659.2 136.9,656.1M136.9,656.1 142.1,653.2M142.1,653.2 147.2,650.5M147.2,650.5 152.3,648M152.3,648 157.3,645.7M157.3,645.7 162.3,643.6M162.3,643.6 167.2,641.7M167.2,641.7 172,640M219.3,628.3 215.3,628.5M172,640 176.8,638.4M215.3,628.5 211.3,629.1M176.8,638.4 181.6,637.1M211.3,629.1 207.3,630M181.6,637.1 186.2,635.9M207.3,630 203.4,631.3M186.2,635.9 190.9,635M203.4,631.3 199.6,632.9M113.9,670 119.3,666.4M119.3,666.4 124.6,662.9M124.6,662.9 129.9,659.7M129.9,659.7 135.1,656.6M135.1,656.6 140.3,653.8M140.3,653.8 145.4,651.1M145.4,651.1 150.5,648.7M150.5,648.7 155.5,646.4M155.5,646.4 160.5,644.4M160.5,644.4 165.4,642.5M225.7,627.9 221.6,627.8M165.4,642.5 170.2,640.8M221.6,627.8 217.5,628M170.2,640.8 175,639.3M217.5,628 213.5,628.6M175,639.3 179.7,638M213.5,628.6 209.6,629.6M179.7,638 184.4,636.9M209.6,629.6 205.7,630.9M101.4,678.3 106.8,674.3M106.8,674.3 112.2,670.5M112.2,670.5 117.6,666.9M117.6,666.9 122.9,663.5M122.9,663.5 128.2,660.3M128.2,660.3 133.4,657.3M133.4,657.3 138.5,654.5M138.5,654.5 143.7,651.9M143.7,651.9 148.7,649.5M148.7,649.5 153.7,647.3M153.7,647.3 158.7,645.2M158.7,645.2 163.5,643.4M228,627.4 223.8,627.4M163.5,643.4 168.4,641.8M223.8,627.4 219.8,627.6M168.4,641.8 173.1,640.3M219.8,627.6 215.8,628.3M173.1,640.3 177.9,639M215.8,628.3 211.8,629.3M211.8,629.3 207.9,630.7M94.3,683 99.7,678.8M99.7,678.8 105.2,674.9M105.2,674.9 110.5,671.1M110.5,671.1 115.9,667.5M115.9,667.5 121.2,664.2M121.2,664.2 126.4,661M126.4,661 131.6,658.1M131.6,658.1 136.8,655.3M136.8,655.3 141.9,652.7M141.9,652.7 146.9,650.4M146.9,650.4 151.9,648.2M151.9,648.2 156.9,646.2M156.9,646.2 161.7,644.4M230.2,627 226.1,627M161.7,644.4 166.6,642.8M226.1,627 222,627.3M166.6,642.8 171.3,641.4M222,627.3 218,628M218,628 214,629M214,629 210.1,630.4M81.6,692.4 87.2,687.9M87.2,687.9 92.6,683.5M92.6,683.5 98.1,679.4M98.1,679.4 103.5,675.5M103.5,675.5 108.9,671.8M108.9,671.8 114.2,668.3M114.2,668.3 119.5,664.9M119.5,664.9 124.7,661.8M124.7,661.8 129.9,658.9M129.9,658.9 135.1,656.2M135.1,656.2 140.1,653.7M140.1,653.7 145.2,651.3M145.2,651.3 150.2,649.2M150.2,649.2 155.1,647.2M236.6,627 232.4,626.7M155.1,647.2 159.9,645.5M232.4,626.7 228.3,626.6M159.9,645.5 164.8,643.9M228.3,626.6 224.2,627M224.2,627 220.2,627.7M220.2,627.7 216.2,628.8M216.2,628.8 212.3,630.2M74.5,697.7 80.1,693M80.1,693 85.6,688.5M85.6,688.5 91,684.2M91,684.2 96.5,680.1M96.5,680.1 101.9,676.2M101.9,676.2 107.2,672.6M107.2,672.6 112.5,669.1M112.5,669.1 117.8,665.8M117.8,665.8 123,662.7M123,662.7 128.2,659.8M128.2,659.8 133.3,657.2M133.3,657.2 138.4,654.7M138.4,654.7 143.4,652.4M143.4,652.4 148.4,650.3M148.4,650.3 153.3,648.3M238.8,626.7 234.6,626.3M153.3,648.3 158.2,646.6M234.6,626.3 230.5,626.4M230.5,626.4 226.4,626.7M226.4,626.7 222.4,627.5M222.4,627.5 218.4,628.6" fill="none" stroke="#000" stroke-width="1.2"/>
<ellipse cx="189.3" cy="655.5" rx="2.2" ry="2.6" fill="#701010" stroke="#200" stroke-width="0.8"/>
<circle cx="77.3" cy="732.5" r="1.4"/>
<text x="73" y="731.2" font-size="8.5" text-anchor="end" font-weight="bold" stroke="#000" stroke-width="0.2" fill="#000">0</text>
<circle cx="75.2" cy="706.4" r="1.4"/>
<text x="70.9" y="705.1" font-size="8.5" text-anchor="end" font-weight="bold" stroke="#000" stroke-width="0.2" fill="#000">5</text>
<circle cx="73.2" cy="680.3" r="1.4"/>
<text x="68.9" y="679" font-size="8.5" text-anchor="end" font-weight="bold" stroke="#000" stroke-width="0.2" fill="#000">10</text>
<circle cx="71.1" cy="654.1" r="1.4"/>
<text x="66.8" y="652.8" font-size="8.5" text-anchor="end" font-weight="bold" stroke="#000" stroke-width="0.2" fill="#000">15</text>
<circle cx="69.0" cy="628.0" r="1.4"/>
<text x="64.7" y="626.7" font-size="8.5" text-anchor="end" font-weight="bold" stroke="#000" stroke-width="0.2" fill="#000">20</text>
<circle cx="174.4" cy="841.5" r="1.4"/>
<text x="178.2" y="849" font-size="7.7" font-weight="bold" stroke="#000" stroke-width="0.2" fill="#000">2.50</text>
<circle cx="205.5" cy="826.0" r="1.4"/>
<text x="209.3" y="833.5" font-size="7.7" font-weight="bold" stroke="#000" stroke-width="0.2" fill="#000">3.00</text>
<circle cx="236.5" cy="810.6" r="1.4"/>
<text x="240.3" y="818.1" font-size="7.7" font-weight="bold" stroke="#000" stroke-width="0.2" fill="#000">3.50</text>
<circle cx="267.6" cy="795.2" r="1.4"/>
<text x="271.4" y="802.7" font-size="7.7" font-weight="bold" stroke="#000" stroke-width="0.2" fill="#000">4.00</text>
<circle cx="298.6" cy="779.7" r="1.4"/>
<text x="302.4" y="787.2" font-size="7.7" font-weight="bold" stroke="#000" stroke-width="0.2" fill="#000">4.50</text>
<circle cx="174.4" cy="841.5" r="1.4"/>
<text x="170.7" y="849.1" font-size="7.7" text-anchor="end" font-weight="bold" stroke="#000" stroke-width="0.2" fill="#000">4.50</text>
<circle cx="150.8" cy="822.7" r="1.4"/>
<text x="147.1" y="830.3" font-size="7.7" text-anchor="end" font-weight="bold" stroke="#000" stroke-width="0.2" fill="#000">7.50</text>
<circle cx="127.2" cy="803.9" r="1.4"/>
<text x="123.5" y="811.5" font-size="7.7" text-anchor="end" font-weight="bold" stroke="#000" stroke-width="0.2" fill="#000">10.50</text>
<circle cx="103.6" cy="785.0" r="1.4"/>
<text x="99.9" y="792.6" font-size="7.7" text-anchor="end" font-weight="bold" stroke="#000" stroke-width="0.2" fill="#000">13.50</text>
<circle cx="80.0" cy="766.2" r="1.4"/>
<text x="76.3" y="773.8" font-size="7.7" text-anchor="end" font-weight="bold" stroke="#000" stroke-width="0.2" fill="#000">16.50</text>
<rect x="205.5" y="833.5" width="137.3" height="13" fill="#fff"/>
<text x="208" y="843" font-size="11.4" textLength="133.3" lengthAdjust="spacingAndGlyphs" stroke="#000" stroke-width="0.55" fill="#000">B: Tunacondensate (% w/v)</text>
<text x="44" y="830" font-size="11.4" textLength="76.3" lengthAdjust="spacingAndGlyphs" stroke="#000" stroke-width="0.55" fill="#000">C: MSG (% w/v)</text>
<text transform="translate(39.5 699.8) rotate(-90)" font-size="11.2" text-anchor="middle" textLength="58" lengthAdjust="spacingAndGlyphs" style="white-space:pre" stroke="#000" stroke-width="0.55" fill="#000">GABA  (g/L)</text>
<rect x="438.9" y="22.5" width="212.8" height="210.4" fill="url(#g4)"/>
<g clip-path="url(#c4)" fill="none" stroke="#141400" stroke-width="1.05" stroke-opacity="0.9">
<polygon points="866.4,50.7 868.4,41.2 869.7,31.7 870.3,22.3 870.1,12.9 869.2,3.6 867.5,-5.5 865.1,-14.5 862,-23.3 858.1,-31.9 853.6,-40.2 848.3,-48.3 842.4,-56.2 835.8,-63.7 828.5,-71 820.7,-77.9 812.2,-84.4 803.1,-90.6 793.5,-96.4 783.3,-101.8 772.6,-106.8 761.5,-111.3 749.9,-115.4 737.9,-119.1 725.5,-122.3 712.8,-125 699.8,-127.2 686.5,-128.9 672.9,-130.2 659.2,-130.9 645.3,-131.2 631.2,-130.9 617.1,-130.2 602.9,-128.9 588.7,-127.2 574.6,-125 560.5,-122.3 546.5,-119.1 532.7,-115.4 519,-111.3 505.6,-106.8 492.4,-101.8 479.5,-96.4 466.9,-90.6 454.7,-84.4 442.9,-77.9 431.6,-71 420.7,-63.7 410.2,-56.2 400.3,-48.3 391,-40.2 382.2,-31.9 374,-23.3 366.4,-14.5 359.5,-5.5 353.2,3.6 347.6,12.9 342.7,22.3 338.5,31.7 335,41.2 332.2,50.7 330.2,60.2 328.9,69.7 328.3,79.2 328.5,88.5 329.4,97.8 331.1,106.9 333.5,115.9 336.6,124.7 340.5,133.3 345,141.6 350.3,149.8 356.2,157.6 362.8,165.2 370.1,172.4 378,179.3 386.5,185.9 395.5,192 405.2,197.8 415.3,203.2 426,208.2 437.1,212.8 448.7,216.9 460.7,220.5 473.1,223.7 485.8,226.4 498.8,228.6 512.1,230.3 525.7,231.6 539.4,232.3 553.4,232.6 567.4,232.3 581.5,231.6 595.7,230.3 609.9,228.6 624.1,226.4 638.1,223.7 652.1,220.5 666,216.9 679.6,212.8 693.1,208.2 706.2,203.2 719.1,197.8 731.7,192 743.9,185.9 755.7,179.3 767.1,172.4 778,165.2 788.4,157.6 798.3,149.8 807.6,141.6 816.4,133.3 824.6,124.7 832.2,115.9 839.1,106.9 845.4,97.8 851,88.5 855.9,79.2 860.1,69.7 863.6,60.2"/>
<polygon points="825.7,50.7 827.4,42.6 828.5,34.6 829,26.6 828.8,18.7 828,10.8 826.6,3.1 824.6,-4.5 821.9,-12 818.7,-19.3 814.8,-26.4 810.4,-33.2 805.3,-39.9 799.7,-46.3 793.6,-52.4 786.9,-58.3 779.7,-63.8 772,-69.1 763.9,-74 755.3,-78.6 746.2,-82.8 736.8,-86.6 727,-90.1 716.8,-93.2 706.3,-95.9 695.5,-98.2 684.5,-100.1 673.2,-101.5 661.7,-102.6 650.1,-103.2 638.3,-103.4 626.4,-103.2 614.4,-102.6 602.4,-101.5 590.3,-100.1 578.3,-98.2 566.4,-95.9 554.5,-93.2 542.8,-90.1 531.2,-86.6 519.9,-82.8 508.7,-78.6 497.8,-74 487.1,-69.1 476.8,-63.8 466.8,-58.3 457.2,-52.4 447.9,-46.3 439.1,-39.9 430.7,-33.2 422.7,-26.4 415.3,-19.3 408.4,-12 401.9,-4.5 396.1,3.1 390.7,10.8 386,18.7 381.8,26.6 378.3,34.6 375.3,42.6 372.9,50.7 371.2,58.8 370.1,66.8 369.6,74.8 369.8,82.8 370.6,90.6 372,98.3 374,106 376.7,113.4 379.9,120.7 383.8,127.8 388.3,134.7 393.3,141.3 398.9,147.7 405,153.9 411.7,159.7 418.9,165.3 426.6,170.5 434.8,175.4 443.4,180 452.4,184.2 461.8,188.1 471.7,191.5 481.8,194.6 492.3,197.3 503.1,199.6 514.2,201.5 525.4,203 536.9,204 548.6,204.6 560.4,204.9 572.3,204.6 584.2,204 596.3,203 608.3,201.5 620.3,199.6 632.2,197.3 644.1,194.6 655.8,191.5 667.4,188.1 678.8,184.2 689.9,180 700.9,175.4 711.5,170.5 721.8,165.3 731.8,159.7 741.5,153.9 750.7,147.7 759.6,141.3 767.9,134.7 775.9,127.8 783.3,120.7 790.3,113.4 796.7,106 802.6,98.3 807.9,90.6 812.6,82.8 816.8,74.8 820.4,66.8 823.3,58.8"/>
<polygon points="775.8,50.7 777.1,44.4 778,38.2 778.4,31.9 778.3,25.7 777.6,19.6 776.5,13.6 775,7.6 772.9,1.8 770.4,-3.8 767.3,-9.4 763.9,-14.7 759.9,-19.9 755.6,-24.9 750.8,-29.7 745.6,-34.3 740,-38.6 734,-42.7 727.6,-46.5 720.9,-50.1 713.9,-53.4 706.5,-56.4 698.8,-59.1 690.9,-61.5 682.7,-63.6 674.3,-65.4 665.7,-66.8 656.9,-68 648,-68.8 638.9,-69.3 629.7,-69.5 620.4,-69.3 611.1,-68.8 601.7,-68 592.3,-66.8 583,-65.4 573.7,-63.6 564.4,-61.5 555.3,-59.1 546.2,-56.4 537.4,-53.4 528.7,-50.1 520.1,-46.5 511.8,-42.7 503.8,-38.6 496,-34.3 488.5,-29.7 481.3,-24.9 474.4,-19.9 467.8,-14.7 461.7,-9.4 455.8,-3.8 450.4,1.8 445.4,7.6 440.8,13.6 436.7,19.6 433,25.7 429.7,31.9 427,38.2 424.7,44.4 422.8,50.7 421.5,57 420.6,63.3 420.2,69.5 420.4,75.7 421,81.8 422.1,87.8 423.7,93.8 425.7,99.6 428.3,105.3 431.3,110.8 434.8,116.2 438.7,121.4 443,126.3 447.8,131.1 453,135.7 458.7,140 464.6,144.1 471,147.9 477.7,151.5 484.8,154.8 492.1,157.8 499.8,160.5 507.7,162.9 515.9,165 524.3,166.8 532.9,168.3 541.7,169.4 550.7,170.2 559.8,170.7 569,170.9 578.2,170.7 587.6,170.2 596.9,169.4 606.3,168.3 615.7,166.8 625,165 634.2,162.9 643.4,160.5 652.4,157.8 661.3,154.8 670,151.5 678.5,147.9 686.8,144.1 694.8,140 702.6,135.7 710.2,131.1 717.4,126.3 724.2,121.4 730.8,116.2 737,110.8 742.8,105.3 748.2,99.6 753.2,93.8 757.8,87.8 761.9,81.8 765.6,75.7 768.9,69.5 771.7,63.3 774,57"/>
<polygon points="704.5,50.7 705.3,47 705.8,43.2 706,39.5 705.9,35.8 705.6,32.2 704.9,28.6 704,25.1 702.7,21.6 701.2,18.2 699.4,14.9 697.3,11.7 695,8.6 692.4,5.7 689.6,2.8 686.5,0.1 683.1,-2.5 679.5,-4.9 675.7,-7.2 671.7,-9.3 667.6,-11.3 663.2,-13.1 658.6,-14.7 653.9,-16.1 649,-17.4 644,-18.4 638.9,-19.3 633.6,-20 628.3,-20.5 622.9,-20.8 617.4,-20.9 611.9,-20.8 606.3,-20.5 600.7,-20 595.1,-19.3 589.6,-18.4 584,-17.4 578.5,-16.1 573.1,-14.7 567.7,-13.1 562.4,-11.3 557.2,-9.3 552.1,-7.2 547.2,-4.9 542.4,-2.5 537.8,0.1 533.3,2.8 529,5.7 524.9,8.6 521,11.7 517.3,14.9 513.8,18.2 510.6,21.6 507.6,25.1 504.9,28.6 502.4,32.2 500.2,35.8 498.3,39.5 496.6,43.2 495.3,47 494.2,50.7 493.4,54.5 492.9,58.2 492.6,61.9 492.7,65.6 493.1,69.2 493.7,72.8 494.7,76.4 495.9,79.8 497.4,83.2 499.2,86.5 501.3,89.7 503.6,92.8 506.2,95.8 509.1,98.6 512.2,101.3 515.5,103.9 519.1,106.4 522.9,108.6 526.9,110.8 531.1,112.7 535.5,114.5 540,116.1 544.7,117.6 549.6,118.8 554.6,119.9 559.8,120.7 565,121.4 570.3,121.9 575.7,122.2 581.2,122.3 586.8,122.2 592.3,121.9 597.9,121.4 603.5,120.7 609.1,119.9 614.6,118.8 620.1,117.6 625.6,116.1 630.9,114.5 636.2,112.7 641.4,110.8 646.5,108.6 651.4,106.4 656.2,103.9 660.9,101.3 665.3,98.6 669.6,95.8 673.7,92.8 677.6,89.7 681.3,86.5 684.8,83.2 688,79.8 691,76.4 693.7,72.8 696.2,69.2 698.4,65.6 700.3,61.9 702,58.2 703.4,54.5"/>
</g>
<rect x="438.9" y="22.5" width="212.8" height="210.4" fill="none" stroke="#1a2030" stroke-width="0.7" stroke-opacity="0.8"/>
<text x="438.9" y="247.7" font-size="6.4" text-anchor="middle" font-weight="bold">2.00</text>
<text x="492.1" y="247.7" font-size="6.4" text-anchor="middle" font-weight="bold">2.50</text>
<text x="545.3" y="247.7" font-size="6.4" text-anchor="middle" font-weight="bold">3.00</text>
<text x="598.5" y="247.7" font-size="6.4" text-anchor="middle" font-weight="bold">3.50</text>
<text x="651.7" y="247.7" font-size="6.4" text-anchor="middle" font-weight="bold">4.00</text>
<text x="429.9" y="235.2" font-size="6.4" text-anchor="end" font-weight="bold">2.50</text>
<text x="429.9" y="182.6" font-size="6.4" text-anchor="end" font-weight="bold">3.00</text>
<text x="429.9" y="130" font-size="6.4" text-anchor="end" font-weight="bold">3.50</text>
<text x="429.9" y="77.4" font-size="6.4" text-anchor="end" font-weight="bold">4.00</text>
<text x="429.9" y="24.8" font-size="6.4" text-anchor="end" font-weight="bold">4.50</text>
<path d="M438.9 232.9v4M492.1 232.9v4M545.3 232.9v4M598.5 232.9v4M651.7 232.9v4M438.9 232.9h-6M438.9 180.3h-6M438.9 127.7h-6M438.9 75.1h-6M438.9 22.5h-6" stroke="#6040a0" stroke-width="1" stroke-opacity="0.75" fill="none"/>
<text x="511.4" y="17.8" font-size="12" textLength="68.6" lengthAdjust="spacingAndGlyphs" style="white-space:pre" stroke="#111" stroke-width="0.35">GABA  (g/L)</text>
<text x="500.9" y="275.1" font-size="8" textLength="89" lengthAdjust="spacingAndGlyphs" fill="#222">A: Cane sugar (% w/v)</text>
<text transform="translate(401 126.8) rotate(-90)" font-size="8" text-anchor="middle" font-weight="bold" textLength="109" lengthAdjust="spacingAndGlyphs" fill="#222">B: Tunacondensate (% w/v)</text>
<circle cx="544.4" cy="128.0" r="1.6" fill="#401010" stroke="#000" stroke-width="0.8"/>
<text x="542.1" y="129.7" font-size="6.8" text-anchor="end" font-weight="bold">6</text>
<rect x="524.0" y="106.0" width="10.0" height="8" fill="#fff" stroke="#20b0c0" stroke-width="0.6" rx="1"/>
<text x="529" y="112.5" font-size="6.8" text-anchor="middle" font-weight="bold" fill="#20b0c0">16</text>
<rect x="529.5" y="161.5" width="10.0" height="8" fill="#fff" stroke="#2060c0" stroke-width="0.6" rx="1"/>
<text x="534.5" y="168" font-size="6.8" text-anchor="middle" font-weight="bold" fill="#2060c0">14</text>
<rect x="529.5" y="196.0" width="10.0" height="8" fill="#fff" stroke="#3030c0" stroke-width="0.6" rx="1"/>
<text x="534.5" y="202.5" font-size="6.8" text-anchor="middle" font-weight="bold" fill="#3030c0">12</text>
<rect x="534.0" y="224.0" width="10.0" height="8" fill="#fff" stroke="#7020a0" stroke-width="0.6" rx="1"/>
<text x="539" y="230.5" font-size="6.8" text-anchor="middle" font-weight="bold" fill="#7020a0">10</text>
<rect x="440.0" y="311.0" width="211.5" height="209.0" fill="url(#g5)"/>
<g clip-path="url(#c5)" fill="none" stroke="#141400" stroke-width="1.05" stroke-opacity="0.9">
<polygon points="844.6,410.5 844.9,403.8 844.5,397.2 843.4,390.6 841.6,384.1 839,377.7 835.7,371.3 831.7,365 826.9,358.9 821.5,352.9 815.4,347.1 808.7,341.4 801.3,336 793.2,330.7 784.6,325.6 775.4,320.8 765.7,316.3 755.4,312 744.6,307.9 733.4,304.2 721.7,300.7 709.6,297.5 697.2,294.7 684.4,292.1 671.3,289.9 658,288 644.4,286.5 630.6,285.3 616.7,284.4 602.6,283.9 588.5,283.7 574.4,283.9 560.2,284.4 546.1,285.3 532,286.5 518.1,288 504.3,289.9 490.8,292.1 477.4,294.7 464.3,297.5 451.5,300.7 439.1,304.2 427,307.9 415.3,312 404.1,316.3 393.3,320.8 383.1,325.6 373.3,330.7 364.1,336 355.5,341.4 347.5,347.1 340.1,352.9 333.3,358.9 327.2,365 321.8,371.3 317.1,377.7 313.1,384.1 309.8,390.6 307.2,397.2 305.3,403.8 304.2,410.5 303.9,417.1 304.2,423.7 305.4,430.3 307.2,436.8 309.8,443.3 313.1,449.7 317.1,455.9 321.8,462 327.3,468 333.4,473.9 340.1,479.5 347.5,485 355.6,490.3 364.2,495.3 373.4,500.1 383.1,504.7 393.4,509 404.2,513 415.4,516.8 427.1,520.3 439.2,523.4 451.6,526.3 464.4,528.8 477.5,531 490.8,532.9 504.4,534.5 518.2,535.7 532.1,536.6 546.2,537.1 560.3,537.3 574.4,537.1 588.6,536.6 602.7,535.7 616.8,534.5 630.7,532.9 644.4,531 658,528.8 671.4,526.3 684.5,523.4 697.2,520.3 709.7,516.8 721.8,513 733.4,509 744.7,504.7 755.4,500.1 765.7,495.3 775.5,490.3 784.7,485 793.3,479.5 801.3,473.9 808.7,468 815.5,462 821.5,455.9 827,449.7 831.7,443.3 835.7,436.8 839,430.3 841.6,423.7 843.4,417.1"/>
<polygon points="807.7,410.5 808,404.7 807.7,399 806.7,393.4 805.1,387.7 802.9,382.1 800,376.7 796.5,371.2 792.5,366 787.8,360.8 782.5,355.7 776.7,350.9 770.3,346.1 763.3,341.6 755.9,337.2 748,333.1 739.5,329.1 730.7,325.4 721.4,321.9 711.7,318.7 701.6,315.7 691.2,312.9 680.4,310.5 669.4,308.3 658.1,306.4 646.5,304.7 634.8,303.4 622.9,302.4 610.9,301.6 598.8,301.2 586.6,301 574.4,301.2 562.1,301.6 549.9,302.4 537.8,303.4 525.8,304.7 513.9,306.4 502.2,308.3 490.7,310.5 479.4,312.9 468.3,315.7 457.6,318.7 447.1,321.9 437.1,325.4 427.4,329.1 418.1,333.1 409.2,337.2 400.8,341.6 392.8,346.1 385.4,350.9 378.5,355.7 372.1,360.8 366.2,366 361,371.2 356.3,376.7 352.2,382.1 348.8,387.7 345.9,393.4 343.7,399 342.1,404.7 341.1,410.5 340.8,416.2 341.1,421.9 342.1,427.6 343.7,433.2 345.9,438.8 348.8,444.3 352.2,449.7 356.3,455 361,460.2 366.3,465.2 372.1,470.1 378.5,474.8 385.4,479.4 392.9,483.7 400.8,487.9 409.2,491.8 418.1,495.5 427.4,499 437.1,502.3 447.2,505.3 457.6,508 468.4,510.5 479.4,512.7 490.7,514.6 502.2,516.2 514,517.6 525.9,518.6 537.9,519.3 550,519.8 562.2,519.9 574.4,519.8 586.7,519.3 598.8,518.6 611,517.6 623,516.2 634.9,514.6 646.6,512.7 658.1,510.5 669.4,508 680.5,505.3 691.2,502.3 701.6,499 711.7,495.5 721.4,491.8 730.7,487.9 739.6,483.7 748,479.4 755.9,474.8 763.4,470.1 770.3,465.2 776.7,460.2 782.5,455 787.8,449.7 792.5,444.3 796.6,438.8 800,433.2 802.9,427.6 805.1,421.9 806.7,416.2"/>
<polygon points="763.7,410.5 764,405.8 763.7,401.2 762.9,396.6 761.6,392 759.8,387.5 757.5,383 754.7,378.6 751.4,374.3 747.6,370.1 743.3,366.1 738.6,362.1 733.4,358.3 727.8,354.6 721.7,351 715.3,347.7 708.4,344.5 701.2,341.4 693.7,338.6 685.8,336 677.6,333.5 669.2,331.3 660.4,329.3 651.5,327.5 642.3,326 633,324.7 623.4,323.6 613.8,322.7 604,322.1 594.2,321.8 584.3,321.6 574.4,321.8 564.4,322.1 554.5,322.7 544.7,323.6 534.9,324.7 525.3,326 515.8,327.5 506.4,329.3 497.3,331.3 488.3,333.5 479.6,336 471.1,338.6 462.9,341.4 455.1,344.5 447.5,347.7 440.3,351 433.5,354.6 427,358.3 421,362.1 415.4,366.1 410.2,370.1 405.5,374.3 401.2,378.6 397.4,383 394.1,387.5 391.3,392 388.9,396.6 387.1,401.2 385.8,405.8 385.1,410.5 384.8,415.1 385.1,419.8 385.9,424.4 387.2,428.9 389,433.5 391.3,437.9 394.1,442.3 397.4,446.6 401.2,450.8 405.5,454.9 410.2,458.9 415.4,462.7 421,466.4 427.1,469.9 433.5,473.3 440.4,476.5 447.6,479.5 455.1,482.4 463,485 471.2,487.4 479.6,489.6 488.4,491.6 497.3,493.4 506.5,495 515.8,496.3 525.4,497.4 535,498.2 544.8,498.8 554.6,499.2 564.5,499.3 574.4,499.2 584.3,498.8 594.2,498.2 604.1,497.4 613.8,496.3 623.5,495 633,493.4 642.4,491.6 651.5,489.6 660.5,487.4 669.2,485 677.7,482.4 685.8,479.5 693.7,476.5 701.3,473.3 708.5,469.9 715.3,466.4 721.7,462.7 727.8,458.9 733.4,454.9 738.6,450.8 743.3,446.6 747.6,442.3 751.4,437.9 754.7,433.5 757.5,428.9 759.8,424.4 761.6,419.8 762.9,415.1"/>
<polygon points="705.8,410.5 706,407.2 705.8,404 705.3,400.8 704.4,397.7 703.1,394.5 701.5,391.4 699.5,388.4 697.2,385.4 694.6,382.5 691.6,379.6 688.4,376.9 684.8,374.2 680.8,371.7 676.7,369.2 672.2,366.9 667.4,364.6 662.4,362.5 657.2,360.6 651.7,358.8 646.1,357.1 640.2,355.5 634.1,354.1 627.9,352.9 621.5,351.8 615,350.9 608.4,350.2 601.7,349.6 595,349.1 588.1,348.9 581.3,348.8 574.4,348.9 567.5,349.1 560.6,349.6 553.8,350.2 547,350.9 540.3,351.8 533.7,352.9 527.2,354.1 520.8,355.5 514.6,357.1 508.6,358.8 502.7,360.6 497,362.5 491.6,364.6 486.3,366.9 481.3,369.2 476.6,371.7 472.1,374.2 467.9,376.9 464,379.6 460.4,382.5 457.1,385.4 454.2,388.4 451.5,391.4 449.2,394.5 447.3,397.7 445.7,400.8 444.4,404 443.5,407.2 443,410.5 442.8,413.7 443,416.9 443.5,420.1 444.4,423.3 445.7,426.4 447.3,429.5 449.2,432.6 451.5,435.6 454.2,438.5 457.1,441.3 460.4,444.1 464,446.7 467.9,449.3 472.1,451.7 476.6,454.1 481.4,456.3 486.3,458.4 491.6,460.4 497.1,462.2 502.7,463.9 508.6,465.4 514.7,466.8 520.9,468.1 527.2,469.1 533.7,470 540.4,470.8 547.1,471.4 553.8,471.8 560.7,472.1 567.5,472.1 574.4,472.1 581.3,471.8 588.2,471.4 595,470.8 601.8,470 608.5,469.1 615.1,468.1 621.6,466.8 627.9,465.4 634.2,463.9 640.2,462.2 646.1,460.4 651.8,458.4 657.2,456.3 662.5,454.1 667.5,451.7 672.2,449.3 676.7,446.7 680.9,444.1 684.8,441.3 688.4,438.5 691.7,435.6 694.6,432.6 697.3,429.5 699.6,426.4 701.5,423.3 703.1,420.1 704.4,416.9 705.3,413.7"/>
</g>
<rect x="440.0" y="311.0" width="211.5" height="209.0" fill="none" stroke="#1a2030" stroke-width="0.7" stroke-opacity="0.8"/>
<text x="440" y="534.8" font-size="6.4" text-anchor="middle" font-weight="bold">2.00</text>
<text x="492.9" y="534.8" font-size="6.4" text-anchor="middle" font-weight="bold">2.50</text>
<text x="545.8" y="534.8" font-size="6.4" text-anchor="middle" font-weight="bold">3.00</text>
<text x="598.6" y="534.8" font-size="6.4" text-anchor="middle" font-weight="bold">3.50</text>
<text x="651.5" y="534.8" font-size="6.4" text-anchor="middle" font-weight="bold">4.00</text>
<text x="431" y="522.3" font-size="6.4" text-anchor="end" font-weight="bold">4.50</text>
<text x="431" y="470.1" font-size="6.4" text-anchor="end" font-weight="bold">7.50</text>
<text x="431" y="417.8" font-size="6.4" text-anchor="end" font-weight="bold">10.50</text>
<text x="431" y="365.6" font-size="6.4" text-anchor="end" font-weight="bold">13.50</text>
<text x="431" y="313.3" font-size="6.4" text-anchor="end" font-weight="bold">16.50</text>
<path d="M440.0 520.0v4M492.9 520.0v4M545.8 520.0v4M598.6 520.0v4M651.5 520.0v4M440.0 520.0h-6M440.0 467.8h-6M440.0 415.5h-6M440.0 363.2h-6M440.0 311.0h-6" stroke="#6040a0" stroke-width="1" stroke-opacity="0.75" fill="none"/>
<text x="512.6" y="306.8" font-size="12" textLength="68.6" lengthAdjust="spacingAndGlyphs" style="white-space:pre" stroke="#111" stroke-width="0.35">GABA  (g/L)</text>
<text x="501.7" y="562.1" font-size="8" textLength="89" lengthAdjust="spacingAndGlyphs" fill="#222">A: Cane sugar (% w/v)</text>
<text transform="translate(404 415.2) rotate(-90)" font-size="8" text-anchor="middle" font-weight="bold" textLength="64.5" lengthAdjust="spacingAndGlyphs" fill="#222">C: MSG (% w/v)</text>
<circle cx="544.9" cy="415.8" r="1.6" fill="#401010" stroke="#000" stroke-width="0.8"/>
<text x="542.5" y="417.5" font-size="6.8" text-anchor="end" font-weight="bold">6</text>
<rect x="440.5" y="397.0" width="10.0" height="8" fill="#fff" stroke="#2060c0" stroke-width="0.6" rx="1"/>
<text x="445.5" y="403.5" font-size="6.8" text-anchor="middle" font-weight="bold" fill="#2060c0">14</text>
<rect x="530.0" y="318.5" width="10.0" height="8" fill="#fff" stroke="#3030c0" stroke-width="0.6" rx="1"/>
<text x="535" y="325" font-size="6.8" text-anchor="middle" font-weight="bold" fill="#3030c0">12</text>
<rect x="536.0" y="490.0" width="10.0" height="8" fill="#fff" stroke="#3030c0" stroke-width="0.6" rx="1"/>
<text x="541" y="496.5" font-size="6.8" text-anchor="middle" font-weight="bold" fill="#3030c0">12</text>
<rect x="456.0" y="311.5" width="10.0" height="8" fill="#fff" stroke="#7020a0" stroke-width="0.6" rx="1"/>
<text x="461" y="318" font-size="6.8" text-anchor="middle" font-weight="bold" fill="#7020a0">10</text>
<rect x="536.0" y="511.5" width="10.0" height="8" fill="#fff" stroke="#7020a0" stroke-width="0.6" rx="1"/>
<text x="541" y="518" font-size="6.8" text-anchor="middle" font-weight="bold" fill="#7020a0">10</text>
<rect x="444.0" y="602.3" width="213.0" height="210.1" fill="url(#g6)"/>
<g clip-path="url(#c6)" fill="none" stroke="#141400" stroke-width="1.05" stroke-opacity="0.9">
<polygon points="876.1,715.6 872.4,706.1 868,696.7 863,687.4 857.3,678.1 850.9,669 843.9,659.9 836.3,651 828.1,642.3 819.4,633.8 810.1,625.5 800.3,617.5 790,609.7 779.2,602.3 768,595.1 756.4,588.2 744.4,581.8 732.1,575.6 719.5,569.9 706.6,564.6 693.5,559.6 680.2,555.1 666.7,551.1 653.1,547.5 639.5,544.3 625.7,541.6 612,539.4 598.3,537.7 584.6,536.5 571,535.8 557.6,535.5 544.4,535.8 531.3,536.5 518.5,537.7 506,539.4 493.8,541.6 482,544.3 470.5,547.5 459.5,551.1 448.9,555.1 438.8,559.6 429.1,564.6 420,569.9 411.5,575.6 403.5,581.8 396.1,588.2 389.3,595.1 383.2,602.3 377.7,609.7 372.9,617.5 368.8,625.5 365.4,633.8 362.6,642.3 360.6,651 359.3,659.9 358.7,669 358.8,678.1 359.7,687.4 361.3,696.7 363.5,706.1 366.5,715.6 370.2,725 374.6,734.4 379.6,743.7 385.3,753 391.7,762.2 398.7,771.2 406.2,780.1 414.4,788.8 423.2,797.3 432.5,805.6 442.3,813.6 452.6,821.4 463.4,828.9 474.6,836 486.1,842.9 498.1,849.4 510.4,855.5 523,861.2 535.9,866.6 549,871.5 562.3,876 575.8,880.1 589.4,883.7 603.1,886.8 616.8,889.5 630.6,891.7 644.3,893.4 658,894.6 671.5,895.4 684.9,895.6 698.2,895.4 711.2,894.6 724,893.4 736.5,891.7 748.7,889.5 760.6,886.8 772,883.7 783.1,880.1 793.7,876 803.8,871.5 813.4,866.6 822.5,861.2 831.1,855.5 839.1,849.4 846.5,842.9 853.2,836 859.3,828.9 864.8,821.4 869.6,813.6 873.8,805.6 877.2,797.3 879.9,788.8 881.9,780.1 883.3,771.2 883.9,762.2 883.7,753 882.9,743.7 881.3,734.4 879,725"/>
<polygon points="858.3,715.6 854.9,706.8 850.8,698.1 846.1,689.4 840.8,680.7 834.9,672.2 828.4,663.8 821.3,655.5 813.7,647.4 805.6,639.5 796.9,631.8 787.8,624.3 778.2,617.1 768.2,610.1 757.8,603.5 747,597.1 735.9,591.1 724.4,585.4 712.7,580 700.7,575.1 688.5,570.5 676.1,566.3 663.6,562.5 650.9,559.2 638.2,556.2 625.4,553.8 612.6,551.7 599.9,550.1 587.2,549 574.5,548.3 562,548 549.7,548.3 537.6,549 525.7,550.1 514.1,551.7 502.7,553.8 491.7,556.2 481,559.2 470.8,562.5 460.9,566.3 451.5,570.5 442.5,575.1 434,580 426.1,585.4 418.7,591.1 411.8,597.1 405.5,603.5 399.8,610.1 394.7,617.1 390.2,624.3 386.4,631.8 383.2,639.5 380.6,647.4 378.8,655.5 377.5,663.8 377,672.2 377.1,680.7 377.9,689.4 379.4,698.1 381.5,706.8 384.2,715.6 387.7,724.3 391.7,733.1 396.4,741.8 401.7,750.4 407.7,758.9 414.2,767.3 421.2,775.6 428.8,783.7 437,791.6 445.6,799.3 454.7,806.8 464.3,814 474.3,821 484.8,827.7 495.6,834 506.7,840.1 518.1,845.8 529.9,851.1 541.9,856.1 554.1,860.6 566.4,864.8 579,868.6 591.6,872 604.4,874.9 617.1,877.4 629.9,879.4 642.7,881 655.4,882.2 668,882.9 680.5,883.1 692.8,882.9 705,882.2 716.9,881 728.5,879.4 739.8,877.4 750.9,874.9 761.5,872 771.8,868.6 781.7,864.8 791.1,860.6 800.1,856.1 808.5,851.1 816.5,845.8 823.9,840.1 830.8,834 837.1,827.7 842.8,821 847.9,814 852.3,806.8 856.2,799.3 859.4,791.6 861.9,783.7 863.8,775.6 865,767.3 865.6,758.9 865.5,750.4 864.7,741.8 863.2,733.1 861.1,724.3"/>
<polygon points="839.1,715.6 836,707.5 832.3,699.5 827.9,691.5 823.1,683.6 817.6,675.7 811.7,668 805.2,660.4 798.2,652.9 790.7,645.7 782.7,638.6 774.3,631.7 765.5,625.1 756.3,618.7 746.8,612.5 736.8,606.7 726.6,601.1 716.1,595.9 705.3,591 694.3,586.4 683.1,582.2 671.7,578.4 660.2,574.9 648.5,571.8 636.8,569.1 625.1,566.8 613.3,565 601.6,563.5 589.9,562.4 578.3,561.8 566.8,561.6 555.5,561.8 544.4,562.4 533.4,563.5 522.7,565 512.3,566.8 502.2,569.1 492.4,571.8 482.9,574.9 473.9,578.4 465.2,582.2 457,586.4 449.2,591 441.9,595.9 435.1,601.1 428.7,606.7 423,612.5 417.7,618.7 413,625.1 408.9,631.7 405.4,638.6 402.5,645.7 400.1,652.9 398.4,660.4 397.3,668 396.8,675.7 396.9,683.6 397.6,691.5 398.9,699.5 400.9,707.5 403.4,715.6 406.6,723.6 410.3,731.7 414.6,739.7 419.5,747.6 424.9,755.4 430.9,763.1 437.4,770.7 444.4,778.2 451.9,785.5 459.8,792.6 468.2,799.4 477,806.1 486.2,812.5 495.8,818.6 505.7,824.4 516,830 526.5,835.2 537.3,840.1 548.3,844.7 559.5,848.9 570.9,852.8 582.4,856.2 594,859.3 605.7,862 617.5,864.3 629.2,866.2 641,867.6 652.7,868.7 664.2,869.3 675.7,869.5 687.1,869.3 698.2,868.7 709.1,867.6 719.8,866.2 730.3,864.3 740.4,862 750.2,859.3 759.6,856.2 768.7,852.8 777.4,848.9 785.6,844.7 793.4,840.1 800.7,835.2 807.5,830 813.8,824.4 819.6,818.6 824.8,812.5 829.5,806.1 833.6,799.4 837.2,792.6 840.1,785.5 842.4,778.2 844.2,770.7 845.3,763.1 845.8,755.4 845.7,747.6 845,739.7 843.6,731.7 841.7,723.6"/>
<polygon points="818.1,715.6 815.3,708.3 811.9,701 808,693.8 803.6,686.6 798.7,679.6 793.3,672.6 787.4,665.7 781.1,659 774.3,652.4 767.1,646 759.6,639.8 751.6,633.8 743.3,628 734.6,622.5 725.7,617.2 716.4,612.2 706.9,607.5 697.2,603 687.2,598.9 677.1,595.1 666.8,591.6 656.4,588.5 645.9,585.7 635.3,583.3 624.7,581.2 614.1,579.5 603.5,578.2 592.9,577.2 582.5,576.7 572.1,576.5 561.9,576.7 551.8,577.2 541.9,578.2 532.3,579.5 522.8,581.2 513.7,583.3 504.8,585.7 496.3,588.5 488.1,591.6 480.3,595.1 472.8,598.9 465.8,603 459.2,607.5 453,612.2 447.3,617.2 442.1,622.5 437.4,628 433.1,633.8 429.4,639.8 426.2,646 423.6,652.4 421.5,659 419.9,665.7 418.9,672.6 418.4,679.6 418.5,686.6 419.2,693.8 420.4,701 422.2,708.3 424.5,715.6 427.3,722.8 430.7,730.1 434.6,737.3 439,744.5 443.9,751.6 449.3,758.6 455.2,765.4 461.5,772.1 468.2,778.7 475.4,785.1 483,791.3 491,797.3 499.3,803.1 507.9,808.6 516.9,813.9 526.1,818.9 535.6,823.7 545.4,828.1 555.3,832.2 565.5,836 575.8,839.5 586.2,842.6 596.7,845.4 607.2,847.9 617.8,849.9 628.5,851.6 639.1,853 649.6,853.9 660.1,854.5 670.5,854.7 680.7,854.5 690.8,853.9 700.6,853 710.3,851.6 719.7,849.9 728.9,847.9 737.7,845.4 746.3,842.6 754.5,839.5 762.3,836 769.7,832.2 776.8,828.1 783.4,823.7 789.5,818.9 795.2,813.9 800.5,808.6 805.2,803.1 809.4,797.3 813.1,791.3 816.3,785.1 819,778.7 821.1,772.1 822.7,765.4 823.7,758.6 824.1,751.6 824,744.5 823.4,737.3 822.2,730.1 820.4,722.8"/>
<polygon points="794.5,715.6 792,709.2 789.1,702.8 785.6,696.4 781.7,690.1 777.4,683.9 772.7,677.7 767.5,671.7 761.9,665.8 756,660 749.7,654.3 743,648.9 736,643.6 728.7,638.5 721.1,633.6 713.2,629 705,624.6 696.7,620.4 688.1,616.5 679.3,612.9 670.4,609.5 661.4,606.5 652.2,603.7 643,601.3 633.6,599.1 624.3,597.3 615,595.8 605.6,594.6 596.3,593.8 587.1,593.3 578,593.1 569,593.3 560.1,593.8 551.4,594.6 542.9,595.8 534.6,597.3 526.6,599.1 518.8,601.3 511.3,603.7 504.1,606.5 497.2,609.5 490.6,612.9 484.4,616.5 478.6,620.4 473.2,624.6 468.2,629 463.6,633.6 459.4,638.5 455.7,643.6 452.4,648.9 449.6,654.3 447.3,660 445.4,665.8 444,671.7 443.1,677.7 442.7,683.9 442.8,690.1 443.4,696.4 444.5,702.8 446,709.2 448,715.6 450.5,722 453.5,728.4 456.9,734.7 460.8,741 465.1,747.3 469.9,753.4 475.1,759.4 480.6,765.4 486.6,771.2 492.9,776.8 499.6,782.3 506.6,787.5 513.9,792.6 521.5,797.5 529.4,802.1 537.5,806.6 545.9,810.7 554.5,814.6 563.2,818.3 572.2,821.6 581.2,824.7 590.4,827.4 599.6,829.9 608.9,832 618.3,833.8 627.6,835.3 636.9,836.5 646.2,837.3 655.4,837.8 664.6,838 673.6,837.8 682.4,837.3 691.1,836.5 699.6,835.3 707.9,833.8 716,832 723.8,829.9 731.3,827.4 738.5,824.7 745.4,821.6 751.9,818.3 758.1,814.6 764,810.7 769.4,806.6 774.4,802.1 779,797.5 783.2,792.6 786.9,787.5 790.2,782.3 793,776.8 795.3,771.2 797.2,765.4 798.5,759.4 799.4,753.4 799.8,747.3 799.7,741 799.2,734.7 798.1,728.4 796.6,722"/>
<polygon points="767.2,715.6 765.1,710.2 762.6,704.8 759.7,699.4 756.4,694.1 752.8,688.9 748.8,683.7 744.4,678.6 739.7,673.6 734.7,668.8 729.4,664 723.8,659.4 717.9,655 711.7,650.7 705.3,646.6 698.7,642.6 691.8,638.9 684.8,635.4 677.5,632.1 670.2,629.1 662.7,626.3 655,623.7 647.3,621.4 639.5,619.3 631.7,617.5 623.8,616 616,614.7 608.1,613.7 600.3,613 592.5,612.6 584.8,612.4 577.2,612.6 569.8,613 562.4,613.7 555.3,614.7 548.3,616 541.5,617.5 535,619.3 528.6,621.4 522.6,623.7 516.7,626.3 511.2,629.1 506,632.1 501.1,635.4 496.6,638.9 492.3,642.6 488.5,646.6 484.9,650.7 481.8,655 479.1,659.4 476.7,664 474.7,668.8 473.2,673.6 472,678.6 471.2,683.7 470.9,688.9 471,694.1 471.5,699.4 472.4,704.8 473.7,710.2 475.4,715.6 477.5,721 480,726.3 482.9,731.7 486.1,737 489.8,742.3 493.8,747.4 498.1,752.5 502.8,757.5 507.8,762.4 513.2,767.1 518.8,771.7 524.7,776.2 530.8,780.5 537.2,784.6 543.9,788.5 550.7,792.2 557.8,795.7 565,799 572.4,802.1 579.9,804.9 587.5,807.4 595.2,809.8 603,811.8 610.9,813.6 618.7,815.2 626.6,816.4 634.5,817.4 642.3,818.1 650.1,818.5 657.7,818.7 665.3,818.5 672.8,818.1 680.1,817.4 687.3,816.4 694.3,815.2 701,813.6 707.6,811.8 713.9,809.8 720,807.4 725.8,804.9 731.3,802.1 736.5,799 741.4,795.7 746,792.2 750.2,788.5 754.1,784.6 757.6,780.5 760.8,776.2 763.5,771.7 765.9,767.1 767.8,762.4 769.4,757.5 770.6,752.5 771.3,747.4 771.7,742.3 771.6,737 771.1,731.7 770.2,726.3 768.9,721"/>
<polygon points="733.4,715.6 731.8,711.4 729.8,707.3 727.6,703.2 725.1,699.1 722.3,695.1 719.2,691.1 715.9,687.2 712.3,683.3 708.4,679.6 704.4,676 700,672.4 695.5,669 690.8,665.7 685.8,662.6 680.7,659.5 675.5,656.7 670.1,654 664.5,651.5 658.8,649.1 653.1,647 647.2,645 641.3,643.2 635.3,641.6 629.3,640.2 623.2,639 617.2,638.1 611.2,637.3 605.1,636.8 599.2,636.4 593.3,636.3 587.4,636.4 581.7,636.8 576.1,637.3 570.6,638.1 565.2,639 560,640.2 555,641.6 550.1,643.2 545.4,645 541,647 536.7,649.1 532.7,651.5 529,654 525.5,656.7 522.2,659.5 519.2,662.6 516.5,665.7 514.1,669 512,672.4 510.2,676 508.7,679.6 507.5,683.3 506.6,687.2 506,691.1 505.8,695.1 505.8,699.1 506.2,703.2 506.9,707.3 507.9,711.4 509.2,715.6 510.8,719.7 512.7,723.8 514.9,728 517.5,732 520.3,736.1 523.3,740 526.7,744 530.3,747.8 534.1,751.5 538.2,755.2 542.5,758.7 547.1,762.1 551.8,765.4 556.7,768.6 561.8,771.6 567.1,774.4 572.5,777.1 578.1,779.7 583.7,782 589.5,784.2 595.3,786.2 601.3,787.9 607.3,789.5 613.3,790.9 619.3,792.1 625.4,793.1 631.4,793.8 637.4,794.4 643.4,794.7 649.3,794.8 655.1,794.7 660.9,794.4 666.5,793.8 672,793.1 677.4,792.1 682.6,790.9 687.6,789.5 692.5,787.9 697.1,786.2 701.6,784.2 705.8,782 709.8,779.7 713.6,777.1 717.1,774.4 720.4,771.6 723.3,768.6 726,765.4 728.4,762.1 730.6,758.7 732.4,755.2 733.9,751.5 735.1,747.8 736,744 736.6,740 736.8,736.1 736.8,732 736.4,728 735.7,723.8 734.7,719.7"/>
<polygon points="683.3,715.6 682.4,713.3 681.3,711 680.1,708.7 678.7,706.5 677.2,704.2 675.5,702 673.6,699.9 671.6,697.7 669.5,695.7 667.2,693.7 664.8,691.7 662.3,689.8 659.7,688 657,686.3 654.2,684.6 651.3,683 648.3,681.5 645.2,680.1 642.1,678.8 638.9,677.6 635.6,676.5 632.3,675.5 629,674.7 625.7,673.9 622.4,673.2 619,672.7 615.7,672.3 612.4,672 609.1,671.8 605.8,671.8 602.6,671.8 599.4,672 596.3,672.3 593.2,672.7 590.3,673.2 587.4,673.9 584.6,674.7 581.9,675.5 579.3,676.5 576.9,677.6 574.5,678.8 572.3,680.1 570.2,681.5 568.3,683 566.5,684.6 564.8,686.3 563.4,688 562,689.8 560.9,691.7 559.9,693.7 559,695.7 558.4,697.7 557.9,699.9 557.5,702 557.4,704.2 557.4,706.5 557.6,708.7 558,711 558.6,713.3 559.3,715.6 560.2,717.9 561.3,720.1 562.5,722.4 563.9,724.7 565.4,726.9 567.1,729.1 569,731.3 571,733.4 573.1,735.5 575.3,737.5 577.7,739.4 580.2,741.3 582.9,743.1 585.6,744.9 588.4,746.5 591.3,748.1 594.3,749.6 597.4,751 600.5,752.3 603.7,753.5 606.9,754.6 610.2,755.6 613.5,756.5 616.9,757.2 620.2,757.9 623.5,758.4 626.9,758.8 630.2,759.1 633.5,759.3 636.8,759.4 640,759.3 643.2,759.1 646.3,758.8 649.3,758.4 652.3,757.9 655.2,757.2 658,756.5 660.6,755.6 663.2,754.6 665.7,753.5 668,752.3 670.3,751 672.3,749.6 674.3,748.1 676.1,746.5 677.7,744.9 679.2,743.1 680.5,741.3 681.7,739.4 682.7,737.5 683.5,735.5 684.2,733.4 684.7,731.3 685,729.1 685.2,726.9 685.1,724.7 684.9,722.4 684.6,720.1 684,717.9"/>
</g>
<rect x="444.0" y="602.3" width="213.0" height="210.1" fill="none" stroke="#1a2030" stroke-width="0.7" stroke-opacity="0.8"/>
<text x="444" y="827.2" font-size="6.4" text-anchor="middle" font-weight="bold">2.50</text>
<text x="497.2" y="827.2" font-size="6.4" text-anchor="middle" font-weight="bold">3.00</text>
<text x="550.5" y="827.2" font-size="6.4" text-anchor="middle" font-weight="bold">3.50</text>
<text x="603.8" y="827.2" font-size="6.4" text-anchor="middle" font-weight="bold">4.00</text>
<text x="657" y="827.2" font-size="6.4" text-anchor="middle" font-weight="bold">4.50</text>
<text x="435" y="814.7" font-size="6.4" text-anchor="end" font-weight="bold">4.50</text>
<text x="435" y="762.2" font-size="6.4" text-anchor="end" font-weight="bold">7.50</text>
<text x="435" y="709.6" font-size="6.4" text-anchor="end" font-weight="bold">10.50</text>
<text x="435" y="657.1" font-size="6.4" text-anchor="end" font-weight="bold">13.50</text>
<text x="435" y="604.6" font-size="6.4" text-anchor="end" font-weight="bold">16.50</text>
<path d="M444.0 812.4v4M497.2 812.4v4M550.5 812.4v4M603.8 812.4v4M657.0 812.4v4M444.0 812.4h-6M444.0 759.9h-6M444.0 707.3h-6M444.0 654.8h-6M444.0 602.3h-6" stroke="#6040a0" stroke-width="1" stroke-opacity="0.75" fill="none"/>
<text x="516.5" y="597.4" font-size="12" textLength="68" lengthAdjust="spacingAndGlyphs" style="white-space:pre" stroke="#111" stroke-width="0.35">GABA  (g/L)</text>
<text x="496.9" y="854.6" font-size="8" font-weight="bold" textLength="107.6" lengthAdjust="spacingAndGlyphs" fill="#222">B: Tunacondensate (% w/v)</text>
<text transform="translate(407 707.6) rotate(-90)" font-size="8" text-anchor="middle" font-weight="bold" textLength="65" lengthAdjust="spacingAndGlyphs" fill="#222">C: MSG (% w/v)</text>
<circle cx="549.6" cy="707.6" r="1.6" fill="#401010" stroke="#000" stroke-width="0.8"/>
<text x="547.3" y="709.3" font-size="6.8" text-anchor="end" font-weight="bold">6</text>
<rect x="554.0" y="699.5" width="10.0" height="8" fill="#fff" stroke="#20b0c0" stroke-width="0.6" rx="1"/>
<text x="559" y="706" font-size="6.8" text-anchor="middle" font-weight="bold" fill="#20b0c0">16</text>
<rect x="502.0" y="699.5" width="10.0" height="8" fill="#fff" stroke="#2060c0" stroke-width="0.6" rx="1"/>
<text x="507" y="706" font-size="6.8" text-anchor="middle" font-weight="bold" fill="#2060c0">14</text>
<rect x="467.5" y="668.0" width="10.0" height="8" fill="#fff" stroke="#3030c0" stroke-width="0.6" rx="1"/>
<text x="472.5" y="674.5" font-size="6.8" text-anchor="middle" font-weight="bold" fill="#3030c0">12</text>
<rect x="465.5" y="619.5" width="10.0" height="8" fill="#fff" stroke="#7020a0" stroke-width="0.6" rx="1"/>
<text x="470.5" y="626" font-size="6.8" text-anchor="middle" font-weight="bold" fill="#7020a0">10</text>
<rect x="481.0" y="763.0" width="10.0" height="8" fill="#fff" stroke="#7020a0" stroke-width="0.6" rx="1"/>
<text x="486" y="769.5" font-size="6.8" text-anchor="middle" font-weight="bold" fill="#7020a0">10</text>
<rect x="451.9" y="603.5" width="6.2" height="8" fill="#fff" stroke="#a020a0" stroke-width="0.6" rx="1"/>
<text x="455" y="610" font-size="6.8" text-anchor="middle" font-weight="bold" fill="#a020a0">8</text>
<rect x="472.4" y="778.0" width="6.2" height="8" fill="#fff" stroke="#c02090" stroke-width="0.6" rx="1"/>
<text x="475.5" y="784.5" font-size="6.8" text-anchor="middle" font-weight="bold" fill="#c02090">8</text>
<rect x="460.9" y="789.0" width="6.2" height="8" fill="#fff" stroke="#d02060" stroke-width="0.6" rx="1"/>
<text x="464" y="795.5" font-size="6.8" text-anchor="middle" font-weight="bold" fill="#d02060">6</text>
<rect x="451.9" y="799.0" width="6.2" height="8" fill="#fff" stroke="#d02040" stroke-width="0.6" rx="1"/>
<text x="455" y="805.5" font-size="6.8" text-anchor="middle" font-weight="bold" fill="#d02040">4</text>
</svg></body></html>
